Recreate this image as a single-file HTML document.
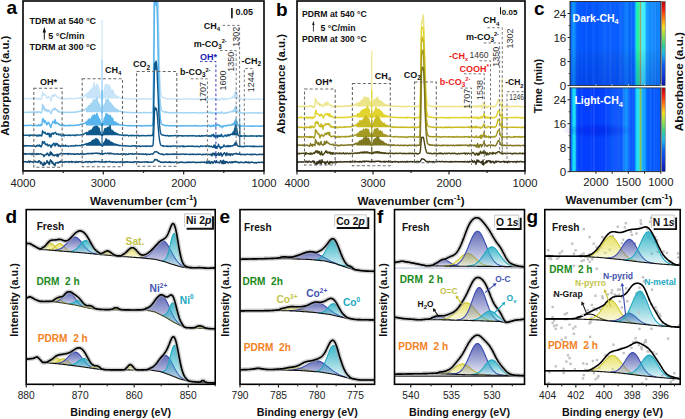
<!DOCTYPE html>
<html><head><meta charset="utf-8"><title>Figure</title>
<style>html,body{margin:0;padding:0;background:#fff;}body{width:685px;height:419px;overflow:hidden;}svg{display:block;}</style>
</head><body>
<svg width="685" height="419" viewBox="0 0 685 419" font-family="'Liberation Sans', sans-serif">
<rect width="685" height="419" fill="#fff"/>
<clipPath id="ca"><rect x="23" y="1" width="241" height="169.9"/></clipPath>
<g clip-path="url(#ca)">
<path d="M86 94.6l.5 0 .5-1.1 .5 .2 .5-1.2 .5 1.6 .5-1.5 .5 .2 .5-3 .5 .1 .5 .8 .5-.4 .5-2 .5 1.1 .5-.3 .5-2.7 .5-4 .5 4.3 .5-.1 .5 1.1 .5 .2 .5-3.4 .5-.4 .5 1.9 .5 0 .5 1.2 .5 1.5 .5 3.8 .5 .6 .5 1 .5 2.7 .5 1.6 .5 .3 .5 0 .5-2.2 .5-2 .5-2.3 .5-3.3 .5-1.4 .5-3 .5 5.8 .5-5.9 .5 2.5 .5-.9 .5-1.1 .5 .2 .5 .5 .5 2.2 .5-1.3 .5 3.6 .5 .2 .5-.3 .5 2 .5-2 .5 2 .5-.4 .5 2.4 .5 .7 .5 .3 .5 .2 .5 .5 .5 .4 .5 .2 .5-.2 .5 .9 .5-.1 .5 .4 L119.0 98.6 L86.0 98.6 Z" fill="#c8e4f8" stroke="none"/>
<path d="M232 97.6l.5-.8 .5-.5 .5-.6 .5-.8 .5-.8 .5-.9 .5-1.6 .5-1.4 .5 1.6 .5 2.6 .5 2.8 .5 .9 .5 .9 .5 0 .5 .1 .5-.1 .5 .4 .5-.2 .5 .4 .5-.5 L242.0 98.6 L232.0 98.6 Z" fill="#c8e4f8" stroke="none"/>
<path d="M23 98.5l.5 .3 .5-.1 .5 .1 .5-.4 .5 .3 .5-.3 .5 .3 .5-.1 .5-.2 .5 .2 .5 .2 .5-.1 .5 0 .5-.2 .5 0 .5-.1 .5 .3 .5 .2 .5-.2 .5-.1 .5-.2 .5 .3 .5-.1 .5-.5 .5 0 .5 .4 .5-.1 .5 .8 .5-.5 .5-.4 .5 .2 .5 .8 .5-1 .5 .7 .5-.2 .5 .5 .5-.6 .5-1.4 .5-5.4 .5 1.5 .5 1.8 .5-1.2 .5 .9 .5 0 .5 .7 .5-.3 .5 2 .5 .9 .5-.3 .5-.5 .5-.9 .5 .3 .5 .9 .5 .7 .5 1.5 .5 1 .5-2.3 .5-3.5 .5 1.6 .5-1.1 .5 .8 .5-2 .5 1.6 .5-1 .5 .2 .5-.2 .5 1.3 .5 .4 .5 .5 .5 .3 .5 .2 .5-.3 .5 .5 .5 .8 .5-.3 .5 .3 .5-.4 .5 .1 .5 .2 .5 .1 .5-.1 .5 .1 .5 .2 .5 .1 .5-.3 .5 .1 .5 .1 .5-.4 .5-.1 .5 .6 .5-.1 .5-.2 .5 0 .5-.2 .5-.1 .5 .3 .5-.4 .5 .4 .5-.2 .5 .1 .5 .2 .5 0 .5-.4 .5 .2 .5-.4 .5 .1 .5 0 .5 .1 .5-.5 .5 .1 .5-.1 .5 .1 .5-.1 .5 .1 .5-.5 .5 .5 .5-.8 .5-.4 .5 .7 .5-.2 .5-.3 .5-.5 .5-.7 .5-.9 .5 .6 .5-.9 .5 0 .5-1.1 .5 .2 .5-1.2 .5 1.6 .5-1.5 .5 .2 .5-3 .5 .1 .5 .8 .5-.4 .5-2 .5 1.1 .5-.3 .5-2.7 .5-4 .5 4.3 .5-.1 .5 1.1 .5 .2 .5-3.4 .5-.4 .5 1.9 .5 0 .5 1.2 .5 1.5 .5 3.8 .5 .6 .5 1 .5 2.7 .5 1.6 .5 .3 .5 0 .5-2.2 .5-2 .5-2.3 .5-3.3 .5-1.4 .5-3 .5 5.8 .5-5.9 .5 2.5 .5-.9 .5-1.1 .5 .2 .5 .5 .5 2.2 .5-1.3 .5 3.6 .5 .2 .5-.3 .5 2 .5-2 .5 2 .5-.4 .5 2.4 .5 .7 .5 .3 .5 .2 .5 .5 .5 .4 .5 .2 .5-.2 .5 .9 .5-.1 .5 .4 .5 .3 .5 0 .5 .4 .5 0 .5 0 .5 .2 .5-.1 .5-.2 .5 .5 .5 .1 .5 .1 .5 .2 .5-.2 .5 .1 .5-.4 .5 .5 .5-.1 .5 0 .5 .2 .5-.3 .5 .1 .5 .4 .5-.2 .5 .1 .5 0 .5 0 .5-.1 .5 .3 .5-.3 .5 .1 .5-.1 .5 0 .5-.3 .5 0 .5 .5 .5 0 .5-.2 .5 0 .5 .1 .5-.2 .5 .4 .5-.4 .5 0 .5-.2 .5 .6 .5-.2 .5 .2 .5-.4 .5 .2 .5 0 .5 0 .5 .2 .5 .1 .5-.1 .5-.3 .5 .2 .5 .1 .5-.2 .5 0 .5 0 .5-.2 .5 .2 .5 .2 .5-.4 .5 .2 .5 .1 .5-.8 .5-4.7 .5-30.5 .5-70.5 .5-70.7 .5-11 .5-4.2 .5 6.5 .5 6.7 .5 4.4 .5 30.8 .5 35 .5 31.5 .5 27 .5 20.2 .5 13.2 .5 8.5 .5 3.3 .5 2.3 .5 .7 .5 .6 .5 .3 .5 .1 .5 .4 .5 .1 .5-.1 .5 .3 .5 .1 .5 0 .5 .1 .5 .4 .5-.3 .5 .1 .5-.1 .5 .3 .5-.2 .5-.1 .5 0 .5 .2 .5 .1 .5-.3 .5 .1 .5 .2 .5 .1 .5-.4 .5 .2 .5 .1 .5-.1 .5 0 .5 0 .5-.1 .5 .2 .5 0 .5-.2 .5 .2 .5 .1 .5-.1 .5 .1 .5-.2 .5 .3 .5-.3 .5 .3 .5-.3 .5 0 .5-.1 .5 .1 .5 0 .5 0 .5 0 .5 .2 .5 0 .5-.2 .5 .3 .5-.4 .5 0 .5 0 .5 .3 .5-.3 .5 0 .5 .4 .5 0 .5 0 .5-.4 .5 .2 .5 .1 .5-.1 .5-.2 .5 .2 .5-.2 .5 0 .5 .5 .5-.2 .5-.3 .5 0 .5 .3 .5-.2 .5 .2 .5-.2 .5 .1 .5 .1 .5-.3 .5-.1 .5 .1 .5 .1 .5 .1 .5 0 .5 0 .5 .2 .5-.4 .5 .6 .5 .2 .5-.5 .5 0 .5 .3 .5-.1 .5-.2 .5-.1 .5-.3 .5-.2 .5 .8 .5 .3 .5-1.1 .5 .5 .5 .2 .5-.4 .5-.2 .5 .2 .5-.9 .5 1.1 .5-.1 .5 1.5 .5-.8 .5-.8 .5 .2 .5 1.1 .5 0 .5-.9 .5-.2 .5-.8 .5 .6 .5 .1 .5-.3 .5 1.4 .5-2 .5 .9 .5 .3 .5 0 .5 .5 .5-1.4 .5 .3 .5 .2 .5 0 .5-.3 .5-.2 .5 .5 .5-.8 .5 0 .5 .3 .5-.2 .5-.6 .5-.8 .5-.5 .5-.6 .5-.8 .5-.8 .5-.9 .5-1.6 .5-1.4 .5 1.6 .5 2.6 .5 2.8 .5 .9 .5 .9 .5 0 .5 .1 .5-.1 .5 .4 .5-.2 .5 .4 .5-.5 .5 0 .5 .2 .5 0 .5-.1 .5-.2 .5 .4 .5-.1 .5 0 .5-.1 .5 .1 .5-.1 .5 .1 .5-.1 .5 .2 .5-.2 .5 0 .5 .2 .5-.1 .5 0 .5-.1 .5 .2 .5-.2 .5 .1 .5 .2 .5-.2 .5-.1 .5-.1 .5 .2 .5-.2 .5-.1 .5 .2 .5-.1 .5 .3 .5-.3 .5 .4 .5-.3 .5 .1 .5 .1 .5-.1 .5 .1 .5-.3 .5-.1 .5 .3 .5-.2" fill="none" stroke="#c8e4f8" stroke-width="1.4" stroke-linejoin="round"/>
<line x1="102.05" y1="98.60" x2="102.05" y2="20.00" stroke="#c8e4f8" stroke-width="1.1"/>
<line x1="239.74" y1="99.60" x2="239.74" y2="95.60" stroke="#c8e4f8" stroke-width="1.1"/>
<path d="M86 108.9l.5 .4 .5-1.7 .5 .2 .5 .3 .5-2.4 .5 2.1 .5-2.1 .5 .4 .5-1.5 .5-1 .5 1 .5-1.4 .5-.6 .5 .7 .5-3.8 .5 .8 .5 .3 .5 .3 .5-.9 .5-.7 .5 .8 .5-2.7 .5 7.1 .5-.1 .5-2.3 .5 3.5 .5-1 .5 2.3 .5 1.3 .5 1.9 .5 2 .5 .7 .5-.5 .5-2 .5-2.5 .5-2.3 .5-.5 .5-1.1 .5-.6 .5-3.5 .5 4.6 .5-4.4 .5 1.5 .5-2.3 .5 1 .5 2.5 .5-.5 .5 3.6 .5-2.9 .5 .6 .5 3.4 .5-2.3 .5 1.8 .5-.1 .5 1.7 .5-.7 .5 .7 .5 .5 .5 1 .5-.5 .5 0 .5 .8 .5-.1 .5 1.1 .5 0 .5 .3 L119.0 112.3 L86.0 112.3 Z" fill="#a2d4f4" stroke="none"/>
<path d="M232 111.7l.5-.3 .5-.5 .5-.6 .5-.2 .5-1 .5-1 .5-1 .5-1.2 .5 1.4 .5 2.1 .5 1.9 .5 1 .5 .4 .5 .3 .5 .1 .5-.3 .5 0 .5 0 .5 .3 .5-.2 L242.0 112.3 L232.0 112.3 Z" fill="#a2d4f4" stroke="none"/>
<path d="M23 112.5l.5-.2 .5 0 .5 .3 .5-.1 .5-.2 .5 0 .5-.2 .5 .2 .5 .3 .5-.5 .5 0 .5 .3 .5-.5 .5 .7 .5-.6 .5 .2 .5 .1 .5 .3 .5-.2 .5-.5 .5 0 .5 .5 .5-.7 .5 .6 .5-.2 .5 .5 .5 .2 .5-1.4 .5 1.1 .5 .1 .5-.6 .5 .1 .5-.3 .5 .4 .5 .3 .5 .5 .5-.2 .5-1.9 .5-6.8 .5 5 .5-3.5 .5 1.5 .5 1.9 .5 1.7 .5-1.8 .5 1.1 .5-.4 .5 2.1 .5-.4 .5-1.3 .5 1.2 .5-.7 .5 .3 .5 1.4 .5 1.1 .5 .3 .5-1.1 .5-2.5 .5 .5 .5-.9 .5-.6 .5-.4 .5 1.2 .5-1.8 .5 1.3 .5 .5 .5-.4 .5 .9 .5-.4 .5 1.4 .5 .8 .5-.9 .5 .7 .5 0 .5 .2 .5 .5 .5-.7 .5-.4 .5 .7 .5-.4 .5 1.1 .5-.7 .5 .1 .5 .2 .5-.1 .5-.1 .5 .1 .5 .2 .5-.3 .5 .4 .5-.3 .5-.5 .5 .6 .5-.5 .5 .4 .5 .3 .5-.2 .5-.4 .5 0 .5 .2 .5 .2 .5-.4 .5 .2 .5-.1 .5-.2 .5-.1 .5 .2 .5-.4 .5-.1 .5 .3 .5-.1 .5-.4 .5-.1 .5-.1 .5 .2 .5-.2 .5 0 .5-.3 .5-.4 .5 0 .5-.3 .5-.4 .5 .4 .5-.5 .5-.5 .5-.3 .5 .4 .5-1.7 .5 .2 .5 .3 .5-2.4 .5 2.1 .5-2.1 .5 .4 .5-1.5 .5-1 .5 1 .5-1.4 .5-.6 .5 .7 .5-3.8 .5 .8 .5 .3 .5 .3 .5-.9 .5-.7 .5 .8 .5-2.7 .5 7.1 .5-.1 .5-2.3 .5 3.5 .5-1 .5 2.3 .5 1.3 .5 1.9 .5 2 .5 .7 .5-.5 .5-2 .5-2.5 .5-2.3 .5-.5 .5-1.1 .5-.6 .5-3.5 .5 4.6 .5-4.4 .5 1.5 .5-2.3 .5 1 .5 2.5 .5-.5 .5 3.6 .5-2.9 .5 .6 .5 3.4 .5-2.3 .5 1.8 .5-.1 .5 1.7 .5-.7 .5 .7 .5 .5 .5 1 .5-.5 .5 0 .5 .8 .5-.1 .5 1.1 .5 0 .5 .3 .5-.1 .5-.2 .5 .4 .5 .3 .5 .3 .5 .6 .5-.6 .5 .1 .5 .4 .5-.2 .5 .3 .5-.2 .5 .1 .5 .1 .5-.1 .5-.1 .5 .4 .5-.2 .5 0 .5 0 .5 .2 .5-.2 .5 .2 .5 .1 .5-.2 .5 .2 .5-.3 .5 .3 .5 0 .5 .2 .5-.3 .5 .1 .5-.1 .5-.1 .5 0 .5 0 .5 .2 .5-.2 .5 .1 .5 .2 .5 0 .5 0 .5 .1 .5-.4 .5 .1 .5 .1 .5 .1 .5-.1 .5-.2 .5 .1 .5-.2 .5 .4 .5-.4 .5 .3 .5 .1 .5 0 .5-.4 .5 .3 .5-.1 .5 0 .5 .3 .5-.2 .5-.2 .5 0 .5 .3 .5-.1 .5-.6 .5-4.7 .5-25.9 .5-71 .5-67.3 .5-5.3 .5 8 .5 .7 .5-4.2 .5 15.1 .5 20.4 .5 31.5 .5 28.6 .5 27.8 .5 17.8 .5 13.8 .5 6.8 .5 4.1 .5 1.5 .5 .8 .5 .2 .5 .8 .5 .2 .5-.1 .5 .5 .5-.5 .5 .5 .5-.2 .5 .8 .5-.8 .5 .3 .5 .1 .5 .3 .5 0 .5 0 .5-.1 .5 .4 .5-.5 .5 .2 .5 .2 .5-.4 .5 .1 .5 .3 .5-.1 .5-.3 .5 .2 .5 .3 .5-.3 .5 .1 .5-.1 .5-.1 .5 .4 .5-.1 .5 0 .5-.2 .5 .1 .5 0 .5 0 .5-.1 .5 0 .5 .2 .5-.3 .5 .1 .5 0 .5 0 .5-.1 .5 0 .5 .3 .5-.2 .5-.1 .5 .4 .5-.4 .5 .3 .5-.1 .5-.2 .5 .1 .5 0 .5 .3 .5-.1 .5-.2 .5-.1 .5-.1 .5 .3 .5-.2 .5 .2 .5 0 .5 0 .5 .1 .5-.1 .5 .1 .5-.1 .5 .2 .5-.1 .5 .2 .5-.1 .5-.3 .5-.2 .5 .4 .5 .1 .5-.3 .5 .4 .5-.3 .5 0 .5 .1 .5-.4 .5-.1 .5 .3 .5-.2 .5 .3 .5 0 .5-.8 .5 .5 .5 .5 .5-1 .5 .7 .5-.4 .5-.3 .5 1.3 .5 0 .5-.7 .5-.1 .5 1 .5-.1 .5-.6 .5 .5 .5-.5 .5-.2 .5 .6 .5-.7 .5 .7 .5-.6 .5-.1 .5-.1 .5 .7 .5 .3 .5-.3 .5-.9 .5 1 .5-1 .5-.2 .5 .6 .5 .7 .5-.1 .5-.1 .5 .4 .5-.3 .5-.7 .5 .6 .5-.5 .5 .2 .5 .1 .5-.3 .5-.6 .5 .4 .5-.1 .5-.1 .5-.2 .5-.4 .5-.3 .5 .4 .5-.3 .5-.5 .5-.6 .5-.2 .5-1 .5-1 .5-1 .5-1.2 .5 1.4 .5 2.1 .5 1.9 .5 1 .5 .4 .5 .3 .5 .1 .5-.3 .5 0 .5 0 .5 .3 .5-.2 .5 .2 .5-.3 .5 .3 .5-.3 .5 .1 .5 .1 .5-.1 .5 0 .5 .2 .5-.2 .5 .2 .5 .2 .5-.4 .5 0 .5-.2 .5 .1 .5 .2 .5 0 .5 0 .5 0 .5-.2 .5-.1 .5 .4 .5-.1 .5 .1 .5-.1 .5 .1 .5-.2 .5 .1 .5-.1 .5 .1 .5 .2 .5-.1 .5-.6 .5 .5 .5 0 .5 .1 .5-.1 .5-.1 .5 0 .5 0 .5 0 .5 .3 .5-.1" fill="none" stroke="#a2d4f4" stroke-width="1.4" stroke-linejoin="round"/>
<line x1="102.05" y1="112.30" x2="102.05" y2="60.00" stroke="#a2d4f4" stroke-width="1.1"/>
<line x1="239.74" y1="113.30" x2="239.74" y2="104.30" stroke="#a2d4f4" stroke-width="1.1"/>
<path d="M86 122.1l.5 .5 .5-1 .5-.1 .5-1.5 .5 .6 .5-1 .5-.9 .5 1.4 .5-.8 .5 .3 .5-.9 .5-2 .5 .3 .5-1.6 .5 .7 .5 0 .5-1.3 .5 .9 .5 .2 .5 .6 .5-2.4 .5-.6 .5 2.9 .5-.3 .5 3.1 .5-.4 .5-.1 .5 2.8 .5 .3 .5 2.2 .5 1.3 .5 .3 .5 0 .5-1.7 .5-2.3 .5-1.2 .5-2.4 .5-.5 .5-1 .5-3 .5 1.4 .5 1.3 .5-2 .5 1 .5 1 .5-1 .5 5 .5-3.6 .5-.9 .5 2.4 .5 2.4 .5-2.5 .5 .2 .5 1.7 .5 1.9 .5 0 .5 .4 .5-.1 .5-.1 .5 .4 .5 1.7 .5-.5 .5 .1 .5-.3 .5 1.1 .5 .2 L119.0 125.4 L86.0 125.4 Z" fill="#58b4ec" stroke="none"/>
<path d="M232 124l.5 .2 .5-.1 .5-.7 .5-.5 .5-.8 .5-1 .5-1 .5-1 .5 1.3 .5 1.9 .5 1.9 .5 .7 .5 1 .5-.1 .5 .1 .5 .3 .5-.2 .5 .1 .5-.2 .5 .2 L242.0 125.4 L232.0 125.4 Z" fill="#58b4ec" stroke="none"/>
<path d="M23 125.5l.5-.1 .5 .1 .5-.1 .5 .1 .5-.2 .5 .2 .5 .1 .5-.2 .5 .1 .5-.2 .5 .3 .5-.2 .5-.1 .5 .1 .5-.1 .5 .1 .5-.1 .5 .6 .5-.2 .5-.1 .5 0 .5-.2 .5 .3 .5-.3 .5 0 .5-.2 .5 .7 .5 0 .5 0 .5 0 .5-1.5 .5 1.1 .5 .4 .5-.2 .5-1.1 .5 1 .5-.1 .5-1.8 .5-4.7 .5 1.5 .5-1.7 .5 3.3 .5 .6 .5-1.9 .5 1 .5 .3 .5 2.6 .5-.5 .5 .2 .5-2.2 .5 .2 .5 .3 .5 1.8 .5 .9 .5 1.7 .5 .3 .5-3.1 .5-.2 .5-1.5 .5-1.4 .5 .8 .5 .7 .5 .5 .5-3.7 .5 2 .5 2.3 .5-1.1 .5-.2 .5 .4 .5 .5 .5 1.1 .5-.7 .5 1.3 .5 0 .5-.1 .5 .4 .5-.2 .5 .7 .5-.4 .5-.6 .5 .3 .5 .8 .5-.7 .5 .3 .5-.3 .5 .5 .5-.1 .5 0 .5-.3 .5 0 .5 .4 .5-.4 .5-.4 .5 .8 .5-.2 .5-.4 .5 .2 .5 .1 .5-.1 .5 .3 .5-.1 .5-.4 .5 0 .5 .2 .5 0 .5-.3 .5 .2 .5-.3 .5 .2 .5-.5 .5 .3 .5 .1 .5-.1 .5-.5 .5-.6 .5 .5 .5-.1 .5 0 .5-.5 .5-.2 .5 .3 .5-.6 .5 .1 .5-.1 .5-.2 .5-1 .5 .5 .5-1 .5-.1 .5-1.5 .5 .6 .5-1 .5-.9 .5 1.4 .5-.8 .5 .3 .5-.9 .5-2 .5 .3 .5-1.6 .5 .7 .5 0 .5-1.3 .5 .9 .5 .2 .5 .6 .5-2.4 .5-.6 .5 2.9 .5-.3 .5 3.1 .5-.4 .5-.1 .5 2.8 .5 .3 .5 2.2 .5 1.3 .5 .3 .5 0 .5-1.7 .5-2.3 .5-1.2 .5-2.4 .5-.5 .5-1 .5-3 .5 1.4 .5 1.3 .5-2 .5 1 .5 1 .5-1 .5 5 .5-3.6 .5-.9 .5 2.4 .5 2.4 .5-2.5 .5 .2 .5 1.7 .5 1.9 .5 0 .5 .4 .5-.1 .5-.1 .5 .4 .5 1.7 .5-.5 .5 .1 .5-.3 .5 1.1 .5 .2 .5 0 .5-.1 .5 .4 .5-.1 .5 0 .5 .3 .5-.1 .5 .4 .5-.4 .5 .1 .5 .2 .5 0 .5 0 .5 .1 .5 .3 .5-.3 .5 .3 .5 0 .5-.1 .5-.1 .5 .3 .5-.7 .5 .4 .5 .1 .5 .1 .5-.1 .5 .2 .5-.1 .5 .1 .5-.3 .5 .2 .5 .2 .5-.4 .5 .2 .5-.3 .5 .3 .5-.2 .5 .3 .5-.3 .5 .2 .5-.2 .5 .2 .5 0 .5 .3 .5-.3 .5 0 .5 .3 .5-.2 .5-.3 .5 .3 .5-.1 .5 .1 .5 0 .5-.4 .5 .2 .5 .4 .5-.2 .5-.3 .5 .1 .5 0 .5-.1 .5-.4 .5 .7 .5-.3 .5 .1 .5-.1 .5-.2 .5-3.4 .5-21 .5-53.3 .5-42.6 .5-7.5 .5 7.7 .5-12 .5 5 .5 8.9 .5 15.4 .5 28.5 .5 18.2 .5 21.5 .5 14.7 .5 8.3 .5 5.7 .5 3.2 .5 .9 .5 .7 .5 .3 .5 .4 .5-.1 .5 .4 .5-.1 .5 .5 .5-.3 .5 .1 .5 .2 .5 0 .5-.3 .5 .3 .5 .1 .5 0 .5-.1 .5 .3 .5 0 .5-.3 .5-.1 .5 .2 .5 .1 .5 .1 .5-.4 .5 .1 .5-.2 .5 .2 .5 .3 .5 .2 .5-.2 .5-.2 .5 0 .5 .4 .5-.1 .5-.2 .5-.1 .5-.1 .5 .2 .5 .3 .5-.4 .5 0 .5 .1 .5-.1 .5 .2 .5-.3 .5 .2 .5-.1 .5 .2 .5-.1 .5-.1 .5 0 .5 .1 .5 .2 .5-.1 .5-.1 .5-.2 .5-.1 .5 0 .5 .2 .5 .2 .5-.1 .5 .2 .5-.4 .5 .2 .5-.1 .5-.1 .5-.2 .5 .3 .5 .3 .5-.5 .5 .4 .5 .1 .5-.2 .5 .1 .5-.1 .5 0 .5 .3 .5-.1 .5 0 .5-.1 .5-.1 .5 .1 .5-.4 .5 .1 .5 .2 .5-.4 .5 .4 .5 0 .5 0 .5 0 .5-.2 .5 .9 .5-1.4 .5 .4 .5-.4 .5 .8 .5 .3 .5 .4 .5-1.2 .5 .7 .5-.8 .5 .5 .5 .4 .5-1.3 .5 .8 .5-.3 .5 .6 .5 .4 .5-1.7 .5 1 .5-.9 .5-.7 .5 .9 .5 .3 .5-.4 .5 0 .5 1.9 .5-.9 .5 .7 .5 .2 .5-.9 .5 1.7 .5-1.5 .5-.2 .5-.6 .5 .3 .5 .4 .5-.2 .5 .1 .5 0 .5-.9 .5 .3 .5 .1 .5-.1 .5-.4 .5 .4 .5-.3 .5 .5 .5-.8 .5 .1 .5-.9 .5 .2 .5-.1 .5-.7 .5-.5 .5-.8 .5-1 .5-1 .5-1 .5 1.3 .5 1.9 .5 1.9 .5 .7 .5 1 .5-.1 .5 .1 .5 .3 .5-.2 .5 .1 .5-.2 .5 .2 .5-.1 .5 .1 .5-.1 .5 .3 .5-.5 .5 .3 .5 0 .5 .1 .5-.1 .5-.1 .5 .1 .5 .2 .5-.1 .5-.2 .5 .1 .5-.1 .5 .3 .5-.3 .5 .3 .5 0 .5-.3 .5 .4 .5-.4 .5 0 .5 .2 .5-.2 .5 .1 .5-.2 .5 .1 .5 .1 .5-.2 .5 .3 .5 0 .5-.1 .5 .1 .5 0 .5-.2 .5 .2 .5-.1 .5-.1 .5 .2 .5-.3 .5-.3 .5 .6" fill="none" stroke="#58b4ec" stroke-width="1.4" stroke-linejoin="round"/>
<line x1="102.05" y1="125.40" x2="102.05" y2="90.00" stroke="#58b4ec" stroke-width="1.1"/>
<line x1="239.74" y1="126.40" x2="239.74" y2="117.40" stroke="#58b4ec" stroke-width="1.1"/>
<path d="M86 133.1l.5-.7 .5 1.1 .5-.8 .5-.4 .5 1.2 .5-2.3 .5-.3 .5-.2 .5 .2 .5-.7 .5 1 .5-1.5 .5-.4 .5-1.4 .5-.1 .5-.9 .5-.1 .5 2.5 .5-1.4 .5-1.9 .5 1.5 .5-.4 .5-.7 .5 2.2 .5-.2 .5-.5 .5 2.6 .5 1.2 .5 1 .5 1.4 .5 1.3 .5 0 .5 .1 .5-1.2 .5-2 .5-.4 .5-1.9 .5-1.4 .5-.2 .5 1 .5 1 .5-2.1 .5-1 .5 1.7 .5-.7 .5-1.3 .5 2.7 .5-4.3 .5 3.6 .5 1.7 .5-.4 .5 .6 .5-.4 .5 1.8 .5-.6 .5 1.1 .5 0 .5-.3 .5 .5 .5 .1 .5 .5 .5 0 .5 .8 .5-.4 .5 .5 .5 .2 L119.0 135.3 L86.0 135.3 Z" fill="#0e5a8c" stroke="none"/>
<path d="M232 133.7l.5-.2 .5-1.3 .5 0 .5-1.2 .5-.7 .5-2.3 .5-2 .5-1 .5 1.6 .5 3.7 .5 2.5 .5 2.3 .5 .6 .5 .3 .5-.1 .5-.2 .5 .5 .5 0 .5 .1 .5-.5 L242.0 135.3 L232.0 135.3 Z" fill="#0e5a8c" stroke="none"/>
<path d="M23 135.1l.5-.3 .5 .6 .5 0 .5 0 .5 0 .5-.2 .5 .2 .5-.3 .5 0 .5 .1 .5 .4 .5-.6 .5 1.1 .5-1 .5-.2 .5 .5 .5-.3 .5 .4 .5 .1 .5-.6 .5 .5 .5-.4 .5 .3 .5-.3 .5 .2 .5 .1 .5 .5 .5-.8 .5 .6 .5 .4 .5-1.2 .5 1 .5-.8 .5 .4 .5 .1 .5-.5 .5 1 .5-.7 .5-4.7 .5 1 .5 .4 .5 1 .5-.3 .5-.7 .5 1.3 .5 .6 .5 .1 .5 .3 .5-1.2 .5 1.3 .5-.9 .5-.4 .5 3.6 .5-2.7 .5 .5 .5 2.2 .5-3.3 .5 .2 .5-.6 .5-.1 .5 1.4 .5-.7 .5-.7 .5-.2 .5-.5 .5 1 .5 1.1 .5-.6 .5 .4 .5 .3 .5-.4 .5 1 .5-.5 .5-.5 .5 .2 .5 1.1 .5 .6 .5-.5 .5 .2 .5-.8 .5-.6 .5 1.7 .5-.3 .5-.8 .5 .5 .5 0 .5-.1 .5-.2 .5 .4 .5 0 .5-.5 .5 .4 .5-.4 .5 .5 .5-.2 .5 .2 .5-.1 .5-.4 .5 0 .5 .3 .5 .1 .5 .1 .5-.5 .5 .2 .5 .5 .5-.5 .5-.3 .5-.2 .5 .4 .5 0 .5-.2 .5 .2 .5 0 .5-.1 .5-.2 .5 0 .5-.2 .5 0 .5-.6 .5 .8 .5-.3 .5-.6 .5-.2 .5-.4 .5-.1 .5-.1 .5-.7 .5 1.1 .5-.8 .5-.4 .5 1.2 .5-2.3 .5-.3 .5-.2 .5 .2 .5-.7 .5 1 .5-1.5 .5-.4 .5-1.4 .5-.1 .5-.9 .5-.1 .5 2.5 .5-1.4 .5-1.9 .5 1.5 .5-.4 .5-.7 .5 2.2 .5-.2 .5-.5 .5 2.6 .5 1.2 .5 1 .5 1.4 .5 1.3 .5 0 .5 .1 .5-1.2 .5-2 .5-.4 .5-1.9 .5-1.4 .5-.2 .5 1 .5 1 .5-2.1 .5-1 .5 1.7 .5-.7 .5-1.3 .5 2.7 .5-4.3 .5 3.6 .5 1.7 .5-.4 .5 .6 .5-.4 .5 1.8 .5-.6 .5 1.1 .5 0 .5-.3 .5 .5 .5 .1 .5 .5 .5 0 .5 .8 .5-.4 .5 .5 .5 .2 .5 .3 .5-.2 .5 .1 .5 .1 .5 .3 .5-.1 .5-.2 .5 .3 .5 0 .5 .4 .5-.5 .5-.2 .5 .7 .5-.5 .5-.1 .5 .2 .5 0 .5 .1 .5 .5 .5-.4 .5 .2 .5-.1 .5-.2 .5-.2 .5 .7 .5-.4 .5-.1 .5 .3 .5-.3 .5 .1 .5 .3 .5-.3 .5 .1 .5-.1 .5 .4 .5-.6 .5-.2 .5 .5 .5-.1 .5 .7 .5-.6 .5 0 .5 .2 .5-.1 .5 0 .5-.3 .5 .2 .5 .3 .5-.5 .5 .2 .5 .1 .5 .1 .5-.2 .5 .2 .5 0 .5-.1 .5-.2 .5 .2 .5-.2 .5 0 .5 .4 .5-.2 .5-.3 .5-.1 .5 .2 .5 .2 .5-.1 .5-2.1 .5-10.7 .5-30.2 .5-28.1 .5-1.9 .5 6.9 .5-8.5 .5 2.1 .5 5.6 .5 12.9 .5 11.6 .5 12.1 .5 10.6 .5 8.1 .5 5.3 .5 3.4 .5 1.2 .5 .7 .5 .1 .5 .3 .5 .3 .5 0 .5-.1 .5 .3 .5 0 .5 .2 .5 0 .5 .1 .5-.4 .5 .1 .5 .3 .5 .4 .5-.4 .5 0 .5-.2 .5 .5 .5-.3 .5-.1 .5 .1 .5-.1 .5 .2 .5-.1 .5-.1 .5-.2 .5 .1 .5 .1 .5-.4 .5 .3 .5 .2 .5 0 .5 .4 .5-.8 .5 .3 .5 0 .5 .1 .5-.1 .5-.1 .5 .2 .5-.1 .5 .5 .5-.5 .5 .2 .5 .1 .5-.1 .5-.2 .5 .1 .5-.1 .5-.1 .5 .2 .5 .3 .5 0 .5-.5 .5 .4 .5-.2 .5 0 .5-.1 .5 .3 .5-.4 .5 0 .5 .4 .5-.5 .5 .2 .5 .2 .5-.1 .5 0 .5 .4 .5-.1 .5-.2 .5 .1 .5-.2 .5 0 .5 .3 .5 0 .5-.5 .5 .6 .5 .1 .5-.2 .5-.5 .5 .4 .5-.3 .5 .5 .5-.3 .5-.1 .5-.2 .5 .2 .5 .1 .5-.5 .5 .3 .5-.2 .5 .8 .5-.4 .5-.2 .5 .7 .5-.5 .5-.1 .5-.1 .5 .9 .5-.6 .5-1.2 .5 .7 .5 .2 .5-1.5 .5 2.4 .5 .3 .5-1.7 .5 1.6 .5-.5 .5-.2 .5-.9 .5 2.3 .5-1.3 .5-.9 .5 1.3 .5-.6 .5-.8 .5 1.3 .5-.3 .5-1.9 .5 1.6 .5 .3 .5 .4 .5 .1 .5-.7 .5 0 .5-1 .5 .7 .5-.4 .5 .9 .5 .1 .5-1 .5-.9 .5 1.2 .5 .2 .5-.8 .5-.6 .5 .6 .5-.8 .5 0 .5-.5 .5-.2 .5-1.3 .5 0 .5-1.2 .5-.7 .5-2.3 .5-2 .5-1 .5 1.6 .5 3.7 .5 2.5 .5 2.3 .5 .6 .5 .3 .5-.1 .5-.2 .5 .5 .5 0 .5 .1 .5-.5 .5 .2 .5 .1 .5-.3 .5 .2 .5 0 .5 .1 .5-.5 .5 .7 .5-.3 .5 0 .5-.1 .5 .3 .5-.1 .5-.1 .5 .2 .5-.3 .5 .2 .5-.3 .5 .1 .5 .4 .5-.4 .5-.1 .5 .2 .5 0 .5 .1 .5-.1 .5 0 .5 0 .5 .5 .5-.8 .5 .4 .5 .1 .5-.4 .5 .3 .5 0 .5-.6 .5 .9 .5-.2 .5-.1 .5-.2 .5 .1 .5-.1 .5 0 .5 .3" fill="none" stroke="#0e5a8c" stroke-width="1.4" stroke-linejoin="round"/>
<line x1="102.05" y1="135.30" x2="102.05" y2="123.00" stroke="#0e5a8c" stroke-width="1.1"/>
<line x1="239.74" y1="136.30" x2="239.74" y2="127.30" stroke="#0e5a8c" stroke-width="1.1"/>
<path d="M86 143.6l.5 .1 .5 .1 .5 0 .5-.3 .5-.5 .5 .8 .5-1.1 .5-.1 .5 .3 .5 0 .5-1.6 .5 1 .5-1.9 .5 .2 .5-.5 .5 .6 .5 0 .5-1.1 .5-.6 .5-.4 .5 3.3 .5-2.7 .5-.1 .5 1.6 .5-.3 .5 1.5 .5 .4 .5 1.2 .5 .5 .5 .3 .5 1.3 .5 .2 .5 .5 .5-1.3 .5-1.4 .5-.9 .5-.3 .5-1.4 .5 .5 .5-2.8 .5 .7 .5 .8 .5 .1 .5 .6 .5-.7 .5 .7 .5 0 .5 1 .5 .7 .5-.5 .5 .3 .5 .3 .5 1.1 .5-.8 .5 .6 .5 .3 .5 .1 .5 .1 .5 .1 .5 .2 .5 0 .5 .7 .5-.1 .5-.2 .5 .5 .5 .2 L119.0 145.8 L86.0 145.8 Z" fill="#0f5588" stroke="none"/>
<path d="M232 145.9l.5-.4 .5 .4 .5-.7 .5-.3 .5-.6 .5-1.1 .5-.7 .5-.1 .5 .8 .5 1.6 .5 .9 .5 .3 .5 .4 .5 .1 .5 .1 .5-.1 .5-.2 .5 .3 .5 0 .5-.2 L242.0 145.8 L232.0 145.8 Z" fill="#0f5588" stroke="none"/>
<path d="M23 146l.5-.3 .5 .3 .5 .1 .5-.6 .5 .5 .5 .1 .5-.6 .5 .4 .5 .1 .5-.3 .5 .2 .5-.3 .5 .3 .5-.3 .5 .5 .5-.2 .5 0 .5 .3 .5-.2 .5-.4 .5 .2 .5-.2 .5 .5 .5 .3 .5 .4 .5-.5 .5-.8 .5 .8 .5-.9 .5-.3 .5 .2 .5 .8 .5-1.2 .5 1.4 .5-.5 .5 1.3 .5-1.3 .5-.7 .5-3.7 .5 .6 .5 1.1 .5-.4 .5-1 .5 2.1 .5 .8 .5-.6 .5 .7 .5 .1 .5-.7 .5 2 .5-.6 .5-.4 .5-.2 .5 .3 .5 1.3 .5 1 .5-1.8 .5-.7 .5 .7 .5-1.5 .5-1 .5 .8 .5-.3 .5 2.3 .5-.4 .5-2.5 .5 .6 .5 1.1 .5-1 .5 .8 .5 1.6 .5-1.1 .5 .2 .5 1 .5 .3 .5-1 .5 .2 .5 .2 .5 .2 .5-1.1 .5 .9 .5-.2 .5 .2 .5 .1 .5-1 .5 1.1 .5-.3 .5-.1 .5 .3 .5 0 .5 .4 .5-.4 .5 0 .5-.1 .5 .1 .5-.4 .5 .4 .5-.2 .5 .1 .5 .1 .5-.6 .5 .4 .5 .1 .5 0 .5-.7 .5 .5 .5-.4 .5 .1 .5 .2 .5 .1 .5-.2 .5-.1 .5 0 .5 .1 .5 .1 .5-.2 .5-.7 .5-.2 .5 .3 .5 .3 .5-.2 .5-.1 .5-.5 .5 0 .5-.1 .5-.7 .5 .1 .5 .1 .5 0 .5-.3 .5-.5 .5 .8 .5-1.1 .5-.1 .5 .3 .5 0 .5-1.6 .5 1 .5-1.9 .5 .2 .5-.5 .5 .6 .5 0 .5-1.1 .5-.6 .5-.4 .5 3.3 .5-2.7 .5-.1 .5 1.6 .5-.3 .5 1.5 .5 .4 .5 1.2 .5 .5 .5 .3 .5 1.3 .5 .2 .5 .5 .5-1.3 .5-1.4 .5-.9 .5-.3 .5-1.4 .5 .5 .5-2.8 .5 .7 .5 .8 .5 .1 .5 .6 .5-.7 .5 .7 .5 0 .5 1 .5 .7 .5-.5 .5 .3 .5 .3 .5 1.1 .5-.8 .5 .6 .5 .3 .5 .1 .5 .1 .5 .1 .5 .2 .5 0 .5 .7 .5-.1 .5-.2 .5 .5 .5 .2 .5 .2 .5-.2 .5 0 .5 0 .5 .2 .5 .3 .5 0 .5-.3 .5 .1 .5 .1 .5-.1 .5-.1 .5 .1 .5 .3 .5 0 .5-.3 .5 .3 .5-.1 .5 .1 .5 .1 .5 0 .5 .1 .5-.1 .5 .1 .5-.2 .5-.4 .5-.1 .5 .5 .5-.1 .5-.2 .5 0 .5-.2 .5 .8 .5-.8 .5 0 .5 .6 .5 .1 .5-.3 .5 .2 .5 0 .5-.2 .5 .7 .5-.4 .5-.1 .5-.1 .5 .1 .5-.3 .5 .2 .5 .1 .5 0 .5-.1 .5 .1 .5-.2 .5 .5 .5-.6 .5 0 .5 .3 .5 .1 .5-.3 .5 .2 .5 0 .5 0 .5 .3 .5-.6 .5 .1 .5 .2 .5-.2 .5-.8 .5-5.8 .5-14.1 .5-15.1 .5-2.9 .5 2.6 .5-1 .5-.4 .5 3.8 .5 4.8 .5 7.7 .5 5.4 .5 6 .5 3.8 .5 2.6 .5 1.9 .5 .8 .5 .2 .5 .1 .5 .3 .5-.3 .5 .9 .5-.6 .5 .2 .5 0 .5 0 .5 .1 .5-.3 .5 .7 .5-.4 .5-.3 .5 .6 .5-.1 .5-.2 .5 .1 .5-.3 .5 .7 .5-.4 .5-.2 .5-.2 .5 .1 .5-.2 .5 .4 .5-.1 .5-.1 .5 .2 .5 .1 .5-.1 .5-.1 .5 .3 .5-.2 .5 .1 .5-.1 .5 0 .5 .5 .5-.6 .5-.2 .5 0 .5 .1 .5 .7 .5 .2 .5-1.1 .5 .7 .5-.2 .5 .4 .5-.3 .5-.2 .5 .3 .5-.2 .5 0 .5-.4 .5 .5 .5-.1 .5 0 .5-.1 .5 .2 .5-.1 .5-.3 .5 .4 .5-.4 .5 .4 .5-.1 .5 .4 .5-.2 .5 .1 .5-.1 .5-.3 .5 .3 .5 0 .5-.4 .5 .1 .5 .5 .5 0 .5 .1 .5-.1 .5-.9 .5 .3 .5-.2 .5 0 .5 .6 .5-.3 .5-.1 .5 0 .5 0 .5-.2 .5 0 .5 .8 .5-.4 .5-.7 .5 .5 .5 .2 .5-.4 .5 .7 .5-.6 .5 .5 .5 .2 .5-.3 .5-.3 .5 .7 .5 .2 .5 .4 .5-.7 .5-1.6 .5 2.5 .5-2.6 .5 .4 .5 3 .5-1.7 .5 1.7 .5-1.9 .5-.2 .5-2.1 .5 2.1 .5 .7 .5-.3 .5 2.1 .5-1.6 .5-.3 .5 .5 .5-.5 .5 .1 .5-1.2 .5-.9 .5 1.3 .5-.1 .5 .5 .5 .3 .5-.6 .5-.8 .5 .9 .5 .4 .5-1.2 .5 1 .5-.8 .5 0 .5 .8 .5-.8 .5 .3 .5-.2 .5-.4 .5 .4 .5-.7 .5-.3 .5-.6 .5-1.1 .5-.7 .5-.1 .5 .8 .5 1.6 .5 .9 .5 .3 .5 .4 .5 .1 .5 .1 .5-.1 .5-.2 .5 .3 .5 0 .5-.2 .5 .4 .5-.1 .5 .1 .5-.4 .5-.4 .5 .6 .5-.4 .5 0 .5 0 .5-.1 .5 .3 .5-.2 .5-.1 .5 0 .5 .2 .5-.2 .5 .1 .5 .4 .5-.3 .5 .1 .5 .1 .5-.6 .5 .8 .5 .1 .5-.8 .5 .4 .5 .1 .5-.1 .5 .2 .5-.2 .5 0 .5 .2 .5-.1 .5 .1 .5-.3 .5 .1 .5 0 .5 .1 .5 .2 .5-.3 .5 0 .5-.1 .5 .4 .5-.3" fill="none" stroke="#0f5588" stroke-width="1.4" stroke-linejoin="round"/>
<line x1="102.05" y1="145.80" x2="102.05" y2="134.00" stroke="#0f5588" stroke-width="1.1"/>
<line x1="239.74" y1="146.80" x2="239.74" y2="124.80" stroke="#0f5588" stroke-width="1.1"/>
<path d="M86 153.8l.5 .1 .5-.2 .5 0 .5-.5 .5 .6 .5-.1 .5-.2 .5 .2 .5-.1 .5-.3 .5 .4 .5-.4 .5 .5 .5-.1 .5-.3 .5-.3 .5 .2 .5 0 .5-.2 .5 .2 .5-.2 .5-.2 .5 .7 .5-.1 .5-.2 .5 0 .5 .5 .5-.4 .5 .7 .5 .1 .5-.7 .5 .4 .5 .6 .5-.6 .5-.3 .5 .2 .5-.3 .5 0 .5-.4 .5 .4 .5 .1 .5-.2 .5-.3 .5 .2 .5-.2 .5 1 .5-.9 .5 .1 .5-.3 .5 .9 .5-.6 .5 .2 .5 .2 .5-.1 .5 .5 .5-.2 .5 .1 .5-.1 .5 .1 .5 .1 .5-.1 .5-.2 .5-.1 .5 .6 .5-.2 .5 0 L119.0 153.8 L86.0 153.8 Z" fill="#154f7c" stroke="none"/>
<path d="M232 153.9l.5 1.3 .5-.9 .5-.1 .5-.6 .5 .3 .5-.2 .5 .3 .5-.8 .5 .8 .5-.4 .5 .3 .5 .5 .5 0 .5-.4 .5 .1 .5 .1 .5 .4 .5 .1 .5-.1 .5-.1 L242.0 153.8 L232.0 153.8 Z" fill="#154f7c" stroke="none"/>
<path d="M23 154.2l.5-.8 .5 .1 .5 .5 .5 .3 .5-.8 .5 .4 .5 .4 .5-.5 .5 .3 .5 0 .5-.2 .5-.4 .5 .5 .5-.1 .5 .3 .5-.8 .5 .7 .5 .7 .5-1 .5-.5 .5 .7 .5-.8 .5 .7 .5 .2 .5 0 .5 .5 .5-1 .5 .5 .5 .2 .5-.6 .5 0 .5 .5 .5-.2 .5-.2 .5-.1 .5 .2 .5 .2 .5 .6 .5-.1 .5-.1 .5 .7 .5 1.5 .5-.8 .5-1 .5-.5 .5 0 .5 .4 .5-1.6 .5 0 .5 .9 .5 1 .5 .7 .5-.4 .5-2.5 .5-1.1 .5 3 .5-2.3 .5 1.9 .5-.4 .5 1.6 .5-.6 .5 .2 .5 .5 .5-1 .5 .4 .5-.1 .5 .9 .5-1.7 .5-.1 .5 2.6 .5-2.2 .5 .4 .5-.7 .5-.2 .5-.1 .5-.7 .5 .1 .5 .2 .5 .3 .5 .2 .5-.5 .5 .3 .5-.2 .5 .5 .5-.5 .5 .3 .5 0 .5-.5 .5 .5 .5-.4 .5 1 .5-.8 .5 .2 .5-.4 .5 .5 .5 .3 .5-.3 .5-.2 .5 .3 .5-.1 .5 .2 .5-.5 .5 .6 .5-.3 .5 .3 .5-.3 .5-.1 .5 .4 .5-.5 .5 .1 .5-.2 .5 .5 .5 0 .5 .1 .5-.7 .5 .4 .5-.3 .5 .4 .5-.4 .5-.2 .5 .9 .5-.3 .5 .2 .5-.1 .5-.2 .5-.2 .5 .1 .5-.2 .5 0 .5-.5 .5 .6 .5-.1 .5-.2 .5 .2 .5-.1 .5-.3 .5 .4 .5-.4 .5 .5 .5-.1 .5-.3 .5-.3 .5 .2 .5 0 .5-.2 .5 .2 .5-.2 .5-.2 .5 .7 .5-.1 .5-.2 .5 0 .5 .5 .5-.4 .5 .7 .5 .1 .5-.7 .5 .4 .5 .6 .5-.6 .5-.3 .5 .2 .5-.3 .5 0 .5-.4 .5 .4 .5 .1 .5-.2 .5-.3 .5 .2 .5-.2 .5 1 .5-.9 .5 .1 .5-.3 .5 .9 .5-.6 .5 .2 .5 .2 .5-.1 .5 .5 .5-.2 .5 .1 .5-.1 .5 .1 .5 .1 .5-.1 .5-.2 .5-.1 .5 .6 .5-.2 .5 0 .5 .1 .5 .2 .5-.3 .5-.3 .5-.1 .5 .4 .5-.4 .5 .6 .5 .1 .5-.8 .5 .4 .5-.2 .5 .9 .5-.8 .5 .5 .5 .2 .5-.5 .5 .1 .5 .2 .5-.9 .5 .5 .5 0 .5-.3 .5 .1 .5 .3 .5 0 .5-.6 .5 .7 .5 .1 .5-.1 .5-.2 .5-.3 .5 .3 .5 0 .5 0 .5-.1 .5 .1 .5-.1 .5-.1 .5 .5 .5-.3 .5-.2 .5 .4 .5-.1 .5-.2 .5 .2 .5 .3 .5-.5 .5 .3 .5 .3 .5-.2 .5 .1 .5-.6 .5 .3 .5 .6 .5-.5 .5 .3 .5-.4 .5 .2 .5 .1 .5 .1 .5-.3 .5 .3 .5-.5 .5-.1 .5 0 .5 .3 .5-.2 .5-.5 .5-.9 .5-.8 .5 .2 .5-.1 .5-.4 .5 .1 .5 .5 .5 .5 .5-.2 .5 .8 .5 .1 .5 .4 .5 .2 .5 .3 .5 0 .5-.2 .5-.1 .5 .1 .5 .8 .5-.5 .5 .4 .5-.1 .5-.2 .5-.1 .5-.4 .5 .4 .5 .4 .5-.8 .5 .2 .5 .4 .5-.3 .5 .3 .5-.3 .5 .1 .5-.1 .5-.1 .5 .1 .5 .2 .5-.2 .5-.5 .5 .6 .5 .3 .5-.4 .5-.3 .5 .3 .5-.3 .5 .6 .5-.2 .5 0 .5-.1 .5 .2 .5-.2 .5 .4 .5-.2 .5-.5 .5 .1 .5 .2 .5 .2 .5-.2 .5-.2 .5 .1 .5 .1 .5 .4 .5-.6 .5 .1 .5 .2 .5 0 .5 .1 .5 0 .5 0 .5 .1 .5-.3 .5 .4 .5-.3 .5-.1 .5 0 .5 .3 .5 .1 .5-.5 .5 .4 .5-.1 .5-.3 .5 .2 .5 .2 .5 .2 .5-.3 .5-.2 .5 0 .5 0 .5 .4 .5-.5 .5 .2 .5-.2 .5 .3 .5 .1 .5 .2 .5 .1 .5-.5 .5-.2 .5 .6 .5-.2 .5-.1 .5-.1 .5 .2 .5-.5 .5 .1 .5 .2 .5 .2 .5 .1 .5-.4 .5 .2 .5 .1 .5 .4 .5-.1 .5-.9 .5 1 .5 1.1 .5-2.8 .5 1.7 .5-.8 .5-1 .5 1.6 .5 .8 .5-2.3 .5 1.3 .5 1.1 .5-1.7 .5 .9 .5-.3 .5-1.7 .5 2.6 .5-1.5 .5 1.5 .5-2.4 .5-.1 .5 .8 .5 2.6 .5-1.5 .5 .1 .5-1 .5-.9 .5-.3 .5 .8 .5 1.1 .5 1.1 .5-2.5 .5-.3 .5 2 .5 .2 .5-.6 .5-.8 .5 1.2 .5-1.1 .5 1.7 .5-1.3 .5-.3 .5 0 .5 1.3 .5-.9 .5-.1 .5-.6 .5 .3 .5-.2 .5 .3 .5-.8 .5 .8 .5-.4 .5 .3 .5 .5 .5 0 .5-.4 .5 .1 .5 .1 .5 .4 .5 .1 .5-.1 .5-.1 .5 .1 .5-.3 .5 .2 .5-.1 .5-.1 .5 .6 .5-.4 .5 .2 .5-.5 .5 .2 .5-.1 .5 .1 .5 0 .5 .1 .5 0 .5-.2 .5 .5 .5-.5 .5 .4 .5-.4 .5-.1 .5 .6 .5-.7 .5 .1 .5 .4 .5-.2 .5-.2 .5 .3 .5 .3 .5-.2 .5-.1 .5 .1 .5-.2 .5 .3 .5-.2 .5-.4 .5 .2 .5 .2 .5 0 .5 0 .5-.3 .5 .4 .5-.3 .5-.2" fill="none" stroke="#154f7c" stroke-width="1.4" stroke-linejoin="round"/>
<line x1="102.05" y1="153.80" x2="102.05" y2="150.00" stroke="#154f7c" stroke-width="1.1"/>
<line x1="239.74" y1="154.80" x2="239.74" y2="151.80" stroke="#154f7c" stroke-width="1.1"/>
<path d="M86 161.4l.5 .2 .5 .1 .5 .1 .5 .7 .5-.6 .5-.4 .5 .4 .5-.4 .5 .5 .5 .6 .5-.4 .5 0 .5-.5 .5-.1 .5 .4 .5-.4 .5-.3 .5 .7 .5-.5 .5-.1 .5 .3 .5 .2 .5-.2 .5-.1 .5-.1 .5 0 .5 .6 .5-.2 .5 .1 .5 0 .5 0 .5-.2 .5 .1 .5 .2 .5-.1 .5-.1 .5 .1 .5 .4 .5-.8 .5 .4 .5-.6 .5 .5 .5-.3 .5 0 .5 .1 .5 0 .5-.4 .5 .5 .5 0 .5 .3 .5-.1 .5 .2 .5-.4 .5 .6 .5-.3 .5-.1 .5 0 .5-.1 .5 .3 .5 .1 .5 .2 .5-.2 .5-.3 .5 .1 .5-.1 .5 0 L119.0 161.8 L86.0 161.8 Z" fill="#124c76" stroke="none"/>
<path d="M232 161.6l.5 1.2 .5-.7 .5-.3 .5 .2 .5-.4 .5 .6 .5-.8 .5 .2 .5 0 .5 .9 .5-.1 .5-.3 .5 .5 .5 .3 .5-.2 .5-.1 .5-.1 .5-.3 .5 .1 .5 .1 L242.0 161.8 L232.0 161.8 Z" fill="#124c76" stroke="none"/>
<path d="M23 162l.5-.4 .5 .1 .5 .1 .5 .1 .5-.5 .5 .3 .5 .3 .5-.2 .5 .5 .5-.3 .5-.9 .5-.1 .5 1.5 .5-.9 .5-.3 .5 .6 .5-.2 .5 .3 .5 .1 .5-.4 .5 1.1 .5-1.1 .5-.1 .5-.5 .5 .9 .5-.2 .5 .2 .5 .2 .5-.2 .5 .6 .5-1.5 .5-.4 .5 .2 .5 .9 .5 2.1 .5-2 .5 1 .5 .2 .5 1.7 .5 .7 .5 0 .5-3 .5 0 .5 2.2 .5-1.5 .5 .1 .5-.8 .5-2 .5 2.4 .5-.9 .5 .1 .5 2.2 .5 .2 .5-3.2 .5-1.5 .5 1.8 .5-.7 .5 2.2 .5-1.2 .5 1.8 .5-.6 .5 1.8 .5 .3 .5 .5 .5-2.8 .5-.2 .5 .2 .5-.2 .5-.4 .5 .8 .5-.3 .5-.8 .5-.3 .5 .7 .5-1.2 .5 .7 .5-.5 .5 .4 .5 .8 .5-.8 .5 .2 .5 .1 .5 .3 .5-.8 .5 .3 .5-.5 .5 .7 .5-.1 .5-.1 .5 0 .5-.4 .5 1 .5-.9 .5 .2 .5 0 .5 .2 .5-.7 .5 1.2 .5-.8 .5 .2 .5 0 .5-.1 .5 .6 .5 .1 .5-.2 .5-1 .5 .7 .5 .2 .5-.5 .5 .6 .5-.2 .5-.5 .5 .2 .5 0 .5-.2 .5 0 .5 .6 .5 .3 .5-.2 .5-.1 .5 .3 .5-.1 .5-.3 .5-.2 .5 .3 .5-.8 .5 .2 .5 .1 .5 .1 .5 .7 .5-.6 .5-.4 .5 .4 .5-.4 .5 .5 .5 .6 .5-.4 .5 0 .5-.5 .5-.1 .5 .4 .5-.4 .5-.3 .5 .7 .5-.5 .5-.1 .5 .3 .5 .2 .5-.2 .5-.1 .5-.1 .5 0 .5 .6 .5-.2 .5 .1 .5 0 .5 0 .5-.2 .5 .1 .5 .2 .5-.1 .5-.1 .5 .1 .5 .4 .5-.8 .5 .4 .5-.6 .5 .5 .5-.3 .5 0 .5 .1 .5 0 .5-.4 .5 .5 .5 0 .5 .3 .5-.1 .5 .2 .5-.4 .5 .6 .5-.3 .5-.1 .5 0 .5-.1 .5 .3 .5 .1 .5 .2 .5-.2 .5-.3 .5 .1 .5-.1 .5 0 .5 .1 .5 .5 .5-.8 .5 .2 .5 0 .5-.3 .5 .8 .5-.6 .5 .5 .5 .2 .5-.6 .5 .2 .5-.5 .5 .4 .5-.3 .5 .4 .5-.5 .5 .3 .5-.1 .5 .2 .5 .2 .5 0 .5-.3 .5 .4 .5-.2 .5 .1 .5 0 .5 .3 .5-.6 .5-.3 .5 .5 .5-.3 .5-.1 .5 0 .5 .6 .5-.1 .5-.6 .5 .1 .5 0 .5 .3 .5 .3 .5-.4 .5 .4 .5-.2 .5 0 .5 .2 .5-.4 .5-.1 .5 0 .5 .3 .5 0 .5-.4 .5 .1 .5-.1 .5 .4 .5 .2 .5-.6 .5 .7 .5-.5 .5 .1 .5 0 .5 .2 .5-.2 .5 0 .5 .2 .5-.1 .5-.1 .5-.2 .5-.3 .5-.6 .5-1.3 .5-.4 .5 .4 .5 .4 .5-.1 .5-.5 .5 1 .5 .6 .5 .2 .5-.3 .5 .6 .5 .1 .5 .6 .5-.2 .5-.1 .5 .5 .5-.3 .5 0 .5 .3 .5 .1 .5-.5 .5-.3 .5 .1 .5 .3 .5 0 .5 0 .5 .3 .5-.3 .5-.3 .5 .6 .5-.7 .5-.1 .5 .8 .5 .1 .5 0 .5-.6 .5 .4 .5-.1 .5 .3 .5-.1 .5-.3 .5-.1 .5-.1 .5 .2 .5-.2 .5 .4 .5 .1 .5 .4 .5-.4 .5-.2 .5 0 .5 .2 .5-.6 .5 .2 .5 .2 .5 0 .5-.3 .5 .7 .5-.3 .5 0 .5 .1 .5-.1 .5 .1 .5 .2 .5-.5 .5 .2 .5-.3 .5 .4 .5 .1 .5-.8 .5 .5 .5 0 .5 .2 .5-.3 .5 .3 .5-.3 .5 0 .5-.3 .5 .4 .5 0 .5-.2 .5 .5 .5 .1 .5-.2 .5-.2 .5 .1 .5 .2 .5-.3 .5 .1 .5-.2 .5 .2 .5 .3 .5-.5 .5 .2 .5-.3 .5-.1 .5 .3 .5-.1 .5 .2 .5 .1 .5-.6 .5 .4 .5 .2 .5-.1 .5 .6 .5-1.7 .5 1.7 .5 0 .5-.5 .5-1.5 .5 2.1 .5-1.1 .5 1.5 .5-.6 .5-1.2 .5-.1 .5 .7 .5 1.2 .5-.8 .5-.8 .5-1.1 .5 .7 .5 1.3 .5-.5 .5-1.7 .5 2 .5 0 .5-.3 .5 .1 .5-.1 .5 .8 .5-.4 .5-2.2 .5 1 .5 0 .5 2.1 .5-2.6 .5 2.6 .5-3.3 .5 3.2 .5-.7 .5-1.5 .5 2 .5-1.7 .5 .5 .5-.6 .5 1.1 .5 .2 .5 .2 .5-.7 .5-.4 .5 .4 .5-.2 .5 .8 .5-.4 .5-.9 .5 1.2 .5-.7 .5-.3 .5 .2 .5-.4 .5 .6 .5-.8 .5 .2 .5 0 .5 .9 .5-.1 .5-.3 .5 .5 .5 .3 .5-.2 .5-.1 .5-.1 .5-.3 .5 .1 .5 .1 .5 .2 .5-.1 .5 .1 .5 .2 .5-.7 .5 .4 .5-.3 .5-.4 .5 .8 .5-.1 .5-.3 .5 .4 .5-.7 .5 1.2 .5-.4 .5-.4 .5 .2 .5-.2 .5-.4 .5 .5 .5 0 .5-.3 .5 .6 .5 .1 .5-.2 .5 .3 .5-.3 .5-.3 .5 .7 .5-.4 .5 0 .5-.3 .5-.2 .5 .4 .5-.1 .5 .2 .5-.3 .5-.2 .5 .1 .5 .2 .5-.2 .5 .5 .5-.2 .5-.3" fill="none" stroke="#124c76" stroke-width="1.4" stroke-linejoin="round"/>
<line x1="102.05" y1="161.80" x2="102.05" y2="159.00" stroke="#124c76" stroke-width="1.1"/>
</g>
<clipPath id="cb"><rect x="297" y="1" width="228" height="169.9"/></clipPath>
<g clip-path="url(#cb)">
<path d="M356.5 104l.5-.4 .5 .5 .5-.8 .5 0 .5-.3 .5 .3 .5-1.2 .5-.6 .5 .6 .5-1.1 .5-.8 .5-.2 .5-.9 .5-.1 .5-.3 .5-2.1 .5 1.1 .5 .2 .5-.5 .5 1.3 .5-.1 .5-1 .5 .7 .5-.2 .5 2.6 .5 2.3 .5-1.2 .5 1.8 .5 2 .5 .8 .5 .1 .5-.6 .5-1.4 .5-1.7 .5-2.7 .5 .8 .5-1.5 .5-.4 .5 .4 .5 0 .5-1.3 .5-1 .5 1.4 .5 1.8 .5 .5 .5-.2 .5 1 .5-.3 .5 1.4 .5-1.6 .5 1 .5 1.1 .5 0 .5 .2 .5 1.2 .5-.6 .5 .3 .5 .3 .5 .5 .5 .1 .5-.1 .5 0 .5 .2 L388.0 106.5 L356.5 106.5 Z" fill="#ece488" stroke="none"/>
<path d="M297 106.4l.5 .2 .5-.4 .5-.1 .5 .3 .5 .2 .5 .2 .5-.3 .5-.1 .5 .3 .5-.2 .5 .4 .5-.4 .5-.5 .5 .3 .5 0 .5-.2 .5 .2 .5 0 .5 .1 .5-.1 .5 .3 .5 .1 .5-.1 .5 0 .5-.8 .5 0 .5 .3 .5 .5 .5-.8 .5 .5 .5 .3 .5 1 .5-.9 .5-.5 .5 .7 .5-1.8 .5-6.7 .5 2.4 .5 1.3 .5-.1 .5 .4 .5 2 .5-1.3 .5 .1 .5 2 .5 .8 .5-1 .5-.8 .5 .9 .5 .3 .5 .2 .5 0 .5 1.4 .5-2.9 .5 .5 .5 0 .5-2.1 .5 2.6 .5 .3 .5-.4 .5-3 .5 1.9 .5-.7 .5 1.3 .5 .4 .5 .5 .5-.2 .5 .2 .5-.3 .5 1.1 .5 .1 .5 .7 .5-.5 .5-.2 .5 .3 .5 .1 .5-.2 .5-.1 .5-.3 .5 .4 .5 .4 .5-.9 .5 .2 .5 .5 .5-.2 .5 .1 .5-.6 .5 .3 .5 .2 .5 0 .5 0 .5-.3 .5 .3 .5-.3 .5 0 .5-.1 .5 .5 .5-.4 .5 .1 .5-.4 .5 .5 .5-.2 .5-.4 .5 0 .5 .4 .5-.4 .5 .6 .5-.8 .5-.3 .5 .7 .5-.5 .5 .1 .5-.3 .5 0 .5 .1 .5-.7 .5-.6 .5 .6 .5-.7 .5-.4 .5 .5 .5-.8 .5 0 .5-.3 .5 .3 .5-1.2 .5-.6 .5 .6 .5-1.1 .5-.8 .5-.2 .5-.9 .5-.1 .5-.3 .5-2.1 .5 1.1 .5 .2 .5-.5 .5 1.3 .5-.1 .5-1 .5 .7 .5-.2 .5 2.6 .5 2.3 .5-1.2 .5 1.8 .5 2 .5 .8 .5 .1 .5-.6 .5-1.4 .5-1.7 .5-2.7 .5 .8 .5-1.5 .5-.4 .5 .4 .5 0 .5-1.3 .5-1 .5 1.4 .5 1.8 .5 .5 .5-.2 .5 1 .5-.3 .5 1.4 .5-1.6 .5 1 .5 1.1 .5 0 .5 .2 .5 1.2 .5-.6 .5 .3 .5 .3 .5 .5 .5 .1 .5-.1 .5 0 .5 .2 .5 .2 .5 0 .5 .1 .5 .6 .5-.1 .5 0 .5-.1 .5 .3 .5-.4 .5 .4 .5-.1 .5 .1 .5-.2 .5 .4 .5-.1 .5-.1 .5 .2 .5-.1 .5 0 .5-.1 .5 .3 .5-.3 .5 .1 .5 0 .5 .1 .5-.1 .5 .5 .5-.7 .5 .4 .5-.1 .5 .2 .5-.5 .5 .5 .5-.5 .5 .4 .5 0 .5-.1 .5-.1 .5-.1 .5 .2 .5-.1 .5-.3 .5 .1 .5 .4 .5 0 .5 0 .5-.1 .5 .1 .5 0 .5-.1 .5-.1 .5 0 .5-.1 .5 .2 .5-.2 .5 .2 .5 .2 .5-.3 .5 .3 .5 .1 .5-.6 .5 0 .5 .2 .5-2.7 .5-15.4 .5-38.9 .5-25.8 .5-3.8 .5 3.1 .5-8.1 .5 2.9 .5 13.9 .5 14.9 .5 17.1 .5 14.5 .5 11.6 .5 7.9 .5 4.4 .5 2.1 .5 1 .5 .4 .5 .4 .5 .2 .5-.1 .5 0 .5 .2 .5-.1 .5 .4 .5-.1 .5 0 .5-.5 .5 .9 .5-.1 .5 0 .5-.2 .5 .1 .5 .4 .5-.7 .5 .3 .5 0 .5-.1 .5 .1 .5-.3 .5 .3 .5-.3 .5 .5 .5-.2 .5-.2 .5-.3 .5 .4 .5 .1 .5-.3 .5 .5 .5-.2 .5-.2 .5-.1 .5 .2 .5 0 .5 .1 .5 .1 .5-.2 .5 .1 .5 .2 .5-.2 .5-.1 .5 .1 .5-.2 .5 .2 .5-.1 .5-.2 .5 .3 .5-.1 .5 .1 .5-.3 .5 .4 .5 0 .5-.2 .5 0 .5 0 .5 0 .5 .2 .5-.3 .5-.1 .5 .2 .5 .4 .5-.5 .5-.1 .5 0 .5 .2 .5 .2 .5-.3 .5 .1 .5 .1 .5 0 .5-.1 .5 .2 .5 0 .5-.3 .5 .7 .5-.9 .5 0 .5 .6 .5-.2 .5-.2 .5 .2 .5 .1 .5-.3 .5-.1 .5-.2 .5 .1 .5 0 .5 .9 .5-.4 .5 .1 .5-.6 .5 .9 .5-1.5 .5 1.2 .5 .2 .5-.9 .5-.3 .5 1.1 .5-.9 .5-.2 .5 .7 .5-.9 .5 .8 .5 1.7 .5-2.1 .5 .2 .5-3.2 .5 .1 .5 .8 .5 1.7 .5 1.3 .5 1.2 .5-1.7 .5 1 .5-.7 .5 .3 .5-.8 .5-.1 .5 .3 .5-.3 .5 .4 .5-.5 .5 .5 .5 .1 .5 .6 .5-.1 .5-.4 .5-.4 .5 .4 .5-.1 .5-.4 .5-.7 .5-1.1 .5-1 .5-1.3 .5-2 .5-.5 .5 .4 .5 1.4 .5 1.8 .5 1 .5 1.4 .5 .6 .5 .2 .5 .3 .5-.3 .5 .3 .5 .1 .5-.3 .5 0 .5 0 .5 .1 .5-.5 .5 .1 .5 .3 .5 .2 .5-.1 .5-.2 .5 .4 .5-.3 .5-.1 .5 .2 .5 .1 .5-.2 .5-.3 .5 .2 .5 .1 .5 .2 .5-.4 .5 .3 .5-.3 .5 .2 .5-.2 .5 .1 .5-.2 .5 .1 .5-.1 .5 0 .5 .5 .5 0 .5-.1 .5-.2 .5 .4 .5-.3 .5 .1 .5 .1 .5-.1 .5 .2 .5-.3 .5 0" fill="none" stroke="#ece488" stroke-width="1.4" stroke-linejoin="round"/>
<line x1="371.78" y1="106.50" x2="371.78" y2="51.00" stroke="#ece488" stroke-width="1.1"/>
<line x1="502.05" y1="107.50" x2="502.05" y2="78.50" stroke="#ece488" stroke-width="1.1"/>
<path d="M356.5 115.5l.5-.7 .5 0 .5-1.2 .5 .8 .5 0 .5-.3 .5-.8 .5-1.2 .5-.2 .5-1.2 .5-.5 .5 0 .5 .7 .5-.7 .5-.8 .5 2 .5-2.6 .5 1.5 .5-1.5 .5 .8 .5-1.3 .5-2.3 .5 5 .5-.8 .5-1.4 .5 4.5 .5 .7 .5 1.6 .5 1.2 .5 .8 .5-.1 .5-.9 .5-2.3 .5-1.1 .5-.9 .5-1.4 .5 1.5 .5-3.6 .5-1.6 .5 1.8 .5 .2 .5 .6 .5-.2 .5 1.9 .5-2.6 .5 2.5 .5 .4 .5-1.2 .5 1.9 .5 .8 .5-1.3 .5 1.5 .5 .6 .5 .3 .5 1.1 .5-.6 .5 0 .5 .8 .5 .1 .5-.1 .5 .7 .5 .4 .5-.8 L388.0 117.6 L356.5 117.6 Z" fill="#e2d42e" stroke="none"/>
<path d="M297 117.7l.5-.1 .5 .1 .5-.3 .5 .4 .5-.3 .5 .3 .5-.2 .5-.6 .5 .6 .5-.2 .5 0 .5 .2 .5 .3 .5-.1 .5 .2 .5-.4 .5-.5 .5 .3 .5-.1 .5 .1 .5 1.1 .5-.6 .5-.7 .5 .8 .5-.5 .5-.5 .5 1.1 .5-.7 .5 .3 .5 1 .5-1.6 .5 1.1 .5-.8 .5-.5 .5 .4 .5-1 .5-4.5 .5-1.7 .5 3 .5 .8 .5-.1 .5 .5 .5 0 .5 .2 .5 1.5 .5 .3 .5-2 .5-.2 .5 1.1 .5-.4 .5 1.3 .5 .9 .5 1.3 .5-2.8 .5 .3 .5-1.3 .5-.1 .5-.6 .5 .7 .5-1 .5 .7 .5 1.3 .5-1.8 .5 2 .5 .6 .5-2.5 .5 2.6 .5 .5 .5-.2 .5-.9 .5 .7 .5 .7 .5 .5 .5-.1 .5 0 .5-.1 .5 .4 .5-.2 .5 .2 .5-.4 .5-.1 .5-.2 .5 .8 .5-.6 .5-.1 .5-.2 .5 .6 .5-.4 .5 .3 .5 0 .5 .2 .5-.5 .5-.2 .5 .6 .5-.2 .5-.1 .5 0 .5 .3 .5-.3 .5-.2 .5 0 .5 .1 .5 0 .5-.2 .5 .2 .5-.5 .5 .3 .5 0 .5-.3 .5 .1 .5-.3 .5 0 .5-.5 .5-.4 .5 .5 .5 .2 .5-.8 .5 0 .5-.1 .5-.7 .5 0 .5-1.2 .5 .8 .5 0 .5-.3 .5-.8 .5-1.2 .5-.2 .5-1.2 .5-.5 .5 0 .5 .7 .5-.7 .5-.8 .5 2 .5-2.6 .5 1.5 .5-1.5 .5 .8 .5-1.3 .5-2.3 .5 5 .5-.8 .5-1.4 .5 4.5 .5 .7 .5 1.6 .5 1.2 .5 .8 .5-.1 .5-.9 .5-2.3 .5-1.1 .5-.9 .5-1.4 .5 1.5 .5-3.6 .5-1.6 .5 1.8 .5 .2 .5 .6 .5-.2 .5 1.9 .5-2.6 .5 2.5 .5 .4 .5-1.2 .5 1.9 .5 .8 .5-1.3 .5 1.5 .5 .6 .5 .3 .5 1.1 .5-.6 .5 0 .5 .8 .5 .1 .5-.1 .5 .7 .5 .4 .5-.8 .5 .5 .5 .1 .5 .2 .5 .4 .5 .1 .5 0 .5 .1 .5-.3 .5 .4 .5-.2 .5-.1 .5 .2 .5-.2 .5 .2 .5-.1 .5 .2 .5 .2 .5-.3 .5 .2 .5 .1 .5-.3 .5 .2 .5-.1 .5 .4 .5-.4 .5 .1 .5-.3 .5 .1 .5 .3 .5-.2 .5 .2 .5-.1 .5 .5 .5-.5 .5 .2 .5-.3 .5 0 .5-.2 .5 .8 .5-.9 .5 .4 .5-.1 .5 .2 .5-.2 .5 .4 .5-.1 .5-.1 .5 0 .5 .1 .5-.1 .5 .2 .5-.1 .5-.2 .5 .1 .5 0 .5 .1 .5-.2 .5 0 .5-.2 .5 .3 .5 0 .5-.2 .5 .2 .5-2.9 .5-16.1 .5-39.8 .5-30.8 .5 0 .5-1.1 .5 1.8 .5 .3 .5 13.6 .5 15.2 .5 15.4 .5 14.6 .5 12.9 .5 7.9 .5 4.3 .5 2.1 .5 1.4 .5 .2 .5 .1 .5 .2 .5 0 .5 .4 .5-.3 .5 .1 .5 0 .5 .1 .5 .1 .5 .4 .5-.2 .5 .1 .5-.2 .5 .2 .5-.3 .5 0 .5 .5 .5-.2 .5-.4 .5 .4 .5-.1 .5 0 .5 .2 .5-.4 .5 .4 .5-.1 .5-.2 .5-.1 .5 .5 .5-.4 .5-.1 .5 .2 .5 .1 .5 0 .5 .2 .5-.2 .5-.1 .5 .4 .5 0 .5-.6 .5 .4 .5-.3 .5 .4 .5-.5 .5 .3 .5 .2 .5-.2 .5 .1 .5-.3 .5-.1 .5 0 .5 .3 .5-.2 .5 .4 .5-.3 .5 .3 .5-.2 .5-.3 .5 .2 .5 .1 .5 0 .5-.1 .5 .2 .5 0 .5 0 .5-.3 .5-.3 .5 .5 .5-.2 .5 0 .5 .1 .5 .1 .5-.4 .5 .3 .5 .3 .5-.6 .5 .3 .5 .4 .5-.2 .5 0 .5-.1 .5-.5 .5 .5 .5-.4 .5 .4 .5-.3 .5-.2 .5 .4 .5 .5 .5-.7 .5 .3 .5 .3 .5-.1 .5-1 .5 .4 .5 .6 .5-.2 .5 1.1 .5-.7 .5-1.1 .5 1.2 .5 .3 .5-.3 .5-.1 .5-1.6 .5 1.1 .5 .5 .5-.9 .5-.8 .5-1 .5-1.7 .5 .9 .5 2.1 .5 .7 .5 .9 .5-.8 .5-.6 .5 1.1 .5-.9 .5 1 .5-.8 .5 .7 .5-.2 .5-.3 .5-.5 .5 .5 .5 .7 .5-.5 .5 .4 .5-.5 .5 0 .5-.3 .5 .3 .5-.5 .5-.5 .5-.4 .5-1.9 .5-1 .5-2 .5-.8 .5 .9 .5 .8 .5 2 .5 1.5 .5 1.2 .5 .7 .5 0 .5-.3 .5 .1 .5 .1 .5 .3 .5-.2 .5 .1 .5-.1 .5 .3 .5-.5 .5 .6 .5-.2 .5-.1 .5-.1 .5 0 .5 0 .5-.1 .5 0 .5 0 .5 .2 .5-.1 .5 .1 .5-.2 .5-.1 .5 0 .5 .3 .5-.3 .5 .3 .5-.3 .5 .1 .5 .2 .5-.3 .5-.2 .5 .6 .5-.2 .5-.1 .5 .4 .5 .1 .5-.4 .5 .1 .5 .4 .5-.6 .5 .3 .5 0 .5-.3 .5-.1 .5 .1" fill="none" stroke="#e2d42e" stroke-width="1.4" stroke-linejoin="round"/>
<line x1="371.78" y1="117.60" x2="371.78" y2="90.00" stroke="#e2d42e" stroke-width="1.1"/>
<line x1="502.05" y1="118.60" x2="502.05" y2="103.60" stroke="#e2d42e" stroke-width="1.1"/>
<path d="M356.5 125.3l.5-.9 .5-1 .5-.3 .5 2.3 .5-2.4 .5-.8 .5-1.5 .5 1.9 .5-.3 .5-1.5 .5 1.4 .5-.5 .5-2.3 .5 1.6 .5-.8 .5-3.2 .5 .6 .5 1.7 .5-3.4 .5 1.5 .5 .9 .5-.4 .5 1 .5-.5 .5 1.7 .5 2.5 .5 1.1 .5 .9 .5 1.7 .5 1.1 .5-.5 .5-.5 .5-1.8 .5-1.7 .5-.7 .5-1.4 .5-1.7 .5 1 .5-1.7 .5-2.4 .5 3.2 .5-.9 .5-1.4 .5 2.5 .5-1.3 .5 1.1 .5 .9 .5 1.6 .5 .5 .5-.7 .5 1.2 .5 .5 .5 1.6 .5-.7 .5-1.1 .5 1.4 .5 .1 .5 .7 .5 .6 .5-.3 .5-.3 .5 .6 .5 .2 L388.0 127.3 L356.5 127.3 Z" fill="#c8ba22" stroke="none"/>
<path d="M297 127.2l.5-.2 .5 .3 .5 0 .5-.3 .5 .6 .5 0 .5-.4 .5 0 .5 .2 .5-.1 .5 .1 .5 .2 .5 .1 .5-.1 .5-.3 .5-.1 .5-.4 .5 .5 .5 .6 .5-.4 .5-.4 .5 .3 .5-.3 .5 .2 .5-.3 .5 1.1 .5-1.9 .5 .6 .5 .8 .5-1.5 .5 .9 .5-.5 .5 1 .5-.2 .5-.3 .5-1.2 .5-3.6 .5 .7 .5-.7 .5-.8 .5 2.1 .5-1 .5 1.7 .5 .9 .5 1.5 .5 0 .5 .2 .5-2.8 .5 0 .5 2.9 .5-1.2 .5 3.5 .5-3.6 .5 .2 .5-.6 .5-.8 .5 .4 .5-1.2 .5 1 .5-.2 .5 0 .5-.8 .5 1.2 .5-.8 .5-.1 .5 1.3 .5 1.3 .5 .7 .5-1.1 .5 .9 .5-.1 .5 .1 .5 .6 .5-.9 .5 .8 .5-.1 .5-.6 .5 0 .5 .5 .5 .6 .5-.5 .5 .1 .5-.1 .5-.5 .5 .2 .5-.3 .5 .7 .5-.4 .5 .4 .5-.3 .5-.3 .5 .2 .5 .3 .5-.3 .5 .1 .5-.5 .5 .3 .5 .2 .5-.2 .5 .1 .5-.1 .5-.2 .5 0 .5 0 .5-.2 .5 .5 .5-.1 .5-.1 .5-.4 .5-.6 .5 .4 .5-.4 .5 .3 .5-.5 .5-.3 .5-.4 .5 .5 .5-.2 .5 0 .5-.9 .5-1 .5-.3 .5 2.3 .5-2.4 .5-.8 .5-1.5 .5 1.9 .5-.3 .5-1.5 .5 1.4 .5-.5 .5-2.3 .5 1.6 .5-.8 .5-3.2 .5 .6 .5 1.7 .5-3.4 .5 1.5 .5 .9 .5-.4 .5 1 .5-.5 .5 1.7 .5 2.5 .5 1.1 .5 .9 .5 1.7 .5 1.1 .5-.5 .5-.5 .5-1.8 .5-1.7 .5-.7 .5-1.4 .5-1.7 .5 1 .5-1.7 .5-2.4 .5 3.2 .5-.9 .5-1.4 .5 2.5 .5-1.3 .5 1.1 .5 .9 .5 1.6 .5 .5 .5-.7 .5 1.2 .5 .5 .5 1.6 .5-.7 .5-1.1 .5 1.4 .5 .1 .5 .7 .5 .6 .5-.3 .5-.3 .5 .6 .5 .2 .5 .1 .5 .6 .5-.2 .5-.1 .5 .4 .5 .1 .5-.3 .5 .6 .5-.5 .5 .9 .5-.5 .5-.4 .5 .6 .5-.3 .5 .2 .5 .3 .5-.1 .5-.5 .5 .3 .5-.1 .5 .2 .5-.1 .5 0 .5 .4 .5-.5 .5 .4 .5-.4 .5 .1 .5-.2 .5 .5 .5-.2 .5-.3 .5 .3 .5-.1 .5 0 .5 0 .5 .2 .5-.2 .5 .3 .5-.1 .5 .1 .5 0 .5-.1 .5-.2 .5 .3 .5-.5 .5 .2 .5 .3 .5-.6 .5 .2 .5-.1 .5 .4 .5-.3 .5 .2 .5 0 .5 .4 .5 0 .5-.6 .5 .1 .5 .1 .5-.1 .5 0 .5-.1 .5-2.3 .5-15.1 .5-40.2 .5-31.1 .5 2.8 .5-3.9 .5 2 .5 1.9 .5 9.8 .5 15.9 .5 16.8 .5 14.3 .5 13.1 .5 7.8 .5 3.1 .5 3.1 .5 .8 .5 .5 .5 .1 .5 0 .5 .5 .5-.1 .5 0 .5 .2 .5-.1 .5 .2 .5 .1 .5-.1 .5-.1 .5 .2 .5 .2 .5-.2 .5 0 .5 0 .5-.2 .5 .3 .5-.2 .5 0 .5 .2 .5 .2 .5-.1 .5-.4 .5 .5 .5-.1 .5-.2 .5 .2 .5-.1 .5 .3 .5-.5 .5 .4 .5-.4 .5 0 .5 .3 .5-.6 .5 .6 .5 .1 .5-.6 .5 .2 .5 .3 .5-.4 .5-.1 .5 .7 .5-.5 .5 .4 .5-.1 .5-.1 .5-.3 .5 .4 .5-.1 .5-.2 .5 0 .5 0 .5-.1 .5 .1 .5 .2 .5-.3 .5 .1 .5 0 .5 .1 .5-.1 .5 .2 .5 .1 .5-.5 .5 .2 .5 .1 .5 .2 .5-.2 .5-.1 .5 .3 .5-.2 .5-.2 .5 .3 .5-.1 .5-.2 .5-.2 .5 .3 .5 .2 .5 0 .5-.6 .5 .1 .5 .7 .5-.9 .5 .9 .5 0 .5 .5 .5-1.5 .5 1.1 .5-.7 .5 .3 .5-.6 .5 1.1 .5-.2 .5-1.1 .5-.2 .5 1.2 .5-.6 .5 .6 .5-.1 .5 .2 .5-.2 .5-.5 .5 1.3 .5-.2 .5-.7 .5 .3 .5-.5 .5-.9 .5-2 .5 .8 .5-.5 .5 3.1 .5 .1 .5 .1 .5 .1 .5-.3 .5-1.2 .5-.1 .5 .5 .5 .1 .5 .4 .5-.1 .5 .3 .5-1.1 .5 .9 .5-.4 .5 .1 .5 0 .5 .3 .5-.4 .5 .6 .5-.1 .5-.7 .5-.5 .5-.9 .5-1.2 .5-2.2 .5-2 .5-.6 .5 .2 .5 1.8 .5 1.8 .5 2.1 .5 1 .5 .6 .5 0 .5 .3 .5 .1 .5 .3 .5-.6 .5 .2 .5 0 .5 .3 .5-.2 .5 .3 .5 .1 .5-.7 .5 .6 .5-.1 .5 0 .5 0 .5-.2 .5 0 .5 0 .5-.1 .5 .2 .5 0 .5 0 .5 0 .5-.3 .5 .3 .5-.2 .5 0 .5 .2 .5 .2 .5-.3 .5 .1 .5 .3 .5-.2 .5 0 .5-.2 .5 .3 .5-.3 .5 .4 .5 .1 .5-.5 .5 .2 .5-.1 .5 .3 .5-.5 .5 .4 .5 0" fill="none" stroke="#c8ba22" stroke-width="1.4" stroke-linejoin="round"/>
<line x1="371.78" y1="127.30" x2="371.78" y2="110.00" stroke="#c8ba22" stroke-width="1.1"/>
<line x1="502.05" y1="128.30" x2="502.05" y2="114.30" stroke="#c8ba22" stroke-width="1.1"/>
<path d="M356.5 135.2l.5-1.2 .5 1 .5-1.6 .5-.4 .5 0 .5-.7 .5-.8 .5 1.6 .5-2.2 .5 2.6 .5-1.9 .5-.5 .5-.2 .5-1.8 .5 1 .5 .3 .5-.4 .5-.6 .5-.7 .5 1.5 .5-.9 .5 .4 .5-.3 .5 .6 .5 2.3 .5 .8 .5 .7 .5 1.3 .5 .8 .5 1.5 .5-.4 .5-.9 .5-1.6 .5-.2 .5-2.9 .5-1.3 .5-1.1 .5 1.5 .5 .6 .5-1.8 .5-.6 .5-.2 .5 1.1 .5 1.5 .5-.1 .5 .3 .5 .6 .5-1.2 .5 1.8 .5 .4 .5-1.1 .5 1.9 .5 .7 .5-.1 .5 .4 .5-.3 .5 .9 .5 .1 .5-.5 .5 .6 .5 .3 .5 .4 .5-.3 L388.0 136.9 L356.5 136.9 Z" fill="#a49a22" stroke="none"/>
<path d="M297 137l.5 .3 .5-.5 .5-.2 .5 .6 .5-.6 .5 .4 .5 .1 .5-.2 .5-.4 .5 .6 .5 0 .5-.2 .5 .3 .5-.4 .5-.4 .5-.2 .5 .8 .5-.3 .5 .5 .5-.2 .5 0 .5-.4 .5 .3 .5 .4 .5-.9 .5 1.2 .5-.8 .5 .5 .5-.8 .5 .9 .5-.6 .5 .1 .5 .2 .5 1 .5-1 .5-1.5 .5-5.9 .5 2 .5-1 .5 1.5 .5 .9 .5 1 .5-.6 .5 .5 .5 2.1 .5 1.9 .5-2.6 .5 .4 .5-1.4 .5 1.4 .5-.6 .5 .6 .5 .4 .5-.6 .5-1 .5-1.2 .5 .8 .5-.9 .5 1.6 .5-2 .5 .5 .5-1.1 .5 1.5 .5 1.2 .5-2.8 .5 3.2 .5 .7 .5 .7 .5-.3 .5 .1 .5-.3 .5 .1 .5-.2 .5 .3 .5-.5 .5 0 .5 1.3 .5-.3 .5 .3 .5-.5 .5-.4 .5 .6 .5 .2 .5-.9 .5 .5 .5 .1 .5 .5 .5-.5 .5-.4 .5 0 .5 0 .5 .1 .5 .3 .5-.2 .5 .1 .5-.4 .5 .8 .5-.7 .5-.2 .5 .2 .5 .2 .5-.1 .5-.1 .5 .4 .5-.6 .5 .3 .5-.8 .5 .4 .5-.1 .5-.1 .5 0 .5 0 .5 0 .5-.4 .5-.5 .5-.1 .5 .1 .5-.1 .5 .2 .5-1.2 .5 1 .5-1.6 .5-.4 .5 0 .5-.7 .5-.8 .5 1.6 .5-2.2 .5 2.6 .5-1.9 .5-.5 .5-.2 .5-1.8 .5 1 .5 .3 .5-.4 .5-.6 .5-.7 .5 1.5 .5-.9 .5 .4 .5-.3 .5 .6 .5 2.3 .5 .8 .5 .7 .5 1.3 .5 .8 .5 1.5 .5-.4 .5-.9 .5-1.6 .5-.2 .5-2.9 .5-1.3 .5-1.1 .5 1.5 .5 .6 .5-1.8 .5-.6 .5-.2 .5 1.1 .5 1.5 .5-.1 .5 .3 .5 .6 .5-1.2 .5 1.8 .5 .4 .5-1.1 .5 1.9 .5 .7 .5-.1 .5 .4 .5-.3 .5 .9 .5 .1 .5-.5 .5 .6 .5 .3 .5 .4 .5-.3 .5 .3 .5 .1 .5 .2 .5-.4 .5 .5 .5-.3 .5 .1 .5 .2 .5 0 .5 .1 .5 .2 .5 .3 .5-.5 .5 .2 .5-.3 .5-.1 .5 0 .5 0 .5 .3 .5 0 .5 .3 .5-.2 .5 .1 .5-.2 .5-.1 .5 .4 .5-.2 .5 .1 .5 0 .5-.3 .5 .1 .5 .4 .5-.2 .5 .3 .5-.4 .5 .1 .5 .2 .5 .4 .5-.6 .5-.2 .5 .1 .5-.2 .5 .1 .5 .1 .5-.1 .5 .2 .5-.5 .5 .4 .5-.2 .5 .1 .5 .4 .5-.4 .5 .1 .5 .1 .5 .1 .5 0 .5-.3 .5 0 .5 .3 .5 .1 .5-.5 .5 .4 .5-.4 .5-2.3 .5-15.6 .5-34 .5-28.7 .5-4.6 .5 1.5 .5-3.1 .5 5.3 .5 12.3 .5 11.8 .5 16.7 .5 15.4 .5 9 .5 7.6 .5 4.1 .5 2.2 .5 1.6 .5-.2 .5 .8 .5 0 .5-.2 .5 .3 .5 0 .5 .1 .5 .1 .5 0 .5-.2 .5 .2 .5 0 .5 0 .5-.1 .5 .1 .5 0 .5 .1 .5-.3 .5-.2 .5 .6 .5-.1 .5-.2 .5 .4 .5-.3 .5-.1 .5 .5 .5-.1 .5-.3 .5 .3 .5-.1 .5-.4 .5-.1 .5 .4 .5-.1 .5-.1 .5 .1 .5 .2 .5 .1 .5-.2 .5-.2 .5 .4 .5-.5 .5 0 .5 .2 .5 0 .5 .2 .5-.2 .5 .3 .5-.4 .5 .1 .5 .5 .5-.5 .5 0 .5 .2 .5 .2 .5 0 .5-.5 .5-.2 .5 .1 .5 .2 .5 .3 .5 .1 .5-.5 .5 0 .5 .4 .5-.2 .5 0 .5 .3 .5-.1 .5-.5 .5 .4 .5-.1 .5 .2 .5-.6 .5 .3 .5-.1 .5 .2 .5-.3 .5 .5 .5-.5 .5 .6 .5 .1 .5-.5 .5 .6 .5 0 .5-.6 .5-.3 .5 .1 .5 0 .5 .8 .5-.1 .5-.2 .5 .2 .5 .2 .5-1.1 .5 .2 .5-.7 .5 1.6 .5-.2 .5 .3 .5-.5 .5 .1 .5-.9 .5-.1 .5 2.1 .5-3.4 .5 3.2 .5-2.4 .5 .4 .5 .9 .5-3.1 .5-1.8 .5 3.4 .5 1.5 .5 .2 .5-1.6 .5 1.5 .5-.3 .5-.2 .5 .5 .5-1 .5 1.7 .5-1.3 .5 .5 .5 .1 .5-.2 .5 .4 .5-.4 .5 .3 .5-.8 .5 .7 .5-.2 .5-.5 .5 .4 .5-.4 .5-.5 .5-1.2 .5-1.2 .5-1.7 .5-1.3 .5-.6 .5 .4 .5 1.2 .5 2 .5 1.7 .5 .9 .5 .5 .5 .3 .5-.1 .5 .1 .5 .1 .5 0 .5 .1 .5 0 .5 .1 .5-.2 .5-.2 .5-.1 .5-.2 .5 .6 .5-.1 .5-.1 .5-.2 .5 .3 .5 .2 .5 0 .5 .2 .5-.3 .5 0 .5 .1 .5-.6 .5 .5 .5-.4 .5 .3 .5-.4 .5 .1 .5 0 .5 .1 .5 .3 .5-.4 .5 .4 .5 0 .5-.5 .5 .5 .5 .2 .5-.5 .5 .2 .5 .2 .5-.4 .5 0 .5 .1 .5 0 .5-.2 .5 .1" fill="none" stroke="#a49a22" stroke-width="1.4" stroke-linejoin="round"/>
<line x1="371.78" y1="136.90" x2="371.78" y2="120.00" stroke="#a49a22" stroke-width="1.1"/>
<line x1="502.05" y1="137.90" x2="502.05" y2="120.90" stroke="#a49a22" stroke-width="1.1"/>
<path d="M356.5 143.1l.5 .6 .5-.4 .5 .2 .5-1.1 .5-.2 .5-1.1 .5 .5 .5-.4 .5-.6 .5-.2 .5-.1 .5-.3 .5-.2 .5-.2 .5-2 .5 1.5 .5 1.7 .5-3.2 .5-.9 .5 2.1 .5-.4 .5 .4 .5-.7 .5 0 .5 1.8 .5 .9 .5 1 .5 1.8 .5 1 .5 1.1 .5-.7 .5-.1 .5-2 .5-.6 .5-2.7 .5 .4 .5-.5 .5-1.1 .5 1.1 .5 .3 .5-2.6 .5 1.2 .5-.6 .5-1 .5 3.4 .5-.1 .5-.1 .5 1.6 .5 0 .5-.8 .5 1 .5 .3 .5-.6 .5 1.5 .5-.1 .5 0 .5 .6 .5 .4 .5-.2 .5 .6 .5 0 .5 .3 .5 .7 L388.0 145.4 L356.5 145.4 Z" fill="#7e7620" stroke="none"/>
<path d="M297 145.3l.5 .3 .5-.5 .5-.1 .5 .2 .5-.2 .5 .3 .5 0 .5 0 .5 0 .5-.3 .5 .3 .5-.5 .5 .4 .5 .7 .5-.4 .5-.5 .5 .5 .5-.1 .5-.2 .5-.3 .5 .6 .5 0 .5 .2 .5-.1 .5 .8 .5-1 .5-1.9 .5 1.2 .5 .9 .5-.9 .5 1.5 .5-2 .5 .7 .5 0 .5-.2 .5 1.1 .5-6.3 .5 1.8 .5 .2 .5 1.8 .5-.2 .5 1.4 .5-2.1 .5 1.1 .5 1.6 .5-.4 .5-1.5 .5-1.7 .5 2.5 .5 .5 .5 0 .5 .8 .5-.5 .5-.6 .5-2.8 .5 2.9 .5-1.8 .5 .8 .5-2.3 .5 1.3 .5 0 .5 .7 .5-.1 .5 .7 .5 .1 .5 .6 .5 .3 .5 0 .5-.2 .5 .2 .5-.3 .5-.2 .5 .8 .5 .8 .5-.6 .5 .1 .5 .2 .5-.2 .5-.3 .5 .1 .5 .9 .5-.6 .5 .4 .5-.1 .5-.4 .5 .6 .5-.3 .5-.7 .5 .4 .5 .2 .5-.5 .5 .5 .5 .1 .5-.3 .5 .1 .5-.1 .5 .1 .5 0 .5-.2 .5-.4 .5 .2 .5 .1 .5 .3 .5-.3 .5-.4 .5 .4 .5-.2 .5-.1 .5 .2 .5 .1 .5 .1 .5-.6 .5 0 .5 .2 .5-.2 .5-.7 .5-.4 .5 .8 .5-1.1 .5 .6 .5-.4 .5 .2 .5-1.1 .5-.2 .5-1.1 .5 .5 .5-.4 .5-.6 .5-.2 .5-.1 .5-.3 .5-.2 .5-.2 .5-2 .5 1.5 .5 1.7 .5-3.2 .5-.9 .5 2.1 .5-.4 .5 .4 .5-.7 .5 0 .5 1.8 .5 .9 .5 1 .5 1.8 .5 1 .5 1.1 .5-.7 .5-.1 .5-2 .5-.6 .5-2.7 .5 .4 .5-.5 .5-1.1 .5 1.1 .5 .3 .5-2.6 .5 1.2 .5-.6 .5-1 .5 3.4 .5-.1 .5-.1 .5 1.6 .5 0 .5-.8 .5 1 .5 .3 .5-.6 .5 1.5 .5-.1 .5 0 .5 .6 .5 .4 .5-.2 .5 .6 .5 0 .5 .3 .5 .7 .5-.9 .5 .4 .5 .2 .5 .1 .5 0 .5-.2 .5 .4 .5-.4 .5 .6 .5-.4 .5-.5 .5 0 .5 .8 .5 .3 .5-.3 .5 0 .5 0 .5-.1 .5 0 .5-.3 .5 .3 .5 .2 .5-.2 .5 .2 .5 .1 .5-.6 .5 .4 .5-.1 .5 .3 .5-.1 .5 0 .5-.5 .5 .6 .5-.4 .5 0 .5 .1 .5 .2 .5-.2 .5 .6 .5-.1 .5-.5 .5 .1 .5-.2 .5-.1 .5 .1 .5 .4 .5-.2 .5-.2 .5 .1 .5-.2 .5 .3 .5 .1 .5 .3 .5-.3 .5-.2 .5-.1 .5 .8 .5-.7 .5 .1 .5-.4 .5 .3 .5 0 .5 0 .5-2 .5-13.9 .5-36.6 .5-21.2 .5-1.8 .5-2.7 .5 .4 .5 1.5 .5 10.6 .5 10.6 .5 18.2 .5 12.7 .5 9.9 .5 6.3 .5 4 .5 1.9 .5 .8 .5 .6 .5-.1 .5 .6 .5-.2 .5-.2 .5 .5 .5 0 .5-.3 .5 .4 .5-.1 .5 .1 .5-.3 .5 .6 .5-.4 .5 .2 .5 .3 .5-.4 .5 .2 .5 .2 .5-.5 .5 0 .5 .2 .5 .2 .5-.3 .5 .4 .5-.1 .5-.2 .5-.1 .5 .5 .5-.5 .5 .3 .5-.7 .5 .5 .5 0 .5 0 .5 .2 .5-.1 .5-.4 .5 .6 .5-.3 .5 .3 .5-.4 .5 .1 .5 .1 .5-.3 .5 .3 .5-.1 .5-.2 .5 .4 .5-.1 .5-.4 .5 .5 .5 .1 .5-.1 .5-.4 .5 .1 .5 0 .5 .3 .5-.5 .5 .4 .5 0 .5-.5 .5 .7 .5-.2 .5-.5 .5 .3 .5 .3 .5-.4 .5-.2 .5 .2 .5 .1 .5 .2 .5 0 .5-.3 .5-.3 .5 .3 .5 0 .5 .2 .5 .4 .5-.8 .5 .9 .5-.4 .5 .3 .5-1.3 .5 .8 .5 .4 .5-.5 .5 .1 .5-.1 .5 0 .5-.1 .5 .8 .5-.9 .5 .1 .5 1.2 .5-.9 .5-.3 .5 2.3 .5-3.9 .5 2.4 .5-.4 .5 2.1 .5-1.8 .5-1.2 .5 .6 .5-.7 .5 2.6 .5-1.6 .5 0 .5-1.2 .5-.5 .5-2.3 .5 2 .5 .8 .5 1.3 .5-.3 .5 .4 .5 .8 .5-1 .5 .4 .5-.8 .5-.2 .5 .4 .5-.1 .5 .3 .5-.3 .5 0 .5-.3 .5 .8 .5-.6 .5 .1 .5 .6 .5 .3 .5-.2 .5-.4 .5-.1 .5-1.4 .5-.4 .5-1.4 .5-1.3 .5-.4 .5 .4 .5 .5 .5 1.8 .5 .9 .5 .7 .5 0 .5 .7 .5-.3 .5 .5 .5-.4 .5 .1 .5-.5 .5 .7 .5-.2 .5 .2 .5 .1 .5-.5 .5-.1 .5 .2 .5 .3 .5-.2 .5 .1 .5-.2 .5 0 .5-.1 .5 .5 .5-.1 .5-.1 .5 .4 .5-.1 .5-.5 .5 .4 .5-.1 .5 0 .5-.4 .5 .4 .5-.2 .5 .3 .5-.2 .5 0 .5 .2 .5-.4 .5 .4 .5 .1 .5-.3 .5-.1 .5 0 .5 0 .5 .1 .5-.2 .5 .5 .5-.3 .5 .1" fill="none" stroke="#7e7620" stroke-width="1.4" stroke-linejoin="round"/>
<line x1="371.78" y1="145.40" x2="371.78" y2="132.00" stroke="#7e7620" stroke-width="1.1"/>
<line x1="502.05" y1="146.40" x2="502.05" y2="136.40" stroke="#7e7620" stroke-width="1.1"/>
<path d="M356.5 153.5l.5-.5 .5-.1 .5-.1 .5 .1 .5 .2 .5-.1 .5-.6 .5 0 .5-.1 .5 .1 .5-.3 .5 .6 .5-.6 .5 .4 .5 .1 .5-.9 .5 .5 .5 .1 .5-.1 .5-.2 .5 .2 .5-.2 .5 .5 .5-.2 .5 .3 .5 .3 .5-.2 .5 .4 .5 .1 .5 .5 .5-.1 .5-.7 .5 .5 .5-.9 .5-.4 .5 .3 .5-.2 .5-.2 .5 0 .5 .1 .5-.4 .5 .4 .5-.3 .5 .7 .5-.7 .5 .2 .5 .8 .5 .2 .5-.4 .5-.1 .5 .6 .5-.3 .5 0 .5 .6 .5-.4 .5 .5 .5-.8 .5 .4 .5 .5 .5-.2 .5-.2 .5 0 .5 .4 L388.0 153.5 L356.5 153.5 Z" fill="#4a4415" stroke="none"/>
<path d="M297 153.6l.5 .1 .5 0 .5 .1 .5-.7 .5 .6 .5 0 .5-.2 .5 .1 .5-.3 .5 .1 .5 0 .5-.2 .5 .1 .5 .3 .5-.1 .5-.5 .5 1.4 .5-2 .5 1.3 .5-.5 .5 .4 .5 .2 .5-.1 .5-.1 .5-.2 .5 .9 .5-1.4 .5 1.4 .5-1.1 .5 .5 .5 .3 .5-.5 .5-.7 .5 .5 .5 .2 .5-1.5 .5 .3 .5-1.7 .5 1 .5 .9 .5-1.5 .5 2.2 .5-.8 .5-1 .5 .9 .5 1.9 .5 .6 .5-.9 .5-2.5 .5 2.5 .5 1.2 .5-.1 .5-1.1 .5 0 .5-.6 .5-1.1 .5-.5 .5-1 .5 1.8 .5-1.1 .5 1.6 .5 0 .5-.5 .5-.5 .5 .4 .5 1.3 .5-1.6 .5 2 .5-1.3 .5 .2 .5 1.3 .5-1.8 .5 .6 .5 .7 .5 0 .5-.1 .5-.2 .5-.3 .5 .3 .5-.5 .5 .5 .5-.2 .5 .2 .5 .2 .5-.8 .5 .7 .5-.1 .5-.3 .5 .6 .5-.5 .5 .2 .5-.2 .5-.6 .5 .9 .5-.2 .5 .6 .5-.6 .5-.3 .5 .7 .5-.5 .5 0 .5 0 .5 .6 .5 0 .5-.6 .5 .1 .5 .3 .5-.4 .5 .1 .5 0 .5 .4 .5-.1 .5-.4 .5-.2 .5 .2 .5-.1 .5-.3 .5 .2 .5 .4 .5-.5 .5-.1 .5-.1 .5 .1 .5 .2 .5-.1 .5-.6 .5 0 .5-.1 .5 .1 .5-.3 .5 .6 .5-.6 .5 .4 .5 .1 .5-.9 .5 .5 .5 .1 .5-.1 .5-.2 .5 .2 .5-.2 .5 .5 .5-.2 .5 .3 .5 .3 .5-.2 .5 .4 .5 .1 .5 .5 .5-.1 .5-.7 .5 .5 .5-.9 .5-.4 .5 .3 .5-.2 .5-.2 .5 0 .5 .1 .5-.4 .5 .4 .5-.3 .5 .7 .5-.7 .5 .2 .5 .8 .5 .2 .5-.4 .5-.1 .5 .6 .5-.3 .5 0 .5 .6 .5-.4 .5 .5 .5-.8 .5 .4 .5 .5 .5-.2 .5-.2 .5 0 .5 .4 .5 .1 .5-.5 .5-.2 .5 .4 .5 .1 .5-.1 .5-.3 .5 .2 .5 .3 .5-.4 .5 .5 .5-.3 .5 .2 .5-.1 .5 0 .5-.5 .5 .3 .5 .1 .5 .1 .5 0 .5 .2 .5-.4 .5-.2 .5-.1 .5 .3 .5 .1 .5 .1 .5 0 .5-.2 .5 .4 .5-.3 .5 .1 .5-.2 .5 .4 .5-.3 .5 .4 .5-.2 .5-.1 .5-.1 .5 .1 .5-.2 .5 .5 .5-.4 .5-.2 .5 .1 .5 .4 .5-.2 .5 0 .5-.3 .5 .5 .5-.2 .5-.1 .5 .2 .5-.2 .5-.1 .5-.3 .5 .8 .5-.1 .5 .3 .5 .1 .5-.5 .5-.2 .5 0 .5-.7 .5-2.7 .5-7 .5-5.5 .5 .4 .5-.7 .5-.1 .5 .6 .5 2.8 .5 2.7 .5 2.6 .5 2.9 .5 1.5 .5 2 .5 .5 .5 .4 .5 0 .5 .2 .5-.1 .5 .3 .5-.2 .5 0 .5 0 .5 .5 .5 .1 .5-.2 .5-.1 .5-.3 .5 .3 .5 0 .5-.5 .5 .4 .5-.1 .5-.1 .5 .2 .5 .4 .5-.1 .5-.5 .5 0 .5 .3 .5-.6 .5 .7 .5-.7 .5 .5 .5 .2 .5-.3 .5 .7 .5-.5 .5-.2 .5-.1 .5 0 .5 .2 .5 .4 .5-.6 .5 0 .5 .4 .5-.3 .5-.1 .5-.1 .5 .1 .5 .1 .5 .3 .5 .1 .5-.4 .5-.3 .5 .4 .5 .2 .5-.3 .5-.1 .5-.2 .5 .6 .5-.2 .5 .2 .5 0 .5 .2 .5 .1 .5-.5 .5-.2 .5 .4 .5-.1 .5 .1 .5-.4 .5 .2 .5 0 .5 0 .5 .1 .5-.2 .5-.2 .5-.1 .5 .5 .5-.7 .5 1.5 .5-.7 .5-.4 .5 0 .5 .6 .5-.7 .5 .1 .5-.2 .5 .7 .5 .1 .5-.2 .5-.3 .5-.1 .5-.4 .5 .2 .5-.8 .5 .6 .5 .4 .5 1 .5 .4 .5 .4 .5-1.7 .5-.3 .5 0 .5 1.8 .5 .4 .5-2 .5 .1 .5 1.1 .5-2 .5-1.3 .5 1 .5 1.3 .5-.9 .5-.3 .5 .9 .5-2.2 .5 2.5 .5-2 .5 1.4 .5-.8 .5 2.4 .5 .6 .5-2.2 .5 .3 .5 1.3 .5 .1 .5-.4 .5-1.4 .5 .2 .5-.1 .5 .9 .5-.3 .5-.6 .5 1.2 .5-1.8 .5 1.4 .5-.7 .5 .3 .5-.1 .5 .8 .5-1.3 .5 0 .5 .3 .5-1 .5-.1 .5-.1 .5-.3 .5 .6 .5 .7 .5 .1 .5 .4 .5-.1 .5 .4 .5 .2 .5-.3 .5 .2 .5-.5 .5 .1 .5-.1 .5 .5 .5 .1 .5-.2 .5-.1 .5 0 .5 0 .5-.2 .5 .1 .5 0 .5 0 .5-.2 .5 .4 .5 .1 .5-.2 .5 .6 .5-.3 .5-.5 .5-.1 .5 .3 .5 .1 .5 0 .5-.6 .5 .7 .5-.1 .5 0 .5 .2 .5-.2 .5-.4 .5 .3 .5-.4 .5 .5 .5-.1 .5 .1 .5 .1 .5-.6 .5 .6 .5-.3 .5 .4 .5-.6 .5 .6" fill="none" stroke="#4a4415" stroke-width="1.4" stroke-linejoin="round"/>
<line x1="371.78" y1="153.50" x2="371.78" y2="147.00" stroke="#4a4415" stroke-width="1.1"/>
<line x1="502.05" y1="154.50" x2="502.05" y2="150.50" stroke="#4a4415" stroke-width="1.1"/>
<path d="M356.5 161.6l.5 .1 .5 0 .5-.1 .5 .3 .5 .2 .5-.7 .5 .5 .5-.5 .5 .1 .5 .7 .5-.3 .5 0 .5-.9 .5 .3 .5 .5 .5-.7 .5 .8 .5-.6 .5 .1 .5-.1 .5 .1 .5-.1 .5 .4 .5-.3 .5-.2 .5 .7 .5-.2 .5-.3 .5 .5 .5 0 .5-.4 .5 .2 .5 .1 .5 .1 .5-.6 .5 .5 .5-.3 .5 .2 .5-.4 .5 .1 .5 .1 .5-.4 .5 .2 .5-.1 .5 .1 .5 .4 .5-.4 .5 0 .5 .7 .5-.2 .5 .1 .5-.3 .5-.1 .5 0 .5 .7 .5-.9 .5 .6 .5 .1 .5-.5 .5-.1 .5 .2 .5 0 .5 .4 L388.0 161.8 L356.5 161.8 Z" fill="#36321a" stroke="none"/>
<path d="M297 162l.5 0 .5-.1 .5 .3 .5-.2 .5 .1 .5-.4 .5 .2 .5 0 .5 .3 .5-.3 .5 .2 .5-.3 .5 .2 .5 0 .5-.3 .5-.4 .5 .8 .5-.7 .5 .3 .5-.5 .5 1.3 .5-.4 .5-.1 .5-.9 .5 .3 .5 .5 .5 .1 .5 .4 .5-.4 .5-.2 .5-.8 .5 .6 .5-.5 .5 1.6 .5-1.3 .5 1.9 .5 1 .5-.9 .5 1.3 .5-3.1 .5 2.3 .5-1.2 .5-1.5 .5 2 .5-1.2 .5-1.8 .5 2.5 .5 1.4 .5-.9 .5-3.5 .5 1.8 .5 .7 .5-.1 .5-.1 .5 .9 .5-1.1 .5 2.5 .5-1.4 .5-.6 .5-.1 .5-1 .5 1.5 .5 .3 .5 1.3 .5-2.2 .5-.6 .5 1.4 .5-.1 .5-1.2 .5 .2 .5 1.2 .5-.7 .5 .3 .5-.6 .5 .3 .5-.4 .5-.6 .5 1.1 .5 .2 .5-.9 .5 .5 .5-.2 .5-.1 .5-.2 .5 .4 .5-.2 .5-.5 .5 .6 .5-.1 .5 .2 .5-.1 .5-.2 .5-.1 .5 .3 .5-.3 .5 .3 .5-.3 .5 0 .5 .3 .5 0 .5-.4 .5 .3 .5 0 .5-.4 .5 .3 .5 .4 .5-.9 .5 .4 .5 .2 .5 .3 .5-.6 .5 .2 .5-.3 .5 .1 .5 .5 .5-1 .5 .5 .5 .3 .5-.3 .5 .1 .5 0 .5-.1 .5 .3 .5 .2 .5-.7 .5 .5 .5-.5 .5 .1 .5 .7 .5-.3 .5 0 .5-.9 .5 .3 .5 .5 .5-.7 .5 .8 .5-.6 .5 .1 .5-.1 .5 .1 .5-.1 .5 .4 .5-.3 .5-.2 .5 .7 .5-.2 .5-.3 .5 .5 .5 0 .5-.4 .5 .2 .5 .1 .5 .1 .5-.6 .5 .5 .5-.3 .5 .2 .5-.4 .5 .1 .5 .1 .5-.4 .5 .2 .5-.1 .5 .1 .5 .4 .5-.4 .5 0 .5 .7 .5-.2 .5 .1 .5-.3 .5-.1 .5 0 .5 .7 .5-.9 .5 .6 .5 .1 .5-.5 .5-.1 .5 .2 .5 0 .5 .4 .5-1.1 .5 1 .5-.3 .5 .3 .5-.3 .5 .6 .5-.2 .5-.4 .5 .6 .5-.5 .5 .2 .5-.2 .5-.2 .5 .4 .5-.5 .5 .2 .5 .2 .5-.3 .5 .3 .5 0 .5 .6 .5-.4 .5-.1 .5-.1 .5-.1 .5 .4 .5-.6 .5 .4 .5-.4 .5 .4 .5 .1 .5 .1 .5-.6 .5 .4 .5-.1 .5 .4 .5-.3 .5-.7 .5 .9 .5-.1 .5-.1 .5-.1 .5 0 .5-.1 .5-.2 .5 .4 .5-.2 .5-.1 .5 .4 .5-.4 .5 .1 .5 0 .5 .4 .5-.2 .5-.1 .5 .2 .5-.3 .5-.4 .5 .4 .5 .1 .5-.4 .5 .5 .5 .1 .5-.4 .5-.6 .5-.9 .5-1 .5-.5 .5 .3 .5 .2 .5 .1 .5 .2 .5 .3 .5 .6 .5 .6 .5 .4 .5 .3 .5-.2 .5 .7 .5-.5 .5 .4 .5-.2 .5-.4 .5 .2 .5 .3 .5 0 .5-.1 .5-.2 .5 .7 .5-.8 .5 0 .5 .4 .5 .2 .5-.1 .5-.4 .5 .1 .5 .2 .5-.3 .5 .1 .5-.3 .5 .2 .5 0 .5-.1 .5 .2 .5-.1 .5 .1 .5-.3 .5 .2 .5-.2 .5 .4 .5-.1 .5 .2 .5-.4 .5 .3 .5 0 .5-.4 .5 .5 .5 0 .5-.2 .5 0 .5 .2 .5 0 .5 .1 .5-.5 .5 .6 .5-.1 .5-.6 .5 .3 .5 .3 .5-.2 .5 .1 .5-.4 .5 .3 .5 .1 .5-.4 .5 .1 .5 .3 .5-.3 .5-.1 .5 .4 .5-.2 .5 .3 .5-.3 .5 .2 .5-.5 .5 .5 .5-.2 .5 .1 .5-.3 .5 .6 .5-.4 .5-.1 .5 .5 .5-.7 .5 .1 .5 .3 .5 .2 .5 0 .5-.6 .5 .4 .5 .4 .5 0 .5-.9 .5 .4 .5 0 .5-.2 .5 .1 .5 0 .5-.9 .5 1.7 .5-.2 .5-.8 .5-.4 .5 1.6 .5-.5 .5 2.2 .5-2 .5-2.4 .5 1.9 .5-1.3 .5-.2 .5 1.7 .5-.5 .5 .5 .5 .3 .5 .5 .5-1.3 .5 .1 .5 2.7 .5-4.1 .5 4.8 .5-1.1 .5-.9 .5 .2 .5-.2 .5-1.5 .5-.7 .5 1.7 .5-1.1 .5-.6 .5 .2 .5-.5 .5 .3 .5 1.4 .5-1.2 .5 1.9 .5-1.1 .5-.3 .5 .3 .5-.6 .5 1.5 .5-.7 .5 1.1 .5-1 .5-.3 .5-.9 .5 1.3 .5-.4 .5-.4 .5 .1 .5-.2 .5 .5 .5 0 .5-.2 .5 .7 .5-.7 .5 .2 .5-.2 .5 0 .5 .2 .5-.5 .5 0 .5 1.1 .5-.9 .5 .6 .5-.7 .5 .7 .5 .1 .5 .5 .5-1.5 .5 .2 .5 .7 .5-.1 .5-.6 .5 .5 .5-.3 .5 0 .5 0 .5 0 .5 .6 .5-.4 .5-.3 .5 .2 .5-.1 .5 .3 .5 .6 .5-.7 .5-.5 .5 .5 .5 0 .5 .1 .5-.5 .5 .2 .5 .2 .5-.4 .5 .1 .5-.1 .5 .6 .5 0 .5 0 .5-.4 .5 0 .5 .5 .5-.4" fill="none" stroke="#36321a" stroke-width="1.4" stroke-linejoin="round"/>
<line x1="371.78" y1="161.80" x2="371.78" y2="159.00" stroke="#36321a" stroke-width="1.1"/>
</g>
<rect x="23" y="1" width="241" height="169.9" fill="none" stroke="#000" stroke-width="1.6"/>
<rect x="297" y="1" width="228" height="169.9" fill="none" stroke="#000" stroke-width="1.6"/>
<line x1="23.00" y1="170.90" x2="23.00" y2="174.40" stroke="#222" stroke-width="1.2"/>
<line x1="103.33" y1="170.90" x2="103.33" y2="174.40" stroke="#222" stroke-width="1.2"/>
<line x1="183.67" y1="170.90" x2="183.67" y2="174.40" stroke="#222" stroke-width="1.2"/>
<line x1="264.00" y1="170.90" x2="264.00" y2="174.40" stroke="#222" stroke-width="1.2"/>
<line x1="63.17" y1="170.90" x2="63.17" y2="172.90" stroke="#222" stroke-width="1.2"/>
<line x1="143.50" y1="170.90" x2="143.50" y2="172.90" stroke="#222" stroke-width="1.2"/>
<line x1="223.83" y1="170.90" x2="223.83" y2="172.90" stroke="#222" stroke-width="1.2"/>
<text x="23.0" y="186.6" font-size="11.3" fill="#222" text-anchor="middle">4000</text>
<text x="103.3" y="186.6" font-size="11.3" fill="#222" text-anchor="middle">3000</text>
<text x="183.7" y="186.6" font-size="11.3" fill="#222" text-anchor="middle">2000</text>
<text x="264.0" y="186.6" font-size="11.3" fill="#222" text-anchor="middle">1000</text>
<line x1="297.00" y1="170.90" x2="297.00" y2="174.40" stroke="#222" stroke-width="1.2"/>
<line x1="373.00" y1="170.90" x2="373.00" y2="174.40" stroke="#222" stroke-width="1.2"/>
<line x1="449.00" y1="170.90" x2="449.00" y2="174.40" stroke="#222" stroke-width="1.2"/>
<line x1="525.00" y1="170.90" x2="525.00" y2="174.40" stroke="#222" stroke-width="1.2"/>
<line x1="335.00" y1="170.90" x2="335.00" y2="172.90" stroke="#222" stroke-width="1.2"/>
<line x1="411.00" y1="170.90" x2="411.00" y2="172.90" stroke="#222" stroke-width="1.2"/>
<line x1="487.00" y1="170.90" x2="487.00" y2="172.90" stroke="#222" stroke-width="1.2"/>
<text x="297.0" y="186.6" font-size="11.3" fill="#222" text-anchor="middle">4000</text>
<text x="373.0" y="186.6" font-size="11.3" fill="#222" text-anchor="middle">3000</text>
<text x="449.0" y="186.6" font-size="11.3" fill="#222" text-anchor="middle">2000</text>
<text x="525.0" y="186.6" font-size="11.3" fill="#222" text-anchor="middle">1000</text>
<text x="143.6" y="204.5" font-size="11.6" font-weight="bold" fill="#111" text-anchor="middle">Wavenumber (cm<tspan font-size="7.8" dy="-4.20">-1</tspan><tspan dy="4.20">)</tspan></text>
<text x="411" y="204.5" font-size="11.6" font-weight="bold" fill="#111" text-anchor="middle">Wavenumber (cm<tspan font-size="7.8" dy="-4.20">-1</tspan><tspan dy="4.20">)</tspan></text>
<text x="619" y="203.5" font-size="11.6" font-weight="bold" fill="#111" text-anchor="middle">Wavenumber (cm<tspan font-size="7.8" dy="-4.20">-1</tspan><tspan dy="4.20">)</tspan></text>
<text x="9.3" y="85.7" font-size="11.4" font-weight="bold" fill="#111" text-anchor="middle" transform="rotate(-90 9.3 85.7)">Absorptance (a.u.)</text>
<text x="284.8" y="84" font-size="11.4" font-weight="bold" fill="#111" text-anchor="middle" transform="rotate(-90 284.8 84)">Absorptance (a.u.)</text>
<text x="6.5" y="13.8" font-size="19" font-weight="bold" fill="#000" text-anchor="start">a</text>
<text x="276" y="16" font-size="19" font-weight="bold" fill="#000" text-anchor="start">b</text>
<text x="534" y="15" font-size="19" font-weight="bold" fill="#000" text-anchor="start">c</text>
<text x="5.5" y="222.9" font-size="19" font-weight="bold" fill="#000" text-anchor="start">d</text>
<text x="219.5" y="222.9" font-size="19" font-weight="bold" fill="#000" text-anchor="start">e</text>
<text x="377" y="222.9" font-size="19" font-weight="bold" fill="#000" text-anchor="start">f</text>
<text x="526.5" y="222.9" font-size="19" font-weight="bold" fill="#000" text-anchor="start">g</text>
<text x="29.5" y="23.9" font-size="9" font-weight="bold" fill="#111" text-anchor="start">TDRM at 540 °C</text>
<text x="48.3" y="38.7" font-size="9" font-weight="bold" fill="#111" text-anchor="start">5 °C/min</text>
<text x="29.5" y="50.1" font-size="9" font-weight="bold" fill="#111" text-anchor="start">TDRM at 300 °C</text>
<line x1="44.30" y1="39.60" x2="44.30" y2="31.00" stroke="#111" stroke-width="1"/>
<path d="M42.6 32.5 L44.3 27 L46 32.5 Z" fill="#111"/>
<text x="302" y="17.2" font-size="8.7" font-weight="bold" fill="#111" text-anchor="start">PDRM at 540 °C</text>
<text x="320.6" y="30.6" font-size="8.7" font-weight="bold" fill="#111" text-anchor="start">5 °C/min</text>
<text x="302" y="41.8" font-size="8.7" font-weight="bold" fill="#111" text-anchor="start">PDRM at 300 °C</text>
<line x1="313.40" y1="31.50" x2="313.40" y2="24.00" stroke="#111" stroke-width="0.8"/>
<path d="M312.2 25 L313.4 20.8 L314.6 25 Z" fill="#111"/>
<rect x="33.8" y="88.3" width="28.300000000000004" height="79.00000000000001" fill="none" stroke="#6a6a6a" stroke-width="1.1" stroke-dasharray="3 2.2"/>
<rect x="82.2" y="78.8" width="40.3" height="87.89999999999999" fill="none" stroke="#6a6a6a" stroke-width="1.1" stroke-dasharray="3 2.2"/>
<rect x="136.6" y="71.5" width="40.20000000000002" height="94.80000000000001" fill="none" stroke="#6a6a6a" stroke-width="1.1" stroke-dasharray="3 2.2"/>
<text x="40" y="84.7" font-size="9" font-weight="bold" fill="#111" text-anchor="start">OH*</text>
<text x="105" y="72.7" font-size="9" font-weight="bold" fill="#111" text-anchor="start">CH<tspan font-size="6" dy="2.20">4</tspan></text>
<text x="133.1" y="67.3" font-size="9" font-weight="bold" fill="#111" text-anchor="start">CO<tspan font-size="6.5" dy="2.20">2</tspan></text>
<rect x="304.5" y="89" width="30.69999999999999" height="76" fill="none" stroke="#6a6a6a" stroke-width="1.1" stroke-dasharray="3 2.2"/>
<rect x="352.4" y="83.5" width="37.900000000000034" height="82.30000000000001" fill="none" stroke="#6a6a6a" stroke-width="1.1" stroke-dasharray="3 2.2"/>
<rect x="414.5" y="82" width="21.80000000000001" height="80.69999999999999" fill="none" stroke="#6a6a6a" stroke-width="1.1" stroke-dasharray="3 2.2"/>
<text x="315.3" y="84.7" font-size="9" font-weight="bold" fill="#111" text-anchor="start">OH*</text>
<text x="374.8" y="78.8" font-size="9" font-weight="bold" fill="#111" text-anchor="start">CH<tspan font-size="6" dy="2.20">4</tspan></text>
<text x="403.7" y="77.9" font-size="9" font-weight="bold" fill="#111" text-anchor="start">CO<tspan font-size="6.5" dy="2.20">2</tspan></text>
<line x1="231.90" y1="8.00" x2="231.90" y2="18.30" stroke="#111" stroke-width="1.6"/>
<text x="235.5" y="15.1" font-size="9" font-weight="bold" fill="#111" text-anchor="start">0.05</text>
<text x="203.7" y="28.7" font-size="9" font-weight="bold" fill="#111" text-anchor="start">CH<tspan font-size="6" dy="2.20">4</tspan></text>
<path d="M222.6 25.4 L239.6 25.4 L239.6 146.0" fill="none" stroke="#777" stroke-width="1" stroke-dasharray="2.6 2.2"/>
<text x="238.9" y="46.7" font-size="9" fill="#333" text-anchor="start" transform="rotate(-90 238.9 46.7)">1302</text>
<text x="193.7" y="46.6" font-size="9" font-weight="bold" fill="#111" text-anchor="start">m-CO<tspan font-size="6.3" dy="2.25">3</tspan><tspan font-size="5.58" dy="-5.58">2-</tspan></text>
<path d="M220.0 50.6 L236.2 50.6 L236.2 146.0" fill="none" stroke="#777" stroke-width="1" stroke-dasharray="2.6 2.2"/>
<text x="234.5" y="71.8" font-size="9" fill="#333" text-anchor="start" transform="rotate(-90 234.5 71.8)">1350</text>
<text x="200" y="60" font-size="9" font-weight="bold" fill="#1a1ab4" text-anchor="start">OH*</text>
<path d="M200.0 61.4 L215.9 61.4 L215.9 163.0" fill="none" stroke="#3a3ab8" stroke-width="1" stroke-dasharray="2.6 2.2"/>
<text x="225.6" y="90.4" font-size="9" fill="#333" text-anchor="start" transform="rotate(-90 225.6 90.4)">1600</text>
<text x="241.6" y="64.2" font-size="9" font-weight="bold" fill="#111" text-anchor="start">-CH<tspan font-size="6.5" dy="2.20">2</tspan></text>
<path d="M253.0 73.0 L253.0 68.6 L244.3 68.6 L244.3 146.0" fill="none" stroke="#777" stroke-width="1" stroke-dasharray="2.6 2.2"/>
<text x="254" y="92.2" font-size="9" fill="#333" text-anchor="start" transform="rotate(-90 254 92.2)">1244</text>
<text x="180" y="75" font-size="9" font-weight="bold" fill="#111" text-anchor="start">b-CO<tspan font-size="6.3" dy="2.25">3</tspan><tspan font-size="5.58" dy="-5.58">2-</tspan></text>
<path d="M190.9 78.8 L207.4 78.8 L207.4 161.0" fill="none" stroke="#777" stroke-width="1" stroke-dasharray="2.6 2.2"/>
<text x="206" y="102" font-size="9" fill="#333" text-anchor="start" transform="rotate(-90 206 102)">1707</text>
<line x1="500.50" y1="7.20" x2="500.50" y2="14.30" stroke="#111" stroke-width="1"/>
<text x="501.8" y="14.9" font-size="8" font-weight="bold" fill="#111" text-anchor="start">0.05</text>
<text x="482.9" y="23.3" font-size="9" font-weight="bold" fill="#111" text-anchor="start">CH<tspan font-size="6" dy="2.20">4</tspan></text>
<path d="M487.4 27.7 L502.3 27.7 L502.3 150.0" fill="none" stroke="#777" stroke-width="1" stroke-dasharray="2.6 2.2"/>
<text x="513.2" y="48.4" font-size="9" fill="#333" text-anchor="start" transform="rotate(-90 513.2 48.4)">1302</text>
<text x="466" y="39.7" font-size="9" font-weight="bold" fill="#111" text-anchor="start">m-CO<tspan font-size="6.3" dy="2.25">3</tspan><tspan font-size="5.58" dy="-5.58">2-</tspan></text>
<path d="M483.8 42.9 L499.6 42.9 L499.6 150.0" fill="none" stroke="#777" stroke-width="1" stroke-dasharray="2.6 2.2"/>
<text x="498.6" y="66.8" font-size="9" fill="#333" text-anchor="start" transform="rotate(-90 498.6 66.8)">1350</text>
<text x="449" y="59" font-size="9" font-weight="bold" fill="#ee1c1c" text-anchor="start">-CH<tspan font-size="5.5" dy="2.20">x</tspan></text>
<text x="469.5" y="58.2" font-size="8.6" fill="#333" text-anchor="start">1460</text>
<path d="M479.4 60.8 L490.5 60.8 L490.5 150.0" fill="none" stroke="#777" stroke-width="1" stroke-dasharray="2.6 2.2"/>
<text x="459.6" y="72" font-size="9" font-weight="bold" fill="#ee1c1c" text-anchor="start">COOH<tspan font-size="6.5" dy="-3.00">*</tspan></text>
<path d="M464.0 73.8 L484.3 73.8 L484.3 160.0" fill="none" stroke="#777" stroke-width="1" stroke-dasharray="2.6 2.2"/>
<text x="483.3" y="100" font-size="9" fill="#333" text-anchor="start" transform="rotate(-90 483.3 100)">1538</text>
<text x="439.8" y="84.5" font-size="9" font-weight="bold" fill="#ee1c1c" text-anchor="start">b-CO<tspan font-size="6.3" dy="2.25">3</tspan><tspan font-size="5.58" dy="-5.58">2-</tspan></text>
<path d="M460.4 88.1 L471.5 88.1 L471.5 165.0" fill="none" stroke="#777" stroke-width="1" stroke-dasharray="2.6 2.2"/>
<text x="469.6" y="108.7" font-size="9" fill="#333" text-anchor="start" transform="rotate(-90 469.6 108.7)">1707</text>
<text x="505.2" y="85.4" font-size="8.5" font-weight="bold" fill="#111" text-anchor="start">-CH<tspan font-size="5.8" dy="2.20">2</tspan></text>
<path d="M524.0 91.7 L507.0 91.7 L507.0 160.0" fill="none" stroke="#777" stroke-width="1" stroke-dasharray="2.6 2.2"/>
<text x="509.2" y="100.4" font-size="9" fill="#333" text-anchor="start" textLength="14.8" lengthAdjust="spacingAndGlyphs">1246</text>
<defs>
<linearGradient id="hu" x1="0" x2="1" y1="0" y2="0"><stop offset="0.0000" stop-color="#0450ff"/><stop offset="0.0143" stop-color="#0a70ff"/><stop offset="0.0363" stop-color="#1298ff"/><stop offset="0.0584" stop-color="#0c82ff"/><stop offset="0.0749" stop-color="#0458ff"/><stop offset="0.2203" stop-color="#0456ff"/><stop offset="0.3084" stop-color="#065aff"/><stop offset="0.3965" stop-color="#0c62ff"/><stop offset="0.4405" stop-color="#065aff"/><stop offset="0.5286" stop-color="#085eff"/><stop offset="0.5727" stop-color="#0c66ff"/><stop offset="0.6057" stop-color="#107aff"/><stop offset="0.6333" stop-color="#1282ff"/><stop offset="0.6608" stop-color="#0a68ff"/><stop offset="0.7048" stop-color="#0868ff"/><stop offset="0.7192" stop-color="#12a8ff"/><stop offset="0.7302" stop-color="#20e8d0"/><stop offset="0.7434" stop-color="#20f0a8"/><stop offset="0.7577" stop-color="#30f098"/><stop offset="0.7665" stop-color="#58e0a0"/><stop offset="0.7764" stop-color="#98a868"/><stop offset="0.7852" stop-color="#60e8d8"/><stop offset="0.7941" stop-color="#48f0f8"/><stop offset="0.8216" stop-color="#44ecf8"/><stop offset="0.8436" stop-color="#18a0ff"/><stop offset="0.8811" stop-color="#1490ff"/><stop offset="0.9361" stop-color="#1288ff"/><stop offset="1.0000" stop-color="#1284ff"/></linearGradient>
<linearGradient id="hl" x1="0" x2="1" y1="0" y2="0"><stop offset="0.0000" stop-color="#0238ff"/><stop offset="0.0143" stop-color="#0a70ff"/><stop offset="0.0308" stop-color="#10c8f8"/><stop offset="0.0441" stop-color="#20ecf4"/><stop offset="0.0595" stop-color="#18c4f8"/><stop offset="0.0727" stop-color="#0660ff"/><stop offset="0.0837" stop-color="#0442ff"/><stop offset="0.2203" stop-color="#043eff"/><stop offset="0.3304" stop-color="#0440ff"/><stop offset="0.4185" stop-color="#0648ff"/><stop offset="0.4515" stop-color="#0c58ff"/><stop offset="0.4736" stop-color="#0e60ff"/><stop offset="0.4956" stop-color="#0a50ff"/><stop offset="0.5286" stop-color="#0c58ff"/><stop offset="0.5617" stop-color="#0a58ff"/><stop offset="0.5870" stop-color="#1070ff"/><stop offset="0.6123" stop-color="#1698ff"/><stop offset="0.6300" stop-color="#1490ff"/><stop offset="0.6520" stop-color="#0c60ff"/><stop offset="0.7048" stop-color="#0652ff"/><stop offset="0.7225" stop-color="#12acff"/><stop offset="0.7379" stop-color="#20e0f6"/><stop offset="0.7555" stop-color="#28e4f4"/><stop offset="0.7676" stop-color="#60d0a0"/><stop offset="0.7764" stop-color="#90c048"/><stop offset="0.7852" stop-color="#58c8b8"/><stop offset="0.7963" stop-color="#1ab0ff"/><stop offset="0.8260" stop-color="#16a0ff"/><stop offset="0.8458" stop-color="#0866ff"/><stop offset="0.9031" stop-color="#065aff"/><stop offset="1.0000" stop-color="#0658ff"/></linearGradient>
<linearGradient id="vu" x1="0" x2="0" y1="0" y2="1"><stop offset="0" stop-color="#000" stop-opacity="0"/><stop offset="0.55" stop-color="#000" stop-opacity="0.0"/><stop offset="0.8" stop-color="#0010a0" stop-opacity="0.15"/><stop offset="1" stop-color="#0010a0" stop-opacity="0.22"/></linearGradient>
<radialGradient id="vl" cx="0.5" cy="0.5" r="0.5"><stop offset="0" stop-color="#0008d0" stop-opacity="0.45"/><stop offset="0.55" stop-color="#0008d0" stop-opacity="0.3"/><stop offset="1" stop-color="#0008d0" stop-opacity="0"/></radialGradient>
<linearGradient id="cbar" x1="0" x2="0" y1="0" y2="1"><stop offset="0" stop-color="#b00808" stop-opacity="1"/><stop offset="0.08" stop-color="#f01810" stop-opacity="1"/><stop offset="0.2" stop-color="#ff7a10" stop-opacity="1"/><stop offset="0.3" stop-color="#f8e020" stop-opacity="1"/><stop offset="0.42" stop-color="#88e050" stop-opacity="1"/><stop offset="0.52" stop-color="#30d090" stop-opacity="1"/><stop offset="0.62" stop-color="#20b8e8" stop-opacity="1"/><stop offset="0.75" stop-color="#1060f0" stop-opacity="1"/><stop offset="0.9" stop-color="#1030d8" stop-opacity="1"/><stop offset="1" stop-color="#0818a0" stop-opacity="1"/></linearGradient>
</defs>
<rect x="570" y="1.5" width="90.79999999999995" height="84.1" fill="url(#hu)"/>
<rect x="570" y="1.5" width="90.79999999999995" height="84.1" fill="url(#vu)"/>
<rect x="570" y="87.8" width="90.79999999999995" height="83.8" fill="url(#hl)"/>
<ellipse cx="598" cy="130.5" rx="36" ry="7.5" fill="url(#vl)" fill-opacity="0.75"/>
<rect x="619.8" y="1.5" width="0.7" height="84.1" fill="#ffffff" fill-opacity="0.07"/><rect x="610.9" y="1.5" width="0.5" height="84.1" fill="#ffffff" fill-opacity="0.11"/><rect x="631.1" y="1.5" width="0.7" height="84.1" fill="#ffffff" fill-opacity="0.11"/><rect x="651.5" y="1.5" width="1.2" height="84.1" fill="#ffffff" fill-opacity="0.07"/><rect x="633.2" y="1.5" width="0.5" height="84.1" fill="#0020b0" fill-opacity="0.06"/><rect x="650.0" y="1.5" width="0.6" height="84.1" fill="#0020b0" fill-opacity="0.10"/><rect x="595.9" y="1.5" width="1.2" height="84.1" fill="#0020b0" fill-opacity="0.04"/><rect x="577.1" y="1.5" width="0.9" height="84.1" fill="#ffffff" fill-opacity="0.05"/><rect x="604.0" y="1.5" width="1.1" height="84.1" fill="#ffffff" fill-opacity="0.05"/><rect x="614.2" y="1.5" width="1.1" height="84.1" fill="#ffffff" fill-opacity="0.06"/><rect x="619.1" y="1.5" width="0.9" height="84.1" fill="#ffffff" fill-opacity="0.04"/><rect x="654.5" y="1.5" width="0.6" height="84.1" fill="#0020b0" fill-opacity="0.07"/><rect x="655.9" y="1.5" width="0.8" height="84.1" fill="#0020b0" fill-opacity="0.08"/><rect x="596.9" y="1.5" width="1.1" height="84.1" fill="#0020b0" fill-opacity="0.09"/><rect x="615.5" y="1.5" width="0.7" height="84.1" fill="#0020b0" fill-opacity="0.05"/><rect x="629.7" y="1.5" width="0.8" height="84.1" fill="#0020b0" fill-opacity="0.05"/><rect x="609.4" y="1.5" width="1.1" height="84.1" fill="#ffffff" fill-opacity="0.09"/><rect x="627.8" y="1.5" width="1.3" height="84.1" fill="#0020b0" fill-opacity="0.09"/><rect x="589.7" y="1.5" width="1.1" height="84.1" fill="#0020b0" fill-opacity="0.07"/><rect x="622.9" y="1.5" width="0.9" height="84.1" fill="#0020b0" fill-opacity="0.06"/><rect x="610.4" y="1.5" width="0.5" height="84.1" fill="#ffffff" fill-opacity="0.08"/><rect x="654.6" y="1.5" width="1.2" height="84.1" fill="#ffffff" fill-opacity="0.11"/><rect x="592.6" y="1.5" width="1.2" height="84.1" fill="#ffffff" fill-opacity="0.07"/><rect x="583.1" y="1.5" width="1.2" height="84.1" fill="#0020b0" fill-opacity="0.05"/><rect x="620.7" y="1.5" width="0.7" height="84.1" fill="#ffffff" fill-opacity="0.08"/><rect x="585.8" y="1.5" width="1.2" height="84.1" fill="#ffffff" fill-opacity="0.07"/><rect x="581.8" y="1.5" width="0.5" height="84.1" fill="#ffffff" fill-opacity="0.06"/><rect x="654.0" y="87.8" width="1.2" height="83.8" fill="#ffffff" fill-opacity="0.07"/><rect x="632.4" y="87.8" width="1.2" height="83.8" fill="#ffffff" fill-opacity="0.10"/><rect x="610.1" y="87.8" width="1.0" height="83.8" fill="#0020b0" fill-opacity="0.08"/><rect x="577.5" y="87.8" width="0.5" height="83.8" fill="#ffffff" fill-opacity="0.05"/><rect x="593.9" y="87.8" width="0.5" height="83.8" fill="#ffffff" fill-opacity="0.08"/><rect x="650.5" y="87.8" width="0.8" height="83.8" fill="#ffffff" fill-opacity="0.07"/><rect x="633.5" y="87.8" width="1.1" height="83.8" fill="#0020b0" fill-opacity="0.07"/><rect x="605.4" y="87.8" width="1.2" height="83.8" fill="#ffffff" fill-opacity="0.10"/><rect x="618.9" y="87.8" width="1.1" height="83.8" fill="#ffffff" fill-opacity="0.06"/><rect x="618.0" y="87.8" width="0.5" height="83.8" fill="#ffffff" fill-opacity="0.08"/><rect x="616.6" y="87.8" width="1.2" height="83.8" fill="#ffffff" fill-opacity="0.08"/><rect x="617.7" y="87.8" width="1.0" height="83.8" fill="#0020b0" fill-opacity="0.08"/><rect x="623.7" y="87.8" width="0.9" height="83.8" fill="#0020b0" fill-opacity="0.06"/><rect x="622.9" y="87.8" width="1.0" height="83.8" fill="#ffffff" fill-opacity="0.11"/><rect x="656.3" y="87.8" width="0.7" height="83.8" fill="#ffffff" fill-opacity="0.06"/><rect x="580.9" y="87.8" width="0.5" height="83.8" fill="#ffffff" fill-opacity="0.10"/><rect x="590.6" y="87.8" width="1.1" height="83.8" fill="#ffffff" fill-opacity="0.04"/><rect x="593.0" y="87.8" width="1.0" height="83.8" fill="#ffffff" fill-opacity="0.08"/><rect x="614.6" y="87.8" width="0.7" height="83.8" fill="#ffffff" fill-opacity="0.10"/><rect x="593.7" y="87.8" width="1.1" height="83.8" fill="#ffffff" fill-opacity="0.05"/><rect x="603.9" y="87.8" width="0.6" height="83.8" fill="#0020b0" fill-opacity="0.07"/><rect x="591.6" y="87.8" width="0.5" height="83.8" fill="#ffffff" fill-opacity="0.06"/><rect x="611.7" y="87.8" width="1.0" height="83.8" fill="#0020b0" fill-opacity="0.10"/><rect x="597.1" y="87.8" width="1.0" height="83.8" fill="#0020b0" fill-opacity="0.05"/><rect x="647.9" y="87.8" width="0.8" height="83.8" fill="#0020b0" fill-opacity="0.06"/><rect x="628.9" y="87.8" width="0.9" height="83.8" fill="#ffffff" fill-opacity="0.09"/><rect x="617.1" y="87.8" width="0.8" height="83.8" fill="#0020b0" fill-opacity="0.07"/><rect x="650.0" y="87.8" width="0.8" height="83.8" fill="#ffffff" fill-opacity="0.07"/><rect x="582.0" y="87.8" width="0.7" height="83.8" fill="#ffffff" fill-opacity="0.04"/>
<rect x="570" y="1.5" width="90.79999999999995" height="84.1" fill="none" stroke="#333" stroke-width="1"/>
<rect x="570" y="87.8" width="90.79999999999995" height="83.8" fill="none" stroke="#333" stroke-width="1"/>
<line x1="571.00" y1="86.70" x2="660.30" y2="86.70" stroke="#fff" stroke-width="1.3"/>
<rect x="661.8" y="1.5" width="3.4" height="84.1" fill="url(#cbar)" stroke="#555" stroke-width="0.5"/>
<rect x="661.8" y="87.8" width="3.4" height="83.8" fill="url(#cbar)" stroke="#555" stroke-width="0.5"/>
<line x1="567.50" y1="85.60" x2="570.00" y2="85.60" stroke="#222" stroke-width="1"/>
<text x="566.3" y="89.6" font-size="11.6" fill="#222" text-anchor="end">0</text>
<line x1="567.50" y1="61.57" x2="570.00" y2="61.57" stroke="#222" stroke-width="1"/>
<text x="566.3" y="65.6" font-size="11.6" fill="#222" text-anchor="end">8</text>
<line x1="567.50" y1="37.54" x2="570.00" y2="37.54" stroke="#222" stroke-width="1"/>
<text x="566.3" y="41.5" font-size="11.6" fill="#222" text-anchor="end">16</text>
<line x1="567.50" y1="13.51" x2="570.00" y2="13.51" stroke="#222" stroke-width="1"/>
<text x="566.3" y="17.5" font-size="11.6" fill="#222" text-anchor="end">24</text>
<line x1="568.60" y1="73.59" x2="570.00" y2="73.59" stroke="#222" stroke-width="0.8"/>
<line x1="568.60" y1="49.56" x2="570.00" y2="49.56" stroke="#222" stroke-width="0.8"/>
<line x1="568.60" y1="25.53" x2="570.00" y2="25.53" stroke="#222" stroke-width="0.8"/>
<line x1="567.50" y1="171.60" x2="570.00" y2="171.60" stroke="#222" stroke-width="1"/>
<text x="566.3" y="175.6" font-size="11.6" fill="#222" text-anchor="end">0</text>
<line x1="567.50" y1="147.66" x2="570.00" y2="147.66" stroke="#222" stroke-width="1"/>
<text x="566.3" y="151.7" font-size="11.6" fill="#222" text-anchor="end">8</text>
<line x1="567.50" y1="123.71" x2="570.00" y2="123.71" stroke="#222" stroke-width="1"/>
<text x="566.3" y="127.7" font-size="11.6" fill="#222" text-anchor="end">16</text>
<line x1="567.50" y1="99.77" x2="570.00" y2="99.77" stroke="#222" stroke-width="1"/>
<text x="566.3" y="103.8" font-size="11.6" fill="#222" text-anchor="end">24</text>
<line x1="568.60" y1="159.63" x2="570.00" y2="159.63" stroke="#222" stroke-width="0.8"/>
<line x1="568.60" y1="135.69" x2="570.00" y2="135.69" stroke="#222" stroke-width="0.8"/>
<line x1="568.60" y1="111.74" x2="570.00" y2="111.74" stroke="#222" stroke-width="0.8"/>
<line x1="595.94" y1="171.60" x2="595.94" y2="173.80" stroke="#222" stroke-width="1"/>
<line x1="595.94" y1="84.10" x2="595.94" y2="85.60" stroke="#ddd" stroke-width="0.8"/>
<line x1="612.16" y1="171.60" x2="612.16" y2="173.80" stroke="#222" stroke-width="1"/>
<line x1="612.16" y1="84.10" x2="612.16" y2="85.60" stroke="#ddd" stroke-width="0.8"/>
<line x1="628.37" y1="171.60" x2="628.37" y2="173.80" stroke="#222" stroke-width="1"/>
<line x1="628.37" y1="84.10" x2="628.37" y2="85.60" stroke="#ddd" stroke-width="0.8"/>
<line x1="644.59" y1="171.60" x2="644.59" y2="173.80" stroke="#222" stroke-width="1"/>
<line x1="644.59" y1="84.10" x2="644.59" y2="85.60" stroke="#ddd" stroke-width="0.8"/>
<line x1="660.80" y1="171.60" x2="660.80" y2="173.80" stroke="#222" stroke-width="1"/>
<line x1="660.80" y1="84.10" x2="660.80" y2="85.60" stroke="#ddd" stroke-width="0.8"/>
<text x="595.9" y="185.7" font-size="11.4" fill="#222" text-anchor="middle">2000</text>
<text x="628.4" y="185.7" font-size="11.4" fill="#222" text-anchor="middle">1500</text>
<text x="660.8" y="185.7" font-size="11.4" fill="#222" text-anchor="middle">1000</text>
<text x="572.6" y="21.8" font-size="10.5" font-weight="bold" fill="#fff" text-anchor="start">Dark-CH<tspan font-size="7.3" dy="2.50">4</tspan></text>
<text x="574.4" y="104.3" font-size="10.5" font-weight="bold" fill="#fff" text-anchor="start">Light-CH<tspan font-size="7.3" dy="2.50">4</tspan></text>
<text x="542.1" y="86" font-size="10.8" font-weight="bold" fill="#111" text-anchor="middle" transform="rotate(-90 542.1 86)">Time (min)</text>
<text x="683.2" y="81.6" font-size="11.75" font-weight="bold" fill="#111" text-anchor="middle" transform="rotate(-90 683.2 81.6)">Absorbance (a.u.)</text>
<defs>
<linearGradient id="gy" x1="0" x2="0" y1="0" y2="1"><stop offset="0" stop-color="#e6e060" stop-opacity="0.95"/><stop offset="0.5" stop-color="#e6e060" stop-opacity="0.55"/><stop offset="1" stop-color="#e6e060" stop-opacity="0.1"/></linearGradient>
<linearGradient id="gb" x1="0" x2="0" y1="0" y2="1"><stop offset="0" stop-color="#5a64b4" stop-opacity="0.95"/><stop offset="0.5" stop-color="#5a64b4" stop-opacity="0.55"/><stop offset="1" stop-color="#5a64b4" stop-opacity="0.1"/></linearGradient>
<linearGradient id="gc" x1="0" x2="0" y1="0" y2="1"><stop offset="0" stop-color="#34b4c8" stop-opacity="0.95"/><stop offset="0.5" stop-color="#34b4c8" stop-opacity="0.55"/><stop offset="1" stop-color="#34b4c8" stop-opacity="0.1"/></linearGradient>
</defs>
<clipPath id="cd"><rect x="26.2" y="209.6" width="189.0" height="174.70000000000002"/></clipPath><g clip-path="url(#cd)">
<path d="M38.7 248.4l.5 .2 .5 .2 .5 .1 .5-.1 .5-.1 .5-.1 .5-.2 .5-.2 .5-.3 .5-.3 .5-.3 .5-.4 .5-.4 .5-.4 .5-.5 .5-.4 .5-.4 .5-.4 .5-.4 .5-.3 .5-.2 .5-.1 .5-.1 .5 0 .5 .2 .5 .2 .5 .3 .5 .3 .5 .5 .5 .4 .5 .5 .5 .6 .5 .5 .5 .5 .5 .5 .5 .5 .5 .4 .5 .4 .5 .4 .5 .3 .5 .2 .5 .3 .5 .2 .5 .1 .5 .2 .5 .1 .5 .1 L62.2 251.2 L61.7 251.1 L61.2 251.1 L60.7 251.1 L60.2 251.0 L59.7 251.0 L59.2 250.9 L58.7 250.9 L58.2 250.8 L57.7 250.8 L57.2 250.8 L56.7 250.7 L56.2 250.7 L55.7 250.6 L55.2 250.6 L54.7 250.5 L54.2 250.5 L53.7 250.5 L53.2 250.4 L52.7 250.4 L52.2 250.3 L51.7 250.3 L51.2 250.3 L50.7 250.2 L50.2 250.2 L49.7 250.1 L49.2 250.1 L48.7 250.0 L48.2 250.0 L47.7 250.0 L47.2 249.9 L46.7 249.9 L46.2 249.8 L45.7 249.8 L45.2 249.7 L44.7 249.7 L44.2 249.7 L43.7 249.6 L43.2 249.6 L42.7 249.5 L42.2 249.5 L41.7 249.4 L41.2 249.4 L40.7 249.4 L40.2 249.3 L39.7 249.1 L39.2 248.9 L38.7 248.6 Z" fill="url(#gy)" stroke="none"/>
<path d="M38.7 248.4l.5 .2 .5 .2 .5 .1 .5-.1 .5-.1 .5-.1 .5-.2 .5-.2 .5-.3 .5-.3 .5-.3 .5-.4 .5-.4 .5-.4 .5-.5 .5-.4 .5-.4 .5-.4 .5-.4 .5-.3 .5-.2 .5-.1 .5-.1 .5 0 .5 .2 .5 .2 .5 .3 .5 .3 .5 .5 .5 .4 .5 .5 .5 .6 .5 .5 .5 .5 .5 .5 .5 .5 .5 .4 .5 .4 .5 .4 .5 .3 .5 .2 .5 .3 .5 .2 .5 .1 .5 .2 .5 .1 .5 .1" fill="none" stroke="#cfc832" stroke-width="1.1"/>
<path d="M48.2 249.8l.5 0 .5 0 .5-.1 .5-.1 .5-.1 .5-.2 .5-.2 .5-.2 .5-.3 .5-.3 .5-.4 .5-.4 .5-.5 .5-.4 .5-.5 .5-.5 .5-.5 .5-.4 .5-.4 .5-.3 .5-.3 .5-.1 .5-.1 .5 0 .5 .2 .5 .2 .5 .3 .5 .4 .5 .5 .5 .5 .5 .5 .5 .6 .5 .5 .5 .6 .5 .5 .5 .5 .5 .5 .5 .4 .5 .4 .5 .3 .5 .3 .5 .3 .5 .2 .5 .2 .5 .1 .5 .1 .5 .2 L71.7 251.9 L71.2 251.9 L70.7 251.9 L70.2 251.8 L69.7 251.8 L69.2 251.7 L68.7 251.7 L68.2 251.7 L67.7 251.6 L67.2 251.6 L66.7 251.5 L66.2 251.5 L65.7 251.5 L65.2 251.4 L64.7 251.4 L64.2 251.3 L63.7 251.3 L63.2 251.3 L62.7 251.2 L62.2 251.2 L61.7 251.1 L61.2 251.1 L60.7 251.1 L60.2 251.0 L59.7 251.0 L59.2 250.9 L58.7 250.9 L58.2 250.8 L57.7 250.8 L57.2 250.8 L56.7 250.7 L56.2 250.7 L55.7 250.6 L55.2 250.6 L54.7 250.5 L54.2 250.5 L53.7 250.5 L53.2 250.4 L52.7 250.4 L52.2 250.3 L51.7 250.3 L51.2 250.3 L50.7 250.2 L50.2 250.2 L49.7 250.1 L49.2 250.1 L48.7 250.0 L48.2 250.0 Z" fill="url(#gy)" stroke="none"/>
<path d="M48.2 249.8l.5 0 .5 0 .5-.1 .5-.1 .5-.1 .5-.2 .5-.2 .5-.2 .5-.3 .5-.3 .5-.4 .5-.4 .5-.5 .5-.4 .5-.5 .5-.5 .5-.5 .5-.4 .5-.4 .5-.3 .5-.3 .5-.1 .5-.1 .5 0 .5 .2 .5 .2 .5 .3 .5 .4 .5 .5 .5 .5 .5 .5 .5 .6 .5 .5 .5 .6 .5 .5 .5 .5 .5 .5 .5 .4 .5 .4 .5 .3 .5 .3 .5 .3 .5 .2 .5 .2 .5 .1 .5 .1 .5 .2" fill="none" stroke="#cfc832" stroke-width="1.1"/>
<path d="M52.7 250.2l.5 0 .5 0 .5 0 .5 0 .5-.1 .5 0 .5-.1 .5-.1 .5 0 .5-.2 .5-.1 .5-.1 .5-.2 .5-.2 .5-.3 .5-.2 .5-.3 .5-.3 .5-.4 .5-.3 .5-.5 .5-.4 .5-.5 .5-.4 .5-.6 .5-.5 .5-.5 .5-.6 .5-.6 .5-.5 .5-.6 .5-.6 .5-.5 .5-.6 .5-.5 .5-.4 .5-.5 .5-.4 .5-.3 .5-.3 .5-.2 .5-.2 .5-.1 .5 0 .5 0 .5 .1 .5 .2 .5 .2 .5 .3 .5 .4 .5 .4 .5 .4 .5 .5 .5 .6 .5 .6 .5 .6 .5 .6 .5 .7 .5 .6 .5 .7 .5 .6 .5 .7 .5 .6 .5 .7 .5 .6 .5 .5 .5 .6 .5 .5 .5 .5 .5 .5 .5 .4 .5 .5 .5 .3 .5 .4 .5 .3 .5 .3 .5 .3 .5 .2 .5 .3 .5 .2 .5 .2 .5 .1 .5 .2 .5 .1 .5 .1 .5 .2 .5 .1 .5 .1 .5 0 .5 .1 L97.7 254.3 L97.2 254.2 L96.7 254.2 L96.2 254.1 L95.7 254.1 L95.2 254.0 L94.7 254.0 L94.2 253.9 L93.7 253.9 L93.2 253.9 L92.7 253.8 L92.2 253.8 L91.7 253.7 L91.2 253.7 L90.7 253.6 L90.2 253.6 L89.7 253.5 L89.2 253.5 L88.7 253.4 L88.2 253.4 L87.7 253.3 L87.2 253.3 L86.7 253.2 L86.2 253.2 L85.7 253.1 L85.2 253.1 L84.7 253.0 L84.2 253.0 L83.7 253.0 L83.2 252.9 L82.7 252.9 L82.2 252.8 L81.7 252.8 L81.2 252.7 L80.7 252.7 L80.2 252.6 L79.7 252.6 L79.2 252.5 L78.7 252.5 L78.2 252.5 L77.7 252.4 L77.2 252.4 L76.7 252.3 L76.2 252.3 L75.7 252.3 L75.2 252.2 L74.7 252.2 L74.2 252.1 L73.7 252.1 L73.2 252.1 L72.7 252.0 L72.2 252.0 L71.7 251.9 L71.2 251.9 L70.7 251.9 L70.2 251.8 L69.7 251.8 L69.2 251.7 L68.7 251.7 L68.2 251.7 L67.7 251.6 L67.2 251.6 L66.7 251.5 L66.2 251.5 L65.7 251.5 L65.2 251.4 L64.7 251.4 L64.2 251.3 L63.7 251.3 L63.2 251.3 L62.7 251.2 L62.2 251.2 L61.7 251.1 L61.2 251.1 L60.7 251.1 L60.2 251.0 L59.7 251.0 L59.2 250.9 L58.7 250.9 L58.2 250.8 L57.7 250.8 L57.2 250.8 L56.7 250.7 L56.2 250.7 L55.7 250.6 L55.2 250.6 L54.7 250.5 L54.2 250.5 L53.7 250.5 L53.2 250.4 L52.7 250.4 Z" fill="url(#gb)" stroke="none"/>
<path d="M52.7 250.2l.5 0 .5 0 .5 0 .5 0 .5-.1 .5 0 .5-.1 .5-.1 .5 0 .5-.2 .5-.1 .5-.1 .5-.2 .5-.2 .5-.3 .5-.2 .5-.3 .5-.3 .5-.4 .5-.3 .5-.5 .5-.4 .5-.5 .5-.4 .5-.6 .5-.5 .5-.5 .5-.6 .5-.6 .5-.5 .5-.6 .5-.6 .5-.5 .5-.6 .5-.5 .5-.4 .5-.5 .5-.4 .5-.3 .5-.3 .5-.2 .5-.2 .5-.1 .5 0 .5 0 .5 .1 .5 .2 .5 .2 .5 .3 .5 .4 .5 .4 .5 .4 .5 .5 .5 .6 .5 .6 .5 .6 .5 .6 .5 .7 .5 .6 .5 .7 .5 .6 .5 .7 .5 .6 .5 .7 .5 .6 .5 .5 .5 .6 .5 .5 .5 .5 .5 .5 .5 .4 .5 .5 .5 .3 .5 .4 .5 .3 .5 .3 .5 .3 .5 .2 .5 .3 .5 .2 .5 .2 .5 .1 .5 .2 .5 .1 .5 .1 .5 .2 .5 .1 .5 .1 .5 0 .5 .1" fill="none" stroke="#3a4ab0" stroke-width="1.1"/>
<path d="M68.2 251.5l.5 0 .5 0 .5 0 .5-.1 .5 0 .5-.1 .5-.1 .5-.1 .5-.2 .5-.1 .5-.3 .5-.2 .5-.3 .5-.3 .5-.3 .5-.4 .5-.5 .5-.4 .5-.6 .5-.5 .5-.5 .5-.6 .5-.6 .5-.6 .5-.6 .5-.6 .5-.5 .5-.6 .5-.4 .5-.5 .5-.3 .5-.3 .5-.2 .5-.2 .5 0 .5 0 .5 .2 .5 .2 .5 .3 .5 .3 .5 .5 .5 .5 .5 .5 .5 .7 .5 .6 .5 .7 .5 .6 .5 .7 .5 .7 .5 .7 .5 .6 .5 .7 .5 .6 .5 .5 .5 .6 .5 .5 .5 .4 .5 .4 .5 .4 .5 .3 .5 .3 .5 .3 .5 .2 .5 .2 .5 .2 .5 .2 .5 .1 .5 .2 .5 .1 .5 .1 .5 .1 L103.7 254.8 L103.2 254.8 L102.7 254.7 L102.2 254.7 L101.7 254.7 L101.2 254.6 L100.7 254.6 L100.2 254.5 L99.7 254.5 L99.2 254.4 L98.7 254.4 L98.2 254.3 L97.7 254.3 L97.2 254.2 L96.7 254.2 L96.2 254.1 L95.7 254.1 L95.2 254.0 L94.7 254.0 L94.2 253.9 L93.7 253.9 L93.2 253.9 L92.7 253.8 L92.2 253.8 L91.7 253.7 L91.2 253.7 L90.7 253.6 L90.2 253.6 L89.7 253.5 L89.2 253.5 L88.7 253.4 L88.2 253.4 L87.7 253.3 L87.2 253.3 L86.7 253.2 L86.2 253.2 L85.7 253.1 L85.2 253.1 L84.7 253.0 L84.2 253.0 L83.7 253.0 L83.2 252.9 L82.7 252.9 L82.2 252.8 L81.7 252.8 L81.2 252.7 L80.7 252.7 L80.2 252.6 L79.7 252.6 L79.2 252.5 L78.7 252.5 L78.2 252.5 L77.7 252.4 L77.2 252.4 L76.7 252.3 L76.2 252.3 L75.7 252.3 L75.2 252.2 L74.7 252.2 L74.2 252.1 L73.7 252.1 L73.2 252.1 L72.7 252.0 L72.2 252.0 L71.7 251.9 L71.2 251.9 L70.7 251.9 L70.2 251.8 L69.7 251.8 L69.2 251.7 L68.7 251.7 L68.2 251.7 Z" fill="url(#gc)" stroke="none"/>
<path d="M68.2 251.5l.5 0 .5 0 .5 0 .5-.1 .5 0 .5-.1 .5-.1 .5-.1 .5-.2 .5-.1 .5-.3 .5-.2 .5-.3 .5-.3 .5-.3 .5-.4 .5-.5 .5-.4 .5-.6 .5-.5 .5-.5 .5-.6 .5-.6 .5-.6 .5-.6 .5-.6 .5-.5 .5-.6 .5-.4 .5-.5 .5-.3 .5-.3 .5-.2 .5-.2 .5 0 .5 0 .5 .2 .5 .2 .5 .3 .5 .3 .5 .5 .5 .5 .5 .5 .5 .7 .5 .6 .5 .7 .5 .6 .5 .7 .5 .7 .5 .7 .5 .6 .5 .7 .5 .6 .5 .5 .5 .6 .5 .5 .5 .4 .5 .4 .5 .4 .5 .3 .5 .3 .5 .3 .5 .2 .5 .2 .5 .2 .5 .2 .5 .1 .5 .2 .5 .1 .5 .1 .5 .1" fill="none" stroke="#1ea8c0" stroke-width="1.1"/>
<path d="M99.2 254.2l.5 0 .5 0 .5-.1 .5-.1 .5-.2 .5-.1 .5-.2 .5-.2 .5-.3 .5-.2 .5-.3 .5-.2 .5-.2 .5-.2 .5-.1 .5 0 .5 0 .5 .1 .5 .2 .5 .2 .5 .2 .5 .3 .5 .4 .5 .3 .5 .3 .5 .4 .5 .3 .5 .2 .5 .3 .5 .2 .5 .2 .5 .1 .5 .2 .5 .1 L116.2 256.0 L115.7 255.9 L115.2 255.9 L114.7 255.8 L114.2 255.8 L113.7 255.7 L113.2 255.7 L112.7 255.6 L112.2 255.6 L111.7 255.6 L111.2 255.5 L110.7 255.5 L110.2 255.4 L109.7 255.4 L109.2 255.3 L108.7 255.3 L108.2 255.2 L107.7 255.2 L107.2 255.1 L106.7 255.1 L106.2 255.1 L105.7 255.0 L105.2 255.0 L104.7 254.9 L104.2 254.9 L103.7 254.8 L103.2 254.8 L102.7 254.7 L102.2 254.7 L101.7 254.7 L101.2 254.6 L100.7 254.6 L100.2 254.5 L99.7 254.5 L99.2 254.4 Z" fill="url(#gy)" stroke="none"/>
<path d="M99.2 254.2l.5 0 .5 0 .5-.1 .5-.1 .5-.2 .5-.1 .5-.2 .5-.2 .5-.3 .5-.2 .5-.3 .5-.2 .5-.2 .5-.2 .5-.1 .5 0 .5 0 .5 .1 .5 .2 .5 .2 .5 .2 .5 .3 .5 .4 .5 .3 .5 .3 .5 .4 .5 .3 .5 .2 .5 .3 .5 .2 .5 .2 .5 .1 .5 .2 .5 .1" fill="none" stroke="#cfc832" stroke-width="1.1"/>
<path d="M118.7 256l.5 0 .5-.1 .5 0 .5-.1 .5-.1 .5-.1 .5-.2 .5-.2 .5-.2 .5-.3 .5-.3 .5-.4 .5-.4 .5-.4 .5-.5 .5-.5 .5-.5 .5-.5 .5-.5 .5-.4 .5-.5 .5-.4 .5-.4 .5-.3 .5-.2 .5-.1 .5-.1 .5 0 .5 .1 .5 .2 .5 .3 .5 .4 .5 .4 .5 .5 .5 .5 .5 .6 .5 .5 .5 .6 .5 .6 .5 .6 .5 .5 .5 .5 .5 .5 .5 .4 .5 .5 .5 .3 .5 .4 .5 .3 .5 .2 .5 .2 .5 .2 .5 .2 .5 .2 .5 .1 .5 .1 .5 .1 L146.7 258.5 L146.2 258.4 L145.7 258.4 L145.2 258.3 L144.7 258.3 L144.2 258.2 L143.7 258.2 L143.2 258.1 L142.7 258.1 L142.2 258.0 L141.7 258.0 L141.2 257.9 L140.7 257.9 L140.2 257.8 L139.7 257.8 L139.2 257.7 L138.7 257.7 L138.2 257.7 L137.7 257.6 L137.2 257.6 L136.7 257.6 L136.2 257.5 L135.7 257.5 L135.2 257.4 L134.7 257.4 L134.2 257.4 L133.7 257.3 L133.2 257.3 L132.7 257.3 L132.2 257.2 L131.7 257.2 L131.2 257.1 L130.7 257.1 L130.2 257.1 L129.7 257.0 L129.2 257.0 L128.7 257.0 L128.2 256.9 L127.7 256.9 L127.2 256.8 L126.7 256.8 L126.2 256.8 L125.7 256.7 L125.2 256.7 L124.7 256.7 L124.2 256.6 L123.7 256.6 L123.2 256.5 L122.7 256.5 L122.2 256.5 L121.7 256.4 L121.2 256.4 L120.7 256.4 L120.2 256.3 L119.7 256.3 L119.2 256.2 L118.7 256.2 Z" fill="url(#gy)" stroke="none"/>
<path d="M118.7 256l.5 0 .5-.1 .5 0 .5-.1 .5-.1 .5-.1 .5-.2 .5-.2 .5-.2 .5-.3 .5-.3 .5-.4 .5-.4 .5-.4 .5-.5 .5-.5 .5-.5 .5-.5 .5-.5 .5-.4 .5-.5 .5-.4 .5-.4 .5-.3 .5-.2 .5-.1 .5-.1 .5 0 .5 .1 .5 .2 .5 .3 .5 .4 .5 .4 .5 .5 .5 .5 .5 .6 .5 .5 .5 .6 .5 .6 .5 .6 .5 .5 .5 .5 .5 .5 .5 .4 .5 .5 .5 .3 .5 .4 .5 .3 .5 .2 .5 .2 .5 .2 .5 .2 .5 .2 .5 .1 .5 .1 .5 .1" fill="none" stroke="#cfc832" stroke-width="1.1"/>
<path d="M138.7 257.5l.5 0 .5 0 .5 0 .5 0 .5 0 .5 0 .5-.1 .5-.1 .5 0 .5-.1 .5-.1 .5-.2 .5-.1 .5-.2 .5-.2 .5-.3 .5-.2 .5-.3 .5-.4 .5-.3 .5-.4 .5-.5 .5-.4 .5-.5 .5-.6 .5-.6 .5-.6 .5-.6 .5-.7 .5-.7 .5-.7 .5-.7 .5-.7 .5-.6 .5-.7 .5-.6 .5-.6 .5-.6 .5-.6 .5-.5 .5-.5 .5-.4 .5-.4 .5-.3 .5-.3 .5-.2 .5-.1 .5 0 .5 .1 .5 .1 .5 .2 .5 .3 .5 .4 .5 .5 .5 .5 .5 .6 .5 .7 .5 .8 .5 .8 .5 .8 .5 .9 .5 .9 .5 .9 .5 .9 .5 1 .5 .9 .5 1 .5 .9 .5 .9 .5 .9 .5 .9 .5 .8 .5 .8 .5 .8 .5 .7 .5 .7 .5 .6 .5 .7 .5 .5 .5 .6 .5 .5 .5 .5 .5 .4 .5 .4 .5 .4 .5 .4 .5 .3 .5 .3 .5 .3 .5 .1 .5 .2 .5 .2 .5 .1 .5 .1 .5 .1 .5 .1 .5 .1 .5 .1 .5 .1 L188.2 267.7 L187.7 267.7 L187.2 267.7 L186.7 267.6 L186.2 267.6 L185.7 267.5 L185.2 267.5 L184.7 267.4 L184.2 267.4 L183.7 267.4 L183.2 267.3 L182.7 267.2 L182.2 267.1 L181.7 267.0 L181.2 266.8 L180.7 266.7 L180.2 266.6 L179.7 266.4 L179.2 266.3 L178.7 266.2 L178.2 266.0 L177.7 265.9 L177.2 265.8 L176.7 265.6 L176.2 265.5 L175.7 265.4 L175.2 265.3 L174.7 265.1 L174.2 264.9 L173.7 264.8 L173.2 264.6 L172.7 264.4 L172.2 264.2 L171.7 264.1 L171.2 263.9 L170.7 263.7 L170.2 263.6 L169.7 263.4 L169.2 263.2 L168.7 263.1 L168.2 262.9 L167.7 262.7 L167.2 262.5 L166.7 262.4 L166.2 262.2 L165.7 262.0 L165.2 261.9 L164.7 261.7 L164.2 261.6 L163.7 261.5 L163.2 261.4 L162.7 261.2 L162.2 261.1 L161.7 261.0 L161.2 260.9 L160.7 260.7 L160.2 260.6 L159.7 260.5 L159.2 260.4 L158.7 260.2 L158.2 260.1 L157.7 260.0 L157.2 259.9 L156.7 259.7 L156.2 259.6 L155.7 259.5 L155.2 259.4 L154.7 259.3 L154.2 259.2 L153.7 259.2 L153.2 259.1 L152.7 259.1 L152.2 259.0 L151.7 259.0 L151.2 258.9 L150.7 258.9 L150.2 258.8 L149.7 258.8 L149.2 258.7 L148.7 258.7 L148.2 258.6 L147.7 258.6 L147.2 258.5 L146.7 258.5 L146.2 258.4 L145.7 258.4 L145.2 258.3 L144.7 258.3 L144.2 258.2 L143.7 258.2 L143.2 258.1 L142.7 258.1 L142.2 258.0 L141.7 258.0 L141.2 257.9 L140.7 257.9 L140.2 257.8 L139.7 257.8 L139.2 257.7 L138.7 257.7 Z" fill="url(#gb)" stroke="none"/>
<path d="M138.7 257.5l.5 0 .5 0 .5 0 .5 0 .5 0 .5 0 .5-.1 .5-.1 .5 0 .5-.1 .5-.1 .5-.2 .5-.1 .5-.2 .5-.2 .5-.3 .5-.2 .5-.3 .5-.4 .5-.3 .5-.4 .5-.5 .5-.4 .5-.5 .5-.6 .5-.6 .5-.6 .5-.6 .5-.7 .5-.7 .5-.7 .5-.7 .5-.7 .5-.6 .5-.7 .5-.6 .5-.6 .5-.6 .5-.6 .5-.5 .5-.5 .5-.4 .5-.4 .5-.3 .5-.3 .5-.2 .5-.1 .5 0 .5 .1 .5 .1 .5 .2 .5 .3 .5 .4 .5 .5 .5 .5 .5 .6 .5 .7 .5 .8 .5 .8 .5 .8 .5 .9 .5 .9 .5 .9 .5 .9 .5 1 .5 .9 .5 1 .5 .9 .5 .9 .5 .9 .5 .9 .5 .8 .5 .8 .5 .8 .5 .7 .5 .7 .5 .6 .5 .7 .5 .5 .5 .6 .5 .5 .5 .5 .5 .4 .5 .4 .5 .4 .5 .4 .5 .3 .5 .3 .5 .3 .5 .1 .5 .2 .5 .2 .5 .1 .5 .1 .5 .1 .5 .1 .5 .1 .5 .1 .5 .1" fill="none" stroke="#3a4ab0" stroke-width="1.1"/>
<path d="M161.7 260.8l.5 0 .5 0 .5-.1 .5-.2 .5-.2 .5-.3 .5-.5 .5-.6 .5-.7 .5-1 .5-1.2 .5-1.3 .5-1.6 .5-1.9 .5-1.9 .5-2.1 .5-2.2 .5-2.2 .5-2.2 .5-2 .5-1.8 .5-1.4 .5-1.1 .5-.7 .5-.1 .5 .3 .5 .8 .5 1.2 .5 1.6 .5 2 .5 2.2 .5 2.4 .5 2.5 .5 2.5 .5 2.4 .5 2.4 .5 2.2 .5 1.9 .5 1.8 .5 1.6 .5 1.3 .5 1.2 .5 .9 .5 .7 .5 .5 .5 .5 .5 .3 .5 .3 .5 .2 .5 .2 .5 .1 L187.2 267.7 L186.7 267.6 L186.2 267.6 L185.7 267.5 L185.2 267.5 L184.7 267.4 L184.2 267.4 L183.7 267.4 L183.2 267.3 L182.7 267.2 L182.2 267.1 L181.7 267.0 L181.2 266.8 L180.7 266.7 L180.2 266.6 L179.7 266.4 L179.2 266.3 L178.7 266.2 L178.2 266.0 L177.7 265.9 L177.2 265.8 L176.7 265.6 L176.2 265.5 L175.7 265.4 L175.2 265.3 L174.7 265.1 L174.2 264.9 L173.7 264.8 L173.2 264.6 L172.7 264.4 L172.2 264.2 L171.7 264.1 L171.2 263.9 L170.7 263.7 L170.2 263.6 L169.7 263.4 L169.2 263.2 L168.7 263.1 L168.2 262.9 L167.7 262.7 L167.2 262.5 L166.7 262.4 L166.2 262.2 L165.7 262.0 L165.2 261.9 L164.7 261.7 L164.2 261.6 L163.7 261.5 L163.2 261.4 L162.7 261.2 L162.2 261.1 L161.7 261.0 Z" fill="url(#gc)" stroke="none"/>
<path d="M161.7 260.8l.5 0 .5 0 .5-.1 .5-.2 .5-.2 .5-.3 .5-.5 .5-.6 .5-.7 .5-1 .5-1.2 .5-1.3 .5-1.6 .5-1.9 .5-1.9 .5-2.1 .5-2.2 .5-2.2 .5-2.2 .5-2 .5-1.8 .5-1.4 .5-1.1 .5-.7 .5-.1 .5 .3 .5 .8 .5 1.2 .5 1.6 .5 2 .5 2.2 .5 2.4 .5 2.5 .5 2.5 .5 2.4 .5 2.4 .5 2.2 .5 1.9 .5 1.8 .5 1.6 .5 1.3 .5 1.2 .5 .9 .5 .7 .5 .5 .5 .5 .5 .3 .5 .3 .5 .2 .5 .2 .5 .1" fill="none" stroke="#1ea8c0" stroke-width="1.1"/>
<path d="M26.2 243.5l.5 0 .5 0 .5 0 .5 .1 .5 0 .5 0 .5 0 .5 .1 .5 .3 .5 .3 .5 .3 .5 .3 .5 .3 .5 .3 .5 .2 .5 .3 .5 .3 .5 .3 .5 .3 .5 .3 .5 .3 .5 .2 .5 .3 .5 .3 .5 .3 .5 .3 .5 .2 .5 .2 .5 .1 .5 0 .5 0 .5 .1 .5 0 .5 .1 .5 0 .5 .1 .5 0 .5 0 .5 .1 .5 0 .5 .1 .5 0 .5 .1 .5 0 .5 0 .5 .1 .5 0 .5 .1 .5 0 .5 .1 .5 0 .5 0 .5 .1 .5 0 .5 .1 .5 0 .5 0 .5 .1 .5 0 .5 .1 .5 0 .5 .1 .5 0 .5 0 .5 .1 .5 0 .5 .1 .5 0 .5 .1 .5 0 .5 0 .5 .1 .5 0 .5 .1 .5 0 .5 0 .5 .1 .5 0 .5 .1 .5 0 .5 0 .5 .1 .5 0 .5 .1 .5 0 .5 0 .5 .1 .5 0 .5 .1 .5 0 .5 0 .5 .1 .5 0 .5 .1 .5 0 .5 0 .5 .1 .5 0 .5 .1 .5 0 .5 0 .5 .1 .5 0 .5 .1 .5 0 .5 0 .5 .1 .5 0 .5 .1 .5 0 .5 .1 .5 0 .5 .1 .5 0 .5 .1 .5 0 .5 0 .5 .1 .5 0 .5 .1 .5 0 .5 .1 .5 0 .5 .1 .5 0 .5 .1 .5 0 .5 .1 .5 0 .5 .1 .5 0 .5 .1 .5 0 .5 .1 .5 0 .5 0 .5 .1 .5 0 .5 .1 .5 0 .5 .1 .5 0 .5 .1 .5 0 .5 .1 .5 0 .5 .1 .5 0 .5 .1 .5 0 .5 .1 .5 0 .5 0 .5 .1 .5 0 .5 .1 .5 0 .5 .1 .5 0 .5 .1 .5 0 .5 0 .5 .1 .5 0 .5 .1 .5 0 .5 .1 .5 0 .5 .1 .5 0 .5 .1 .5 0 .5 0 .5 .1 .5 0 .5 .1 .5 0 .5 .1 .5 0 .5 .1 .5 0 .5 0 .5 .1 .5 0 .5 .1 .5 0 .5 .1 .5 0 .5 .1 .5 0 .5 0 .5 .1 .5 0 .5 0 .5 .1 .5 0 .5 .1 .5 0 .5 0 .5 .1 .5 0 .5 0 .5 .1 .5 0 .5 .1 .5 0 .5 0 .5 .1 .5 0 .5 0 .5 .1 .5 0 .5 .1 .5 0 .5 0 .5 .1 .5 0 .5 0 .5 .1 .5 0 .5 .1 .5 0 .5 0 .5 .1 .5 0 .5 0 .5 .1 .5 0 .5 .1 .5 0 .5 .1 .5 0 .5 .1 .5 0 .5 .1 .5 0 .5 .1 .5 0 .5 .1 .5 0 .5 .1 .5 0 .5 .1 .5 0 .5 .1 .5 0 .5 .1 .5 0 .5 .1 .5 0 .5 .1 .5 0 .5 .1 .5 0 .5 .1 .5 0 .5 .1 .5 .1 .5 .1 .5 .1 .5 .1 .5 .1 .5 .2 .5 .1 .5 .1 .5 .2 .5 .1 .5 .1 .5 .1 .5 .1 .5 .2 .5 .1 .5 .1 .5 .2 .5 .1 .5 .1 .5 .1 .5 .2 .5 .1 .5 .2 .5 .2 .5 .1 .5 .2 .5 .2 .5 .2 .5 .1 .5 .2 .5 .2 .5 .1 .5 .2 .5 .2 .5 .1 .5 .2 .5 .2 .5 .2 .5 .1 .5 .2 .5 .2 .5 .1 .5 .1 .5 .1 .5 .2 .5 .1 .5 .1 .5 .2 .5 .1 .5 .1 .5 .2 .5 .1 .5 .1 .5 .2 .5 .1 .5 .1 .5 .1 .5 .1 .5 0 .5 0 .5 .1 .5 0 .5 .1 .5 0 .5 .1 .5 0 .5 0 .5 .1 .5 0 .5 .1 .5 0 .5 0 .5 0 .5-.1 .5 0 .5 0 .5 0 .5 0 .5 0 .5 0 .5-.1 .5 0 .5 0 .5 0 .5 0 .5 0 .5 0 .5-.1 .5 0 .5 0 .5 0 .5 .1 .5 0 .5 0 .5 .1 .5 0 .5 .1 .5 0 .5 .1 .5 0 .5 .1 .5 0 .5 0 .5 .1 .5 0 .5 .1 .5 0 .5-.1 .5 0 .5 0 .5-.1 .5 0 .5 0 .5-.1 .5 0 .5 0 .5-.1 .5 0 .5 0 .5-.1 .5 0" fill="none" stroke="#111" stroke-width="1.1"/>
<path d="M26.2 243.4l.5 0 .5 0 .5 .1 .5 0 .5 0 .5 0 .5 0 .5 .2 .5 .3 .5 .3 .5 .3 .5 .3 .5 .3 .5 .3 .5 .2 .5 .3 .5 .3 .5 .3 .5 .3 .5 .2 .5 .3 .5 .3 .5 .2 .5 .3 .5 .2 .5 .2 .5 .2 .5 .1 .5-.1 .5-.1 .5-.1 .5-.8 .5-.2 .5-.3 .5-.3 .5-.3 .5-.4 .5-.4 .5-.6 .5-.6 .5-.6 .5-.6 .5-.6 .5-.5 .5-.5 .5-.5 .5-.4 .5-.3 .5-.2 .5-.2 .5-.1 .5-.1 .5-.1 .5 0 .5 0 .5 0 .5 0 .5 0 .5-.1 .5 0 .5-.1 .5-.1 .5-.1 .5-.1 .5-.1 .5 0 .5 0 .5 .1 .5 0 .5 .2 .5 .1 .5 .2 .5 .2 .5 .2 .5 .2 .5 .1 .5 .2 .5 0 .5 0 .5 0 .5-.1 .5-.2 .5-.2 .5-.3 .5-.4 .5-.4 .5-.5 .5-.4 .5-.5 .5-.6 .5-.5 .5-.5 .5-.6 .5-.5 .5-.5 .5-.5 .5-.5 .5-.5 .5-.4 .5-.4 .5-.3 .5-.4 .5-.2 .5-.3 .5-.2 .5-.1 .5 0 .5-.1 .5 .1 .5 .1 .5 .2 .5 .2 .5 .3 .5 .3 .5 .4 .5 .4 .5 .5 .5 .6 .5 .6 .5 .6 .5 .7 .5 .7 .5 .8 .5 .8 .5 .9 .5 .9 .5 .9 .5 .9 .5 .9 .5 .9 .5 .9 .5 .9 .5 .8 .5 .8 .5 .8 .5 .7 .5 .6 .5 .5 .5 .6 .5 .5 .5 .4 .5 .4 .5 .4 .5 .3 .5 .3 .5 .3 .5 .7 .5 .1 .5 0 .5 0 .5-.1 .5-.3 .5-.2 .5-.2 .5-.3 .5-.2 .5-.3 .5-.3 .5-.2 .5-.2 .5-.2 .5-.1 .5 0 .5 .1 .5 .2 .5 .2 .5 .3 .5 .3 .5 .4 .5 .4 .5 .4 .5 .4 .5 .3 .5 .4 .5 .3 .5 .3 .5 .2 .5 .2 .5 .2 .5 .1 .5 .1 .5 .1 .5 .1 .5 0 .5 0 .5 0 .5 0 .5 0 .5-.1 .5-.1 .5-.1 .5-.8 .5-.2 .5-.2 .5-.3 .5-.3 .5-.4 .5-.4 .5-.4 .5-.5 .5-.5 .5-.5 .5-.5 .5-.5 .5-.4 .5-.5 .5-.4 .5-.4 .5-.3 .5-.2 .5-.1 .5-.1 .5 0 .5 .1 .5 .2 .5 .3 .5 .4 .5 .4 .5 .5 .5 .5 .5 .6 .5 .5 .5 .6 .5 .6 .5 .6 .5 .4 .5 .4 .5 .4 .5 .3 .5 .2 .5 .2 .5 .1 .5 .1 .5 0 .5-.1 .5 0 .5-.2 .5-.2 .5-.2 .5-.2 .5-.3 .5-.3 .5-.3 .5-.4 .5-.4 .5-.4 .5-.4 .5-.4 .5-.5 .5-.4 .5-.5 .5-.5 .5-.5 .5-.5 .5-.6 .5-.5 .5-.6 .5-.6 .5-.5 .5-.5 .5-.5 .5-.5 .5-.6 .5-.6 .5-.5 .5-.5 .5-.4 .5-.4 .5-.3 .5-.3 .5-.2 .5-.2 .5-.3 .5-.3 .5-.4 .5-.3 .5-.4 .5-.4 .5-.5 .5-.6 .5-.7 .5-.8 .5-.9 .5-1 .5-1.2 .5-1.3 .5-1.3 .5-1.3 .5-1.3 .5-1.2 .5-1 .5-.8 .5-.4 .5-.1 .5 .3 .5 .7 .5 1.2 .5 1.6 .5 1.9 .5 2.4 .5 2.5 .5 2.8 .5 2.9 .5 3 .5 2.9 .5 2.8 .5 2.7 .5 2.5 .5 2.2 .5 2 .5 1.7 .5 1.5 .5 1.3 .5 1 .5 .9 .5 .6 .5 .5 .5 .5 .5 .3 .5 .3 .5 .2 .5 .1 .5 .2 .5 .1 .5 .1 .5 .1 .5 .1 .5 .1 .5 0 .5 0 .5 0 .5 .1 .5 0 .5 0 .5 0 .5 0 .5 0 .5 0 .5 0 .5 0 .5 0 .5 0 .5 0 .5-.1 .5 0 .5 0 .5 0 .5 0 .5 .1 .5 0 .5 0 .5 .1 .5 0 .5 .1 .5 0 .5 .1 .5 0 .5 .1 .5 0 .5 0 .5 .1 .5 0 .5 .1 .5 0 .5-.1 .5 0 .5 0 .5-.1 .5 0 .5 0 .5-.1 .5 0 .5 0 .5-.1 .5 0 .5 0 .5-.1 .5 0" fill="none" stroke="#a8a8a8" stroke-opacity="0.55" stroke-width="4.5" stroke-linejoin="round"/>
<path d="M26.2 243.4l.5 0 .5 0 .5 .1 .5 0 .5 0 .5 0 .5 0 .5 .2 .5 .3 .5 .3 .5 .3 .5 .3 .5 .3 .5 .3 .5 .2 .5 .3 .5 .3 .5 .3 .5 .3 .5 .2 .5 .3 .5 .3 .5 .2 .5 .3 .5 .2 .5 .2 .5 .2 .5 .1 .5-.1 .5-.1 .5-.1 .5-.8 .5-.2 .5-.3 .5-.3 .5-.3 .5-.4 .5-.4 .5-.6 .5-.6 .5-.6 .5-.6 .5-.6 .5-.5 .5-.5 .5-.5 .5-.4 .5-.3 .5-.2 .5-.2 .5-.1 .5-.1 .5-.1 .5 0 .5 0 .5 0 .5 0 .5 0 .5-.1 .5 0 .5-.1 .5-.1 .5-.1 .5-.1 .5-.1 .5 0 .5 0 .5 .1 .5 0 .5 .2 .5 .1 .5 .2 .5 .2 .5 .2 .5 .2 .5 .1 .5 .2 .5 0 .5 0 .5 0 .5-.1 .5-.2 .5-.2 .5-.3 .5-.4 .5-.4 .5-.5 .5-.4 .5-.5 .5-.6 .5-.5 .5-.5 .5-.6 .5-.5 .5-.5 .5-.5 .5-.5 .5-.5 .5-.4 .5-.4 .5-.3 .5-.4 .5-.2 .5-.3 .5-.2 .5-.1 .5 0 .5-.1 .5 .1 .5 .1 .5 .2 .5 .2 .5 .3 .5 .3 .5 .4 .5 .4 .5 .5 .5 .6 .5 .6 .5 .6 .5 .7 .5 .7 .5 .8 .5 .8 .5 .9 .5 .9 .5 .9 .5 .9 .5 .9 .5 .9 .5 .9 .5 .9 .5 .8 .5 .8 .5 .8 .5 .7 .5 .6 .5 .5 .5 .6 .5 .5 .5 .4 .5 .4 .5 .4 .5 .3 .5 .3 .5 .3 .5 .7 .5 .1 .5 0 .5 0 .5-.1 .5-.3 .5-.2 .5-.2 .5-.3 .5-.2 .5-.3 .5-.3 .5-.2 .5-.2 .5-.2 .5-.1 .5 0 .5 .1 .5 .2 .5 .2 .5 .3 .5 .3 .5 .4 .5 .4 .5 .4 .5 .4 .5 .3 .5 .4 .5 .3 .5 .3 .5 .2 .5 .2 .5 .2 .5 .1 .5 .1 .5 .1 .5 .1 .5 0 .5 0 .5 0 .5 0 .5 0 .5-.1 .5-.1 .5-.1 .5-.8 .5-.2 .5-.2 .5-.3 .5-.3 .5-.4 .5-.4 .5-.4 .5-.5 .5-.5 .5-.5 .5-.5 .5-.5 .5-.4 .5-.5 .5-.4 .5-.4 .5-.3 .5-.2 .5-.1 .5-.1 .5 0 .5 .1 .5 .2 .5 .3 .5 .4 .5 .4 .5 .5 .5 .5 .5 .6 .5 .5 .5 .6 .5 .6 .5 .6 .5 .4 .5 .4 .5 .4 .5 .3 .5 .2 .5 .2 .5 .1 .5 .1 .5 0 .5-.1 .5 0 .5-.2 .5-.2 .5-.2 .5-.2 .5-.3 .5-.3 .5-.3 .5-.4 .5-.4 .5-.4 .5-.4 .5-.4 .5-.5 .5-.4 .5-.5 .5-.5 .5-.5 .5-.5 .5-.6 .5-.5 .5-.6 .5-.6 .5-.5 .5-.5 .5-.5 .5-.5 .5-.6 .5-.6 .5-.5 .5-.5 .5-.4 .5-.4 .5-.3 .5-.3 .5-.2 .5-.2 .5-.3 .5-.3 .5-.4 .5-.3 .5-.4 .5-.4 .5-.5 .5-.6 .5-.7 .5-.8 .5-.9 .5-1 .5-1.2 .5-1.3 .5-1.3 .5-1.3 .5-1.3 .5-1.2 .5-1 .5-.8 .5-.4 .5-.1 .5 .3 .5 .7 .5 1.2 .5 1.6 .5 1.9 .5 2.4 .5 2.5 .5 2.8 .5 2.9 .5 3 .5 2.9 .5 2.8 .5 2.7 .5 2.5 .5 2.2 .5 2 .5 1.7 .5 1.5 .5 1.3 .5 1 .5 .9 .5 .6 .5 .5 .5 .5 .5 .3 .5 .3 .5 .2 .5 .1 .5 .2 .5 .1 .5 .1 .5 .1 .5 .1 .5 .1 .5 0 .5 0 .5 0 .5 .1 .5 0 .5 0 .5 0 .5 0 .5 0 .5 0 .5 0 .5 0 .5 0 .5 0 .5 0 .5-.1 .5 0 .5 0 .5 0 .5 0 .5 .1 .5 0 .5 0 .5 .1 .5 0 .5 .1 .5 0 .5 .1 .5 0 .5 .1 .5 0 .5 0 .5 .1 .5 0 .5 .1 .5 0 .5-.1 .5 0 .5 0 .5-.1 .5 0 .5 0 .5-.1 .5 0 .5 0 .5-.1 .5 0 .5 0 .5-.1 .5 0" fill="none" stroke="#000" stroke-width="1.6" stroke-linejoin="round"/>
<path d="M50.7 301.4l.5 0 .5-.1 .5-.2 .5-.1 .5-.2 .5-.2 .5-.3 .5-.3 .5-.3 .5-.4 .5-.3 .5-.3 .5-.2 .5-.2 .5 0 .5 .1 .5 .1 .5 .3 .5 .4 .5 .5 .5 .4 .5 .5 .5 .5 .5 .5 .5 .4 .5 .3 .5 .3 .5 .3 .5 .2 .5 .2 L65.7 303.5 L65.2 303.4 L64.7 303.4 L64.2 303.3 L63.7 303.2 L63.2 303.1 L62.7 303.0 L62.2 303.0 L61.7 302.9 L61.2 302.8 L60.7 302.7 L60.2 302.6 L59.7 302.6 L59.2 302.5 L58.7 302.4 L58.2 302.4 L57.7 302.3 L57.2 302.2 L56.7 302.2 L56.2 302.1 L55.7 302.1 L55.2 302.0 L54.7 301.9 L54.2 301.9 L53.7 301.8 L53.2 301.8 L52.7 301.7 L52.2 301.6 L51.7 301.6 L51.2 301.6 L50.7 301.6 Z" fill="url(#gy)" stroke="none"/>
<path d="M50.7 301.4l.5 0 .5-.1 .5-.2 .5-.1 .5-.2 .5-.2 .5-.3 .5-.3 .5-.3 .5-.4 .5-.3 .5-.3 .5-.2 .5-.2 .5 0 .5 .1 .5 .1 .5 .3 .5 .4 .5 .5 .5 .4 .5 .5 .5 .5 .5 .5 .5 .4 .5 .3 .5 .3 .5 .3 .5 .2 .5 .2" fill="none" stroke="#cfc832" stroke-width="1.1"/>
<path d="M53.2 301.6l.5 0 .5 0 .5 0 .5-.1 .5 0 .5-.1 .5-.1 .5-.1 .5-.2 .5-.2 .5-.3 .5-.3 .5-.3 .5-.4 .5-.4 .5-.4 .5-.5 .5-.5 .5-.5 .5-.6 .5-.5 .5-.6 .5-.6 .5-.5 .5-.5 .5-.5 .5-.3 .5-.4 .5-.2 .5-.2 .5 0 .5 0 .5 .1 .5 .3 .5 .3 .5 .4 .5 .5 .5 .5 .5 .6 .5 .7 .5 .7 .5 .7 .5 .7 .5 .8 .5 .7 .5 .7 .5 .7 .5 .7 .5 .6 .5 .6 .5 .6 .5 .5 .5 .5 .5 .4 .5 .4 .5 .3 .5 .3 .5 .3 .5 .3 .5 .2 .5 .2 .5 .2 .5 .2 .5 .1 L85.2 307.3 L84.7 307.2 L84.2 307.1 L83.7 307.0 L83.2 306.9 L82.7 306.7 L82.2 306.6 L81.7 306.5 L81.2 306.4 L80.7 306.3 L80.2 306.2 L79.7 306.1 L79.2 306.0 L78.7 305.8 L78.2 305.7 L77.7 305.6 L77.2 305.5 L76.7 305.4 L76.2 305.3 L75.7 305.2 L75.2 305.0 L74.7 305.0 L74.2 304.9 L73.7 304.8 L73.2 304.7 L72.7 304.6 L72.2 304.6 L71.7 304.5 L71.2 304.4 L70.7 304.3 L70.2 304.2 L69.7 304.2 L69.2 304.1 L68.7 304.0 L68.2 303.9 L67.7 303.8 L67.2 303.8 L66.7 303.7 L66.2 303.6 L65.7 303.5 L65.2 303.4 L64.7 303.4 L64.2 303.3 L63.7 303.2 L63.2 303.1 L62.7 303.0 L62.2 303.0 L61.7 302.9 L61.2 302.8 L60.7 302.7 L60.2 302.6 L59.7 302.6 L59.2 302.5 L58.7 302.4 L58.2 302.4 L57.7 302.3 L57.2 302.2 L56.7 302.2 L56.2 302.1 L55.7 302.1 L55.2 302.0 L54.7 301.9 L54.2 301.9 L53.7 301.8 L53.2 301.8 Z" fill="url(#gb)" stroke="none"/>
<path d="M53.2 301.6l.5 0 .5 0 .5 0 .5-.1 .5 0 .5-.1 .5-.1 .5-.1 .5-.2 .5-.2 .5-.3 .5-.3 .5-.3 .5-.4 .5-.4 .5-.4 .5-.5 .5-.5 .5-.5 .5-.6 .5-.5 .5-.6 .5-.6 .5-.5 .5-.5 .5-.5 .5-.3 .5-.4 .5-.2 .5-.2 .5 0 .5 0 .5 .1 .5 .3 .5 .3 .5 .4 .5 .5 .5 .5 .5 .6 .5 .7 .5 .7 .5 .7 .5 .7 .5 .8 .5 .7 .5 .7 .5 .7 .5 .7 .5 .6 .5 .6 .5 .6 .5 .5 .5 .5 .5 .4 .5 .4 .5 .3 .5 .3 .5 .3 .5 .3 .5 .2 .5 .2 .5 .2 .5 .2 .5 .1" fill="none" stroke="#3a4ab0" stroke-width="1.1"/>
<path d="M68.7 303.8l.5 0 .5 0 .5 0 .5-.1 .5-.1 .5-.2 .5-.1 .5-.2 .5-.3 .5-.3 .5-.3 .5-.3 .5-.3 .5-.3 .5-.3 .5-.2 .5-.2 .5-.1 .5-.1 .5 0 .5 .2 .5 .1 .5 .3 .5 .4 .5 .4 .5 .4 .5 .5 .5 .5 .5 .5 .5 .6 .5 .5 .5 .4 .5 .5 .5 .4 .5 .4 .5 .3 .5 .3 .5 .3 .5 .2 .5 .2 .5 .2 .5 .2 L89.7 308.3 L89.2 308.2 L88.7 308.1 L88.2 308.0 L87.7 307.9 L87.2 307.8 L86.7 307.7 L86.2 307.5 L85.7 307.4 L85.2 307.3 L84.7 307.2 L84.2 307.1 L83.7 307.0 L83.2 306.9 L82.7 306.7 L82.2 306.6 L81.7 306.5 L81.2 306.4 L80.7 306.3 L80.2 306.2 L79.7 306.1 L79.2 306.0 L78.7 305.8 L78.2 305.7 L77.7 305.6 L77.2 305.5 L76.7 305.4 L76.2 305.3 L75.7 305.2 L75.2 305.0 L74.7 305.0 L74.2 304.9 L73.7 304.8 L73.2 304.7 L72.7 304.6 L72.2 304.6 L71.7 304.5 L71.2 304.4 L70.7 304.3 L70.2 304.2 L69.7 304.2 L69.2 304.1 L68.7 304.0 Z" fill="url(#gc)" stroke="none"/>
<path d="M68.7 303.8l.5 0 .5 0 .5 0 .5-.1 .5-.1 .5-.2 .5-.1 .5-.2 .5-.3 .5-.3 .5-.3 .5-.3 .5-.3 .5-.3 .5-.3 .5-.2 .5-.2 .5-.1 .5-.1 .5 0 .5 .2 .5 .1 .5 .3 .5 .4 .5 .4 .5 .4 .5 .5 .5 .5 .5 .5 .5 .6 .5 .5 .5 .4 .5 .5 .5 .4 .5 .4 .5 .3 .5 .3 .5 .3 .5 .2 .5 .2 .5 .2 .5 .2" fill="none" stroke="#1ea8c0" stroke-width="1.1"/>
<path d="M83.2 306.7l.5 0 .5 .1 .5 0 .5-.1 .5 0 .5-.1 .5-.1 .5-.1 .5-.1 .5-.1 .5 0 .5 0 .5 0 .5 .1 .5 .1 .5 .2 .5 .2 .5 .2 .5 .3 .5 .2 .5 .3 .5 .2 .5 .3 .5 .2 .5 .1 .5 .2 .5 .1 L96.7 309.1 L96.2 309.0 L95.7 309.0 L95.2 308.9 L94.7 308.9 L94.2 308.8 L93.7 308.8 L93.2 308.7 L92.7 308.7 L92.2 308.6 L91.7 308.6 L91.2 308.5 L90.7 308.5 L90.2 308.4 L89.7 308.3 L89.2 308.2 L88.7 308.1 L88.2 308.0 L87.7 307.9 L87.2 307.8 L86.7 307.7 L86.2 307.5 L85.7 307.4 L85.2 307.3 L84.7 307.2 L84.2 307.1 L83.7 307.0 L83.2 306.9 Z" fill="url(#gy)" stroke="none"/>
<path d="M83.2 306.7l.5 0 .5 .1 .5 0 .5-.1 .5 0 .5-.1 .5-.1 .5-.1 .5-.1 .5-.1 .5 0 .5 0 .5 0 .5 .1 .5 .1 .5 .2 .5 .2 .5 .2 .5 .3 .5 .2 .5 .3 .5 .2 .5 .3 .5 .2 .5 .1 .5 .2 .5 .1" fill="none" stroke="#cfc832" stroke-width="1.1"/>
<path d="M110.7 309.6l.5-.1 .5-.1 .5-.1 .5-.1 .5-.2 .5-.2 .5-.2 .5-.1 .5-.1 .5-.1 .5 0 .5 .1 .5 .1 .5 .1 .5 .2 .5 .2 .5 .2 .5 .2 .5 .1 .5 .1 .5 .1 L121.2 309.9 L120.7 309.9 L120.2 309.9 L119.7 309.9 L119.2 309.9 L118.7 309.9 L118.2 309.9 L117.7 309.9 L117.2 309.9 L116.7 309.9 L116.2 309.9 L115.7 309.9 L115.2 309.9 L114.7 309.9 L114.2 309.9 L113.7 309.9 L113.2 309.8 L112.7 309.8 L112.2 309.8 L111.7 309.8 L111.2 309.8 L110.7 309.8 Z" fill="url(#gy)" stroke="none"/>
<path d="M110.7 309.6l.5-.1 .5-.1 .5-.1 .5-.1 .5-.2 .5-.2 .5-.2 .5-.1 .5-.1 .5-.1 .5 0 .5 .1 .5 .1 .5 .1 .5 .2 .5 .2 .5 .2 .5 .2 .5 .1 .5 .1 .5 .1" fill="none" stroke="#cfc832" stroke-width="1.1"/>
<path d="M140.7 309.8l.5 0 .5-.1 .5 0 .5-.1 .5-.1 .5 0 .5-.2 .5-.1 .5-.1 .5-.1 .5-.1 .5-.1 .5-.2 .5-.2 .5-.2 .5-.3 .5-.3 .5-.4 .5-.4 .5-.5 .5-.5 .5-.5 .5-.6 .5-.6 .5-.7 .5-.7 .5-.7 .5-.8 .5-.7 .5-.6 .5-.6 .5-.6 .5-.6 .5-.5 .5-.5 .5-.5 .5-.4 .5-.3 .5-.2 .5-.2 .5 0 .5 0 .5 .2 .5 .2 .5 .3 .5 .5 .5 .5 .5 .7 .5 .7 .5 .8 .5 1 .5 1 .5 1 .5 1.1 .5 1.1 .5 1.1 .5 1.2 .5 1.2 .5 1.1 .5 1.2 .5 1.1 .5 1.1 .5 1.1 .5 1 .5 1 .5 1 .5 .9 .5 .9 .5 .7 .5 .8 .5 .6 .5 .6 .5 .6 .5 .6 .5 .5 .5 .4 .5 .5 .5 .4 .5 .4 .5 .3 .5 .4 .5 .3 .5 .3 .5 .3 .5 .3 .5 .3 .5 .3 L184.2 327.2 L183.7 327.0 L183.2 326.8 L182.7 326.5 L182.2 326.3 L181.7 326.1 L181.2 325.9 L180.7 325.6 L180.2 325.4 L179.7 325.2 L179.2 324.9 L178.7 324.7 L178.2 324.5 L177.7 324.2 L177.2 324.0 L176.7 323.8 L176.2 323.6 L175.7 323.3 L175.2 323.1 L174.7 322.8 L174.2 322.5 L173.7 322.2 L173.2 321.9 L172.7 321.6 L172.2 321.3 L171.7 321.0 L171.2 320.7 L170.7 320.4 L170.2 320.1 L169.7 319.8 L169.2 319.5 L168.7 319.2 L168.2 318.9 L167.7 318.6 L167.2 318.3 L166.7 318.0 L166.2 317.7 L165.7 317.4 L165.2 317.1 L164.7 316.9 L164.2 316.6 L163.7 316.4 L163.2 316.1 L162.7 315.9 L162.2 315.6 L161.7 315.4 L161.2 315.1 L160.7 314.9 L160.2 314.6 L159.7 314.4 L159.2 314.1 L158.7 313.9 L158.2 313.6 L157.7 313.4 L157.2 313.1 L156.7 312.9 L156.2 312.6 L155.7 312.4 L155.2 312.1 L154.7 311.9 L154.2 311.8 L153.7 311.7 L153.2 311.6 L152.7 311.5 L152.2 311.4 L151.7 311.3 L151.2 311.2 L150.7 311.1 L150.2 311.0 L149.7 310.9 L149.2 310.8 L148.7 310.7 L148.2 310.6 L147.7 310.5 L147.2 310.4 L146.7 310.3 L146.2 310.2 L145.7 310.1 L145.2 310.0 L144.7 310.0 L144.2 310.0 L143.7 310.0 L143.2 310.0 L142.7 310.0 L142.2 310.0 L141.7 310.0 L141.2 310.0 L140.7 310.0 Z" fill="url(#gb)" stroke="none"/>
<path d="M140.7 309.8l.5 0 .5-.1 .5 0 .5-.1 .5-.1 .5 0 .5-.2 .5-.1 .5-.1 .5-.1 .5-.1 .5-.1 .5-.2 .5-.2 .5-.2 .5-.3 .5-.3 .5-.4 .5-.4 .5-.5 .5-.5 .5-.5 .5-.6 .5-.6 .5-.7 .5-.7 .5-.7 .5-.8 .5-.7 .5-.6 .5-.6 .5-.6 .5-.6 .5-.5 .5-.5 .5-.5 .5-.4 .5-.3 .5-.2 .5-.2 .5 0 .5 0 .5 .2 .5 .2 .5 .3 .5 .5 .5 .5 .5 .7 .5 .7 .5 .8 .5 1 .5 1 .5 1 .5 1.1 .5 1.1 .5 1.1 .5 1.2 .5 1.2 .5 1.1 .5 1.2 .5 1.1 .5 1.1 .5 1.1 .5 1 .5 1 .5 1 .5 .9 .5 .9 .5 .7 .5 .8 .5 .6 .5 .6 .5 .6 .5 .6 .5 .5 .5 .4 .5 .5 .5 .4 .5 .4 .5 .3 .5 .4 .5 .3 .5 .3 .5 .3 .5 .3 .5 .3 .5 .3" fill="none" stroke="#3a4ab0" stroke-width="1.1"/>
<path d="M161.2 314.9l.5 .2 .5 .1 .5 .1 .5 .1 .5-.1 .5-.1 .5-.1 .5-.3 .5-.4 .5-.4 .5-.7 .5-.7 .5-.9 .5-1 .5-1 .5-1.2 .5-1.1 .5-1.1 .5-1 .5-.9 .5-.8 .5-.5 .5-.2 .5 0 .5 .3 .5 .7 .5 .9 .5 1.1 .5 1.3 .5 1.4 .5 1.6 .5 1.7 .5 1.7 .5 1.6 .5 1.6 .5 1.5 .5 1.4 .5 1.2 .5 1.1 .5 1 .5 .9 .5 .7 .5 .7 .5 .5 .5 .5 .5 .4 .5 .4 .5 .3 .5 .1 L185.7 327.6 L185.2 327.6 L184.7 327.5 L184.2 327.2 L183.7 327.0 L183.2 326.8 L182.7 326.5 L182.2 326.3 L181.7 326.1 L181.2 325.9 L180.7 325.6 L180.2 325.4 L179.7 325.2 L179.2 324.9 L178.7 324.7 L178.2 324.5 L177.7 324.2 L177.2 324.0 L176.7 323.8 L176.2 323.6 L175.7 323.3 L175.2 323.1 L174.7 322.8 L174.2 322.5 L173.7 322.2 L173.2 321.9 L172.7 321.6 L172.2 321.3 L171.7 321.0 L171.2 320.7 L170.7 320.4 L170.2 320.1 L169.7 319.8 L169.2 319.5 L168.7 319.2 L168.2 318.9 L167.7 318.6 L167.2 318.3 L166.7 318.0 L166.2 317.7 L165.7 317.4 L165.2 317.1 L164.7 316.9 L164.2 316.6 L163.7 316.4 L163.2 316.1 L162.7 315.9 L162.2 315.6 L161.7 315.4 L161.2 315.1 Z" fill="url(#gc)" stroke="none"/>
<path d="M161.2 314.9l.5 .2 .5 .1 .5 .1 .5 .1 .5-.1 .5-.1 .5-.1 .5-.3 .5-.4 .5-.4 .5-.7 .5-.7 .5-.9 .5-1 .5-1 .5-1.2 .5-1.1 .5-1.1 .5-1 .5-.9 .5-.8 .5-.5 .5-.2 .5 0 .5 .3 .5 .7 .5 .9 .5 1.1 .5 1.3 .5 1.4 .5 1.6 .5 1.7 .5 1.7 .5 1.6 .5 1.6 .5 1.5 .5 1.4 .5 1.2 .5 1.1 .5 1 .5 .9 .5 .7 .5 .7 .5 .5 .5 .5 .5 .4 .5 .4 .5 .3 .5 .1" fill="none" stroke="#1ea8c0" stroke-width="1.1"/>
<path d="M193.7 327.9l.5-.1 .5-.1 .5-.1 .5-.1 .5-.2 .5-.1 .5-.2 .5-.1 .5-.2 .5-.1 .5-.1 .5 0 .5 0 .5 .1 .5 .1 .5 .1 .5 .2 .5 .2 .5 .2 .5 .2 .5 .2 .5 .2 .5 .1 .5 .1 .5 .1 .5 .1 L206.7 328.6 L206.2 328.6 L205.7 328.6 L205.2 328.5 L204.7 328.5 L204.2 328.5 L203.7 328.5 L203.2 328.5 L202.7 328.5 L202.2 328.5 L201.7 328.4 L201.2 328.4 L200.7 328.4 L200.2 328.4 L199.7 328.4 L199.2 328.4 L198.7 328.3 L198.2 328.3 L197.7 328.3 L197.2 328.3 L196.7 328.2 L196.2 328.2 L195.7 328.2 L195.2 328.1 L194.7 328.1 L194.2 328.1 L193.7 328.1 Z" fill="url(#gy)" stroke="none"/>
<path d="M193.7 327.9l.5-.1 .5-.1 .5-.1 .5-.1 .5-.2 .5-.1 .5-.2 .5-.1 .5-.2 .5-.1 .5-.1 .5 0 .5 0 .5 .1 .5 .1 .5 .1 .5 .2 .5 .2 .5 .2 .5 .2 .5 .2 .5 .2 .5 .1 .5 .1 .5 .1 .5 .1" fill="none" stroke="#cfc832" stroke-width="1.1"/>
<path d="M26.2 298.3l.5-.1 .5-.2 .5-.2 .5-.2 .5-.1 .5-.2 .5-.2 .5 0 .5 .3 .5 .2 .5 .2 .5 .3 .5 .3 .5 .2 .5 .2 .5 .3 .5 .3 .5 .2 .5 .2 .5 .2 .5 .1 .5 .2 .5 .2 .5 .2 .5 .2 .5 .2 .5 .2 .5 .1 .5 0 .5 0 .5 0 .5 0 .5 0 .5 .1 .5 0 .5 0 .5 0 .5 0 .5 0 .5 0 .5 0 .5 0 .5 0 .5 0 .5 0 .5 .1 .5 0 .5 0 .5 0 .5 0 .5 0 .5 0 .5 .1 .5 .1 .5 0 .5 .1 .5 0 .5 .1 .5 .1 .5 0 .5 .1 .5 0 .5 .1 .5 .1 .5 0 .5 .1 .5 .1 .5 0 .5 .1 .5 .1 .5 .1 .5 .1 .5 0 .5 .1 .5 .1 .5 .1 .5 .1 .5 0 .5 .1 .5 .1 .5 .1 .5 .1 .5 0 .5 .1 .5 .1 .5 .1 .5 .1 .5 0 .5 .1 .5 .1 .5 .1 .5 .1 .5 0 .5 .1 .5 .1 .5 .1 .5 .1 .5 0 .5 .2 .5 .1 .5 .1 .5 .1 .5 .1 .5 .1 .5 .1 .5 .2 .5 .1 .5 .1 .5 .1 .5 .1 .5 .1 .5 .1 .5 .1 .5 .2 .5 .1 .5 .1 .5 .1 .5 .1 .5 .1 .5 .1 .5 .2 .5 .1 .5 .1 .5 .1 .5 .1 .5 .1 .5 .1 .5 .1 .5 .1 .5 0 .5 .1 .5 0 .5 .1 .5 0 .5 .1 .5 0 .5 .1 .5 0 .5 .1 .5 0 .5 .1 .5 0 .5 .1 .5 0 .5 .1 .5 0 .5 .1 .5 0 .5 0 .5 0 .5 .1 .5 0 .5 0 .5 0 .5 0 .5 0 .5 .1 .5 0 .5 0 .5 0 .5 0 .5 0 .5 .1 .5 0 .5 0 .5 0 .5 0 .5 0 .5 .1 .5 0 .5 0 .5 0 .5 0 .5 0 .5 .1 .5 0 .5 0 .5 0 .5 0 .5 0 .5 0 .5 0 .5 0 .5 0 .5 0 .5 0 .5 0 .5 0 .5 0 .5 0 .5 0 .5 0 .5 0 .5 0 .5 0 .5 0 .5 0 .5 0 .5 0 .5 0 .5 0 .5 0 .5 0 .5 0 .5 0 .5 0 .5 0 .5 .1 .5 0 .5 0 .5 0 .5 0 .5 0 .5 0 .5 0 .5 0 .5 0 .5 0 .5 0 .5 0 .5 0 .5 0 .5 0 .5 0 .5 0 .5 0 .5 0 .5 0 .5 0 .5 0 .5 0 .5 0 .5 0 .5 0 .5 0 .5 0 .5 0 .5 0 .5 .1 .5 .1 .5 .1 .5 .1 .5 .1 .5 .1 .5 .1 .5 .1 .5 .1 .5 .1 .5 .1 .5 .1 .5 .1 .5 .1 .5 .1 .5 .1 .5 .1 .5 .1 .5 .1 .5 .2 .5 .3 .5 .2 .5 .2 .5 .3 .5 .3 .5 .2 .5 .2 .5 .3 .5 .3 .5 .2 .5 .2 .5 .3 .5 .3 .5 .2 .5 .2 .5 .3 .5 .3 .5 .2 .5 .2 .5 .3 .5 .3 .5 .3 .5 .3 .5 .3 .5 .3 .5 .3 .5 .3 .5 .3 .5 .3 .5 .3 .5 .3 .5 .3 .5 .3 .5 .3 .5 .3 .5 .3 .5 .3 .5 .3 .5 .3 .5 .3 .5 .2 .5 .3 .5 .2 .5 .2 .5 .2 .5 .3 .5 .2 .5 .2 .5 .3 .5 .2 .5 .2 .5 .3 .5 .2 .5 .2 .5 .2 .5 .3 .5 .2 .5 .2 .5 .3 .5 .1 .5 0 .5 .1 .5 0 .5 0 .5 0 .5 .1 .5 0 .5 0 .5 .1 .5 0 .5 0 .5 0 .5 .1 .5 0 .5 0 .5 0 .5 .1 .5 0 .5 0 .5 0 .5 .1 .5 0 .5 0 .5 .1 .5 0 .5 0 .5 0 .5 .1 .5 0 .5 0 .5 0 .5 0 .5 0 .5 .1 .5 0 .5 0 .5 0 .5 0 .5 0 .5 0 .5 .1 .5 0 .5 0 .5 0 .5 0 .5 0 .5 0 .5 0 .5 .1 .5 0 .5 0 .5 0 .5 0 .5 0 .5 0 .5 .1 .5 0 .5 0 .5 0 .5 0" fill="none" stroke="#4a4a22" stroke-width="1.1"/>
<path d="M26.2 298.1l.5-.3 .5-.1 .5-.2 .5-.2 .5-.2 .5-.2 .5-.2 .5 0 .5 .3 .5 .2 .5 .3 .5 .3 .5 .2 .5 .3 .5 .3 .5 .3 .5 .3 .5 .2 .5 .2 .5 .3 .5 .2 .5 .2 .5 .2 .5 .2 .5 .2 .5 .2 .5 .2 .5 .1 .5 0 .5 0 .5 0 .5 0 .5 0 .5 .1 .5 0 .5 0 .5 0 .5-.1 .5 0 .5 0 .5 0 .5 0 .5 0 .5 0 .5 0 .5 0 .5-.1 .5 0 .5 0 .5-.1 .5 0 .5-.1 .5-.1 .5-.2 .5-.8 .5-.3 .5-.3 .5-.3 .5-.4 .5-.3 .5-.3 .5-.2 .5-.2 .5-.1 .5-.3 .5-.1 .5-.2 .5 0 .5-.1 .5-.1 .5-.1 .5-.2 .5-.3 .5-.3 .5-.4 .5-.6 .5-.6 .5-.5 .5-.5 .5-.5 .5-.3 .5-.4 .5-.2 .5-.2 .5 0 .5 0 .5 0 .5 .1 .5 .2 .5 .2 .5 .3 .5 .3 .5 .4 .5 .3 .5 .4 .5 .4 .5 .3 .5 .4 .5 .3 .5 .4 .5 .4 .5 .3 .5 .4 .5 .5 .5 .4 .5 .5 .5 .6 .5 .5 .5 .6 .5 .7 .5 .6 .5 .6 .5 .6 .5 .6 .5 .6 .5 .4 .5 .5 .5 .3 .5 .3 .5 .2 .5 .2 .5 .2 .5 0 .5-.1 .5 0 .5 0 .5 0 .5 .1 .5 .1 .5 .2 .5 .2 .5 .2 .5 .3 .5 .2 .5 .9 .5 .2 .5 .3 .5 .2 .5 .1 .5 .2 .5 .1 .5 .1 .5 .1 .5 .1 .5 0 .5 .1 .5 .1 .5 0 .5 0 .5 0 .5 .1 .5 0 .5 0 .5 0 .5 0 .5 0 .5 .1 .5 0 .5 0 .5 0 .5 0 .5 0 .5 0 .5 0 .5 0 .5 0 .5-.1 .5 0 .5-.1 .5-.1 .5-.1 .5-.1 .5-.2 .5-.2 .5-.5 .5-.2 .5-.1 .5-.1 .5-.1 .5 0 .5 .1 .5 .1 .5 .1 .5 .2 .5 .6 .5 .2 .5 .2 .5 .1 .5 .2 .5 .1 .5 .1 .5 0 .5 .1 .5 0 .5 0 .5 .1 .5 0 .5 0 .5 0 .5 0 .5 0 .5 0 .5 0 .5 0 .5 0 .5 0 .5 0 .5 .1 .5 0 .5 0 .5 0 .5 0 .5 0 .5 0 .5 0 .5 0 .5 0 .5 0 .5 0 .5 0 .5-.1 .5 0 .5 0 .5 0 .5 0 .5 0 .5 0 .5 0 .5-.1 .5 0 .5-.1 .5 0 .5-.1 .5-.1 .5 0 .5-.2 .5-.1 .5-.1 .5-.7 .5-.1 .5-.1 .5-.2 .5-.2 .5-.2 .5-.3 .5-.3 .5-.4 .5-.4 .5-.5 .5-.5 .5-.5 .5-.6 .5-.6 .5-.7 .5-.7 .5-.7 .5-.8 .5-.7 .5-.6 .5-.6 .5-.6 .5-.6 .5-.5 .5-.5 .5-.5 .5-.4 .5-.3 .5-.3 .5-.1 .5-.1 .5 0 .5 .1 .5 .2 .5 .2 .5 .3 .5 .3 .5 .3 .5 .3 .5 .2 .5 .2 .5 .1 .5 0 .5-.2 .5-.2 .5-.3 .5-.4 .5-.4 .5-.3 .5-.2 .5-.1 .5 .2 .5 .3 .5 .6 .5 .9 .5 1.1 .5 1.4 .5 1.6 .5 1.7 .5 1.9 .5 1.9 .5 2 .5 2 .5 1.9 .5 1.9 .5 1.8 .5 1.6 .5 1.4 .5 1.2 .5 1.1 .5 1 .5 .9 .5 .7 .5 .7 .5 1.1 .5 .5 .5 .4 .5 .4 .5 .3 .5 .1 .5 .1 .5 0 .5 .1 .5 0 .5 0 .5 .1 .5 0 .5 0 .5 .1 .5 0 .5 0 .5 0 .5 0 .5 0 .5-.1 .5-.1 .5-.1 .5-.1 .5-.1 .5-.2 .5-.2 .5-.4 .5-.2 .5-.1 .5-.2 .5-.1 .5-.1 .5 0 .5 0 .5 .1 .5 .1 .5 .1 .5 .2 .5 .2 .5 .2 .5 .5 .5 .2 .5 .2 .5 .2 .5 .1 .5 .1 .5 .2 .5 0 .5 .1 .5 .1 .5 0 .5 .1 .5 0 .5 0 .5 .1 .5 0 .5 0 .5 0 .5 0 .5 0 .5 .1 .5 0 .5 0 .5 0" fill="none" stroke="#a8a8a8" stroke-opacity="0.55" stroke-width="4.5" stroke-linejoin="round"/>
<path d="M26.2 298.1l.5-.3 .5-.1 .5-.2 .5-.2 .5-.2 .5-.2 .5-.2 .5 0 .5 .3 .5 .2 .5 .3 .5 .3 .5 .2 .5 .3 .5 .3 .5 .3 .5 .3 .5 .2 .5 .2 .5 .3 .5 .2 .5 .2 .5 .2 .5 .2 .5 .2 .5 .2 .5 .2 .5 .1 .5 0 .5 0 .5 0 .5 0 .5 0 .5 .1 .5 0 .5 0 .5 0 .5-.1 .5 0 .5 0 .5 0 .5 0 .5 0 .5 0 .5 0 .5 0 .5-.1 .5 0 .5 0 .5-.1 .5 0 .5-.1 .5-.1 .5-.2 .5-.8 .5-.3 .5-.3 .5-.3 .5-.4 .5-.3 .5-.3 .5-.2 .5-.2 .5-.1 .5-.3 .5-.1 .5-.2 .5 0 .5-.1 .5-.1 .5-.1 .5-.2 .5-.3 .5-.3 .5-.4 .5-.6 .5-.6 .5-.5 .5-.5 .5-.5 .5-.3 .5-.4 .5-.2 .5-.2 .5 0 .5 0 .5 0 .5 .1 .5 .2 .5 .2 .5 .3 .5 .3 .5 .4 .5 .3 .5 .4 .5 .4 .5 .3 .5 .4 .5 .3 .5 .4 .5 .4 .5 .3 .5 .4 .5 .5 .5 .4 .5 .5 .5 .6 .5 .5 .5 .6 .5 .7 .5 .6 .5 .6 .5 .6 .5 .6 .5 .6 .5 .4 .5 .5 .5 .3 .5 .3 .5 .2 .5 .2 .5 .2 .5 0 .5-.1 .5 0 .5 0 .5 0 .5 .1 .5 .1 .5 .2 .5 .2 .5 .2 .5 .3 .5 .2 .5 .9 .5 .2 .5 .3 .5 .2 .5 .1 .5 .2 .5 .1 .5 .1 .5 .1 .5 .1 .5 0 .5 .1 .5 .1 .5 0 .5 0 .5 0 .5 .1 .5 0 .5 0 .5 0 .5 0 .5 0 .5 .1 .5 0 .5 0 .5 0 .5 0 .5 0 .5 0 .5 0 .5 0 .5 0 .5-.1 .5 0 .5-.1 .5-.1 .5-.1 .5-.1 .5-.2 .5-.2 .5-.5 .5-.2 .5-.1 .5-.1 .5-.1 .5 0 .5 .1 .5 .1 .5 .1 .5 .2 .5 .6 .5 .2 .5 .2 .5 .1 .5 .2 .5 .1 .5 .1 .5 0 .5 .1 .5 0 .5 0 .5 .1 .5 0 .5 0 .5 0 .5 0 .5 0 .5 0 .5 0 .5 0 .5 0 .5 0 .5 0 .5 .1 .5 0 .5 0 .5 0 .5 0 .5 0 .5 0 .5 0 .5 0 .5 0 .5 0 .5 0 .5 0 .5-.1 .5 0 .5 0 .5 0 .5 0 .5 0 .5 0 .5 0 .5-.1 .5 0 .5-.1 .5 0 .5-.1 .5-.1 .5 0 .5-.2 .5-.1 .5-.1 .5-.7 .5-.1 .5-.1 .5-.2 .5-.2 .5-.2 .5-.3 .5-.3 .5-.4 .5-.4 .5-.5 .5-.5 .5-.5 .5-.6 .5-.6 .5-.7 .5-.7 .5-.7 .5-.8 .5-.7 .5-.6 .5-.6 .5-.6 .5-.6 .5-.5 .5-.5 .5-.5 .5-.4 .5-.3 .5-.3 .5-.1 .5-.1 .5 0 .5 .1 .5 .2 .5 .2 .5 .3 .5 .3 .5 .3 .5 .3 .5 .2 .5 .2 .5 .1 .5 0 .5-.2 .5-.2 .5-.3 .5-.4 .5-.4 .5-.3 .5-.2 .5-.1 .5 .2 .5 .3 .5 .6 .5 .9 .5 1.1 .5 1.4 .5 1.6 .5 1.7 .5 1.9 .5 1.9 .5 2 .5 2 .5 1.9 .5 1.9 .5 1.8 .5 1.6 .5 1.4 .5 1.2 .5 1.1 .5 1 .5 .9 .5 .7 .5 .7 .5 1.1 .5 .5 .5 .4 .5 .4 .5 .3 .5 .1 .5 .1 .5 0 .5 .1 .5 0 .5 0 .5 .1 .5 0 .5 0 .5 .1 .5 0 .5 0 .5 0 .5 0 .5 0 .5-.1 .5-.1 .5-.1 .5-.1 .5-.1 .5-.2 .5-.2 .5-.4 .5-.2 .5-.1 .5-.2 .5-.1 .5-.1 .5 0 .5 0 .5 .1 .5 .1 .5 .1 .5 .2 .5 .2 .5 .2 .5 .5 .5 .2 .5 .2 .5 .2 .5 .1 .5 .1 .5 .2 .5 0 .5 .1 .5 .1 .5 0 .5 .1 .5 0 .5 0 .5 .1 .5 0 .5 0 .5 0 .5 0 .5 0 .5 .1 .5 0 .5 0 .5 0" fill="none" stroke="#000" stroke-width="1.6" stroke-linejoin="round"/>
<path d="M44.7 362.4l.5 0 .5 0 .5-.1 .5-.1 .5-.1 .5-.1 .5-.2 .5-.1 .5-.3 .5-.2 .5-.3 .5-.3 .5-.3 .5-.3 .5-.4 .5-.3 .5-.3 .5-.3 .5-.3 .5-.2 .5-.1 .5-.1 .5 0 .5 0 .5 .2 .5 .2 .5 .2 .5 .3 .5 .4 .5 .3 .5 .5 .5 .4 .5 .4 .5 .5 .5 .4 .5 .4 .5 .4 .5 .3 .5 .4 .5 .3 .5 .2 .5 .2 .5 .2 .5 .2 .5 .2 .5 .1 .5 .1 L68.2 365.0 L67.7 365.0 L67.2 364.9 L66.7 364.8 L66.2 364.8 L65.7 364.7 L65.2 364.6 L64.7 364.6 L64.2 364.5 L63.7 364.5 L63.2 364.4 L62.7 364.3 L62.2 364.3 L61.7 364.2 L61.2 364.1 L60.7 364.1 L60.2 364.0 L59.7 364.0 L59.2 363.9 L58.7 363.9 L58.2 363.8 L57.7 363.8 L57.2 363.7 L56.7 363.7 L56.2 363.7 L55.7 363.6 L55.2 363.6 L54.7 363.5 L54.2 363.5 L53.7 363.4 L53.2 363.4 L52.7 363.3 L52.2 363.3 L51.7 363.2 L51.2 363.2 L50.7 363.1 L50.2 363.1 L49.7 363.1 L49.2 363.0 L48.7 363.0 L48.2 362.9 L47.7 362.9 L47.2 362.8 L46.7 362.8 L46.2 362.7 L45.7 362.7 L45.2 362.6 L44.7 362.6 Z" fill="url(#gy)" stroke="none"/>
<path d="M44.7 362.4l.5 0 .5 0 .5-.1 .5-.1 .5-.1 .5-.1 .5-.2 .5-.1 .5-.3 .5-.2 .5-.3 .5-.3 .5-.3 .5-.3 .5-.4 .5-.3 .5-.3 .5-.3 .5-.3 .5-.2 .5-.1 .5-.1 .5 0 .5 0 .5 .2 .5 .2 .5 .2 .5 .3 .5 .4 .5 .3 .5 .5 .5 .4 .5 .4 .5 .5 .5 .4 .5 .4 .5 .4 .5 .3 .5 .4 .5 .3 .5 .2 .5 .2 .5 .2 .5 .2 .5 .2 .5 .1 .5 .1" fill="none" stroke="#cfc832" stroke-width="1.1"/>
<path d="M51.7 363.1l.5 0 .5-.1 .5 0 .5-.1 .5 0 .5-.2 .5-.1 .5-.2 .5-.2 .5-.2 .5-.3 .5-.2 .5-.3 .5-.4 .5-.3 .5-.3 .5-.4 .5-.2 .5-.3 .5-.2 .5-.2 .5-.1 .5 0 .5 0 .5 .1 .5 .2 .5 .2 .5 .3 .5 .3 .5 .4 .5 .4 .5 .4 .5 .5 .5 .4 .5 .5 .5 .4 .5 .4 .5 .3 .5 .4 .5 .3 .5 .3 .5 .2 .5 .2 .5 .2 .5 .2 .5 .2 .5 .1 .5 .1 L75.7 366.0 L75.2 365.9 L74.7 365.8 L74.2 365.8 L73.7 365.7 L73.2 365.6 L72.7 365.6 L72.2 365.5 L71.7 365.5 L71.2 365.4 L70.7 365.3 L70.2 365.3 L69.7 365.2 L69.2 365.1 L68.7 365.1 L68.2 365.0 L67.7 365.0 L67.2 364.9 L66.7 364.8 L66.2 364.8 L65.7 364.7 L65.2 364.6 L64.7 364.6 L64.2 364.5 L63.7 364.5 L63.2 364.4 L62.7 364.3 L62.2 364.3 L61.7 364.2 L61.2 364.1 L60.7 364.1 L60.2 364.0 L59.7 364.0 L59.2 363.9 L58.7 363.9 L58.2 363.8 L57.7 363.8 L57.2 363.7 L56.7 363.7 L56.2 363.7 L55.7 363.6 L55.2 363.6 L54.7 363.5 L54.2 363.5 L53.7 363.4 L53.2 363.4 L52.7 363.3 L52.2 363.3 L51.7 363.2 Z" fill="url(#gy)" stroke="none"/>
<path d="M51.7 363.1l.5 0 .5-.1 .5 0 .5-.1 .5 0 .5-.2 .5-.1 .5-.2 .5-.2 .5-.2 .5-.3 .5-.2 .5-.3 .5-.4 .5-.3 .5-.3 .5-.4 .5-.2 .5-.3 .5-.2 .5-.2 .5-.1 .5 0 .5 0 .5 .1 .5 .2 .5 .2 .5 .3 .5 .3 .5 .4 .5 .4 .5 .4 .5 .5 .5 .4 .5 .5 .5 .4 .5 .4 .5 .3 .5 .4 .5 .3 .5 .3 .5 .2 .5 .2 .5 .2 .5 .2 .5 .2 .5 .1 .5 .1" fill="none" stroke="#cfc832" stroke-width="1.1"/>
<path d="M54.7 363.3l.5 0 .5 0 .5 0 .5 0 .5 0 .5-.1 .5 0 .5-.1 .5-.1 .5-.2 .5-.1 .5-.1 .5-.2 .5-.2 .5-.3 .5-.2 .5-.3 .5-.4 .5-.3 .5-.4 .5-.5 .5-.4 .5-.5 .5-.5 .5-.5 .5-.5 .5-.6 .5-.5 .5-.6 .5-.5 .5-.5 .5-.5 .5-.4 .5-.4 .5-.4 .5-.3 .5-.3 .5-.2 .5-.1 .5-.1 .5 0 .5 .1 .5 .1 .5 .2 .5 .3 .5 .3 .5 .4 .5 .5 .5 .5 .5 .5 .5 .6 .5 .6 .5 .7 .5 .7 .5 .6 .5 .7 .5 .7 .5 .6 .5 .7 .5 .6 .5 .6 .5 .6 .5 .6 .5 .5 .5 .5 .5 .4 .5 .5 .5 .4 .5 .3 .5 .4 .5 .3 .5 .3 .5 .2 .5 .3 .5 .2 .5 .2 .5 .2 .5 .1 .5 .2 .5 .1 .5 .1 .5 .2 .5 .1 L96.2 368.8 L95.7 368.8 L95.2 368.7 L94.7 368.6 L94.2 368.6 L93.7 368.5 L93.2 368.4 L92.7 368.3 L92.2 368.3 L91.7 368.2 L91.2 368.1 L90.7 368.1 L90.2 368.0 L89.7 367.9 L89.2 367.8 L88.7 367.8 L88.2 367.7 L87.7 367.6 L87.2 367.5 L86.7 367.5 L86.2 367.4 L85.7 367.3 L85.2 367.3 L84.7 367.2 L84.2 367.1 L83.7 367.0 L83.2 367.0 L82.7 366.9 L82.2 366.8 L81.7 366.7 L81.2 366.7 L80.7 366.6 L80.2 366.5 L79.7 366.5 L79.2 366.4 L78.7 366.3 L78.2 366.3 L77.7 366.2 L77.2 366.1 L76.7 366.1 L76.2 366.0 L75.7 366.0 L75.2 365.9 L74.7 365.8 L74.2 365.8 L73.7 365.7 L73.2 365.6 L72.7 365.6 L72.2 365.5 L71.7 365.5 L71.2 365.4 L70.7 365.3 L70.2 365.3 L69.7 365.2 L69.2 365.1 L68.7 365.1 L68.2 365.0 L67.7 365.0 L67.2 364.9 L66.7 364.8 L66.2 364.8 L65.7 364.7 L65.2 364.6 L64.7 364.6 L64.2 364.5 L63.7 364.5 L63.2 364.4 L62.7 364.3 L62.2 364.3 L61.7 364.2 L61.2 364.1 L60.7 364.1 L60.2 364.0 L59.7 364.0 L59.2 363.9 L58.7 363.9 L58.2 363.8 L57.7 363.8 L57.2 363.7 L56.7 363.7 L56.2 363.7 L55.7 363.6 L55.2 363.6 L54.7 363.5 Z" fill="url(#gb)" stroke="none"/>
<path d="M54.7 363.3l.5 0 .5 0 .5 0 .5 0 .5 0 .5-.1 .5 0 .5-.1 .5-.1 .5-.2 .5-.1 .5-.1 .5-.2 .5-.2 .5-.3 .5-.2 .5-.3 .5-.4 .5-.3 .5-.4 .5-.5 .5-.4 .5-.5 .5-.5 .5-.5 .5-.5 .5-.6 .5-.5 .5-.6 .5-.5 .5-.5 .5-.5 .5-.4 .5-.4 .5-.4 .5-.3 .5-.3 .5-.2 .5-.1 .5-.1 .5 0 .5 .1 .5 .1 .5 .2 .5 .3 .5 .3 .5 .4 .5 .5 .5 .5 .5 .5 .5 .6 .5 .6 .5 .7 .5 .7 .5 .6 .5 .7 .5 .7 .5 .6 .5 .7 .5 .6 .5 .6 .5 .6 .5 .6 .5 .5 .5 .5 .5 .4 .5 .5 .5 .4 .5 .3 .5 .4 .5 .3 .5 .3 .5 .2 .5 .3 .5 .2 .5 .2 .5 .2 .5 .1 .5 .2 .5 .1 .5 .1 .5 .2 .5 .1" fill="none" stroke="#3a4ab0" stroke-width="1.1"/>
<path d="M68.7 364.9l.5 0 .5 0 .5 0 .5 0 .5 0 .5-.1 .5-.1 .5-.1 .5-.2 .5-.1 .5-.2 .5-.3 .5-.2 .5-.3 .5-.3 .5-.4 .5-.4 .5-.4 .5-.4 .5-.4 .5-.4 .5-.4 .5-.4 .5-.3 .5-.3 .5-.3 .5-.2 .5-.1 .5-.1 .5 0 .5 0 .5 .1 .5 .2 .5 .3 .5 .3 .5 .4 .5 .4 .5 .5 .5 .5 .5 .5 .5 .5 .5 .6 .5 .5 .5 .6 .5 .5 .5 .5 .5 .5 .5 .4 .5 .4 .5 .4 .5 .4 .5 .3 .5 .3 .5 .2 .5 .3 .5 .2 .5 .2 .5 .2 .5 .1 .5 .2 .5 .1 .5 .1 L99.7 369.4 L99.2 369.3 L98.7 369.2 L98.2 369.1 L97.7 369.1 L97.2 369.0 L96.7 368.9 L96.2 368.8 L95.7 368.8 L95.2 368.7 L94.7 368.6 L94.2 368.6 L93.7 368.5 L93.2 368.4 L92.7 368.3 L92.2 368.3 L91.7 368.2 L91.2 368.1 L90.7 368.1 L90.2 368.0 L89.7 367.9 L89.2 367.8 L88.7 367.8 L88.2 367.7 L87.7 367.6 L87.2 367.5 L86.7 367.5 L86.2 367.4 L85.7 367.3 L85.2 367.3 L84.7 367.2 L84.2 367.1 L83.7 367.0 L83.2 367.0 L82.7 366.9 L82.2 366.8 L81.7 366.7 L81.2 366.7 L80.7 366.6 L80.2 366.5 L79.7 366.5 L79.2 366.4 L78.7 366.3 L78.2 366.3 L77.7 366.2 L77.2 366.1 L76.7 366.1 L76.2 366.0 L75.7 366.0 L75.2 365.9 L74.7 365.8 L74.2 365.8 L73.7 365.7 L73.2 365.6 L72.7 365.6 L72.2 365.5 L71.7 365.5 L71.2 365.4 L70.7 365.3 L70.2 365.3 L69.7 365.2 L69.2 365.1 L68.7 365.1 Z" fill="url(#gc)" stroke="none"/>
<path d="M68.7 364.9l.5 0 .5 0 .5 0 .5 0 .5 0 .5-.1 .5-.1 .5-.1 .5-.2 .5-.1 .5-.2 .5-.3 .5-.2 .5-.3 .5-.3 .5-.4 .5-.4 .5-.4 .5-.4 .5-.4 .5-.4 .5-.4 .5-.4 .5-.3 .5-.3 .5-.3 .5-.2 .5-.1 .5-.1 .5 0 .5 0 .5 .1 .5 .2 .5 .3 .5 .3 .5 .4 .5 .4 .5 .5 .5 .5 .5 .5 .5 .5 .5 .6 .5 .5 .5 .6 .5 .5 .5 .5 .5 .5 .5 .4 .5 .4 .5 .4 .5 .4 .5 .3 .5 .3 .5 .2 .5 .3 .5 .2 .5 .2 .5 .2 .5 .1 .5 .2 .5 .1 .5 .1" fill="none" stroke="#1ea8c0" stroke-width="1.1"/>
<path d="M89.7 367.7l.5 0 .5 0 .5-.1 .5-.1 .5-.2 .5-.1 .5-.2 .5-.2 .5-.2 .5-.1 .5-.2 .5 0 .5 0 .5 0 .5 .2 .5 .2 .5 .2 .5 .3 .5 .4 .5 .3 .5 .3 .5 .3 .5 .2 .5 .2 .5 .2 .5 .1 .5 .1 L103.2 369.6 L102.7 369.5 L102.2 369.5 L101.7 369.5 L101.2 369.5 L100.7 369.4 L100.2 369.4 L99.7 369.4 L99.2 369.3 L98.7 369.2 L98.2 369.1 L97.7 369.1 L97.2 369.0 L96.7 368.9 L96.2 368.8 L95.7 368.8 L95.2 368.7 L94.7 368.6 L94.2 368.6 L93.7 368.5 L93.2 368.4 L92.7 368.3 L92.2 368.3 L91.7 368.2 L91.2 368.1 L90.7 368.1 L90.2 368.0 L89.7 367.9 Z" fill="url(#gy)" stroke="none"/>
<path d="M89.7 367.7l.5 0 .5 0 .5-.1 .5-.1 .5-.2 .5-.1 .5-.2 .5-.2 .5-.2 .5-.1 .5-.2 .5 0 .5 0 .5 0 .5 .2 .5 .2 .5 .2 .5 .3 .5 .4 .5 .3 .5 .3 .5 .3 .5 .2 .5 .2 .5 .2 .5 .1 .5 .1" fill="none" stroke="#cfc832" stroke-width="1.1"/>
<path d="M124.2 369.7l.5-.1 .5-.3 .5-.2 .5-.4 .5-.4 .5-.6 .5-.5 .5-.6 .5-.5 .5-.5 .5-.3 .5-.1 .5 .1 .5 .2 .5 .4 .5 .5 .5 .6 .5 .5 .5 .6 .5 .5 .5 .4 .5 .3 .5 .2 .5 .2 .5 .1 L136.7 370.0 L136.2 370.0 L135.7 370.0 L135.2 370.0 L134.7 370.0 L134.2 370.0 L133.7 370.0 L133.2 370.0 L132.7 370.0 L132.2 370.0 L131.7 370.0 L131.2 370.0 L130.7 370.0 L130.2 370.0 L129.7 369.9 L129.2 369.9 L128.7 369.9 L128.2 369.9 L127.7 369.9 L127.2 369.9 L126.7 369.9 L126.2 369.9 L125.7 369.9 L125.2 369.9 L124.7 369.9 L124.2 369.9 Z" fill="url(#gy)" stroke="none"/>
<path d="M124.2 369.7l.5-.1 .5-.3 .5-.2 .5-.4 .5-.4 .5-.6 .5-.5 .5-.6 .5-.5 .5-.5 .5-.3 .5-.1 .5 .1 .5 .2 .5 .4 .5 .5 .5 .6 .5 .5 .5 .6 .5 .5 .5 .4 .5 .3 .5 .2 .5 .2 .5 .1" fill="none" stroke="#cfc832" stroke-width="1.1"/>
<path d="M144.7 369.8l.5 0 .5-.1 .5 0 .5-.1 .5-.1 .5-.1 .5-.1 .5-.1 .5-.2 .5-.2 .5-.1 .5-.2 .5-.2 .5-.2 .5-.3 .5-.3 .5-.3 .5-.4 .5-.4 .5-.5 .5-.5 .5-.6 .5-.5 .5-.7 .5-.6 .5-.7 .5-.7 .5-.7 .5-.7 .5-.7 .5-.6 .5-.6 .5-.6 .5-.5 .5-.5 .5-.4 .5-.3 .5-.3 .5-.2 .5-.1 .5-.1 .5 .1 .5 .1 .5 .3 .5 .3 .5 .4 .5 .5 .5 .6 .5 .7 .5 .7 .5 .8 .5 .9 .5 .9 .5 .9 .5 1 .5 1 .5 .9 .5 1 .5 1 .5 1 .5 .9 .5 .9 .5 .9 .5 .8 .5 .8 .5 .8 .5 .7 .5 .7 .5 .6 .5 .6 .5 .6 .5 .4 .5 .4 .5 .4 .5 .4 .5 .3 .5 .3 .5 .3 .5 .2 .5 .2 .5 .3 .5 .2 .5 .2 .5 .1 .5 .2 .5 .2 L187.7 380.9 L187.2 380.8 L186.7 380.7 L186.2 380.6 L185.7 380.4 L185.2 380.3 L184.7 380.2 L184.2 380.1 L183.7 379.9 L183.2 379.8 L182.7 379.7 L182.2 379.6 L181.7 379.4 L181.2 379.3 L180.7 379.2 L180.2 379.1 L179.7 378.9 L179.2 378.7 L178.7 378.5 L178.2 378.3 L177.7 378.1 L177.2 377.9 L176.7 377.7 L176.2 377.5 L175.7 377.3 L175.2 377.1 L174.7 376.9 L174.2 376.7 L173.7 376.5 L173.2 376.3 L172.7 376.1 L172.2 375.9 L171.7 375.7 L171.2 375.5 L170.7 375.3 L170.2 375.1 L169.7 374.9 L169.2 374.7 L168.7 374.5 L168.2 374.4 L167.7 374.2 L167.2 374.0 L166.7 373.8 L166.2 373.7 L165.7 373.5 L165.2 373.3 L164.7 373.1 L164.2 373.0 L163.7 372.8 L163.2 372.6 L162.7 372.4 L162.2 372.3 L161.7 372.1 L161.2 371.9 L160.7 371.7 L160.2 371.6 L159.7 371.5 L159.2 371.4 L158.7 371.3 L158.2 371.2 L157.7 371.2 L157.2 371.1 L156.7 371.0 L156.2 370.9 L155.7 370.9 L155.2 370.8 L154.7 370.7 L154.2 370.6 L153.7 370.6 L153.2 370.5 L152.7 370.4 L152.2 370.3 L151.7 370.3 L151.2 370.2 L150.7 370.1 L150.2 370.0 L149.7 370.0 L149.2 370.0 L148.7 370.0 L148.2 370.0 L147.7 370.0 L147.2 370.0 L146.7 370.0 L146.2 370.0 L145.7 370.0 L145.2 370.0 L144.7 370.0 Z" fill="url(#gb)" stroke="none"/>
<path d="M144.7 369.8l.5 0 .5-.1 .5 0 .5-.1 .5-.1 .5-.1 .5-.1 .5-.1 .5-.2 .5-.2 .5-.1 .5-.2 .5-.2 .5-.2 .5-.3 .5-.3 .5-.3 .5-.4 .5-.4 .5-.5 .5-.5 .5-.6 .5-.5 .5-.7 .5-.6 .5-.7 .5-.7 .5-.7 .5-.7 .5-.7 .5-.6 .5-.6 .5-.6 .5-.5 .5-.5 .5-.4 .5-.3 .5-.3 .5-.2 .5-.1 .5-.1 .5 .1 .5 .1 .5 .3 .5 .3 .5 .4 .5 .5 .5 .6 .5 .7 .5 .7 .5 .8 .5 .9 .5 .9 .5 .9 .5 1 .5 1 .5 .9 .5 1 .5 1 .5 1 .5 .9 .5 .9 .5 .9 .5 .8 .5 .8 .5 .8 .5 .7 .5 .7 .5 .6 .5 .6 .5 .6 .5 .4 .5 .4 .5 .4 .5 .4 .5 .3 .5 .3 .5 .3 .5 .2 .5 .2 .5 .3 .5 .2 .5 .2 .5 .1 .5 .2 .5 .2" fill="none" stroke="#3a4ab0" stroke-width="1.1"/>
<path d="M160.2 371.4l.5 .1 .5 .1 .5 .1 .5 0 .5-.1 .5-.1 .5-.1 .5-.3 .5-.4 .5-.5 .5-.6 .5-.8 .5-1 .5-1.1 .5-1.3 .5-1.5 .5-1.6 .5-1.8 .5-1.8 .5-2 .5-1.9 .5-1.9 .5-1.8 .5-1.7 .5-1.4 .5-1.2 .5-.9 .5-.5 .5-.1 .5 .2 .5 .6 .5 1 .5 1.4 .5 1.6 .5 1.9 .5 2.1 .5 2.2 .5 2.3 .5 2.4 .5 2.2 .5 2.2 .5 2 .5 1.9 .5 1.8 .5 1.5 .5 1.4 .5 1.2 .5 1.1 .5 .9 .5 .8 .5 .6 .5 .6 .5 .5 .5 .3 .5 .4 .5 .2 .5 .3 .5 .2 L189.2 381.3 L188.7 381.2 L188.2 381.1 L187.7 380.9 L187.2 380.8 L186.7 380.7 L186.2 380.6 L185.7 380.4 L185.2 380.3 L184.7 380.2 L184.2 380.1 L183.7 379.9 L183.2 379.8 L182.7 379.7 L182.2 379.6 L181.7 379.4 L181.2 379.3 L180.7 379.2 L180.2 379.1 L179.7 378.9 L179.2 378.7 L178.7 378.5 L178.2 378.3 L177.7 378.1 L177.2 377.9 L176.7 377.7 L176.2 377.5 L175.7 377.3 L175.2 377.1 L174.7 376.9 L174.2 376.7 L173.7 376.5 L173.2 376.3 L172.7 376.1 L172.2 375.9 L171.7 375.7 L171.2 375.5 L170.7 375.3 L170.2 375.1 L169.7 374.9 L169.2 374.7 L168.7 374.5 L168.2 374.4 L167.7 374.2 L167.2 374.0 L166.7 373.8 L166.2 373.7 L165.7 373.5 L165.2 373.3 L164.7 373.1 L164.2 373.0 L163.7 372.8 L163.2 372.6 L162.7 372.4 L162.2 372.3 L161.7 372.1 L161.2 371.9 L160.7 371.7 L160.2 371.6 Z" fill="url(#gc)" stroke="none"/>
<path d="M160.2 371.4l.5 .1 .5 .1 .5 .1 .5 0 .5-.1 .5-.1 .5-.1 .5-.3 .5-.4 .5-.5 .5-.6 .5-.8 .5-1 .5-1.1 .5-1.3 .5-1.5 .5-1.6 .5-1.8 .5-1.8 .5-2 .5-1.9 .5-1.9 .5-1.8 .5-1.7 .5-1.4 .5-1.2 .5-.9 .5-.5 .5-.1 .5 .2 .5 .6 .5 1 .5 1.4 .5 1.6 .5 1.9 .5 2.1 .5 2.2 .5 2.3 .5 2.4 .5 2.2 .5 2.2 .5 2 .5 1.9 .5 1.8 .5 1.5 .5 1.4 .5 1.2 .5 1.1 .5 .9 .5 .8 .5 .6 .5 .6 .5 .5 .5 .3 .5 .4 .5 .2 .5 .3 .5 .2" fill="none" stroke="#1ea8c0" stroke-width="1.1"/>
<path d="M199.2 382.2l.5-.1 .5-.1 .5-.2 .5-.2 .5-.2 .5-.1 .5-.1 .5 0 .5 .1 .5 .2 .5 .2 .5 .2 .5 .2 .5 .2 .5 .2 .5 .1 L207.2 382.7 L206.7 382.7 L206.2 382.7 L205.7 382.7 L205.2 382.7 L204.7 382.7 L204.2 382.6 L203.7 382.6 L203.2 382.6 L202.7 382.6 L202.2 382.6 L201.7 382.6 L201.2 382.5 L200.7 382.5 L200.2 382.5 L199.7 382.5 L199.2 382.4 Z" fill="url(#gy)" stroke="none"/>
<path d="M199.2 382.2l.5-.1 .5-.1 .5-.2 .5-.2 .5-.2 .5-.1 .5-.1 .5 0 .5 .1 .5 .2 .5 .2 .5 .2 .5 .2 .5 .2 .5 .2 .5 .1" fill="none" stroke="#cfc832" stroke-width="1.1"/>
<path d="M26.2 359.2l.5-.1 .5 0 .5 0 .5-.1 .5 0 .5-.1 .5 0 .5-.1 .5 0 .5 0 .5-.1 .5 0 .5-.1 .5-.1 .5-.2 .5-.1 .5-.2 .5-.2 .5-.2 .5-.2 .5-.1 .5-.2 .5 .2 .5 .5 .5 .4 .5 .5 .5 .5 .5 .5 .5 .6 .5 .6 .5 .6 .5 .6 .5 .3 .5 .1 .5 0 .5 .1 .5 0 .5 0 .5 .1 .5 0 .5 .1 .5 0 .5 .1 .5 0 .5 .1 .5 0 .5 .1 .5 0 .5 0 .5 .1 .5 0 .5 .1 .5 0 .5 .1 .5 0 .5 .1 .5 0 .5 .1 .5 0 .5 .1 .5 0 .5 0 .5 .1 .5 0 .5 .1 .5 0 .5 .1 .5 0 .5 .1 .5 .1 .5 0 .5 .1 .5 0 .5 .1 .5 .1 .5 0 .5 .1 .5 0 .5 .1 .5 .1 .5 0 .5 .1 .5 .1 .5 0 .5 .1 .5 .1 .5 0 .5 .1 .5 0 .5 .1 .5 .1 .5 0 .5 .1 .5 0 .5 .1 .5 .1 .5 0 .5 .1 .5 .1 .5 0 .5 .1 .5 .1 .5 0 .5 .1 .5 0 .5 .1 .5 .1 .5 0 .5 .1 .5 .1 .5 0 .5 .1 .5 .1 .5 .1 .5 0 .5 .1 .5 .1 .5 .1 .5 0 .5 .1 .5 .1 .5 0 .5 .1 .5 .1 .5 .1 .5 0 .5 .1 .5 .1 .5 .1 .5 0 .5 .1 .5 .1 .5 0 .5 .1 .5 .1 .5 .1 .5 0 .5 .1 .5 .1 .5 0 .5 .1 .5 .1 .5 .1 .5 0 .5 .1 .5 .1 .5 .1 .5 0 .5 0 .5 .1 .5 0 .5 0 .5 0 .5 .1 .5 0 .5 0 .5 0 .5 .1 .5 0 .5 0 .5 0 .5 .1 .5 0 .5 0 .5 0 .5 .1 .5 0 .5 0 .5 0 .5 0 .5 0 .5 0 .5 0 .5 0 .5 0 .5 0 .5 0 .5 0 .5 0 .5 0 .5 0 .5 0 .5 0 .5 0 .5 0 .5 0 .5 0 .5 0 .5 0 .5 0 .5 0 .5 0 .5 0 .5 0 .5 0 .5 0 .5 0 .5 0 .5 0 .5 0 .5 0 .5 0 .5 0 .5 0 .5 0 .5 0 .5 0 .5 .1 .5 0 .5 0 .5 0 .5 0 .5 0 .5 0 .5 0 .5 0 .5 0 .5 0 .5 0 .5 0 .5 0 .5 0 .5 0 .5 0 .5 0 .5 0 .5 0 .5 0 .5 0 .5 0 .5 0 .5 0 .5 0 .5 0 .5 0 .5 0 .5 0 .5 0 .5 0 .5 0 .5 0 .5 0 .5 0 .5 0 .5 0 .5 0 .5 0 .5 0 .5 .1 .5 .1 .5 .1 .5 0 .5 .1 .5 .1 .5 .1 .5 0 .5 .1 .5 .1 .5 .1 .5 0 .5 .1 .5 .1 .5 .1 .5 0 .5 .1 .5 .1 .5 .1 .5 .1 .5 .1 .5 .2 .5 .2 .5 .2 .5 .1 .5 .2 .5 .2 .5 .2 .5 .1 .5 .2 .5 .2 .5 .2 .5 .1 .5 .2 .5 .2 .5 .2 .5 .1 .5 .2 .5 .2 .5 .2 .5 .2 .5 .2 .5 .2 .5 .2 .5 .2 .5 .2 .5 .2 .5 .2 .5 .2 .5 .2 .5 .2 .5 .2 .5 .2 .5 .2 .5 .2 .5 .2 .5 .2 .5 .2 .5 .2 .5 .1 .5 .2 .5 .1 .5 .1 .5 .2 .5 .1 .5 .1 .5 .1 .5 .1 .5 .2 .5 .1 .5 .1 .5 .2 .5 .1 .5 .1 .5 .1 .5 .1 .5 .2 .5 .1 .5 .1 .5 .1 .5 .1 .5 0 .5 .1 .5 0 .5 .1 .5 0 .5 .1 .5 0 .5 .1 .5 0 .5 .1 .5 0 .5 .1 .5 0 .5 .1 .5 0 .5 .1 .5 0 .5 .1 .5 0 .5 0 .5 0 .5 .1 .5 0 .5 0 .5 0 .5 0 .5 0 .5 .1 .5 0 .5 0 .5 0 .5 0 .5 0 .5 .1 .5 0 .5 0 .5 0 .5 0 .5 0 .5 .1 .5 0 .5 0 .5 0 .5 0 .5 0 .5 .1 .5 0 .5 0 .5 0" fill="none" stroke="#111" stroke-width="1.1"/>
<path d="M26.2 359.2l.5-.1 .5 0 .5-.1 .5 0 .5-.1 .5 0 .5-.1 .5 0 .5-.1 .5-.1 .5 0 .5-.1 .5 0 .5-.1 .5-.2 .5-.2 .5-.2 .5-.2 .5-.2 .5-.1 .5-.2 .5-.2 .5 .3 .5 .5 .5 .5 .5 .5 .5 .5 .5 .5 .5 .6 .5 .6 .5 .5 .5 .6 .5 .4 .5 0 .5 0 .5 0 .5 0 .5 0 .5 0 .5-.1 .5-.1 .5-.1 .5-.1 .5-.8 .5-.1 .5-.3 .5-.2 .5-.3 .5-.3 .5-.3 .5-.3 .5-.4 .5-.3 .5-.4 .5-.5 .5-.4 .5-.4 .5-.4 .5-.3 .5-.3 .5-.3 .5-.2 .5-.2 .5-.2 .5-.1 .5-.1 .5-.2 .5-.1 .5 0 .5-.1 .5-.1 .5 0 .5-.1 .5-.1 .5-.1 .5-.1 .5 0 .5-.1 .5-.1 .5-.2 .5-.1 .5-.1 .5-.2 .5-.1 .5-.2 .5-.2 .5-.2 .5-.3 .5-.3 .5-.2 .5-.3 .5-.4 .5-.3 .5-.3 .5-.3 .5-.4 .5-.3 .5-.3 .5-.3 .5-.2 .5-.3 .5-.1 .5-.2 .5-.1 .5 0 .5 0 .5 .1 .5 .1 .5 .2 .5 .3 .5 .3 .5 .4 .5 .5 .5 .6 .5 .6 .5 .7 .5 .7 .5 .8 .5 .9 .5 .9 .5 .9 .5 .9 .5 .9 .5 .9 .5 .9 .5 .9 .5 .8 .5 .8 .5 .7 .5 .6 .5 .6 .5 .5 .5 .3 .5 .4 .5 .2 .5 .2 .5 .2 .5 0 .5 0 .5 0 .5 0 .5 .2 .5 .2 .5 .2 .5 .3 .5 .4 .5 .3 .5 .3 .5 .9 .5 .2 .5 .2 .5 .2 .5 .1 .5 .1 .5 .1 .5 .1 .5 .1 .5 0 .5 .1 .5 0 .5 0 .5 0 .5 0 .5 .1 .5 0 .5 0 .5 0 .5 .1 .5 0 .5 0 .5 0 .5 0 .5 0 .5 0 .5 0 .5 0 .5 0 .5 0 .5 0 .5 0 .5 0 .5 0 .5 0 .5 0 .5 0 .5 0 .5 0 .5 0 .5 0 .5 0 .5 0 .5 0 .5-.1 .5 0 .5-.1 .5-.1 .5-.1 .5-.3 .5-.3 .5-.8 .5-.4 .5-.6 .5-.5 .5-.6 .5-.5 .5-.5 .5-.3 .5-.1 .5 .1 .5 .2 .5 .4 .5 .5 .5 .6 .5 .5 .5 .6 .5 .5 .5 .4 .5 .8 .5 .2 .5 .2 .5 .1 .5 .1 .5 .1 .5 0 .5 .1 .5 0 .5 0 .5 0 .5 0 .5-.1 .5 0 .5 0 .5 0 .5 0 .5 0 .5-.1 .5 0 .5 0 .5-.1 .5 0 .5-.1 .5-.1 .5-.1 .5-.1 .5-.1 .5-.2 .5-.8 .5-.1 .5-.2 .5-.2 .5-.2 .5-.3 .5-.3 .5-.3 .5-.4 .5-.4 .5-.5 .5-.5 .5-.6 .5-.5 .5-.7 .5-.6 .5-.7 .5-.7 .5-.7 .5-.7 .5-.7 .5-.6 .5-.6 .5-.6 .5-.5 .5-.5 .5-.5 .5-.6 .5-.6 .5-.7 .5-.7 .5-.7 .5-.7 .5-.9 .5-.9 .5-.9 .5-1.1 .5-1.1 .5-1.3 .5-1.2 .5-1.3 .5-1.3 .5-1.2 .5-1.1 .5-1 .5-.8 .5-.5 .5-.2 .5 0 .5 .5 .5 .7 .5 1.2 .5 1.4 .5 1.8 .5 2 .5 2.3 .5 2.5 .5 2.6 .5 2.6 .5 2.7 .5 2.6 .5 2.5 .5 2.3 .5 2.2 .5 2 .5 1.8 .5 1.5 .5 1.4 .5 1.2 .5 1.1 .5 .9 .5 .8 .5 .6 .5 .6 .5 .5 .5 .8 .5 .3 .5 .3 .5 .3 .5 .2 .5 .2 .5 .1 .5 .1 .5 .1 .5 0 .5 .1 .5 0 .5 .1 .5 0 .5 .1 .5 0 .5 .1 .5 0 .5 .1 .5 0 .5 0 .5 .1 .5 0 .5 0 .5-.1 .5 0 .5-.1 .5-.2 .5-.2 .5-.7 .5-.1 .5-.1 .5 0 .5 .1 .5 .2 .5 .7 .5 .3 .5 .2 .5 .2 .5 .2 .5 .1 .5 .1 .5 0 .5 .1 .5 0 .5 0 .5 0 .5 .1 .5 0 .5 0 .5 0 .5 0 .5 0 .5 .1 .5 0 .5 0 .5 0" fill="none" stroke="#a8a8a8" stroke-opacity="0.55" stroke-width="4.5" stroke-linejoin="round"/>
<path d="M26.2 359.2l.5-.1 .5 0 .5-.1 .5 0 .5-.1 .5 0 .5-.1 .5 0 .5-.1 .5-.1 .5 0 .5-.1 .5 0 .5-.1 .5-.2 .5-.2 .5-.2 .5-.2 .5-.2 .5-.1 .5-.2 .5-.2 .5 .3 .5 .5 .5 .5 .5 .5 .5 .5 .5 .5 .5 .6 .5 .6 .5 .5 .5 .6 .5 .4 .5 0 .5 0 .5 0 .5 0 .5 0 .5 0 .5-.1 .5-.1 .5-.1 .5-.1 .5-.8 .5-.1 .5-.3 .5-.2 .5-.3 .5-.3 .5-.3 .5-.3 .5-.4 .5-.3 .5-.4 .5-.5 .5-.4 .5-.4 .5-.4 .5-.3 .5-.3 .5-.3 .5-.2 .5-.2 .5-.2 .5-.1 .5-.1 .5-.2 .5-.1 .5 0 .5-.1 .5-.1 .5 0 .5-.1 .5-.1 .5-.1 .5-.1 .5 0 .5-.1 .5-.1 .5-.2 .5-.1 .5-.1 .5-.2 .5-.1 .5-.2 .5-.2 .5-.2 .5-.3 .5-.3 .5-.2 .5-.3 .5-.4 .5-.3 .5-.3 .5-.3 .5-.4 .5-.3 .5-.3 .5-.3 .5-.2 .5-.3 .5-.1 .5-.2 .5-.1 .5 0 .5 0 .5 .1 .5 .1 .5 .2 .5 .3 .5 .3 .5 .4 .5 .5 .5 .6 .5 .6 .5 .7 .5 .7 .5 .8 .5 .9 .5 .9 .5 .9 .5 .9 .5 .9 .5 .9 .5 .9 .5 .9 .5 .8 .5 .8 .5 .7 .5 .6 .5 .6 .5 .5 .5 .3 .5 .4 .5 .2 .5 .2 .5 .2 .5 0 .5 0 .5 0 .5 0 .5 .2 .5 .2 .5 .2 .5 .3 .5 .4 .5 .3 .5 .3 .5 .9 .5 .2 .5 .2 .5 .2 .5 .1 .5 .1 .5 .1 .5 .1 .5 .1 .5 0 .5 .1 .5 0 .5 0 .5 0 .5 0 .5 .1 .5 0 .5 0 .5 0 .5 .1 .5 0 .5 0 .5 0 .5 0 .5 0 .5 0 .5 0 .5 0 .5 0 .5 0 .5 0 .5 0 .5 0 .5 0 .5 0 .5 0 .5 0 .5 0 .5 0 .5 0 .5 0 .5 0 .5 0 .5 0 .5-.1 .5 0 .5-.1 .5-.1 .5-.1 .5-.3 .5-.3 .5-.8 .5-.4 .5-.6 .5-.5 .5-.6 .5-.5 .5-.5 .5-.3 .5-.1 .5 .1 .5 .2 .5 .4 .5 .5 .5 .6 .5 .5 .5 .6 .5 .5 .5 .4 .5 .8 .5 .2 .5 .2 .5 .1 .5 .1 .5 .1 .5 0 .5 .1 .5 0 .5 0 .5 0 .5 0 .5-.1 .5 0 .5 0 .5 0 .5 0 .5 0 .5-.1 .5 0 .5 0 .5-.1 .5 0 .5-.1 .5-.1 .5-.1 .5-.1 .5-.1 .5-.2 .5-.8 .5-.1 .5-.2 .5-.2 .5-.2 .5-.3 .5-.3 .5-.3 .5-.4 .5-.4 .5-.5 .5-.5 .5-.6 .5-.5 .5-.7 .5-.6 .5-.7 .5-.7 .5-.7 .5-.7 .5-.7 .5-.6 .5-.6 .5-.6 .5-.5 .5-.5 .5-.5 .5-.6 .5-.6 .5-.7 .5-.7 .5-.7 .5-.7 .5-.9 .5-.9 .5-.9 .5-1.1 .5-1.1 .5-1.3 .5-1.2 .5-1.3 .5-1.3 .5-1.2 .5-1.1 .5-1 .5-.8 .5-.5 .5-.2 .5 0 .5 .5 .5 .7 .5 1.2 .5 1.4 .5 1.8 .5 2 .5 2.3 .5 2.5 .5 2.6 .5 2.6 .5 2.7 .5 2.6 .5 2.5 .5 2.3 .5 2.2 .5 2 .5 1.8 .5 1.5 .5 1.4 .5 1.2 .5 1.1 .5 .9 .5 .8 .5 .6 .5 .6 .5 .5 .5 .8 .5 .3 .5 .3 .5 .3 .5 .2 .5 .2 .5 .1 .5 .1 .5 .1 .5 0 .5 .1 .5 0 .5 .1 .5 0 .5 .1 .5 0 .5 .1 .5 0 .5 .1 .5 0 .5 0 .5 .1 .5 0 .5 0 .5-.1 .5 0 .5-.1 .5-.2 .5-.2 .5-.7 .5-.1 .5-.1 .5 0 .5 .1 .5 .2 .5 .7 .5 .3 .5 .2 .5 .2 .5 .2 .5 .1 .5 .1 .5 0 .5 .1 .5 0 .5 0 .5 0 .5 .1 .5 0 .5 0 .5 0 .5 0 .5 0 .5 .1 .5 0 .5 0 .5 0" fill="none" stroke="#000" stroke-width="1.6" stroke-linejoin="round"/>
</g>
<rect x="26.2" y="209.6" width="189.0" height="174.70000000000002" fill="none" stroke="#000" stroke-width="1.6"/>
<clipPath id="ce"><rect x="240" y="209.6" width="134.60000000000002" height="174.70000000000002"/></clipPath><g clip-path="url(#ce)">
<path d="M273 258.5l.5-.1 .5 0 .5 0 .5-.1 .5 0 .5 0 .5-.1 .5 0 .5-.1 .5-.1 .5 0 .5-.1 .5 0 .5-.1 .5 0 .5-.1 .5 0 .5-.1 .5 0 .5-.1 .5 0 .5 0 .5 0 .5 0 .5 0 .5 0 .5 .1 .5 0 .5 0 .5 .1 .5 0 .5 .1 .5 .1 .5 0 .5 .1 .5 .1 .5 .1 .5 0 .5 .1 .5 .1 .5 .1 .5 0 .5 .1 .5 .1 .5 0 .5 .1 .5 0 .5 .1 L297.0 259.0 L296.5 259.0 L296.0 259.0 L295.5 259.0 L295.0 259.0 L294.5 259.0 L294.0 258.9 L293.5 258.9 L293.0 258.9 L292.5 258.9 L292.0 258.9 L291.5 258.9 L291.0 258.8 L290.5 258.8 L290.0 258.8 L289.5 258.8 L289.0 258.8 L288.5 258.8 L288.0 258.8 L287.5 258.8 L287.0 258.8 L286.5 258.8 L286.0 258.8 L285.5 258.8 L285.0 258.8 L284.5 258.7 L284.0 258.7 L283.5 258.7 L283.0 258.7 L282.5 258.7 L282.0 258.7 L281.5 258.7 L281.0 258.7 L280.5 258.7 L280.0 258.7 L279.5 258.7 L279.0 258.7 L278.5 258.7 L278.0 258.7 L277.5 258.7 L277.0 258.7 L276.5 258.7 L276.0 258.7 L275.5 258.7 L275.0 258.7 L274.5 258.6 L274.0 258.6 L273.5 258.6 L273.0 258.6 Z" fill="url(#gy)" stroke="none"/>
<path d="M273 258.5l.5-.1 .5 0 .5 0 .5-.1 .5 0 .5 0 .5-.1 .5 0 .5-.1 .5-.1 .5 0 .5-.1 .5 0 .5-.1 .5 0 .5-.1 .5 0 .5-.1 .5 0 .5-.1 .5 0 .5 0 .5 0 .5 0 .5 0 .5 0 .5 .1 .5 0 .5 0 .5 .1 .5 0 .5 .1 .5 .1 .5 0 .5 .1 .5 .1 .5 .1 .5 0 .5 .1 .5 .1 .5 .1 .5 0 .5 .1 .5 .1 .5 0 .5 .1 .5 0 .5 .1" fill="none" stroke="#cfc832" stroke-width="1.1"/>
<path d="M282.5 258.6l.5-.1 .5 0 .5 0 .5 0 .5 0 .5-.1 .5 0 .5-.1 .5 0 .5-.1 .5 0 .5-.1 .5 0 .5-.1 .5-.1 .5-.1 .5 0 .5-.1 .5-.1 .5-.1 .5-.1 .5-.1 .5-.2 .5-.1 .5-.1 .5-.2 .5-.1 .5-.2 .5-.2 .5-.1 .5-.2 .5-.2 .5-.2 .5-.2 .5-.1 .5-.2 .5-.2 .5-.2 .5-.2 .5-.2 .5-.2 .5-.2 .5-.2 .5-.1 .5-.2 .5-.2 .5-.1 .5-.2 .5-.1 .5-.1 .5-.1 .5-.1 .5-.1 .5 0 .5-.1 .5 0 .5 .1 .5 0 .5 0 .5 .1 .5 .1 .5 .1 .5 .1 .5 .2 .5 .1 .5 .2 .5 .2 .5 .1 .5 .3 .5 .2 .5 .2 .5 .2 .5 .3 .5 .2 .5 .3 .5 .2 .5 .3 .5 .2 .5 .3 .5 .3 .5 .2 .5 .3 .5 .2 .5 .3 .5 .2 .5 .4 .5 .3 .5 .3 .5 .3 .5 .3 .5 .3 .5 .3 .5 .2 .5 .3 .5 .3 .5 .2 .5 .3 .5 .2 .5 .2 .5 .3 .5 .2 .5 .2 .5 .2 .5 .2 .5 .2 .5 .2 .5 .3 .5 .2 .5 .2 .5 .2 .5 .2 .5 .2 .5 .3 .5 .2 .5 .2 .5 .2 L340.5 265.4 L340.0 265.2 L339.5 265.1 L339.0 264.9 L338.5 264.7 L338.0 264.6 L337.5 264.4 L337.0 264.2 L336.5 264.0 L336.0 263.9 L335.5 263.7 L335.0 263.5 L334.5 263.4 L334.0 263.2 L333.5 263.1 L333.0 263.0 L332.5 262.9 L332.0 262.8 L331.5 262.6 L331.0 262.5 L330.5 262.4 L330.0 262.2 L329.5 262.1 L329.0 262.0 L328.5 261.9 L328.0 261.8 L327.5 261.6 L327.0 261.5 L326.5 261.4 L326.0 261.2 L325.5 261.1 L325.0 261.0 L324.5 260.9 L324.0 260.9 L323.5 260.9 L323.0 260.8 L322.5 260.8 L322.0 260.7 L321.5 260.6 L321.0 260.6 L320.5 260.6 L320.0 260.5 L319.5 260.4 L319.0 260.4 L318.5 260.4 L318.0 260.3 L317.5 260.2 L317.0 260.2 L316.5 260.1 L316.0 260.1 L315.5 260.1 L315.0 260.0 L314.5 259.9 L314.0 259.9 L313.5 259.9 L313.0 259.8 L312.5 259.8 L312.0 259.7 L311.5 259.6 L311.0 259.6 L310.5 259.6 L310.0 259.5 L309.5 259.5 L309.0 259.5 L308.5 259.4 L308.0 259.4 L307.5 259.4 L307.0 259.4 L306.5 259.4 L306.0 259.4 L305.5 259.3 L305.0 259.3 L304.5 259.3 L304.0 259.3 L303.5 259.3 L303.0 259.3 L302.5 259.2 L302.0 259.2 L301.5 259.2 L301.0 259.2 L300.5 259.2 L300.0 259.1 L299.5 259.1 L299.0 259.1 L298.5 259.1 L298.0 259.1 L297.5 259.1 L297.0 259.0 L296.5 259.0 L296.0 259.0 L295.5 259.0 L295.0 259.0 L294.5 259.0 L294.0 258.9 L293.5 258.9 L293.0 258.9 L292.5 258.9 L292.0 258.9 L291.5 258.9 L291.0 258.8 L290.5 258.8 L290.0 258.8 L289.5 258.8 L289.0 258.8 L288.5 258.8 L288.0 258.8 L287.5 258.8 L287.0 258.8 L286.5 258.8 L286.0 258.8 L285.5 258.8 L285.0 258.8 L284.5 258.7 L284.0 258.7 L283.5 258.7 L283.0 258.7 L282.5 258.7 Z" fill="url(#gb)" stroke="none"/>
<path d="M282.5 258.6l.5-.1 .5 0 .5 0 .5 0 .5 0 .5-.1 .5 0 .5-.1 .5 0 .5-.1 .5 0 .5-.1 .5 0 .5-.1 .5-.1 .5-.1 .5 0 .5-.1 .5-.1 .5-.1 .5-.1 .5-.1 .5-.2 .5-.1 .5-.1 .5-.2 .5-.1 .5-.2 .5-.2 .5-.1 .5-.2 .5-.2 .5-.2 .5-.2 .5-.1 .5-.2 .5-.2 .5-.2 .5-.2 .5-.2 .5-.2 .5-.2 .5-.2 .5-.1 .5-.2 .5-.2 .5-.1 .5-.2 .5-.1 .5-.1 .5-.1 .5-.1 .5-.1 .5 0 .5-.1 .5 0 .5 .1 .5 0 .5 0 .5 .1 .5 .1 .5 .1 .5 .1 .5 .2 .5 .1 .5 .2 .5 .2 .5 .1 .5 .3 .5 .2 .5 .2 .5 .2 .5 .3 .5 .2 .5 .3 .5 .2 .5 .3 .5 .2 .5 .3 .5 .3 .5 .2 .5 .3 .5 .2 .5 .3 .5 .2 .5 .4 .5 .3 .5 .3 .5 .3 .5 .3 .5 .3 .5 .3 .5 .2 .5 .3 .5 .3 .5 .2 .5 .3 .5 .2 .5 .2 .5 .3 .5 .2 .5 .2 .5 .2 .5 .2 .5 .2 .5 .2 .5 .3 .5 .2 .5 .2 .5 .2 .5 .2 .5 .2 .5 .3 .5 .2 .5 .2 .5 .2" fill="none" stroke="#3a4ab0" stroke-width="1.1"/>
<path d="M314 259.7l.5 0 .5 0 .5 0 .5-.1 .5-.1 .5 0 .5-.2 .5-.1 .5-.2 .5-.2 .5-.3 .5-.3 .5-.4 .5-.4 .5-.5 .5-.5 .5-.6 .5-.7 .5-.8 .5-.8 .5-.8 .5-.9 .5-.9 .5-.9 .5-1 .5-1 .5-.9 .5-1 .5-1 .5-.9 .5-.8 .5-.8 .5-.7 .5-.6 .5-.5 .5-.3 .5-.3 .5-.1 .5 .1 .5 .2 .5 .3 .5 .5 .5 .7 .5 .8 .5 .9 .5 1 .5 1 .5 1.2 .5 1.2 .5 1.2 .5 1.3 .5 1.3 .5 1.3 .5 1.2 .5 1.2 .5 1.2 .5 1.2 .5 1 .5 1.1 .5 .9 .5 .9 .5 .9 .5 .7 .5 .7 .5 .6 .5 .6 .5 .5 .5 .5 .5 .4 .5 .4 .5 .3 .5 .4 .5 .2 .5 .3 .5 .3 .5 .2 .5 .2 .5 .2 L353.0 269.4 L352.5 269.2 L352.0 269.1 L351.5 268.9 L351.0 268.8 L350.5 268.6 L350.0 268.5 L349.5 268.4 L349.0 268.2 L348.5 268.1 L348.0 267.9 L347.5 267.8 L347.0 267.6 L346.5 267.4 L346.0 267.3 L345.5 267.1 L345.0 267.0 L344.5 266.8 L344.0 266.6 L343.5 266.5 L343.0 266.3 L342.5 266.1 L342.0 265.9 L341.5 265.8 L341.0 265.6 L340.5 265.4 L340.0 265.2 L339.5 265.1 L339.0 264.9 L338.5 264.7 L338.0 264.6 L337.5 264.4 L337.0 264.2 L336.5 264.0 L336.0 263.9 L335.5 263.7 L335.0 263.5 L334.5 263.4 L334.0 263.2 L333.5 263.1 L333.0 263.0 L332.5 262.9 L332.0 262.8 L331.5 262.6 L331.0 262.5 L330.5 262.4 L330.0 262.2 L329.5 262.1 L329.0 262.0 L328.5 261.9 L328.0 261.8 L327.5 261.6 L327.0 261.5 L326.5 261.4 L326.0 261.2 L325.5 261.1 L325.0 261.0 L324.5 260.9 L324.0 260.9 L323.5 260.9 L323.0 260.8 L322.5 260.8 L322.0 260.7 L321.5 260.6 L321.0 260.6 L320.5 260.6 L320.0 260.5 L319.5 260.4 L319.0 260.4 L318.5 260.4 L318.0 260.3 L317.5 260.2 L317.0 260.2 L316.5 260.1 L316.0 260.1 L315.5 260.1 L315.0 260.0 L314.5 259.9 L314.0 259.9 Z" fill="url(#gc)" stroke="none"/>
<path d="M314 259.7l.5 0 .5 0 .5 0 .5-.1 .5-.1 .5 0 .5-.2 .5-.1 .5-.2 .5-.2 .5-.3 .5-.3 .5-.4 .5-.4 .5-.5 .5-.5 .5-.6 .5-.7 .5-.8 .5-.8 .5-.8 .5-.9 .5-.9 .5-.9 .5-1 .5-1 .5-.9 .5-1 .5-1 .5-.9 .5-.8 .5-.8 .5-.7 .5-.6 .5-.5 .5-.3 .5-.3 .5-.1 .5 .1 .5 .2 .5 .3 .5 .5 .5 .7 .5 .8 .5 .9 .5 1 .5 1 .5 1.2 .5 1.2 .5 1.2 .5 1.3 .5 1.3 .5 1.3 .5 1.2 .5 1.2 .5 1.2 .5 1.2 .5 1 .5 1.1 .5 .9 .5 .9 .5 .9 .5 .7 .5 .7 .5 .6 .5 .6 .5 .5 .5 .5 .5 .4 .5 .4 .5 .3 .5 .4 .5 .2 .5 .3 .5 .3 .5 .2 .5 .2 .5 .2" fill="none" stroke="#1ea8c0" stroke-width="1.1"/>
<path d="M339 264.7l.5 .2 .5 .1 .5 .1 .5 .1 .5 .1 .5 0 .5 .1 .5 0 .5 .1 .5 0 .5 0 .5 .1 .5 0 .5 0 .5 .1 .5 .1 .5 .1 .5 .1 .5 .2 .5 .2 .5 .2 .5 .2 .5 .3 .5 .3 .5 .3 .5 .2 .5 .3 .5 .3 .5 .3 .5 .3 .5 .2 .5 .3 .5 .1 .5 .1 .5 .2 .5 0 L357.0 270.2 L356.5 270.1 L356.0 270.1 L355.5 270.1 L355.0 270.0 L354.5 269.9 L354.0 269.7 L353.5 269.6 L353.0 269.4 L352.5 269.2 L352.0 269.1 L351.5 268.9 L351.0 268.8 L350.5 268.6 L350.0 268.5 L349.5 268.4 L349.0 268.2 L348.5 268.1 L348.0 267.9 L347.5 267.8 L347.0 267.6 L346.5 267.4 L346.0 267.3 L345.5 267.1 L345.0 267.0 L344.5 266.8 L344.0 266.6 L343.5 266.5 L343.0 266.3 L342.5 266.1 L342.0 265.9 L341.5 265.8 L341.0 265.6 L340.5 265.4 L340.0 265.2 L339.5 265.1 L339.0 264.9 Z" fill="url(#gc)" stroke="none"/>
<path d="M339 264.7l.5 .2 .5 .1 .5 .1 .5 .1 .5 .1 .5 0 .5 .1 .5 0 .5 .1 .5 0 .5 0 .5 .1 .5 0 .5 0 .5 .1 .5 .1 .5 .1 .5 .1 .5 .2 .5 .2 .5 .2 .5 .2 .5 .3 .5 .3 .5 .3 .5 .2 .5 .3 .5 .3 .5 .3 .5 .3 .5 .2 .5 .3 .5 .1 .5 .1 .5 .2 .5 0" fill="none" stroke="#1ea8c0" stroke-width="1.1"/>
<path d="M240 259.2l.5 0 .5 0 .5 0 .5 0 .5 0 .5-.1 .5 0 .5 0 .5 0 .5 0 .5 0 .5 0 .5 0 .5 0 .5-.1 .5 0 .5 0 .5 0 .5 0 .5 0 .5 0 .5 0 .5 0 .5 0 .5 0 .5-.1 .5 0 .5 0 .5 0 .5 0 .5 0 .5 0 .5 0 .5 0 .5-.1 .5 0 .5 0 .5 0 .5 0 .5 0 .5 0 .5 0 .5 0 .5 0 .5 0 .5-.1 .5 0 .5 0 .5 0 .5 0 .5 0 .5 0 .5 0 .5 0 .5 0 .5-.1 .5 0 .5 0 .5 0 .5 0 .5 0 .5 0 .5 0 .5 0 .5 0 .5 0 .5 0 .5 0 .5 0 .5 .1 .5 0 .5 0 .5 0 .5 0 .5 0 .5 0 .5 0 .5 0 .5 0 .5 0 .5 0 .5 0 .5 0 .5 0 .5 0 .5 0 .5 0 .5 0 .5 0 .5 .1 .5 0 .5 0 .5 0 .5 0 .5 0 .5 0 .5 0 .5 0 .5 0 .5 0 .5 0 .5 0 .5 .1 .5 0 .5 0 .5 0 .5 0 .5 0 .5 .1 .5 0 .5 0 .5 0 .5 0 .5 0 .5 .1 .5 0 .5 0 .5 0 .5 0 .5 .1 .5 0 .5 0 .5 0 .5 0 .5 0 .5 .1 .5 0 .5 0 .5 0 .5 0 .5 0 .5 .1 .5 0 .5 0 .5 0 .5 0 .5 0 .5 .1 .5 0 .5 0 .5 .1 .5 0 .5 0 .5 .1 .5 .1 .5 0 .5 0 .5 .1 .5 .1 .5 0 .5 0 .5 .1 .5 .1 .5 0 .5 0 .5 .1 .5 .1 .5 0 .5 0 .5 .1 .5 .1 .5 0 .5 0 .5 .1 .5 .1 .5 0 .5 0 .5 .1 .5 .1 .5 0 .5 .1 .5 .1 .5 .2 .5 .1 .5 .1 .5 .2 .5 .1 .5 .1 .5 .1 .5 .1 .5 .2 .5 .1 .5 .1 .5 .2 .5 .1 .5 .1 .5 .1 .5 .1 .5 .2 .5 .1 .5 .2 .5 .1 .5 .2 .5 .2 .5 .2 .5 .2 .5 .1 .5 .2 .5 .2 .5 .1 .5 .2 .5 .2 .5 .2 .5 .2 .5 .1 .5 .2 .5 .2 .5 .1 .5 .2 .5 .2 .5 .2 .5 .1 .5 .1 .5 .2 .5 .2 .5 .1 .5 .1 .5 .2 .5 .2 .5 .1 .5 .1 .5 .2 .5 .2 .5 .1 .5 .1 .5 .2 .5 .2 .5 .1 .5 .1 .5 .2 .5 0 .5 .1 .5 .1 .5 0 .5 0 .5 .1 .5 .1 .5 0 .5 0 .5 .1 .5 .1 .5 0 .5 0 .5 .1 .5 .1 .5 0 .5 0 .5 .1 .5 .1 .5 0 .5 0 .5 0 .5 .1 .5 0 .5 0 .5 0 .5 0 .5 .1 .5 0 .5 0 .5 0 .5 0 .5 .1 .5 0 .5 0 .5 0 .5 .1 .5 0 .5 0" fill="none" stroke="#111" stroke-width="1.1"/>
<path d="M240 259.2l.5 0 .5 0 .5 0 .5 0 .5-.1 .5 0 .5 0 .5 0 .5 0 .5 0 .5 0 .5 0 .5 0 .5 0 .5-.1 .5 0 .5 0 .5 0 .5 0 .5 0 .5 0 .5 0 .5 0 .5 0 .5-.1 .5 0 .5 0 .5 0 .5 0 .5 0 .5 0 .5 0 .5 0 .5 0 .5-.1 .5 0 .5 0 .5 0 .5 0 .5 0 .5 0 .5 0 .5-.1 .5 0 .5 0 .5 0 .5 0 .5 0 .5-.1 .5 0 .5 0 .5 0 .5 0 .5 0 .5-.1 .5 0 .5 0 .5 0 .5 0 .5 0 .5 0 .5-.1 .5 0 .5 0 .5 0 .5 0 .5 0 .5-.1 .5 0 .5 0 .5-.1 .5 0 .5 0 .5-.1 .5 0 .5-.1 .5-.1 .5 0 .5-.1 .5-.1 .5 0 .5-.6 .5 0 .5-.1 .5 0 .5-.1 .5 0 .5 0 .5 0 .5 0 .5 0 .5 0 .5 .1 .5 0 .5 0 .5 .1 .5 0 .5 .1 .5-.1 .5 0 .5 0 .5 0 .5 0 .5-.1 .5-.1 .5-.1 .5-.1 .5-.2 .5-.1 .5-.1 .5-.2 .5-.1 .5-.2 .5-.2 .5-.1 .5-.2 .5-.2 .5-.2 .5-.2 .5-.1 .5-.2 .5-.2 .5-.2 .5-.2 .5-.2 .5-.2 .5-.2 .5-.2 .5-.1 .5-.2 .5-.2 .5-.1 .5-.2 .5-.1 .5-.1 .5-.1 .5-.1 .5-.1 .5 0 .5-.1 .5 0 .5 .1 .5 0 .5 0 .5 .1 .5 .1 .5 .1 .5 .1 .5 .2 .5 .1 .5 .2 .5-.1 .5-.1 .5-.2 .5-.2 .5-.2 .5-.2 .5-.2 .5-.3 .5-.3 .5-.2 .5-.3 .5-.4 .5-.3 .5-.4 .5-.4 .5-.5 .5-.5 .5-.5 .5-.6 .5-.5 .5-.6 .5-.6 .5-.7 .5-.6 .5-.7 .5-.7 .5-.7 .5-.6 .5-.6 .5-.5 .5-.5 .5-.3 .5-.3 .5-.1 .5 0 .5 .2 .5 .2 .5 .4 .5 .6 .5 .7 .5 .8 .5 1 .5 1 .5 1.2 .5 1.1 .5 1.3 .5 1.3 .5 1.3 .5 1.3 .5 1.3 .5 1.3 .5 1.2 .5 1.2 .5 1.2 .5 1 .5 1.1 .5 .9 .5 .9 .5 .9 .5 .7 .5 .7 .5 .6 .5 .6 .5 .5 .5 .2 .5 .2 .5 .2 .5 .2 .5 .2 .5 .3 .5 .3 .5 .3 .5 .2 .5 .3 .5 .9 .5 .3 .5 .3 .5 .2 .5 .3 .5 .1 .5 .1 .5 .2 .5 0 .5 .1 .5 .1 .5 .1 .5 .1 .5 0 .5 .1 .5 0 .5 .1 .5 0 .5 .1 .5 0 .5 .1 .5 0 .5 .1 .5 0 .5 .1 .5 0 .5 0 .5 .1 .5 0 .5 0 .5 0 .5 0 .5 .1 .5 0 .5 0 .5 0 .5 0 .5 .1 .5 0 .5 0 .5 0 .5 .1 .5 0 .5 0" fill="none" stroke="#a8a8a8" stroke-opacity="0.55" stroke-width="4.5" stroke-linejoin="round"/>
<path d="M240 259.2l.5 0 .5 0 .5 0 .5 0 .5-.1 .5 0 .5 0 .5 0 .5 0 .5 0 .5 0 .5 0 .5 0 .5 0 .5-.1 .5 0 .5 0 .5 0 .5 0 .5 0 .5 0 .5 0 .5 0 .5 0 .5-.1 .5 0 .5 0 .5 0 .5 0 .5 0 .5 0 .5 0 .5 0 .5 0 .5-.1 .5 0 .5 0 .5 0 .5 0 .5 0 .5 0 .5 0 .5-.1 .5 0 .5 0 .5 0 .5 0 .5 0 .5-.1 .5 0 .5 0 .5 0 .5 0 .5 0 .5-.1 .5 0 .5 0 .5 0 .5 0 .5 0 .5 0 .5-.1 .5 0 .5 0 .5 0 .5 0 .5 0 .5-.1 .5 0 .5 0 .5-.1 .5 0 .5 0 .5-.1 .5 0 .5-.1 .5-.1 .5 0 .5-.1 .5-.1 .5 0 .5-.6 .5 0 .5-.1 .5 0 .5-.1 .5 0 .5 0 .5 0 .5 0 .5 0 .5 0 .5 .1 .5 0 .5 0 .5 .1 .5 0 .5 .1 .5-.1 .5 0 .5 0 .5 0 .5 0 .5-.1 .5-.1 .5-.1 .5-.1 .5-.2 .5-.1 .5-.1 .5-.2 .5-.1 .5-.2 .5-.2 .5-.1 .5-.2 .5-.2 .5-.2 .5-.2 .5-.1 .5-.2 .5-.2 .5-.2 .5-.2 .5-.2 .5-.2 .5-.2 .5-.2 .5-.1 .5-.2 .5-.2 .5-.1 .5-.2 .5-.1 .5-.1 .5-.1 .5-.1 .5-.1 .5 0 .5-.1 .5 0 .5 .1 .5 0 .5 0 .5 .1 .5 .1 .5 .1 .5 .1 .5 .2 .5 .1 .5 .2 .5-.1 .5-.1 .5-.2 .5-.2 .5-.2 .5-.2 .5-.2 .5-.3 .5-.3 .5-.2 .5-.3 .5-.4 .5-.3 .5-.4 .5-.4 .5-.5 .5-.5 .5-.5 .5-.6 .5-.5 .5-.6 .5-.6 .5-.7 .5-.6 .5-.7 .5-.7 .5-.7 .5-.6 .5-.6 .5-.5 .5-.5 .5-.3 .5-.3 .5-.1 .5 0 .5 .2 .5 .2 .5 .4 .5 .6 .5 .7 .5 .8 .5 1 .5 1 .5 1.2 .5 1.1 .5 1.3 .5 1.3 .5 1.3 .5 1.3 .5 1.3 .5 1.3 .5 1.2 .5 1.2 .5 1.2 .5 1 .5 1.1 .5 .9 .5 .9 .5 .9 .5 .7 .5 .7 .5 .6 .5 .6 .5 .5 .5 .2 .5 .2 .5 .2 .5 .2 .5 .2 .5 .3 .5 .3 .5 .3 .5 .2 .5 .3 .5 .9 .5 .3 .5 .3 .5 .2 .5 .3 .5 .1 .5 .1 .5 .2 .5 0 .5 .1 .5 .1 .5 .1 .5 .1 .5 0 .5 .1 .5 0 .5 .1 .5 0 .5 .1 .5 0 .5 .1 .5 0 .5 .1 .5 0 .5 .1 .5 0 .5 0 .5 .1 .5 0 .5 0 .5 0 .5 0 .5 .1 .5 0 .5 0 .5 0 .5 0 .5 .1 .5 0 .5 0 .5 0 .5 .1 .5 0 .5 0" fill="none" stroke="#000" stroke-width="1.6" stroke-linejoin="round"/>
<path d="M273 310.4l.5 0 .5-.1 .5 0 .5 0 .5-.1 .5-.1 .5 0 .5-.1 .5 0 .5-.1 .5-.1 .5-.1 .5-.1 .5-.1 .5-.1 .5-.1 .5-.1 .5-.1 .5-.1 .5-.1 .5-.1 .5-.1 .5-.2 .5-.1 .5-.1 .5-.1 .5-.2 .5-.1 .5-.1 .5-.1 .5-.1 .5-.1 .5-.1 .5 0 .5-.1 .5-.1 .5 0 .5 0 .5 0 .5 0 .5 0 .5 .1 .5 0 .5 .1 .5 .1 .5 .1 .5 .1 .5 .2 .5 .1 .5 .2 .5 .1 .5 .2 .5 .2 .5 .1 .5 .2 .5 .2 .5 .2 .5 .1 .5 .2 .5 .2 .5 .2 .5 .1 .5 .2 .5 .1 .5 .2 .5 .1 .5 .2 .5 .1 .5 .1 .5 .1 .5 .1 .5 .1 .5 .1 .5 .1 .5 .1 .5 .1 .5 .1 .5 .1 .5 0 .5 .1 L313.0 312.4 L312.5 312.3 L312.0 312.3 L311.5 312.2 L311.0 312.2 L310.5 312.2 L310.0 312.1 L309.5 312.1 L309.0 312.1 L308.5 312.0 L308.0 312.0 L307.5 311.9 L307.0 311.9 L306.5 311.9 L306.0 311.8 L305.5 311.8 L305.0 311.8 L304.5 311.7 L304.0 311.7 L303.5 311.6 L303.0 311.6 L302.5 311.6 L302.0 311.5 L301.5 311.5 L301.0 311.4 L300.5 311.4 L300.0 311.4 L299.5 311.3 L299.0 311.3 L298.5 311.3 L298.0 311.2 L297.5 311.2 L297.0 311.1 L296.5 311.1 L296.0 311.1 L295.5 311.0 L295.0 311.0 L294.5 311.0 L294.0 311.0 L293.5 310.9 L293.0 310.9 L292.5 310.9 L292.0 310.9 L291.5 310.9 L291.0 310.9 L290.5 310.9 L290.0 310.8 L289.5 310.8 L289.0 310.8 L288.5 310.8 L288.0 310.8 L287.5 310.8 L287.0 310.7 L286.5 310.7 L286.0 310.7 L285.5 310.7 L285.0 310.7 L284.5 310.6 L284.0 310.6 L283.5 310.6 L283.0 310.6 L282.5 310.6 L282.0 310.6 L281.5 310.6 L281.0 310.5 L280.5 310.5 L280.0 310.5 L279.5 310.5 L279.0 310.5 L278.5 310.5 L278.0 310.5 L277.5 310.5 L277.0 310.5 L276.5 310.5 L276.0 310.5 L275.5 310.5 L275.0 310.6 L274.5 310.6 L274.0 310.6 L273.5 310.6 L273.0 310.6 Z" fill="url(#gy)" stroke="none"/>
<path d="M273 310.4l.5 0 .5-.1 .5 0 .5 0 .5-.1 .5-.1 .5 0 .5-.1 .5 0 .5-.1 .5-.1 .5-.1 .5-.1 .5-.1 .5-.1 .5-.1 .5-.1 .5-.1 .5-.1 .5-.1 .5-.1 .5-.1 .5-.2 .5-.1 .5-.1 .5-.1 .5-.2 .5-.1 .5-.1 .5-.1 .5-.1 .5-.1 .5-.1 .5 0 .5-.1 .5-.1 .5 0 .5 0 .5 0 .5 0 .5 0 .5 .1 .5 0 .5 .1 .5 .1 .5 .1 .5 .1 .5 .2 .5 .1 .5 .2 .5 .1 .5 .2 .5 .2 .5 .1 .5 .2 .5 .2 .5 .2 .5 .1 .5 .2 .5 .2 .5 .2 .5 .1 .5 .2 .5 .1 .5 .2 .5 .1 .5 .2 .5 .1 .5 .1 .5 .1 .5 .1 .5 .1 .5 .1 .5 .1 .5 .1 .5 .1 .5 .1 .5 .1 .5 0 .5 .1" fill="none" stroke="#cfc832" stroke-width="1.1"/>
<path d="M289 310.6l.5 0 .5 0 .5 0 .5 0 .5 0 .5-.1 .5 0 .5 0 .5-.1 .5 0 .5-.1 .5-.1 .5 0 .5-.1 .5-.1 .5 0 .5-.1 .5-.1 .5-.1 .5-.2 .5-.1 .5-.1 .5-.2 .5-.2 .5-.1 .5-.2 .5-.2 .5-.2 .5-.3 .5-.2 .5-.2 .5-.3 .5-.2 .5-.3 .5-.3 .5-.2 .5-.3 .5-.3 .5-.2 .5-.3 .5-.3 .5-.2 .5-.3 .5-.2 .5-.2 .5-.3 .5-.2 .5-.1 .5-.2 .5-.2 .5-.1 .5-.1 .5-.1 .5 0 .5 0 .5 0 .5 .1 .5 0 .5 .1 .5 .2 .5 .1 .5 .2 .5 .2 .5 .2 .5 .2 .5 .3 .5 .2 .5 .3 .5 .3 .5 .4 .5 .3 .5 .3 .5 .4 .5 .4 .5 .3 .5 .4 .5 .4 .5 .4 .5 .3 .5 .4 .5 .4 .5 .3 .5 .4 .5 .4 .5 .4 .5 .4 .5 .4 .5 .3 .5 .4 .5 .3 .5 .4 .5 .3 .5 .3 .5 .3 .5 .3 .5 .3 .5 .2 .5 .3 .5 .2 .5 .2 .5 .3 .5 .2 .5 .2 .5 .2 .5 .2 .5 .2 .5 .1 .5 .2 .5 .2 .5 .1 .5 .2 .5 .2 .5 .1 .5 .1 .5 .1 L346.5 318.2 L346.0 318.1 L345.5 318.1 L345.0 318.0 L344.5 317.9 L344.0 317.8 L343.5 317.6 L343.0 317.5 L342.5 317.4 L342.0 317.3 L341.5 317.2 L341.0 317.1 L340.5 316.9 L340.0 316.8 L339.5 316.7 L339.0 316.6 L338.5 316.5 L338.0 316.4 L337.5 316.2 L337.0 316.1 L336.5 316.0 L336.0 315.9 L335.5 315.8 L335.0 315.7 L334.5 315.6 L334.0 315.4 L333.5 315.3 L333.0 315.2 L332.5 315.1 L332.0 315.0 L331.5 314.9 L331.0 314.7 L330.5 314.6 L330.0 314.5 L329.5 314.4 L329.0 314.4 L328.5 314.3 L328.0 314.2 L327.5 314.2 L327.0 314.1 L326.5 314.0 L326.0 314.0 L325.5 313.9 L325.0 313.8 L324.5 313.8 L324.0 313.7 L323.5 313.6 L323.0 313.6 L322.5 313.5 L322.0 313.4 L321.5 313.4 L321.0 313.3 L320.5 313.2 L320.0 313.2 L319.5 313.1 L319.0 313.0 L318.5 313.0 L318.0 312.9 L317.5 312.8 L317.0 312.8 L316.5 312.7 L316.0 312.6 L315.5 312.6 L315.0 312.5 L314.5 312.5 L314.0 312.4 L313.5 312.4 L313.0 312.4 L312.5 312.3 L312.0 312.3 L311.5 312.2 L311.0 312.2 L310.5 312.2 L310.0 312.1 L309.5 312.1 L309.0 312.1 L308.5 312.0 L308.0 312.0 L307.5 311.9 L307.0 311.9 L306.5 311.9 L306.0 311.8 L305.5 311.8 L305.0 311.8 L304.5 311.7 L304.0 311.7 L303.5 311.6 L303.0 311.6 L302.5 311.6 L302.0 311.5 L301.5 311.5 L301.0 311.4 L300.5 311.4 L300.0 311.4 L299.5 311.3 L299.0 311.3 L298.5 311.3 L298.0 311.2 L297.5 311.2 L297.0 311.1 L296.5 311.1 L296.0 311.1 L295.5 311.0 L295.0 311.0 L294.5 311.0 L294.0 311.0 L293.5 310.9 L293.0 310.9 L292.5 310.9 L292.0 310.9 L291.5 310.9 L291.0 310.9 L290.5 310.9 L290.0 310.8 L289.5 310.8 L289.0 310.8 Z" fill="url(#gb)" stroke="none"/>
<path d="M289 310.6l.5 0 .5 0 .5 0 .5 0 .5 0 .5-.1 .5 0 .5 0 .5-.1 .5 0 .5-.1 .5-.1 .5 0 .5-.1 .5-.1 .5 0 .5-.1 .5-.1 .5-.1 .5-.2 .5-.1 .5-.1 .5-.2 .5-.2 .5-.1 .5-.2 .5-.2 .5-.2 .5-.3 .5-.2 .5-.2 .5-.3 .5-.2 .5-.3 .5-.3 .5-.2 .5-.3 .5-.3 .5-.2 .5-.3 .5-.3 .5-.2 .5-.3 .5-.2 .5-.2 .5-.3 .5-.2 .5-.1 .5-.2 .5-.2 .5-.1 .5-.1 .5-.1 .5 0 .5 0 .5 0 .5 .1 .5 0 .5 .1 .5 .2 .5 .1 .5 .2 .5 .2 .5 .2 .5 .2 .5 .3 .5 .2 .5 .3 .5 .3 .5 .4 .5 .3 .5 .3 .5 .4 .5 .4 .5 .3 .5 .4 .5 .4 .5 .4 .5 .3 .5 .4 .5 .4 .5 .3 .5 .4 .5 .4 .5 .4 .5 .4 .5 .4 .5 .3 .5 .4 .5 .3 .5 .4 .5 .3 .5 .3 .5 .3 .5 .3 .5 .3 .5 .2 .5 .3 .5 .2 .5 .2 .5 .3 .5 .2 .5 .2 .5 .2 .5 .2 .5 .2 .5 .1 .5 .2 .5 .2 .5 .1 .5 .2 .5 .2 .5 .1 .5 .1 .5 .1" fill="none" stroke="#3a4ab0" stroke-width="1.1"/>
<path d="M318 312.7l.5 0 .5 0 .5 0 .5 0 .5 0 .5-.1 .5-.1 .5-.2 .5-.1 .5-.2 .5-.3 .5-.2 .5-.4 .5-.3 .5-.5 .5-.4 .5-.5 .5-.5 .5-.6 .5-.5 .5-.6 .5-.6 .5-.6 .5-.5 .5-.5 .5-.4 .5-.3 .5-.3 .5-.2 .5-.1 .5-.1 .5 .1 .5 .2 .5 .2 .5 .4 .5 .4 .5 .5 .5 .6 .5 .7 .5 .7 .5 .7 .5 .7 .5 .8 .5 .8 .5 .7 .5 .7 .5 .8 .5 .6 .5 .7 .5 .6 .5 .5 .5 .5 .5 .5 .5 .4 .5 .4 .5 .3 .5 .2 .5 .3 .5 .2 .5 .2 .5 .2 .5 .1 .5 .2 .5 .1 L350.0 318.8 L349.5 318.7 L349.0 318.6 L348.5 318.5 L348.0 318.4 L347.5 318.4 L347.0 318.3 L346.5 318.2 L346.0 318.1 L345.5 318.1 L345.0 318.0 L344.5 317.9 L344.0 317.8 L343.5 317.6 L343.0 317.5 L342.5 317.4 L342.0 317.3 L341.5 317.2 L341.0 317.1 L340.5 316.9 L340.0 316.8 L339.5 316.7 L339.0 316.6 L338.5 316.5 L338.0 316.4 L337.5 316.2 L337.0 316.1 L336.5 316.0 L336.0 315.9 L335.5 315.8 L335.0 315.7 L334.5 315.6 L334.0 315.4 L333.5 315.3 L333.0 315.2 L332.5 315.1 L332.0 315.0 L331.5 314.9 L331.0 314.7 L330.5 314.6 L330.0 314.5 L329.5 314.4 L329.0 314.4 L328.5 314.3 L328.0 314.2 L327.5 314.2 L327.0 314.1 L326.5 314.0 L326.0 314.0 L325.5 313.9 L325.0 313.8 L324.5 313.8 L324.0 313.7 L323.5 313.6 L323.0 313.6 L322.5 313.5 L322.0 313.4 L321.5 313.4 L321.0 313.3 L320.5 313.2 L320.0 313.2 L319.5 313.1 L319.0 313.0 L318.5 313.0 L318.0 312.9 Z" fill="url(#gc)" stroke="none"/>
<path d="M318 312.7l.5 0 .5 0 .5 0 .5 0 .5 0 .5-.1 .5-.1 .5-.2 .5-.1 .5-.2 .5-.3 .5-.2 .5-.4 .5-.3 .5-.5 .5-.4 .5-.5 .5-.5 .5-.6 .5-.5 .5-.6 .5-.6 .5-.6 .5-.5 .5-.5 .5-.4 .5-.3 .5-.3 .5-.2 .5-.1 .5-.1 .5 .1 .5 .2 .5 .2 .5 .4 .5 .4 .5 .5 .5 .6 .5 .7 .5 .7 .5 .7 .5 .7 .5 .8 .5 .8 .5 .7 .5 .7 .5 .8 .5 .6 .5 .7 .5 .6 .5 .5 .5 .5 .5 .5 .5 .4 .5 .4 .5 .3 .5 .2 .5 .3 .5 .2 .5 .2 .5 .2 .5 .1 .5 .2 .5 .1" fill="none" stroke="#1ea8c0" stroke-width="1.1"/>
<path d="M240 310.9l.5 0 .5 0 .5 0 .5 0 .5 0 .5 0 .5 0 .5 0 .5 0 .5-.1 .5 0 .5 0 .5 0 .5 0 .5 0 .5 0 .5 0 .5 0 .5 0 .5 0 .5 0 .5 0 .5 0 .5 0 .5 0 .5 0 .5 0 .5 0 .5 0 .5 0 .5-.1 .5 0 .5 0 .5 0 .5 0 .5 0 .5 0 .5 0 .5 0 .5 0 .5 0 .5 0 .5 0 .5 0 .5 0 .5 0 .5 0 .5 0 .5 0 .5-.1 .5 0 .5 0 .5 0 .5 0 .5 0 .5 0 .5 0 .5 0 .5 0 .5 0 .5 0 .5 0 .5 0 .5 0 .5 0 .5 0 .5 0 .5 0 .5 0 .5 0 .5-.1 .5 0 .5 0 .5 0 .5 0 .5 0 .5 0 .5 0 .5 0 .5 0 .5 0 .5 0 .5 .1 .5 0 .5 0 .5 0 .5 0 .5 0 .5 0 .5 .1 .5 0 .5 0 .5 0 .5 0 .5 .1 .5 0 .5 0 .5 0 .5 0 .5 0 .5 0 .5 .1 .5 0 .5 0 .5 0 .5 0 .5 .1 .5 0 .5 0 .5 0 .5 0 .5 .1 .5 0 .5 .1 .5 0 .5 0 .5 .1 .5 0 .5 0 .5 .1 .5 0 .5 0 .5 .1 .5 0 .5 .1 .5 0 .5 0 .5 .1 .5 0 .5 .1 .5 0 .5 0 .5 .1 .5 0 .5 0 .5 .1 .5 0 .5 0 .5 .1 .5 0 .5 .1 .5 0 .5 0 .5 .1 .5 0 .5 .1 .5 0 .5 0 .5 .1 .5 0 .5 .1 .5 0 .5 .1 .5 .1 .5 0 .5 .1 .5 .1 .5 0 .5 .1 .5 .1 .5 0 .5 .1 .5 .1 .5 0 .5 .1 .5 .1 .5 0 .5 .1 .5 .1 .5 0 .5 .1 .5 .1 .5 0 .5 .1 .5 .1 .5 0 .5 .1 .5 .1 .5 0 .5 .1 .5 .1 .5 .1 .5 .1 .5 .2 .5 .1 .5 .1 .5 .1 .5 .1 .5 .2 .5 .1 .5 .1 .5 .1 .5 .1 .5 .1 .5 .1 .5 .2 .5 .1 .5 .1 .5 .1 .5 .1 .5 .2 .5 .1 .5 .1 .5 .1 .5 .1 .5 .1 .5 .1 .5 .2 .5 .1 .5 .1 .5 .1 .5 .1 .5 0 .5 .1 .5 .1 .5 0 .5 .1 .5 .1 .5 .1 .5 .1 .5 0 .5 .1 .5 .1 .5 0 .5 .1 .5 .1 .5 .1 .5 .1 .5 0 .5 .1 .5 0 .5 0 .5 0 .5 .1 .5 0 .5 0 .5 0 .5 0 .5 0 .5 0 .5 0 .5 .1 .5 0 .5 0 .5 0 .5 0 .5 0 .5 0 .5 0 .5 .1 .5 0 .5 0 .5 0 .5 0 .5 0 .5 0 .5 0 .5 .1 .5 0 .5 0 .5 0 .5 0 .5 0 .5 0 .5 0 .5 .1 .5 0 .5 0 .5 0" fill="none" stroke="#111" stroke-width="1.1"/>
<path d="M240 310.9l.5 0 .5 0 .5 0 .5 0 .5 0 .5 0 .5 0 .5 0 .5 0 .5-.1 .5 0 .5 0 .5 0 .5 0 .5 0 .5 0 .5 0 .5 0 .5 0 .5 0 .5 0 .5 0 .5 0 .5 0 .5 0 .5 0 .5 0 .5 0 .5 0 .5-.1 .5 0 .5 0 .5 0 .5 0 .5 0 .5 0 .5 0 .5 0 .5 0 .5 0 .5 0 .5 0 .5 0 .5 0 .5 0 .5 0 .5 0 .5 0 .5-.1 .5 0 .5 0 .5 0 .5 0 .5 0 .5 0 .5 0 .5 0 .5 0 .5 0 .5-.1 .5 0 .5 0 .5 0 .5 0 .5-.1 .5 0 .5 0 .5-.1 .5 0 .5 0 .5-.1 .5-.1 .5 0 .5-.1 .5 0 .5-.1 .5-.1 .5-.1 .5-.1 .5-.1 .5-.7 .5-.1 .5-.1 .5-.1 .5-.1 .5-.1 .5-.1 .5-.1 .5-.2 .5-.1 .5-.1 .5-.1 .5-.2 .5-.1 .5-.1 .5-.1 .5-.1 .5-.1 .5-.1 .5 0 .5-.1 .5-.1 .5 0 .5 0 .5 0 .5 0 .5 0 .5 .1 .5 0 .5 .1 .5 0 .5 0 .5 0 .5 0 .5 0 .5 0 .5 0 .5 0 .5-.1 .5 0 .5 0 .5 0 .5-.1 .5 0 .5-.1 .5 0 .5-.1 .5-.1 .5-.2 .5-.1 .5-.1 .5-.2 .5-.1 .5-.2 .5-.2 .5-.2 .5-.2 .5-.3 .5-.3 .5-.2 .5-.3 .5-.2 .5-.2 .5-.3 .5-.2 .5-.1 .5-.2 .5-.2 .5-.1 .5-.1 .5-.1 .5 0 .5 0 .5 0 .5 .1 .5 0 .5 .1 .5 .2 .5-.1 .5 0 .5-.1 .5 0 .5-.1 .5-.1 .5-.1 .5-.2 .5-.1 .5-.2 .5-.2 .5-.3 .5-.2 .5-.3 .5-.2 .5-.3 .5-.3 .5-.3 .5-.2 .5-.2 .5-.2 .5-.2 .5-.1 .5 0 .5 .1 .5 .1 .5 .2 .5 .3 .5 .3 .5 .5 .5 .5 .5 .6 .5 .6 .5 .8 .5 .8 .5 .8 .5 .9 .5 .9 .5 .9 .5 .9 .5 .9 .5 .9 .5 .8 .5 .9 .5 .8 .5 .7 .5 .7 .5 .6 .5 .5 .5 .5 .5 .5 .5 .4 .5 .4 .5 .3 .5 .6 .5 .3 .5 .2 .5 .2 .5 .2 .5 .2 .5 .1 .5 .2 .5 .1 .5 .1 .5 .1 .5 .1 .5 .1 .5 .1 .5 .1 .5 .1 .5 .1 .5 .1 .5 0 .5 0 .5 0 .5 0 .5 .1 .5 0 .5 0 .5 0 .5 0 .5 0 .5 0 .5 .1 .5 0 .5 0 .5 0 .5 0 .5 0 .5 0 .5 0 .5 .1 .5 0 .5 0 .5 0 .5 0 .5 0 .5 0 .5 0 .5 .1 .5 0 .5 0 .5 0 .5 0 .5 0 .5 0 .5 0 .5 .1 .5 0 .5 0 .5 0" fill="none" stroke="#a8a8a8" stroke-opacity="0.55" stroke-width="4.5" stroke-linejoin="round"/>
<path d="M240 310.9l.5 0 .5 0 .5 0 .5 0 .5 0 .5 0 .5 0 .5 0 .5 0 .5-.1 .5 0 .5 0 .5 0 .5 0 .5 0 .5 0 .5 0 .5 0 .5 0 .5 0 .5 0 .5 0 .5 0 .5 0 .5 0 .5 0 .5 0 .5 0 .5 0 .5-.1 .5 0 .5 0 .5 0 .5 0 .5 0 .5 0 .5 0 .5 0 .5 0 .5 0 .5 0 .5 0 .5 0 .5 0 .5 0 .5 0 .5 0 .5 0 .5-.1 .5 0 .5 0 .5 0 .5 0 .5 0 .5 0 .5 0 .5 0 .5 0 .5 0 .5-.1 .5 0 .5 0 .5 0 .5 0 .5-.1 .5 0 .5 0 .5-.1 .5 0 .5 0 .5-.1 .5-.1 .5 0 .5-.1 .5 0 .5-.1 .5-.1 .5-.1 .5-.1 .5-.1 .5-.7 .5-.1 .5-.1 .5-.1 .5-.1 .5-.1 .5-.1 .5-.1 .5-.2 .5-.1 .5-.1 .5-.1 .5-.2 .5-.1 .5-.1 .5-.1 .5-.1 .5-.1 .5-.1 .5 0 .5-.1 .5-.1 .5 0 .5 0 .5 0 .5 0 .5 0 .5 .1 .5 0 .5 .1 .5 0 .5 0 .5 0 .5 0 .5 0 .5 0 .5 0 .5 0 .5-.1 .5 0 .5 0 .5 0 .5-.1 .5 0 .5-.1 .5 0 .5-.1 .5-.1 .5-.2 .5-.1 .5-.1 .5-.2 .5-.1 .5-.2 .5-.2 .5-.2 .5-.2 .5-.3 .5-.3 .5-.2 .5-.3 .5-.2 .5-.2 .5-.3 .5-.2 .5-.1 .5-.2 .5-.2 .5-.1 .5-.1 .5-.1 .5 0 .5 0 .5 0 .5 .1 .5 0 .5 .1 .5 .2 .5-.1 .5 0 .5-.1 .5 0 .5-.1 .5-.1 .5-.1 .5-.2 .5-.1 .5-.2 .5-.2 .5-.3 .5-.2 .5-.3 .5-.2 .5-.3 .5-.3 .5-.3 .5-.2 .5-.2 .5-.2 .5-.2 .5-.1 .5 0 .5 .1 .5 .1 .5 .2 .5 .3 .5 .3 .5 .5 .5 .5 .5 .6 .5 .6 .5 .8 .5 .8 .5 .8 .5 .9 .5 .9 .5 .9 .5 .9 .5 .9 .5 .9 .5 .8 .5 .9 .5 .8 .5 .7 .5 .7 .5 .6 .5 .5 .5 .5 .5 .5 .5 .4 .5 .4 .5 .3 .5 .6 .5 .3 .5 .2 .5 .2 .5 .2 .5 .2 .5 .1 .5 .2 .5 .1 .5 .1 .5 .1 .5 .1 .5 .1 .5 .1 .5 .1 .5 .1 .5 .1 .5 .1 .5 0 .5 0 .5 0 .5 0 .5 .1 .5 0 .5 0 .5 0 .5 0 .5 0 .5 0 .5 .1 .5 0 .5 0 .5 0 .5 0 .5 0 .5 0 .5 0 .5 .1 .5 0 .5 0 .5 0 .5 0 .5 0 .5 0 .5 0 .5 .1 .5 0 .5 0 .5 0 .5 0 .5 0 .5 0 .5 0 .5 .1 .5 0 .5 0 .5 0" fill="none" stroke="#000" stroke-width="1.6" stroke-linejoin="round"/>
<path d="M276 369.7l.5 0 .5 0 .5 0 .5-.1 .5 0 .5 0 .5 0 .5-.1 .5 0 .5-.1 .5 0 .5-.1 .5-.1 .5 0 .5-.1 .5-.1 .5-.1 .5 0 .5-.1 .5-.1 .5-.1 .5-.1 .5-.1 .5-.1 .5-.1 .5-.1 .5-.1 .5 0 .5-.1 .5-.1 .5 0 .5-.1 .5 0 .5-.1 .5 0 .5 0 .5 0 .5 0 .5 0 .5 0 .5 .1 .5 0 .5 .1 .5 .1 .5 0 .5 .1 .5 .1 .5 .1 .5 .1 .5 .2 .5 .1 .5 .2 .5 .1 .5 .1 .5 .2 .5 .1 .5 .2 .5 .1 .5 .1 .5 .2 .5 .1 .5 .1 .5 .1 .5 .2 .5 .1 .5 .1 .5 .1 .5 .1 .5 .1 .5 0 .5 .1 .5 .1 .5 .1 .5 .1 .5 0 .5 .1 L314.0 371.6 L313.5 371.5 L313.0 371.5 L312.5 371.4 L312.0 371.4 L311.5 371.4 L311.0 371.3 L310.5 371.3 L310.0 371.2 L309.5 371.2 L309.0 371.2 L308.5 371.1 L308.0 371.1 L307.5 371.1 L307.0 371.0 L306.5 371.0 L306.0 370.9 L305.5 370.9 L305.0 370.9 L304.5 370.8 L304.0 370.8 L303.5 370.8 L303.0 370.7 L302.5 370.7 L302.0 370.6 L301.5 370.6 L301.0 370.6 L300.5 370.5 L300.0 370.5 L299.5 370.5 L299.0 370.5 L298.5 370.5 L298.0 370.4 L297.5 370.4 L297.0 370.4 L296.5 370.4 L296.0 370.4 L295.5 370.4 L295.0 370.4 L294.5 370.4 L294.0 370.4 L293.5 370.3 L293.0 370.3 L292.5 370.3 L292.0 370.3 L291.5 370.3 L291.0 370.3 L290.5 370.3 L290.0 370.2 L289.5 370.2 L289.0 370.2 L288.5 370.2 L288.0 370.2 L287.5 370.2 L287.0 370.2 L286.5 370.2 L286.0 370.1 L285.5 370.1 L285.0 370.1 L284.5 370.1 L284.0 370.1 L283.5 370.1 L283.0 370.1 L282.5 370.1 L282.0 370.1 L281.5 370.0 L281.0 370.0 L280.5 370.0 L280.0 370.0 L279.5 370.0 L279.0 370.0 L278.5 369.9 L278.0 369.9 L277.5 369.9 L277.0 369.9 L276.5 369.9 L276.0 369.9 Z" fill="url(#gy)" stroke="none"/>
<path d="M276 369.7l.5 0 .5 0 .5 0 .5-.1 .5 0 .5 0 .5 0 .5-.1 .5 0 .5-.1 .5 0 .5-.1 .5-.1 .5 0 .5-.1 .5-.1 .5-.1 .5 0 .5-.1 .5-.1 .5-.1 .5-.1 .5-.1 .5-.1 .5-.1 .5-.1 .5-.1 .5 0 .5-.1 .5-.1 .5 0 .5-.1 .5 0 .5-.1 .5 0 .5 0 .5 0 .5 0 .5 0 .5 0 .5 .1 .5 0 .5 .1 .5 .1 .5 0 .5 .1 .5 .1 .5 .1 .5 .1 .5 .2 .5 .1 .5 .2 .5 .1 .5 .1 .5 .2 .5 .1 .5 .2 .5 .1 .5 .1 .5 .2 .5 .1 .5 .1 .5 .1 .5 .2 .5 .1 .5 .1 .5 .1 .5 .1 .5 .1 .5 0 .5 .1 .5 .1 .5 .1 .5 .1 .5 0 .5 .1" fill="none" stroke="#cfc832" stroke-width="1.1"/>
<path d="M288.5 370.1l.5-.1 .5 0 .5 0 .5 0 .5 0 .5-.1 .5 0 .5 0 .5-.1 .5 0 .5-.1 .5-.1 .5-.1 .5 0 .5-.1 .5-.1 .5-.2 .5-.1 .5-.1 .5-.2 .5-.1 .5-.2 .5-.2 .5-.2 .5-.1 .5-.2 .5-.2 .5-.3 .5-.2 .5-.2 .5-.3 .5-.2 .5-.3 .5-.3 .5-.3 .5-.2 .5-.3 .5-.3 .5-.3 .5-.3 .5-.3 .5-.3 .5-.3 .5-.2 .5-.3 .5-.3 .5-.2 .5-.2 .5-.2 .5-.2 .5-.2 .5-.1 .5-.1 .5-.1 .5-.1 .5 0 .5 0 .5 0 .5 0 .5 .1 .5 .1 .5 .1 .5 .2 .5 .2 .5 .2 .5 .3 .5 .3 .5 .3 .5 .3 .5 .3 .5 .4 .5 .4 .5 .4 .5 .4 .5 .4 .5 .4 .5 .4 .5 .4 .5 .4 .5 .4 .5 .4 .5 .4 .5 .4 .5 .4 .5 .4 .5 .4 .5 .4 .5 .3 .5 .4 .5 .3 .5 .3 .5 .4 .5 .3 .5 .3 .5 .3 .5 .3 .5 .3 .5 .3 .5 .3 .5 .3 .5 .2 .5 .3 .5 .2 .5 .3 .5 .2 .5 .2 .5 .2 .5 .2 .5 .2 .5 .2 .5 .2 .5 .1 .5 .2 .5 .2 .5 .1 .5 .2 L346.5 377.6 L346.0 377.4 L345.5 377.3 L345.0 377.2 L344.5 377.0 L344.0 376.9 L343.5 376.8 L343.0 376.6 L342.5 376.5 L342.0 376.4 L341.5 376.2 L341.0 376.1 L340.5 376.0 L340.0 375.8 L339.5 375.7 L339.0 375.6 L338.5 375.4 L338.0 375.3 L337.5 375.2 L337.0 375.0 L336.5 374.9 L336.0 374.8 L335.5 374.6 L335.0 374.5 L334.5 374.4 L334.0 374.3 L333.5 374.2 L333.0 374.2 L332.5 374.1 L332.0 374.0 L331.5 373.9 L331.0 373.8 L330.5 373.8 L330.0 373.7 L329.5 373.6 L329.0 373.5 L328.5 373.4 L328.0 373.3 L327.5 373.2 L327.0 373.2 L326.5 373.1 L326.0 373.0 L325.5 372.9 L325.0 372.8 L324.5 372.8 L324.0 372.7 L323.5 372.6 L323.0 372.5 L322.5 372.4 L322.0 372.3 L321.5 372.2 L321.0 372.2 L320.5 372.1 L320.0 372.0 L319.5 372.0 L319.0 371.9 L318.5 371.9 L318.0 371.9 L317.5 371.8 L317.0 371.8 L316.5 371.7 L316.0 371.7 L315.5 371.7 L315.0 371.6 L314.5 371.6 L314.0 371.6 L313.5 371.5 L313.0 371.5 L312.5 371.4 L312.0 371.4 L311.5 371.4 L311.0 371.3 L310.5 371.3 L310.0 371.2 L309.5 371.2 L309.0 371.2 L308.5 371.1 L308.0 371.1 L307.5 371.1 L307.0 371.0 L306.5 371.0 L306.0 370.9 L305.5 370.9 L305.0 370.9 L304.5 370.8 L304.0 370.8 L303.5 370.8 L303.0 370.7 L302.5 370.7 L302.0 370.6 L301.5 370.6 L301.0 370.6 L300.5 370.5 L300.0 370.5 L299.5 370.5 L299.0 370.5 L298.5 370.5 L298.0 370.4 L297.5 370.4 L297.0 370.4 L296.5 370.4 L296.0 370.4 L295.5 370.4 L295.0 370.4 L294.5 370.4 L294.0 370.4 L293.5 370.3 L293.0 370.3 L292.5 370.3 L292.0 370.3 L291.5 370.3 L291.0 370.3 L290.5 370.3 L290.0 370.2 L289.5 370.2 L289.0 370.2 L288.5 370.2 Z" fill="url(#gb)" stroke="none"/>
<path d="M288.5 370.1l.5-.1 .5 0 .5 0 .5 0 .5 0 .5-.1 .5 0 .5 0 .5-.1 .5 0 .5-.1 .5-.1 .5-.1 .5 0 .5-.1 .5-.1 .5-.2 .5-.1 .5-.1 .5-.2 .5-.1 .5-.2 .5-.2 .5-.2 .5-.1 .5-.2 .5-.2 .5-.3 .5-.2 .5-.2 .5-.3 .5-.2 .5-.3 .5-.3 .5-.3 .5-.2 .5-.3 .5-.3 .5-.3 .5-.3 .5-.3 .5-.3 .5-.3 .5-.2 .5-.3 .5-.3 .5-.2 .5-.2 .5-.2 .5-.2 .5-.2 .5-.1 .5-.1 .5-.1 .5-.1 .5 0 .5 0 .5 0 .5 0 .5 .1 .5 .1 .5 .1 .5 .2 .5 .2 .5 .2 .5 .3 .5 .3 .5 .3 .5 .3 .5 .3 .5 .4 .5 .4 .5 .4 .5 .4 .5 .4 .5 .4 .5 .4 .5 .4 .5 .4 .5 .4 .5 .4 .5 .4 .5 .4 .5 .4 .5 .4 .5 .4 .5 .4 .5 .3 .5 .4 .5 .3 .5 .3 .5 .4 .5 .3 .5 .3 .5 .3 .5 .3 .5 .3 .5 .3 .5 .3 .5 .3 .5 .2 .5 .3 .5 .2 .5 .3 .5 .2 .5 .2 .5 .2 .5 .2 .5 .2 .5 .2 .5 .2 .5 .1 .5 .2 .5 .2 .5 .1 .5 .2" fill="none" stroke="#3a4ab0" stroke-width="1.1"/>
<path d="M314 371.4l.5 0 .5-.1 .5 0 .5-.1 .5 0 .5-.2 .5-.1 .5-.2 .5-.2 .5-.2 .5-.4 .5-.3 .5-.4 .5-.5 .5-.5 .5-.6 .5-.7 .5-.7 .5-.9 .5-.9 .5-1 .5-1.1 .5-1.1 .5-1.3 .5-1.2 .5-1.3 .5-1.3 .5-1.4 .5-1.3 .5-1.2 .5-1.3 .5-1.1 .5-1 .5-1 .5-.8 .5-.6 .5-.5 .5-.3 .5-.1 .5 0 .5 .3 .5 .4 .5 .7 .5 .8 .5 1 .5 1.1 .5 1.3 .5 1.3 .5 1.4 .5 1.5 .5 1.5 .5 1.6 .5 1.5 .5 1.5 .5 1.5 .5 1.5 .5 1.3 .5 1.4 .5 1.2 .5 1.2 .5 1 .5 1 .5 .9 .5 .9 .5 .7 .5 .7 .5 .6 .5 .6 .5 .5 .5 .4 .5 .4 .5 .4 .5 .2 .5 .2 .5 .2 .5 .2 .5 .2 .5 .1 .5 .1 L353.5 379.0 L353.0 378.9 L352.5 378.9 L352.0 378.8 L351.5 378.7 L351.0 378.6 L350.5 378.6 L350.0 378.5 L349.5 378.4 L349.0 378.2 L348.5 378.1 L348.0 378.0 L347.5 377.8 L347.0 377.7 L346.5 377.6 L346.0 377.4 L345.5 377.3 L345.0 377.2 L344.5 377.0 L344.0 376.9 L343.5 376.8 L343.0 376.6 L342.5 376.5 L342.0 376.4 L341.5 376.2 L341.0 376.1 L340.5 376.0 L340.0 375.8 L339.5 375.7 L339.0 375.6 L338.5 375.4 L338.0 375.3 L337.5 375.2 L337.0 375.0 L336.5 374.9 L336.0 374.8 L335.5 374.6 L335.0 374.5 L334.5 374.4 L334.0 374.3 L333.5 374.2 L333.0 374.2 L332.5 374.1 L332.0 374.0 L331.5 373.9 L331.0 373.8 L330.5 373.8 L330.0 373.7 L329.5 373.6 L329.0 373.5 L328.5 373.4 L328.0 373.3 L327.5 373.2 L327.0 373.2 L326.5 373.1 L326.0 373.0 L325.5 372.9 L325.0 372.8 L324.5 372.8 L324.0 372.7 L323.5 372.6 L323.0 372.5 L322.5 372.4 L322.0 372.3 L321.5 372.2 L321.0 372.2 L320.5 372.1 L320.0 372.0 L319.5 372.0 L319.0 371.9 L318.5 371.9 L318.0 371.9 L317.5 371.8 L317.0 371.8 L316.5 371.7 L316.0 371.7 L315.5 371.7 L315.0 371.6 L314.5 371.6 L314.0 371.6 Z" fill="url(#gc)" stroke="none"/>
<path d="M314 371.4l.5 0 .5-.1 .5 0 .5-.1 .5 0 .5-.2 .5-.1 .5-.2 .5-.2 .5-.2 .5-.4 .5-.3 .5-.4 .5-.5 .5-.5 .5-.6 .5-.7 .5-.7 .5-.9 .5-.9 .5-1 .5-1.1 .5-1.1 .5-1.3 .5-1.2 .5-1.3 .5-1.3 .5-1.4 .5-1.3 .5-1.2 .5-1.3 .5-1.1 .5-1 .5-1 .5-.8 .5-.6 .5-.5 .5-.3 .5-.1 .5 0 .5 .3 .5 .4 .5 .7 .5 .8 .5 1 .5 1.1 .5 1.3 .5 1.3 .5 1.4 .5 1.5 .5 1.5 .5 1.6 .5 1.5 .5 1.5 .5 1.5 .5 1.5 .5 1.3 .5 1.4 .5 1.2 .5 1.2 .5 1 .5 1 .5 .9 .5 .9 .5 .7 .5 .7 .5 .6 .5 .6 .5 .5 .5 .4 .5 .4 .5 .4 .5 .2 .5 .2 .5 .2 .5 .2 .5 .2 .5 .1 .5 .1" fill="none" stroke="#1ea8c0" stroke-width="1.1"/>
<path d="M240 369.7l.5 0 .5 0 .5 0 .5 0 .5-.1 .5 0 .5 0 .5 0 .5 0 .5 0 .5 0 .5 0 .5 0 .5 0 .5 0 .5-.1 .5 0 .5 0 .5 0 .5 0 .5 0 .5-.1 .5 0 .5-.1 .5 0 .5-.1 .5 0 .5 0 .5-.1 .5 0 .5-.1 .5 0 .5 0 .5-.1 .5 0 .5-.1 .5 0 .5 .1 .5 0 .5 .1 .5 0 .5 .1 .5 0 .5 .1 .5 0 .5 .1 .5 0 .5 .1 .5 0 .5 .1 .5 0 .5 0 .5 .1 .5 0 .5 0 .5 0 .5 0 .5 0 .5 0 .5 .1 .5 0 .5 0 .5 0 .5 0 .5 .1 .5 0 .5 0 .5 0 .5 0 .5 0 .5 0 .5 .1 .5 0 .5 0 .5 0 .5 0 .5 .1 .5 0 .5 0 .5 0 .5 0 .5 0 .5 0 .5 0 .5 .1 .5 0 .5 0 .5 0 .5 0 .5 0 .5 0 .5 .1 .5 0 .5 0 .5 0 .5 0 .5 0 .5 0 .5 0 .5 0 .5 .1 .5 0 .5 0 .5 0 .5 0 .5 0 .5 0 .5 .1 .5 0 .5 0 .5 0 .5 0 .5 0 .5 0 .5 0 .5 0 .5 .1 .5 0 .5 0 .5 0 .5 0 .5 .1 .5 0 .5 0 .5 .1 .5 0 .5 .1 .5 0 .5 0 .5 .1 .5 0 .5 .1 .5 0 .5 0 .5 .1 .5 0 .5 0 .5 .1 .5 0 .5 0 .5 .1 .5 0 .5 .1 .5 0 .5 0 .5 .1 .5 0 .5 .1 .5 0 .5 0 .5 .1 .5 0 .5 0 .5 .1 .5 0 .5 0 .5 .1 .5 0 .5 .1 .5 0 .5 .1 .5 .1 .5 0 .5 .1 .5 .1 .5 .1 .5 .1 .5 .1 .5 .1 .5 0 .5 .1 .5 .1 .5 .1 .5 .1 .5 0 .5 .1 .5 .1 .5 .1 .5 .1 .5 .1 .5 .1 .5 0 .5 .1 .5 .1 .5 .1 .5 .1 .5 0 .5 .1 .5 .1 .5 .1 .5 .1 .5 .2 .5 .1 .5 .1 .5 .2 .5 .1 .5 .1 .5 .2 .5 .1 .5 .1 .5 .2 .5 .1 .5 .1 .5 .2 .5 .1 .5 .1 .5 .2 .5 .1 .5 .1 .5 .2 .5 .1 .5 .1 .5 .2 .5 .1 .5 .1 .5 .2 .5 .1 .5 .1 .5 .2 .5 .1 .5 .1 .5 0 .5 .1 .5 .1 .5 .1 .5 .1 .5 0 .5 .1 .5 .1 .5 0 .5 .1 .5 .1 .5 .1 .5 .1 .5 0 .5 .1 .5 .1 .5 0 .5 .1 .5 .1 .5 0 .5 0 .5 0 .5 0 .5 0 .5 0 .5 0 .5 0 .5 0 .5 0 .5 0 .5 0 .5 0 .5 0 .5 0 .5 0 .5 0 .5 0 .5 0 .5 0 .5 0 .5 0 .5 0 .5 0 .5 0 .5 0 .5 0 .5 0 .5 0" fill="none" stroke="#111" stroke-width="1.1"/>
<path d="M240 369.7l.5 0 .5 0 .5 0 .5 0 .5-.1 .5 0 .5 0 .5 0 .5 0 .5 0 .5 0 .5 0 .5 0 .5-.1 .5 0 .5 0 .5 0 .5 0 .5-.1 .5 0 .5-.1 .5 0 .5-.1 .5-.1 .5-.1 .5 0 .5-.1 .5-.1 .5-.1 .5-.1 .5 0 .5-.1 .5-.1 .5-.1 .5 0 .5-.1 .5 0 .5 .1 .5 0 .5 .1 .5 .1 .5 .1 .5 .1 .5 0 .5 .1 .5 .1 .5 .1 .5 .1 .5 .1 .5 .1 .5 0 .5 .1 .5 0 .5 0 .5 .1 .5 0 .5 0 .5 0 .5 0 .5 0 .5 0 .5 0 .5 0 .5 0 .5 0 .5 0 .5-.1 .5 0 .5 0 .5-.1 .5 0 .5-.1 .5 0 .5-.1 .5 0 .5 0 .5-.1 .5 0 .5 0 .5 0 .5-.1 .5 0 .5 0 .5-.1 .5 0 .5 0 .5-.1 .5-.3 .5-.1 .5 0 .5-.1 .5-.1 .5-.1 .5-.1 .5-.1 .5-.1 .5-.1 .5-.1 .5-.1 .5 0 .5-.1 .5-.1 .5 0 .5-.1 .5 0 .5-.1 .5-.1 .5-.1 .5-.1 .5-.1 .5-.1 .5-.2 .5-.1 .5-.2 .5-.2 .5-.2 .5-.2 .5-.2 .5-.3 .5-.2 .5-.3 .5-.3 .5-.2 .5-.3 .5-.3 .5-.2 .5-.3 .5-.3 .5-.2 .5-.2 .5-.2 .5-.2 .5-.1 .5-.1 .5-.1 .5-.1 .5-.1 .5-.1 .5-.1 .5 0 .5-.1 .5-.1 .5-.1 .5-.1 .5-.1 .5-.1 .5-.2 .5-.1 .5-.2 .5-.1 .5-.2 .5-.2 .5-.2 .5-.1 .5-.2 .5-.2 .5-.3 .5-.2 .5-.3 .5-.2 .5-.3 .5-.3 .5-.4 .5-.4 .5-.5 .5-.6 .5-.6 .5-.7 .5-.7 .5-.9 .5-.9 .5-.9 .5-1 .5-1.1 .5-1 .5-1.1 .5-1 .5-1 .5-.9 .5-.9 .5-.7 .5-.6 .5-.5 .5-.3 .5-.1 .5 .1 .5 .2 .5 .4 .5 .6 .5 .8 .5 1.1 .5 1.2 .5 1.3 .5 1.5 .5 1.6 .5 1.7 .5 1.8 .5 1.8 .5 1.8 .5 1.6 .5 1.5 .5 1.5 .5 1.5 .5 1.5 .5 1.3 .5 1.4 .5 1.2 .5 1.2 .5 1 .5 1 .5 .9 .5 .9 .5 .7 .5 .7 .5 .6 .5 .6 .5 .5 .5 .4 .5 .4 .5 1 .5 .2 .5 .2 .5 .2 .5 .2 .5 .2 .5 .1 .5 .1 .5 .2 .5 .1 .5 .1 .5 .1 .5 .1 .5 0 .5 .1 .5 .1 .5 .1 .5 .1 .5 0 .5 .1 .5 .1 .5 0 .5 0 .5 0 .5 0 .5 0 .5 0 .5 0 .5 0 .5 0 .5 0 .5 0 .5 0 .5 0 .5 0 .5 0 .5 0 .5 0 .5 0 .5 0 .5 0 .5 0 .5 0 .5 0 .5 0 .5 0 .5 0 .5 0 .5 0 .5 0" fill="none" stroke="#a8a8a8" stroke-opacity="0.55" stroke-width="4.5" stroke-linejoin="round"/>
<path d="M240 369.7l.5 0 .5 0 .5 0 .5 0 .5-.1 .5 0 .5 0 .5 0 .5 0 .5 0 .5 0 .5 0 .5 0 .5-.1 .5 0 .5 0 .5 0 .5 0 .5-.1 .5 0 .5-.1 .5 0 .5-.1 .5-.1 .5-.1 .5 0 .5-.1 .5-.1 .5-.1 .5-.1 .5 0 .5-.1 .5-.1 .5-.1 .5 0 .5-.1 .5 0 .5 .1 .5 0 .5 .1 .5 .1 .5 .1 .5 .1 .5 0 .5 .1 .5 .1 .5 .1 .5 .1 .5 .1 .5 .1 .5 0 .5 .1 .5 0 .5 0 .5 .1 .5 0 .5 0 .5 0 .5 0 .5 0 .5 0 .5 0 .5 0 .5 0 .5 0 .5 0 .5-.1 .5 0 .5 0 .5-.1 .5 0 .5-.1 .5 0 .5-.1 .5 0 .5 0 .5-.1 .5 0 .5 0 .5 0 .5-.1 .5 0 .5 0 .5-.1 .5 0 .5 0 .5-.1 .5-.3 .5-.1 .5 0 .5-.1 .5-.1 .5-.1 .5-.1 .5-.1 .5-.1 .5-.1 .5-.1 .5-.1 .5 0 .5-.1 .5-.1 .5 0 .5-.1 .5 0 .5-.1 .5-.1 .5-.1 .5-.1 .5-.1 .5-.1 .5-.2 .5-.1 .5-.2 .5-.2 .5-.2 .5-.2 .5-.2 .5-.3 .5-.2 .5-.3 .5-.3 .5-.2 .5-.3 .5-.3 .5-.2 .5-.3 .5-.3 .5-.2 .5-.2 .5-.2 .5-.2 .5-.1 .5-.1 .5-.1 .5-.1 .5-.1 .5-.1 .5-.1 .5 0 .5-.1 .5-.1 .5-.1 .5-.1 .5-.1 .5-.1 .5-.2 .5-.1 .5-.2 .5-.1 .5-.2 .5-.2 .5-.2 .5-.1 .5-.2 .5-.2 .5-.3 .5-.2 .5-.3 .5-.2 .5-.3 .5-.3 .5-.4 .5-.4 .5-.5 .5-.6 .5-.6 .5-.7 .5-.7 .5-.9 .5-.9 .5-.9 .5-1 .5-1.1 .5-1 .5-1.1 .5-1 .5-1 .5-.9 .5-.9 .5-.7 .5-.6 .5-.5 .5-.3 .5-.1 .5 .1 .5 .2 .5 .4 .5 .6 .5 .8 .5 1.1 .5 1.2 .5 1.3 .5 1.5 .5 1.6 .5 1.7 .5 1.8 .5 1.8 .5 1.8 .5 1.6 .5 1.5 .5 1.5 .5 1.5 .5 1.5 .5 1.3 .5 1.4 .5 1.2 .5 1.2 .5 1 .5 1 .5 .9 .5 .9 .5 .7 .5 .7 .5 .6 .5 .6 .5 .5 .5 .4 .5 .4 .5 1 .5 .2 .5 .2 .5 .2 .5 .2 .5 .2 .5 .1 .5 .1 .5 .2 .5 .1 .5 .1 .5 .1 .5 .1 .5 0 .5 .1 .5 .1 .5 .1 .5 .1 .5 0 .5 .1 .5 .1 .5 0 .5 0 .5 0 .5 0 .5 0 .5 0 .5 0 .5 0 .5 0 .5 0 .5 0 .5 0 .5 0 .5 0 .5 0 .5 0 .5 0 .5 0 .5 0 .5 0 .5 0 .5 0 .5 0 .5 0 .5 0 .5 0 .5 0 .5 0 .5 0" fill="none" stroke="#000" stroke-width="1.6" stroke-linejoin="round"/>
</g>
<rect x="240" y="209.6" width="134.60000000000002" height="174.70000000000002" fill="none" stroke="#000" stroke-width="1.6"/>
<clipPath id="cf"><rect x="394.5" y="209.6" width="130.0" height="174.70000000000002"/></clipPath><g clip-path="url(#cf)">
<line x1="394.50" y1="268.20" x2="524.50" y2="268.20" stroke="#c4cce4" stroke-width="1.2"/>
<path d="M429.5 265.6l.5 0 .5-.1 .5 0 .5-.1 .5-.1 .5-.1 .5-.1 .5-.2 .5-.1 .5-.2 .5-.2 .5-.3 .5-.2 .5-.3 .5-.3 .5-.3 .5-.3 .5-.4 .5-.3 .5-.3 .5-.4 .5-.3 .5-.3 .5-.2 .5-.2 .5-.2 .5-.2 .5-.1 .5 0 .5 0 .5 .1 .5 .1 .5 .1 .5 .2 .5 .3 .5 .3 .5 .3 .5 .3 .5 .3 .5 .4 .5 .3 .5 .4 .5 .3 .5 .3 .5 .3 .5 .3 .5 .3 .5 .2 .5 .3 .5 .2 .5 .1 .5 .2 .5 .1 .5 .2 .5 .1 .5 0 .5 .1 .5 .1 .5 0 L459.0 266.2 L458.5 266.2 L458.0 266.2 L457.5 266.2 L457.0 266.2 L456.5 266.2 L456.0 266.2 L455.5 266.2 L455.0 266.1 L454.5 266.1 L454.0 266.1 L453.5 266.1 L453.0 266.1 L452.5 266.1 L452.0 266.1 L451.5 266.1 L451.0 266.1 L450.5 266.1 L450.0 266.1 L449.5 266.1 L449.0 266.1 L448.5 266.1 L448.0 266.1 L447.5 266.1 L447.0 266.1 L446.5 266.1 L446.0 266.1 L445.5 266.1 L445.0 266.1 L444.5 266.0 L444.0 266.0 L443.5 266.0 L443.0 266.0 L442.5 266.0 L442.0 266.0 L441.5 266.0 L441.0 266.0 L440.5 266.0 L440.0 266.0 L439.5 266.0 L439.0 266.0 L438.5 266.0 L438.0 266.0 L437.5 265.9 L437.0 265.9 L436.5 265.9 L436.0 265.9 L435.5 265.9 L435.0 265.9 L434.5 265.9 L434.0 265.9 L433.5 265.9 L433.0 265.9 L432.5 265.8 L432.0 265.8 L431.5 265.8 L431.0 265.8 L430.5 265.8 L430.0 265.8 L429.5 265.8 Z" fill="url(#gb)" stroke="none"/>
<path d="M429.5 265.6l.5 0 .5-.1 .5 0 .5-.1 .5-.1 .5-.1 .5-.1 .5-.2 .5-.1 .5-.2 .5-.2 .5-.3 .5-.2 .5-.3 .5-.3 .5-.3 .5-.3 .5-.4 .5-.3 .5-.3 .5-.4 .5-.3 .5-.3 .5-.2 .5-.2 .5-.2 .5-.2 .5-.1 .5 0 .5 0 .5 .1 .5 .1 .5 .1 .5 .2 .5 .3 .5 .3 .5 .3 .5 .3 .5 .3 .5 .4 .5 .3 .5 .4 .5 .3 .5 .3 .5 .3 .5 .3 .5 .3 .5 .2 .5 .3 .5 .2 .5 .1 .5 .2 .5 .1 .5 .2 .5 .1 .5 0 .5 .1 .5 .1 .5 0" fill="none" stroke="#3a4ab0" stroke-width="1.1"/>
<path d="M444 265.9l.5 0 .5-.1 .5 0 .5-.1 .5 0 .5-.1 .5-.1 .5 0 .5-.1 .5-.1 .5-.2 .5-.1 .5-.2 .5-.1 .5-.2 .5-.3 .5-.2 .5-.3 .5-.2 .5-.3 .5-.4 .5-.3 .5-.4 .5-.4 .5-.4 .5-.4 .5-.4 .5-.5 .5-.5 .5-.4 .5-.5 .5-.5 .5-.5 .5-.5 .5-.4 .5-.5 .5-.4 .5-.4 .5-.4 .5-.3 .5-.3 .5-.3 .5-.2 .5-.2 .5-.2 .5-.1 .5 0 .5 0 .5 .1 .5 .1 .5 .1 .5 .2 .5 .3 .5 .3 .5 .3 .5 .4 .5 .4 .5 .4 .5 .4 .5 .5 .5 .5 .5 .4 .5 .5 .5 .5 .5 .5 .5 .5 .5 .5 .5 .4 .5 .5 .5 .4 .5 .4 .5 .4 .5 .4 .5 .3 .5 .4 .5 .3 .5 .3 .5 .2 .5 .3 .5 .2 .5 .2 .5 .2 .5 .1 .5 .2 .5 .1 .5 .1 .5 .1 .5 .1 .5 .1 .5 .1 .5 0 .5 .1 .5 0 .5 .1 .5 0 L491.5 266.4 L491.0 266.4 L490.5 266.4 L490.0 266.4 L489.5 266.4 L489.0 266.4 L488.5 266.4 L488.0 266.4 L487.5 266.4 L487.0 266.4 L486.5 266.4 L486.0 266.4 L485.5 266.4 L485.0 266.4 L484.5 266.4 L484.0 266.4 L483.5 266.4 L483.0 266.4 L482.5 266.4 L482.0 266.4 L481.5 266.4 L481.0 266.4 L480.5 266.4 L480.0 266.4 L479.5 266.4 L479.0 266.4 L478.5 266.4 L478.0 266.4 L477.5 266.4 L477.0 266.3 L476.5 266.3 L476.0 266.3 L475.5 266.3 L475.0 266.3 L474.5 266.3 L474.0 266.3 L473.5 266.3 L473.0 266.3 L472.5 266.3 L472.0 266.3 L471.5 266.3 L471.0 266.3 L470.5 266.3 L470.0 266.3 L469.5 266.3 L469.0 266.3 L468.5 266.3 L468.0 266.3 L467.5 266.3 L467.0 266.3 L466.5 266.3 L466.0 266.3 L465.5 266.3 L465.0 266.2 L464.5 266.2 L464.0 266.2 L463.5 266.2 L463.0 266.2 L462.5 266.2 L462.0 266.2 L461.5 266.2 L461.0 266.2 L460.5 266.2 L460.0 266.2 L459.5 266.2 L459.0 266.2 L458.5 266.2 L458.0 266.2 L457.5 266.2 L457.0 266.2 L456.5 266.2 L456.0 266.2 L455.5 266.2 L455.0 266.1 L454.5 266.1 L454.0 266.1 L453.5 266.1 L453.0 266.1 L452.5 266.1 L452.0 266.1 L451.5 266.1 L451.0 266.1 L450.5 266.1 L450.0 266.1 L449.5 266.1 L449.0 266.1 L448.5 266.1 L448.0 266.1 L447.5 266.1 L447.0 266.1 L446.5 266.1 L446.0 266.1 L445.5 266.1 L445.0 266.1 L444.5 266.0 L444.0 266.0 Z" fill="url(#gy)" stroke="none"/>
<path d="M444 265.9l.5 0 .5-.1 .5 0 .5-.1 .5 0 .5-.1 .5-.1 .5 0 .5-.1 .5-.1 .5-.2 .5-.1 .5-.2 .5-.1 .5-.2 .5-.3 .5-.2 .5-.3 .5-.2 .5-.3 .5-.4 .5-.3 .5-.4 .5-.4 .5-.4 .5-.4 .5-.4 .5-.5 .5-.5 .5-.4 .5-.5 .5-.5 .5-.5 .5-.5 .5-.4 .5-.5 .5-.4 .5-.4 .5-.4 .5-.3 .5-.3 .5-.3 .5-.2 .5-.2 .5-.2 .5-.1 .5 0 .5 0 .5 .1 .5 .1 .5 .1 .5 .2 .5 .3 .5 .3 .5 .3 .5 .4 .5 .4 .5 .4 .5 .4 .5 .5 .5 .5 .5 .4 .5 .5 .5 .5 .5 .5 .5 .5 .5 .5 .5 .4 .5 .5 .5 .4 .5 .4 .5 .4 .5 .4 .5 .3 .5 .4 .5 .3 .5 .3 .5 .2 .5 .3 .5 .2 .5 .2 .5 .2 .5 .1 .5 .2 .5 .1 .5 .1 .5 .1 .5 .1 .5 .1 .5 .1 .5 0 .5 .1 .5 0 .5 .1 .5 0" fill="none" stroke="#cfc832" stroke-width="1.1"/>
<path d="M449.5 265.9l.5 0 .5 0 .5-.1 .5 0 .5-.1 .5 0 .5-.1 .5-.1 .5-.1 .5-.2 .5-.1 .5-.2 .5-.2 .5-.2 .5-.2 .5-.3 .5-.3 .5-.4 .5-.4 .5-.4 .5-.5 .5-.6 .5-.5 .5-.7 .5-.6 .5-.8 .5-.8 .5-.8 .5-.9 .5-1 .5-1 .5-1 .5-1.1 .5-1.1 .5-1.2 .5-1.2 .5-1.2 .5-1.3 .5-1.2 .5-1.3 .5-1.2 .5-1.2 .5-1.2 .5-1.2 .5-1.1 .5-1 .5-1 .5-.9 .5-.9 .5-.7 .5-.6 .5-.6 .5-.4 .5-.3 .5-.1 .5-.1 .5 .1 .5 .1 .5 .4 .5 .4 .5 .5 .5 .6 .5 .8 .5 .8 .5 .9 .5 1 .5 1.1 .5 1.1 .5 1.2 .5 1.2 .5 1.2 .5 1.2 .5 1.3 .5 1.2 .5 1.3 .5 1.2 .5 1.2 .5 1.2 .5 1.2 .5 1.1 .5 1 .5 1 .5 1 .5 .9 .5 .8 .5 .8 .5 .8 .5 .7 .5 .6 .5 .6 .5 .5 .5 .5 .5 .5 .5 .4 .5 .4 .5 .3 .5 .3 .5 .2 .5 .3 .5 .2 .5 .1 .5 .2 .5 .1 .5 .2 .5 .1 .5 .1 .5 0 .5 .1 .5 .1 .5 0 .5 .1 .5 0 L505.5 266.6 L505.0 266.6 L504.5 266.6 L504.0 266.5 L503.5 266.5 L503.0 266.5 L502.5 266.5 L502.0 266.5 L501.5 266.5 L501.0 266.5 L500.5 266.5 L500.0 266.5 L499.5 266.5 L499.0 266.5 L498.5 266.5 L498.0 266.5 L497.5 266.5 L497.0 266.5 L496.5 266.5 L496.0 266.5 L495.5 266.5 L495.0 266.5 L494.5 266.5 L494.0 266.5 L493.5 266.5 L493.0 266.5 L492.5 266.4 L492.0 266.4 L491.5 266.4 L491.0 266.4 L490.5 266.4 L490.0 266.4 L489.5 266.4 L489.0 266.4 L488.5 266.4 L488.0 266.4 L487.5 266.4 L487.0 266.4 L486.5 266.4 L486.0 266.4 L485.5 266.4 L485.0 266.4 L484.5 266.4 L484.0 266.4 L483.5 266.4 L483.0 266.4 L482.5 266.4 L482.0 266.4 L481.5 266.4 L481.0 266.4 L480.5 266.4 L480.0 266.4 L479.5 266.4 L479.0 266.4 L478.5 266.4 L478.0 266.4 L477.5 266.4 L477.0 266.3 L476.5 266.3 L476.0 266.3 L475.5 266.3 L475.0 266.3 L474.5 266.3 L474.0 266.3 L473.5 266.3 L473.0 266.3 L472.5 266.3 L472.0 266.3 L471.5 266.3 L471.0 266.3 L470.5 266.3 L470.0 266.3 L469.5 266.3 L469.0 266.3 L468.5 266.3 L468.0 266.3 L467.5 266.3 L467.0 266.3 L466.5 266.3 L466.0 266.3 L465.5 266.3 L465.0 266.2 L464.5 266.2 L464.0 266.2 L463.5 266.2 L463.0 266.2 L462.5 266.2 L462.0 266.2 L461.5 266.2 L461.0 266.2 L460.5 266.2 L460.0 266.2 L459.5 266.2 L459.0 266.2 L458.5 266.2 L458.0 266.2 L457.5 266.2 L457.0 266.2 L456.5 266.2 L456.0 266.2 L455.5 266.2 L455.0 266.1 L454.5 266.1 L454.0 266.1 L453.5 266.1 L453.0 266.1 L452.5 266.1 L452.0 266.1 L451.5 266.1 L451.0 266.1 L450.5 266.1 L450.0 266.1 L449.5 266.1 Z" fill="url(#gb)" stroke="none"/>
<path d="M449.5 265.9l.5 0 .5 0 .5-.1 .5 0 .5-.1 .5 0 .5-.1 .5-.1 .5-.1 .5-.2 .5-.1 .5-.2 .5-.2 .5-.2 .5-.2 .5-.3 .5-.3 .5-.4 .5-.4 .5-.4 .5-.5 .5-.6 .5-.5 .5-.7 .5-.6 .5-.8 .5-.8 .5-.8 .5-.9 .5-1 .5-1 .5-1 .5-1.1 .5-1.1 .5-1.2 .5-1.2 .5-1.2 .5-1.3 .5-1.2 .5-1.3 .5-1.2 .5-1.2 .5-1.2 .5-1.2 .5-1.1 .5-1 .5-1 .5-.9 .5-.9 .5-.7 .5-.6 .5-.6 .5-.4 .5-.3 .5-.1 .5-.1 .5 .1 .5 .1 .5 .4 .5 .4 .5 .5 .5 .6 .5 .8 .5 .8 .5 .9 .5 1 .5 1.1 .5 1.1 .5 1.2 .5 1.2 .5 1.2 .5 1.2 .5 1.3 .5 1.2 .5 1.3 .5 1.2 .5 1.2 .5 1.2 .5 1.2 .5 1.1 .5 1 .5 1 .5 1 .5 .9 .5 .8 .5 .8 .5 .8 .5 .7 .5 .6 .5 .6 .5 .5 .5 .5 .5 .5 .5 .4 .5 .4 .5 .3 .5 .3 .5 .2 .5 .3 .5 .2 .5 .1 .5 .2 .5 .1 .5 .2 .5 .1 .5 .1 .5 0 .5 .1 .5 .1 .5 0 .5 .1 .5 0" fill="none" stroke="#3a4ab0" stroke-width="1.1"/>
<path d="M467 266.1l.5 0 .5-.1 .5 0 .5 0 .5-.1 .5-.1 .5-.1 .5-.1 .5-.1 .5-.1 .5-.1 .5-.2 .5-.2 .5-.2 .5-.3 .5-.2 .5-.3 .5-.3 .5-.4 .5-.4 .5-.4 .5-.5 .5-.5 .5-.5 .5-.5 .5-.6 .5-.6 .5-.7 .5-.7 .5-.6 .5-.8 .5-.7 .5-.7 .5-.8 .5-.7 .5-.7 .5-.7 .5-.7 .5-.7 .5-.6 .5-.6 .5-.5 .5-.5 .5-.5 .5-.3 .5-.3 .5-.3 .5-.1 .5-.1 .5 0 .5 .1 .5 .1 .5 .2 .5 .3 .5 .4 .5 .4 .5 .5 .5 .5 .5 .6 .5 .7 .5 .6 .5 .7 .5 .7 .5 .8 .5 .7 .5 .7 .5 .8 .5 .7 .5 .7 .5 .8 .5 .6 .5 .7 .5 .6 .5 .6 .5 .6 .5 .6 .5 .5 .5 .4 .5 .5 .5 .4 .5 .3 .5 .4 .5 .3 .5 .3 .5 .2 .5 .3 .5 .2 .5 .1 .5 .2 .5 .1 .5 .2 .5 .1 .5 .1 .5 .1 .5 0 .5 .1 .5 0 .5 .1 .5 0 L516.5 266.7 L516.0 266.7 L515.5 266.7 L515.0 266.7 L514.5 266.7 L514.0 266.7 L513.5 266.7 L513.0 266.7 L512.5 266.7 L512.0 266.6 L511.5 266.6 L511.0 266.6 L510.5 266.6 L510.0 266.6 L509.5 266.6 L509.0 266.6 L508.5 266.6 L508.0 266.6 L507.5 266.6 L507.0 266.6 L506.5 266.6 L506.0 266.6 L505.5 266.6 L505.0 266.6 L504.5 266.6 L504.0 266.5 L503.5 266.5 L503.0 266.5 L502.5 266.5 L502.0 266.5 L501.5 266.5 L501.0 266.5 L500.5 266.5 L500.0 266.5 L499.5 266.5 L499.0 266.5 L498.5 266.5 L498.0 266.5 L497.5 266.5 L497.0 266.5 L496.5 266.5 L496.0 266.5 L495.5 266.5 L495.0 266.5 L494.5 266.5 L494.0 266.5 L493.5 266.5 L493.0 266.5 L492.5 266.4 L492.0 266.4 L491.5 266.4 L491.0 266.4 L490.5 266.4 L490.0 266.4 L489.5 266.4 L489.0 266.4 L488.5 266.4 L488.0 266.4 L487.5 266.4 L487.0 266.4 L486.5 266.4 L486.0 266.4 L485.5 266.4 L485.0 266.4 L484.5 266.4 L484.0 266.4 L483.5 266.4 L483.0 266.4 L482.5 266.4 L482.0 266.4 L481.5 266.4 L481.0 266.4 L480.5 266.4 L480.0 266.4 L479.5 266.4 L479.0 266.4 L478.5 266.4 L478.0 266.4 L477.5 266.4 L477.0 266.3 L476.5 266.3 L476.0 266.3 L475.5 266.3 L475.0 266.3 L474.5 266.3 L474.0 266.3 L473.5 266.3 L473.0 266.3 L472.5 266.3 L472.0 266.3 L471.5 266.3 L471.0 266.3 L470.5 266.3 L470.0 266.3 L469.5 266.3 L469.0 266.3 L468.5 266.3 L468.0 266.3 L467.5 266.3 L467.0 266.3 Z" fill="url(#gc)" stroke="none"/>
<path d="M467 266.1l.5 0 .5-.1 .5 0 .5 0 .5-.1 .5-.1 .5-.1 .5-.1 .5-.1 .5-.1 .5-.1 .5-.2 .5-.2 .5-.2 .5-.3 .5-.2 .5-.3 .5-.3 .5-.4 .5-.4 .5-.4 .5-.5 .5-.5 .5-.5 .5-.5 .5-.6 .5-.6 .5-.7 .5-.7 .5-.6 .5-.8 .5-.7 .5-.7 .5-.8 .5-.7 .5-.7 .5-.7 .5-.7 .5-.7 .5-.6 .5-.6 .5-.5 .5-.5 .5-.5 .5-.3 .5-.3 .5-.3 .5-.1 .5-.1 .5 0 .5 .1 .5 .1 .5 .2 .5 .3 .5 .4 .5 .4 .5 .5 .5 .5 .5 .6 .5 .7 .5 .6 .5 .7 .5 .7 .5 .8 .5 .7 .5 .7 .5 .8 .5 .7 .5 .7 .5 .8 .5 .6 .5 .7 .5 .6 .5 .6 .5 .6 .5 .6 .5 .5 .5 .4 .5 .5 .5 .4 .5 .3 .5 .4 .5 .3 .5 .3 .5 .2 .5 .3 .5 .2 .5 .1 .5 .2 .5 .1 .5 .2 .5 .1 .5 .1 .5 .1 .5 0 .5 .1 .5 0 .5 .1 .5 0" fill="none" stroke="#1ea8c0" stroke-width="1.1"/>
<path d="M394.5 262.6l.5-.1 .5-.1 .5-.1 .5-.1 .5-.1 .5-.1 .5-.1 .5 0 .5-.1 .5-.1 .5-.1 .5-.1 .5-.1 .5-.1 .5-.1 .5 .1 .5 .1 .5 0 .5 .1 .5 .1 .5 .1 .5 .1 .5 0 .5 .1 .5 .1 .5 .1 .5 .1 .5 .1 .5 0 .5 .1 .5 .1 .5 .1 .5 .1 .5 .1 .5 .1 .5 .1 .5 .1 .5 .1 .5 .1 .5 .1 .5 .1 .5 .1 .5 .1 .5 .1 .5 .1 .5 .1 .5 .1 .5 .1 .5 .1 .5 .1 .5 .1 .5 .1 .5 .1 .5 .1 .5 .1 .5 .1 .5 .1 .5 .1 .5 .1 .5 .1 .5 .1 .5 .1 .5 .1 .5 0 .5 0 .5 0 .5 0 .5 .1 .5 0 .5 0 .5 0 .5 0 .5 0 .5 0 .5 0 .5 0 .5 .1 .5 0 .5 0 .5 0 .5 0 .5 0 .5 0 .5 0 .5 0 .5 0 .5 .1 .5 0 .5 0 .5 0 .5 0 .5 0 .5 0 .5 0 .5 0 .5 0 .5 0 .5 0 .5 0 .5 0 .5 0 .5 .1 .5 0 .5 0 .5 0 .5 0 .5 0 .5 0 .5 0 .5 0 .5 0 .5 0 .5 0 .5 0 .5 0 .5 0 .5 0 .5 0 .5 0 .5 0 .5 .1 .5 0 .5 0 .5 0 .5 0 .5 0 .5 0 .5 0 .5 0 .5 0 .5 0 .5 0 .5 0 .5 0 .5 0 .5 0 .5 0 .5 0 .5 0 .5 0 .5 0 .5 .1 .5 0 .5 0 .5 0 .5 0 .5 0 .5 0 .5 0 .5 0 .5 0 .5 0 .5 0 .5 0 .5 0 .5 0 .5 0 .5 0 .5 0 .5 0 .5 0 .5 0 .5 0 .5 0 .5 0 .5 .1 .5 0 .5 0 .5 0 .5 0 .5 0 .5 0 .5 0 .5 0 .5 0 .5 0 .5 0 .5 0 .5 0 .5 0 .5 0 .5 0 .5 0 .5 0 .5 0 .5 0 .5 0 .5 0 .5 0 .5 0 .5 0 .5 0 .5 0 .5 0 .5 0 .5 0 .5 .1 .5 0 .5 0 .5 0 .5 0 .5 0 .5 0 .5 0 .5 0 .5 0 .5 0 .5 0 .5 0 .5 0 .5 0 .5 0 .5 0 .5 0 .5 0 .5 0 .5 0 .5 0 .5 0 .5 .1 .5 0 .5 0 .5 0 .5 0 .5 0 .5 0 .5 0 .5 0 .5 0 .5 0 .5 0 .5 0 .5 0 .5 0 .5 0 .5 .1 .5 0 .5 0 .5 0 .5 0 .5 0 .5 0 .5 0 .5 0 .5 0 .5 0 .5 0 .5 0 .5 0 .5 0 .5 0 .5 .1 .5 0 .5 0 .5 0 .5 0 .5 0 .5 0 .5 0 .5 0" fill="none" stroke="#111" stroke-width="1.1"/>
<path d="M394.5 262.6l.5-.1 .5-.1 .5-.1 .5-.1 .5-.1 .5-.1 .5-.1 .5-.1 .5-.1 .5-.1 .5-.1 .5-.1 .5-.1 .5-.1 .5 0 .5 0 .5 .1 .5 .1 .5 .1 .5 .1 .5 0 .5 .1 .5 .1 .5 .1 .5 .1 .5 .1 .5 .1 .5 0 .5 .1 .5 .1 .5 .1 .5 .1 .5 .1 .5 .1 .5 .1 .5 .1 .5 .1 .5 .1 .5 .1 .5 .1 .5 .1 .5 .1 .5 .1 .5 .1 .5 .1 .5 .1 .5 .1 .5 .1 .5 .1 .5 .1 .5 .1 .5 .1 .5 .1 .5 .1 .5 .1 .5 .1 .5 .1 .5 .1 .5 .1 .5 .1 .5 .1 .5 .1 .5 .1 .5 0 .5 0 .5 0 .5 0 .5 0 .5-.1 .5 0 .5 0 .5-.1 .5 0 .5-.1 .5-.1 .5-.1 .5-.1 .5-.2 .5-.7 .5-.2 .5-.2 .5-.3 .5-.2 .5-.3 .5-.3 .5-.3 .5-.3 .5-.4 .5-.3 .5-.3 .5-.4 .5-.3 .5-.3 .5-.2 .5-.2 .5-.2 .5-.2 .5-.1 .5 0 .5 0 .5 .1 .5-.3 .5-.3 .5-.3 .5-.2 .5-.3 .5-.3 .5-.2 .5-.2 .5-.3 .5-.2 .5-.2 .5-.2 .5-.2 .5-.2 .5-.2 .5-.2 .5-.3 .5-.3 .5-.3 .5-.4 .5-.4 .5-.5 .5-.6 .5-.6 .5-.7 .5-.8 .5-.8 .5-.9 .5-.9 .5-1 .5-1.1 .5-1.1 .5-1.2 .5-1.2 .5-1.2 .5-1.3 .5-1.3 .5-1.3 .5-1.4 .5-1.4 .5-1.3 .5-1.3 .5-1.4 .5-1.2 .5-1.2 .5-1.2 .5-1.1 .5-1 .5-.9 .5-.9 .5-.7 .5-.8 .5-.6 .5-.6 .5-.5 .5-.5 .5-.4 .5-.3 .5-.3 .5-.2 .5-.2 .5-.1 .5-.1 .5 0 .5 .1 .5 .1 .5 .2 .5 .2 .5 .3 .5 .4 .5 .4 .5 .4 .5 .5 .5 .6 .5 .5 .5 .6 .5 .6 .5 .6 .5 .6 .5 .6 .5 .7 .5 .6 .5 .7 .5 .7 .5 .6 .5 .7 .5 .8 .5 .7 .5 .8 .5 .8 .5 .8 .5 .9 .5 .8 .5 .9 .5 .9 .5 .8 .5 .9 .5 .8 .5 .8 .5 .8 .5 .8 .5 .8 .5 .7 .5 .6 .5 .7 .5 .7 .5 .6 .5 .7 .5 .7 .5 .7 .5 .8 .5 .8 .5 .8 .5 .9 .5 .9 .5 1 .5 .9 .5 1 .5 1 .5 .9 .5 1 .5 .9 .5 .8 .5 .8 .5 .8 .5 .6 .5 .6 .5 .6 .5 .5 .5 .4 .5 .3 .5 .3 .5 .3 .5 .3 .5 .2 .5 .2 .5 .2 .5 .1 .5 .2 .5 .2 .5 .1 .5 .1 .5 .2 .5 .1 .5 .1 .5 .2 .5 .1 .5 .1 .5 .1 .5 .1 .5 0 .5 .1 .5 .1 .5 0 .5 0 .5 .1 .5 0 .5 0 .5 .1" fill="none" stroke="#a8a8a8" stroke-opacity="0.55" stroke-width="4.5" stroke-linejoin="round"/>
<path d="M394.5 262.6l.5-.1 .5-.1 .5-.1 .5-.1 .5-.1 .5-.1 .5-.1 .5-.1 .5-.1 .5-.1 .5-.1 .5-.1 .5-.1 .5-.1 .5 0 .5 0 .5 .1 .5 .1 .5 .1 .5 .1 .5 0 .5 .1 .5 .1 .5 .1 .5 .1 .5 .1 .5 .1 .5 0 .5 .1 .5 .1 .5 .1 .5 .1 .5 .1 .5 .1 .5 .1 .5 .1 .5 .1 .5 .1 .5 .1 .5 .1 .5 .1 .5 .1 .5 .1 .5 .1 .5 .1 .5 .1 .5 .1 .5 .1 .5 .1 .5 .1 .5 .1 .5 .1 .5 .1 .5 .1 .5 .1 .5 .1 .5 .1 .5 .1 .5 .1 .5 .1 .5 .1 .5 .1 .5 .1 .5 0 .5 0 .5 0 .5 0 .5 0 .5-.1 .5 0 .5 0 .5-.1 .5 0 .5-.1 .5-.1 .5-.1 .5-.1 .5-.2 .5-.7 .5-.2 .5-.2 .5-.3 .5-.2 .5-.3 .5-.3 .5-.3 .5-.3 .5-.4 .5-.3 .5-.3 .5-.4 .5-.3 .5-.3 .5-.2 .5-.2 .5-.2 .5-.2 .5-.1 .5 0 .5 0 .5 .1 .5-.3 .5-.3 .5-.3 .5-.2 .5-.3 .5-.3 .5-.2 .5-.2 .5-.3 .5-.2 .5-.2 .5-.2 .5-.2 .5-.2 .5-.2 .5-.2 .5-.3 .5-.3 .5-.3 .5-.4 .5-.4 .5-.5 .5-.6 .5-.6 .5-.7 .5-.8 .5-.8 .5-.9 .5-.9 .5-1 .5-1.1 .5-1.1 .5-1.2 .5-1.2 .5-1.2 .5-1.3 .5-1.3 .5-1.3 .5-1.4 .5-1.4 .5-1.3 .5-1.3 .5-1.4 .5-1.2 .5-1.2 .5-1.2 .5-1.1 .5-1 .5-.9 .5-.9 .5-.7 .5-.8 .5-.6 .5-.6 .5-.5 .5-.5 .5-.4 .5-.3 .5-.3 .5-.2 .5-.2 .5-.1 .5-.1 .5 0 .5 .1 .5 .1 .5 .2 .5 .2 .5 .3 .5 .4 .5 .4 .5 .4 .5 .5 .5 .6 .5 .5 .5 .6 .5 .6 .5 .6 .5 .6 .5 .6 .5 .7 .5 .6 .5 .7 .5 .7 .5 .6 .5 .7 .5 .8 .5 .7 .5 .8 .5 .8 .5 .8 .5 .9 .5 .8 .5 .9 .5 .9 .5 .8 .5 .9 .5 .8 .5 .8 .5 .8 .5 .8 .5 .8 .5 .7 .5 .6 .5 .7 .5 .7 .5 .6 .5 .7 .5 .7 .5 .7 .5 .8 .5 .8 .5 .8 .5 .9 .5 .9 .5 1 .5 .9 .5 1 .5 1 .5 .9 .5 1 .5 .9 .5 .8 .5 .8 .5 .8 .5 .6 .5 .6 .5 .6 .5 .5 .5 .4 .5 .3 .5 .3 .5 .3 .5 .3 .5 .2 .5 .2 .5 .2 .5 .1 .5 .2 .5 .2 .5 .1 .5 .1 .5 .2 .5 .1 .5 .1 .5 .2 .5 .1 .5 .1 .5 .1 .5 .1 .5 0 .5 .1 .5 .1 .5 0 .5 0 .5 .1 .5 0 .5 0 .5 .1" fill="none" stroke="#000" stroke-width="1.6" stroke-linejoin="round"/>
<path d="M426.5 319.3l.5-.1 .5 0 .5 0 .5-.1 .5-.1 .5-.1 .5-.1 .5-.1 .5-.1 .5-.2 .5-.1 .5-.2 .5-.2 .5-.2 .5-.2 .5-.2 .5-.2 .5-.1 .5-.2 .5-.2 .5-.1 .5-.1 .5-.1 .5 0 .5 0 .5 0 .5 .1 .5 .1 .5 .1 .5 .2 .5 .1 .5 .2 .5 .2 .5 .3 .5 .2 .5 .2 .5 .2 .5 .2 .5 .2 .5 .2 .5 .2 .5 .2 .5 .1 .5 .1 .5 .1 .5 .1 .5 .1 .5 .1 .5 .1 .5 0 L451.5 320.1 L451.0 320.1 L450.5 320.0 L450.0 320.0 L449.5 320.0 L449.0 320.0 L448.5 320.0 L448.0 320.0 L447.5 320.0 L447.0 320.0 L446.5 320.0 L446.0 319.9 L445.5 319.9 L445.0 319.9 L444.5 319.9 L444.0 319.9 L443.5 319.9 L443.0 319.9 L442.5 319.9 L442.0 319.8 L441.5 319.8 L441.0 319.8 L440.5 319.8 L440.0 319.8 L439.5 319.8 L439.0 319.8 L438.5 319.8 L438.0 319.7 L437.5 319.7 L437.0 319.7 L436.5 319.7 L436.0 319.7 L435.5 319.7 L435.0 319.7 L434.5 319.6 L434.0 319.6 L433.5 319.6 L433.0 319.6 L432.5 319.6 L432.0 319.6 L431.5 319.6 L431.0 319.5 L430.5 319.5 L430.0 319.5 L429.5 319.5 L429.0 319.5 L428.5 319.5 L428.0 319.5 L427.5 319.4 L427.0 319.4 L426.5 319.4 Z" fill="url(#gb)" stroke="none"/>
<path d="M426.5 319.3l.5-.1 .5 0 .5 0 .5-.1 .5-.1 .5-.1 .5-.1 .5-.1 .5-.1 .5-.2 .5-.1 .5-.2 .5-.2 .5-.2 .5-.2 .5-.2 .5-.2 .5-.1 .5-.2 .5-.2 .5-.1 .5-.1 .5-.1 .5 0 .5 0 .5 0 .5 .1 .5 .1 .5 .1 .5 .2 .5 .1 .5 .2 .5 .2 .5 .3 .5 .2 .5 .2 .5 .2 .5 .2 .5 .2 .5 .2 .5 .2 .5 .2 .5 .1 .5 .1 .5 .1 .5 .1 .5 .1 .5 .1 .5 .1 .5 0" fill="none" stroke="#3a4ab0" stroke-width="1.1"/>
<path d="M439 319.6l.5 0 .5 0 .5-.1 .5 0 .5 0 .5-.1 .5 0 .5-.1 .5-.1 .5-.1 .5-.1 .5-.1 .5-.1 .5-.1 .5-.2 .5-.2 .5-.2 .5-.2 .5-.2 .5-.3 .5-.3 .5-.3 .5-.3 .5-.4 .5-.3 .5-.4 .5-.5 .5-.4 .5-.5 .5-.5 .5-.5 .5-.5 .5-.6 .5-.5 .5-.6 .5-.6 .5-.6 .5-.5 .5-.6 .5-.6 .5-.6 .5-.5 .5-.5 .5-.5 .5-.5 .5-.4 .5-.5 .5-.3 .5-.4 .5-.2 .5-.3 .5-.2 .5-.1 .5-.1 .5 0 .5 0 .5 .1 .5 .1 .5 .2 .5 .3 .5 .3 .5 .3 .5 .4 .5 .4 .5 .5 .5 .4 .5 .6 .5 .5 .5 .6 .5 .6 .5 .6 .5 .6 .5 .6 .5 .6 .5 .6 .5 .6 .5 .6 .5 .6 .5 .5 .5 .6 .5 .5 .5 .5 .5 .5 .5 .5 .5 .4 .5 .4 .5 .4 .5 .4 .5 .3 .5 .3 .5 .3 .5 .3 .5 .3 .5 .2 .5 .2 .5 .2 .5 .2 .5 .2 .5 .1 .5 .1 .5 .2 .5 .1 .5 .1 .5 .1 .5 0 .5 .1 .5 .1 .5 0 .5 .1 .5 0 L494.0 321.3 L493.5 321.3 L493.0 321.3 L492.5 321.2 L492.0 321.2 L491.5 321.2 L491.0 321.2 L490.5 321.2 L490.0 321.2 L489.5 321.1 L489.0 321.1 L488.5 321.1 L488.0 321.1 L487.5 321.1 L487.0 321.1 L486.5 321.1 L486.0 321.0 L485.5 321.0 L485.0 321.0 L484.5 321.0 L484.0 321.0 L483.5 320.9 L483.0 320.9 L482.5 320.9 L482.0 320.9 L481.5 320.9 L481.0 320.9 L480.5 320.9 L480.0 320.8 L479.5 320.8 L479.0 320.8 L478.5 320.8 L478.0 320.8 L477.5 320.8 L477.0 320.7 L476.5 320.7 L476.0 320.7 L475.5 320.7 L475.0 320.7 L474.5 320.6 L474.0 320.6 L473.5 320.6 L473.0 320.6 L472.5 320.6 L472.0 320.6 L471.5 320.6 L471.0 320.5 L470.5 320.5 L470.0 320.5 L469.5 320.5 L469.0 320.5 L468.5 320.5 L468.0 320.5 L467.5 320.4 L467.0 320.4 L466.5 320.4 L466.0 320.4 L465.5 320.4 L465.0 320.4 L464.5 320.4 L464.0 320.4 L463.5 320.3 L463.0 320.3 L462.5 320.3 L462.0 320.3 L461.5 320.3 L461.0 320.3 L460.5 320.3 L460.0 320.3 L459.5 320.3 L459.0 320.2 L458.5 320.2 L458.0 320.2 L457.5 320.2 L457.0 320.2 L456.5 320.2 L456.0 320.2 L455.5 320.2 L455.0 320.1 L454.5 320.1 L454.0 320.1 L453.5 320.1 L453.0 320.1 L452.5 320.1 L452.0 320.1 L451.5 320.1 L451.0 320.1 L450.5 320.0 L450.0 320.0 L449.5 320.0 L449.0 320.0 L448.5 320.0 L448.0 320.0 L447.5 320.0 L447.0 320.0 L446.5 320.0 L446.0 319.9 L445.5 319.9 L445.0 319.9 L444.5 319.9 L444.0 319.9 L443.5 319.9 L443.0 319.9 L442.5 319.9 L442.0 319.8 L441.5 319.8 L441.0 319.8 L440.5 319.8 L440.0 319.8 L439.5 319.8 L439.0 319.8 Z" fill="url(#gy)" stroke="none"/>
<path d="M439 319.6l.5 0 .5 0 .5-.1 .5 0 .5 0 .5-.1 .5 0 .5-.1 .5-.1 .5-.1 .5-.1 .5-.1 .5-.1 .5-.1 .5-.2 .5-.2 .5-.2 .5-.2 .5-.2 .5-.3 .5-.3 .5-.3 .5-.3 .5-.4 .5-.3 .5-.4 .5-.5 .5-.4 .5-.5 .5-.5 .5-.5 .5-.5 .5-.6 .5-.5 .5-.6 .5-.6 .5-.6 .5-.5 .5-.6 .5-.6 .5-.6 .5-.5 .5-.5 .5-.5 .5-.5 .5-.4 .5-.5 .5-.3 .5-.4 .5-.2 .5-.3 .5-.2 .5-.1 .5-.1 .5 0 .5 0 .5 .1 .5 .1 .5 .2 .5 .3 .5 .3 .5 .3 .5 .4 .5 .4 .5 .5 .5 .4 .5 .6 .5 .5 .5 .6 .5 .6 .5 .6 .5 .6 .5 .6 .5 .6 .5 .6 .5 .6 .5 .6 .5 .6 .5 .5 .5 .6 .5 .5 .5 .5 .5 .5 .5 .5 .5 .4 .5 .4 .5 .4 .5 .4 .5 .3 .5 .3 .5 .3 .5 .3 .5 .3 .5 .2 .5 .2 .5 .2 .5 .2 .5 .2 .5 .1 .5 .1 .5 .2 .5 .1 .5 .1 .5 .1 .5 0 .5 .1 .5 .1 .5 0 .5 .1 .5 0" fill="none" stroke="#cfc832" stroke-width="1.1"/>
<path d="M456.5 320l.5 0 .5-.1 .5 0 .5-.1 .5-.1 .5-.1 .5-.1 .5-.1 .5-.2 .5-.2 .5-.3 .5-.2 .5-.4 .5-.4 .5-.4 .5-.5 .5-.6 .5-.6 .5-.7 .5-.7 .5-.9 .5-.9 .5-1 .5-1.1 .5-1.1 .5-1.2 .5-1.3 .5-1.3 .5-1.4 .5-1.4 .5-1.4 .5-1.4 .5-1.4 .5-1.4 .5-1.4 .5-1.3 .5-1.2 .5-1.2 .5-1 .5-.9 .5-.8 .5-.7 .5-.5 .5-.3 .5-.2 .5 0 .5 .2 .5 .3 .5 .5 .5 .7 .5 .8 .5 .9 .5 1.1 .5 1.1 .5 1.3 .5 1.3 .5 1.4 .5 1.4 .5 1.5 .5 1.4 .5 1.5 .5 1.4 .5 1.4 .5 1.4 .5 1.3 .5 1.2 .5 1.2 .5 1.1 .5 1.1 .5 .9 .5 .9 .5 .8 .5 .8 .5 .6 .5 .6 .5 .6 .5 .4 .5 .5 .5 .3 .5 .4 .5 .2 .5 .3 .5 .2 .5 .2 .5 .1 .5 .2 .5 .1 .5 .2 .5 .2 .5 .1 .5 .2 L502.0 322.0 L501.5 321.8 L501.0 321.7 L500.5 321.6 L500.0 321.5 L499.5 321.5 L499.0 321.5 L498.5 321.4 L498.0 321.4 L497.5 321.4 L497.0 321.4 L496.5 321.4 L496.0 321.4 L495.5 321.4 L495.0 321.3 L494.5 321.3 L494.0 321.3 L493.5 321.3 L493.0 321.3 L492.5 321.2 L492.0 321.2 L491.5 321.2 L491.0 321.2 L490.5 321.2 L490.0 321.2 L489.5 321.1 L489.0 321.1 L488.5 321.1 L488.0 321.1 L487.5 321.1 L487.0 321.1 L486.5 321.1 L486.0 321.0 L485.5 321.0 L485.0 321.0 L484.5 321.0 L484.0 321.0 L483.5 320.9 L483.0 320.9 L482.5 320.9 L482.0 320.9 L481.5 320.9 L481.0 320.9 L480.5 320.9 L480.0 320.8 L479.5 320.8 L479.0 320.8 L478.5 320.8 L478.0 320.8 L477.5 320.8 L477.0 320.7 L476.5 320.7 L476.0 320.7 L475.5 320.7 L475.0 320.7 L474.5 320.6 L474.0 320.6 L473.5 320.6 L473.0 320.6 L472.5 320.6 L472.0 320.6 L471.5 320.6 L471.0 320.5 L470.5 320.5 L470.0 320.5 L469.5 320.5 L469.0 320.5 L468.5 320.5 L468.0 320.5 L467.5 320.4 L467.0 320.4 L466.5 320.4 L466.0 320.4 L465.5 320.4 L465.0 320.4 L464.5 320.4 L464.0 320.4 L463.5 320.3 L463.0 320.3 L462.5 320.3 L462.0 320.3 L461.5 320.3 L461.0 320.3 L460.5 320.3 L460.0 320.3 L459.5 320.3 L459.0 320.2 L458.5 320.2 L458.0 320.2 L457.5 320.2 L457.0 320.2 L456.5 320.2 Z" fill="url(#gb)" stroke="none"/>
<path d="M456.5 320l.5 0 .5-.1 .5 0 .5-.1 .5-.1 .5-.1 .5-.1 .5-.1 .5-.2 .5-.2 .5-.3 .5-.2 .5-.4 .5-.4 .5-.4 .5-.5 .5-.6 .5-.6 .5-.7 .5-.7 .5-.9 .5-.9 .5-1 .5-1.1 .5-1.1 .5-1.2 .5-1.3 .5-1.3 .5-1.4 .5-1.4 .5-1.4 .5-1.4 .5-1.4 .5-1.4 .5-1.4 .5-1.3 .5-1.2 .5-1.2 .5-1 .5-.9 .5-.8 .5-.7 .5-.5 .5-.3 .5-.2 .5 0 .5 .2 .5 .3 .5 .5 .5 .7 .5 .8 .5 .9 .5 1.1 .5 1.1 .5 1.3 .5 1.3 .5 1.4 .5 1.4 .5 1.5 .5 1.4 .5 1.5 .5 1.4 .5 1.4 .5 1.4 .5 1.3 .5 1.2 .5 1.2 .5 1.1 .5 1.1 .5 .9 .5 .9 .5 .8 .5 .8 .5 .6 .5 .6 .5 .6 .5 .4 .5 .5 .5 .3 .5 .4 .5 .2 .5 .3 .5 .2 .5 .2 .5 .1 .5 .2 .5 .1 .5 .2 .5 .2 .5 .1 .5 .2" fill="none" stroke="#3a4ab0" stroke-width="1.1"/>
<path d="M470 320.3l.5 0 .5 0 .5 0 .5-.1 .5 0 .5-.1 .5-.1 .5-.1 .5-.1 .5-.1 .5-.2 .5-.1 .5-.2 .5-.2 .5-.3 .5-.2 .5-.3 .5-.3 .5-.3 .5-.4 .5-.3 .5-.4 .5-.4 .5-.4 .5-.4 .5-.4 .5-.5 .5-.4 .5-.4 .5-.4 .5-.4 .5-.3 .5-.4 .5-.3 .5-.2 .5-.2 .5-.2 .5-.1 .5-.1 .5 0 .5 0 .5 .1 .5 .1 .5 .2 .5 .3 .5 .2 .5 .3 .5 .4 .5 .4 .5 .4 .5 .4 .5 .4 .5 .5 .5 .4 .5 .5 .5 .5 .5 .4 .5 .4 .5 .5 .5 .4 .5 .4 .5 .5 .5 .4 .5 .5 .5 .4 .5 .3 .5 .4 .5 .3 .5 .3 .5 .3 .5 .3 .5 .2 .5 .2 .5 0 .5-.1 .5-.1 .5-.1 .5-.1 .5-.1 .5-.2 L510.0 321.8 L509.5 322.0 L509.0 322.1 L508.5 322.3 L508.0 322.5 L507.5 322.7 L507.0 322.8 L506.5 323.0 L506.0 322.9 L505.5 322.8 L505.0 322.7 L504.5 322.5 L504.0 322.4 L503.5 322.3 L503.0 322.2 L502.5 322.1 L502.0 322.0 L501.5 321.8 L501.0 321.7 L500.5 321.6 L500.0 321.5 L499.5 321.5 L499.0 321.5 L498.5 321.4 L498.0 321.4 L497.5 321.4 L497.0 321.4 L496.5 321.4 L496.0 321.4 L495.5 321.4 L495.0 321.3 L494.5 321.3 L494.0 321.3 L493.5 321.3 L493.0 321.3 L492.5 321.2 L492.0 321.2 L491.5 321.2 L491.0 321.2 L490.5 321.2 L490.0 321.2 L489.5 321.1 L489.0 321.1 L488.5 321.1 L488.0 321.1 L487.5 321.1 L487.0 321.1 L486.5 321.1 L486.0 321.0 L485.5 321.0 L485.0 321.0 L484.5 321.0 L484.0 321.0 L483.5 320.9 L483.0 320.9 L482.5 320.9 L482.0 320.9 L481.5 320.9 L481.0 320.9 L480.5 320.9 L480.0 320.8 L479.5 320.8 L479.0 320.8 L478.5 320.8 L478.0 320.8 L477.5 320.8 L477.0 320.7 L476.5 320.7 L476.0 320.7 L475.5 320.7 L475.0 320.7 L474.5 320.6 L474.0 320.6 L473.5 320.6 L473.0 320.6 L472.5 320.6 L472.0 320.6 L471.5 320.6 L471.0 320.5 L470.5 320.5 L470.0 320.5 Z" fill="url(#gc)" stroke="none"/>
<path d="M470 320.3l.5 0 .5 0 .5 0 .5-.1 .5 0 .5-.1 .5-.1 .5-.1 .5-.1 .5-.1 .5-.2 .5-.1 .5-.2 .5-.2 .5-.3 .5-.2 .5-.3 .5-.3 .5-.3 .5-.4 .5-.3 .5-.4 .5-.4 .5-.4 .5-.4 .5-.4 .5-.5 .5-.4 .5-.4 .5-.4 .5-.4 .5-.3 .5-.4 .5-.3 .5-.2 .5-.2 .5-.2 .5-.1 .5-.1 .5 0 .5 0 .5 .1 .5 .1 .5 .2 .5 .3 .5 .2 .5 .3 .5 .4 .5 .4 .5 .4 .5 .4 .5 .4 .5 .5 .5 .4 .5 .5 .5 .5 .5 .4 .5 .4 .5 .5 .5 .4 .5 .4 .5 .5 .5 .4 .5 .5 .5 .4 .5 .3 .5 .4 .5 .3 .5 .3 .5 .3 .5 .3 .5 .2 .5 .2 .5 0 .5-.1 .5-.1 .5-.1 .5-.1 .5-.1 .5-.2" fill="none" stroke="#1ea8c0" stroke-width="1.1"/>
<path d="M394.5 317.1l.5 .1 .5 .1 .5 .1 .5 .1 .5 0 .5 .1 .5 .1 .5 .1 .5 .1 .5 .1 .5 .1 .5 .1 .5 .1 .5 .1 .5 0 .5 .1 .5 .1 .5 0 .5 0 .5 .1 .5 0 .5 .1 .5 0 .5 0 .5 .1 .5 0 .5 .1 .5 0 .5 0 .5 .1 .5 0 .5 .1 .5 0 .5 0 .5 .1 .5 0 .5 .1 .5 0 .5 0 .5 .1 .5 0 .5 .1 .5 0 .5 0 .5 .1 .5 0 .5 .1 .5 0 .5 0 .5 0 .5-.1 .5 0 .5 0 .5-.1 .5 0 .5 0 .5 0 .5-.1 .5 0 .5 0 .5-.1 .5 0 .5 0 .5 0 .5 0 .5 0 .5 .1 .5 0 .5 0 .5 0 .5 0 .5 0 .5 0 .5 .1 .5 0 .5 0 .5 0 .5 0 .5 0 .5 0 .5 .1 .5 0 .5 0 .5 0 .5 0 .5 0 .5 0 .5 .1 .5 0 .5 0 .5 0 .5 0 .5 0 .5 0 .5 0 .5 .1 .5 0 .5 0 .5 0 .5 0 .5 0 .5 0 .5 0 .5 .1 .5 0 .5 0 .5 0 .5 0 .5 0 .5 0 .5 0 .5 0 .5 .1 .5 0 .5 0 .5 0 .5 0 .5 0 .5 0 .5 0 .5 .1 .5 0 .5 0 .5 0 .5 0 .5 0 .5 0 .5 0 .5 0 .5 .1 .5 0 .5 0 .5 0 .5 0 .5 0 .5 0 .5 0 .5 0 .5 .1 .5 0 .5 0 .5 0 .5 0 .5 0 .5 0 .5 0 .5 .1 .5 0 .5 0 .5 0 .5 0 .5 0 .5 0 .5 .1 .5 0 .5 0 .5 0 .5 0 .5 0 .5 0 .5 .1 .5 0 .5 0 .5 0 .5 0 .5 .1 .5 0 .5 0 .5 0 .5 0 .5 0 .5 0 .5 .1 .5 0 .5 0 .5 0 .5 0 .5 .1 .5 0 .5 0 .5 0 .5 0 .5 0 .5 0 .5 .1 .5 0 .5 0 .5 0 .5 0 .5 .1 .5 0 .5 0 .5 0 .5 0 .5 0 .5 0 .5 .1 .5 0 .5 0 .5 0 .5 0 .5 .1 .5 0 .5 0 .5 0 .5 0 .5 0 .5 0 .5 .1 .5 0 .5 0 .5 .1 .5 .1 .5 .1 .5 .2 .5 .1 .5 .1 .5 .1 .5 .1 .5 .1 .5 .2 .5 .1 .5 .1 .5 .1 .5-.2 .5-.1 .5-.2 .5-.2 .5-.2 .5-.1 .5-.2 .5-.2 .5-.1 .5-.2 .5-.2 .5-.1 .5-.2 .5-.2 .5-.2 .5-.1 .5-.1 .5-.1 .5 0 .5-.1 .5 0 .5-.1 .5 0 .5-.1 .5 0 .5-.1 .5 0 .5-.1 .5 0 .5-.1 .5 0 .5-.1 .5 0 .5-.1 .5 0 .5-.1" fill="none" stroke="#111" stroke-width="1.1"/>
<path d="M394.5 317.1l.5 .1 .5 .1 .5 .1 .5 .1 .5 0 .5 .1 .5 .1 .5 .1 .5 .1 .5 .1 .5 .1 .5 .1 .5 .1 .5 .1 .5 0 .5 .1 .5 .1 .5 0 .5 0 .5 .1 .5 0 .5 .1 .5 0 .5 0 .5 .1 .5 0 .5 .1 .5 0 .5 0 .5 .1 .5 0 .5 .1 .5 0 .5 0 .5 .1 .5 0 .5 .1 .5 0 .5 0 .5 .1 .5 0 .5 .1 .5 0 .5 0 .5 .1 .5 0 .5 .1 .5 0 .5 0 .5-.1 .5 0 .5 0 .5 0 .5-.1 .5 0 .5 0 .5-.1 .5 0 .5 0 .5-.1 .5 0 .5-.1 .5 0 .5 0 .5-.1 .5 0 .5 0 .5-.1 .5-.1 .5-.1 .5-.1 .5-.1 .5-.1 .5-.8 .5-.1 .5-.2 .5-.2 .5-.2 .5-.2 .5-.2 .5-.2 .5-.1 .5-.2 .5-.2 .5-.1 .5-.1 .5-.1 .5 0 .5 0 .5 0 .5 .1 .5 0 .5 0 .5 0 .5 0 .5 0 .5-.1 .5 0 .5 0 .5-.1 .5-.1 .5-.1 .5-.2 .5-.1 .5-.2 .5-.1 .5-.2 .5-.2 .5-.2 .5-.2 .5-.2 .5-.2 .5-.2 .5-.3 .5-.2 .5-.3 .5-.2 .5-.3 .5-.3 .5-.4 .5-.4 .5-.4 .5-.4 .5-.5 .5-.6 .5-.5 .5-.6 .5-.6 .5-.7 .5-.7 .5-.7 .5-.7 .5-.7 .5-.8 .5-.8 .5-.8 .5-.8 .5-.8 .5-.9 .5-.9 .5-.9 .5-.9 .5-1 .5-1 .5-1 .5-1 .5-1.1 .5-1.1 .5-1 .5-1.1 .5-1.1 .5-1 .5-1.1 .5-.9 .5-1 .5-.9 .5-.8 .5-.7 .5-.7 .5-.6 .5-.4 .5-.5 .5-.3 .5-.2 .5-.2 .5-.1 .5 0 .5 0 .5 .1 .5 .2 .5 .2 .5 .3 .5 .3 .5 .4 .5 .4 .5 .5 .5 .5 .5 .6 .5 .7 .5 .7 .5 .8 .5 .9 .5 .9 .5 1 .5 1.1 .5 1.1 .5 1.2 .5 1.2 .5 1.3 .5 1.2 .5 1.3 .5 1.3 .5 1.3 .5 1.2 .5 1.2 .5 1.2 .5 1 .5 1 .5 1 .5 .9 .5 .8 .5 .7 .5 .7 .5 .7 .5 .7 .5 .6 .5 .7 .5 .6 .5 .7 .5 .7 .5 .8 .5 .9 .5 .9 .5 .9 .5 1 .5 .9 .5 1 .5 .9 .5 .9 .5 .8 .5 .6 .5 .9 .5 .2 .5 .2 .5 0 .5-.1 .5-.1 .5-.1 .5-.1 .5-.1 .5-.2 .5-.1 .5-.2 .5-.1 .5-.2 .5-.1 .5-.2 .5-.1 .5-.2 .5-.2 .5 0 .5-.1 .5 0 .5-.1 .5 0 .5-.1 .5 0 .5-.1 .5 0 .5-.1 .5 0 .5-.1 .5 0 .5-.1 .5 0 .5-.1 .5 0 .5-.1 .5 0 .5-.1" fill="none" stroke="#a8a8a8" stroke-opacity="0.55" stroke-width="4.5" stroke-linejoin="round"/>
<path d="M394.5 317.1l.5 .1 .5 .1 .5 .1 .5 .1 .5 0 .5 .1 .5 .1 .5 .1 .5 .1 .5 .1 .5 .1 .5 .1 .5 .1 .5 .1 .5 0 .5 .1 .5 .1 .5 0 .5 0 .5 .1 .5 0 .5 .1 .5 0 .5 0 .5 .1 .5 0 .5 .1 .5 0 .5 0 .5 .1 .5 0 .5 .1 .5 0 .5 0 .5 .1 .5 0 .5 .1 .5 0 .5 0 .5 .1 .5 0 .5 .1 .5 0 .5 0 .5 .1 .5 0 .5 .1 .5 0 .5 0 .5-.1 .5 0 .5 0 .5 0 .5-.1 .5 0 .5 0 .5-.1 .5 0 .5 0 .5-.1 .5 0 .5-.1 .5 0 .5 0 .5-.1 .5 0 .5 0 .5-.1 .5-.1 .5-.1 .5-.1 .5-.1 .5-.1 .5-.8 .5-.1 .5-.2 .5-.2 .5-.2 .5-.2 .5-.2 .5-.2 .5-.1 .5-.2 .5-.2 .5-.1 .5-.1 .5-.1 .5 0 .5 0 .5 0 .5 .1 .5 0 .5 0 .5 0 .5 0 .5 0 .5-.1 .5 0 .5 0 .5-.1 .5-.1 .5-.1 .5-.2 .5-.1 .5-.2 .5-.1 .5-.2 .5-.2 .5-.2 .5-.2 .5-.2 .5-.2 .5-.2 .5-.3 .5-.2 .5-.3 .5-.2 .5-.3 .5-.3 .5-.4 .5-.4 .5-.4 .5-.4 .5-.5 .5-.6 .5-.5 .5-.6 .5-.6 .5-.7 .5-.7 .5-.7 .5-.7 .5-.7 .5-.8 .5-.8 .5-.8 .5-.8 .5-.8 .5-.9 .5-.9 .5-.9 .5-.9 .5-1 .5-1 .5-1 .5-1 .5-1.1 .5-1.1 .5-1 .5-1.1 .5-1.1 .5-1 .5-1.1 .5-.9 .5-1 .5-.9 .5-.8 .5-.7 .5-.7 .5-.6 .5-.4 .5-.5 .5-.3 .5-.2 .5-.2 .5-.1 .5 0 .5 0 .5 .1 .5 .2 .5 .2 .5 .3 .5 .3 .5 .4 .5 .4 .5 .5 .5 .5 .5 .6 .5 .7 .5 .7 .5 .8 .5 .9 .5 .9 .5 1 .5 1.1 .5 1.1 .5 1.2 .5 1.2 .5 1.3 .5 1.2 .5 1.3 .5 1.3 .5 1.3 .5 1.2 .5 1.2 .5 1.2 .5 1 .5 1 .5 1 .5 .9 .5 .8 .5 .7 .5 .7 .5 .7 .5 .7 .5 .6 .5 .7 .5 .6 .5 .7 .5 .7 .5 .8 .5 .9 .5 .9 .5 .9 .5 1 .5 .9 .5 1 .5 .9 .5 .9 .5 .8 .5 .6 .5 .9 .5 .2 .5 .2 .5 0 .5-.1 .5-.1 .5-.1 .5-.1 .5-.1 .5-.2 .5-.1 .5-.2 .5-.1 .5-.2 .5-.1 .5-.2 .5-.1 .5-.2 .5-.2 .5 0 .5-.1 .5 0 .5-.1 .5 0 .5-.1 .5 0 .5-.1 .5 0 .5-.1 .5 0 .5-.1 .5 0 .5-.1 .5 0 .5-.1 .5 0 .5-.1 .5 0 .5-.1" fill="none" stroke="#000" stroke-width="1.6" stroke-linejoin="round"/>
<line x1="394.50" y1="376.20" x2="524.50" y2="376.20" stroke="#222" stroke-width="1.2"/>
<path d="M432 373.4l.5 0 .5-.1 .5 0 .5 0 .5 0 .5-.1 .5 0 .5-.1 .5 0 .5-.1 .5 0 .5-.1 .5-.1 .5 0 .5-.1 .5-.1 .5 0 .5-.1 .5-.1 .5 0 .5 0 .5-.1 .5 0 .5 0 .5 0 .5 0 .5 0 .5 .1 .5 0 .5 .1 .5 0 .5 .1 .5 .1 .5 .1 .5 .1 .5 .1 .5 .1 .5 .1 .5 .1 .5 .1 .5 .1 .5 .1 .5 0 .5 .1 .5 .1 .5 .1 .5 .1 .5 0 .5 .1 .5 .1 .5 0 .5 .1 L458.0 374.4 L457.5 374.4 L457.0 374.4 L456.5 374.4 L456.0 374.4 L455.5 374.3 L455.0 374.3 L454.5 374.3 L454.0 374.3 L453.5 374.3 L453.0 374.3 L452.5 374.2 L452.0 374.2 L451.5 374.2 L451.0 374.2 L450.5 374.2 L450.0 374.2 L449.5 374.1 L449.0 374.1 L448.5 374.1 L448.0 374.1 L447.5 374.1 L447.0 374.1 L446.5 374.0 L446.0 374.0 L445.5 374.0 L445.0 374.0 L444.5 374.0 L444.0 374.0 L443.5 373.9 L443.0 373.9 L442.5 373.9 L442.0 373.9 L441.5 373.9 L441.0 373.9 L440.5 373.8 L440.0 373.8 L439.5 373.8 L439.0 373.8 L438.5 373.8 L438.0 373.8 L437.5 373.7 L437.0 373.7 L436.5 373.7 L436.0 373.7 L435.5 373.7 L435.0 373.6 L434.5 373.6 L434.0 373.6 L433.5 373.6 L433.0 373.6 L432.5 373.6 L432.0 373.5 Z" fill="url(#gb)" stroke="none"/>
<path d="M432 373.4l.5 0 .5-.1 .5 0 .5 0 .5 0 .5-.1 .5 0 .5-.1 .5 0 .5-.1 .5 0 .5-.1 .5-.1 .5 0 .5-.1 .5-.1 .5 0 .5-.1 .5-.1 .5 0 .5 0 .5-.1 .5 0 .5 0 .5 0 .5 0 .5 0 .5 .1 .5 0 .5 .1 .5 0 .5 .1 .5 .1 .5 .1 .5 .1 .5 .1 .5 .1 .5 .1 .5 .1 .5 .1 .5 .1 .5 .1 .5 0 .5 .1 .5 .1 .5 .1 .5 .1 .5 0 .5 .1 .5 .1 .5 0 .5 .1" fill="none" stroke="#3a4ab0" stroke-width="1.1"/>
<path d="M439.5 373.6l.5 0 .5 0 .5 0 .5-.1 .5 0 .5 0 .5-.1 .5-.1 .5-.1 .5 0 .5-.1 .5-.2 .5-.1 .5-.2 .5-.1 .5-.2 .5-.2 .5-.2 .5-.3 .5-.2 .5-.3 .5-.3 .5-.3 .5-.4 .5-.3 .5-.4 .5-.3 .5-.4 .5-.4 .5-.4 .5-.4 .5-.4 .5-.3 .5-.4 .5-.4 .5-.3 .5-.3 .5-.3 .5-.3 .5-.2 .5-.2 .5-.2 .5-.1 .5-.1 .5-.1 .5 0 .5 0 .5 .1 .5 .1 .5 .2 .5 .1 .5 .3 .5 .2 .5 .3 .5 .3 .5 .4 .5 .3 .5 .4 .5 .4 .5 .4 .5 .4 .5 .5 .5 .4 .5 .4 .5 .4 .5 .4 .5 .4 .5 .3 .5 .4 .5 .3 .5 .4 .5 .3 .5 .3 .5 .3 .5 .2 .5 .2 .5 .3 .5 .2 .5 .1 .5 .2 .5 .2 .5 .1 .5 .1 .5 .1 .5 .1 .5 .1 .5 .1 .5 .1 .5 0 .5 .1 .5 0 .5 .1 L485.5 375.1 L485.0 375.1 L484.5 375.0 L484.0 375.0 L483.5 375.0 L483.0 375.0 L482.5 375.0 L482.0 375.0 L481.5 375.0 L481.0 375.0 L480.5 375.0 L480.0 375.0 L479.5 375.0 L479.0 374.9 L478.5 374.9 L478.0 374.9 L477.5 374.9 L477.0 374.9 L476.5 374.9 L476.0 374.9 L475.5 374.9 L475.0 374.9 L474.5 374.9 L474.0 374.9 L473.5 374.9 L473.0 374.9 L472.5 374.8 L472.0 374.8 L471.5 374.8 L471.0 374.8 L470.5 374.8 L470.0 374.8 L469.5 374.8 L469.0 374.8 L468.5 374.8 L468.0 374.7 L467.5 374.7 L467.0 374.7 L466.5 374.7 L466.0 374.7 L465.5 374.7 L465.0 374.6 L464.5 374.6 L464.0 374.6 L463.5 374.6 L463.0 374.6 L462.5 374.6 L462.0 374.5 L461.5 374.5 L461.0 374.5 L460.5 374.5 L460.0 374.5 L459.5 374.5 L459.0 374.4 L458.5 374.4 L458.0 374.4 L457.5 374.4 L457.0 374.4 L456.5 374.4 L456.0 374.4 L455.5 374.3 L455.0 374.3 L454.5 374.3 L454.0 374.3 L453.5 374.3 L453.0 374.3 L452.5 374.2 L452.0 374.2 L451.5 374.2 L451.0 374.2 L450.5 374.2 L450.0 374.2 L449.5 374.1 L449.0 374.1 L448.5 374.1 L448.0 374.1 L447.5 374.1 L447.0 374.1 L446.5 374.0 L446.0 374.0 L445.5 374.0 L445.0 374.0 L444.5 374.0 L444.0 374.0 L443.5 373.9 L443.0 373.9 L442.5 373.9 L442.0 373.9 L441.5 373.9 L441.0 373.9 L440.5 373.8 L440.0 373.8 L439.5 373.8 Z" fill="url(#gy)" stroke="none"/>
<path d="M439.5 373.6l.5 0 .5 0 .5 0 .5-.1 .5 0 .5 0 .5-.1 .5-.1 .5-.1 .5 0 .5-.1 .5-.2 .5-.1 .5-.2 .5-.1 .5-.2 .5-.2 .5-.2 .5-.3 .5-.2 .5-.3 .5-.3 .5-.3 .5-.4 .5-.3 .5-.4 .5-.3 .5-.4 .5-.4 .5-.4 .5-.4 .5-.4 .5-.3 .5-.4 .5-.4 .5-.3 .5-.3 .5-.3 .5-.3 .5-.2 .5-.2 .5-.2 .5-.1 .5-.1 .5-.1 .5 0 .5 0 .5 .1 .5 .1 .5 .2 .5 .1 .5 .3 .5 .2 .5 .3 .5 .3 .5 .4 .5 .3 .5 .4 .5 .4 .5 .4 .5 .4 .5 .5 .5 .4 .5 .4 .5 .4 .5 .4 .5 .4 .5 .3 .5 .4 .5 .3 .5 .4 .5 .3 .5 .3 .5 .3 .5 .2 .5 .2 .5 .3 .5 .2 .5 .1 .5 .2 .5 .2 .5 .1 .5 .1 .5 .1 .5 .1 .5 .1 .5 .1 .5 .1 .5 0 .5 .1 .5 0 .5 .1" fill="none" stroke="#cfc832" stroke-width="1.1"/>
<path d="M451.5 374l.5 0 .5 0 .5 0 .5-.1 .5 0 .5-.1 .5-.1 .5-.1 .5-.1 .5-.1 .5-.2 .5-.2 .5-.2 .5-.2 .5-.3 .5-.3 .5-.4 .5-.4 .5-.4 .5-.5 .5-.6 .5-.6 .5-.6 .5-.7 .5-.8 .5-.8 .5-.8 .5-.9 .5-1 .5-1 .5-1.1 .5-1.1 .5-1.1 .5-1.1 .5-1.2 .5-1.2 .5-1.1 .5-1.2 .5-1.2 .5-1.1 .5-1.1 .5-1 .5-1 .5-.9 .5-.8 .5-.7 .5-.6 .5-.6 .5-.4 .5-.3 .5-.1 .5-.1 .5 .1 .5 .2 .5 .3 .5 .4 .5 .5 .5 .7 .5 .7 .5 .9 .5 .9 .5 1 .5 1 .5 1.1 .5 1.1 .5 1.2 .5 1.2 .5 1.2 .5 1.2 .5 1.2 .5 1.2 .5 1.1 .5 1.1 .5 1.1 .5 1 .5 1 .5 1 .5 .8 .5 .9 .5 .8 .5 .7 .5 .7 .5 .6 .5 .5 .5 .6 .5 .4 .5 .4 .5 .4 .5 .4 .5 .3 .5 .2 .5 .3 .5 .2 .5 .2 .5 .1 .5 .2 .5 .1 .5 .1 .5 .1 .5 .1 .5 0 .5 .1 .5 0 .5 .1 L503.5 375.3 L503.0 375.3 L502.5 375.3 L502.0 375.3 L501.5 375.3 L501.0 375.3 L500.5 375.3 L500.0 375.3 L499.5 375.3 L499.0 375.3 L498.5 375.3 L498.0 375.3 L497.5 375.3 L497.0 375.2 L496.5 375.2 L496.0 375.2 L495.5 375.2 L495.0 375.2 L494.5 375.2 L494.0 375.2 L493.5 375.2 L493.0 375.2 L492.5 375.2 L492.0 375.2 L491.5 375.2 L491.0 375.2 L490.5 375.1 L490.0 375.1 L489.5 375.1 L489.0 375.1 L488.5 375.1 L488.0 375.1 L487.5 375.1 L487.0 375.1 L486.5 375.1 L486.0 375.1 L485.5 375.1 L485.0 375.1 L484.5 375.0 L484.0 375.0 L483.5 375.0 L483.0 375.0 L482.5 375.0 L482.0 375.0 L481.5 375.0 L481.0 375.0 L480.5 375.0 L480.0 375.0 L479.5 375.0 L479.0 374.9 L478.5 374.9 L478.0 374.9 L477.5 374.9 L477.0 374.9 L476.5 374.9 L476.0 374.9 L475.5 374.9 L475.0 374.9 L474.5 374.9 L474.0 374.9 L473.5 374.9 L473.0 374.9 L472.5 374.8 L472.0 374.8 L471.5 374.8 L471.0 374.8 L470.5 374.8 L470.0 374.8 L469.5 374.8 L469.0 374.8 L468.5 374.8 L468.0 374.7 L467.5 374.7 L467.0 374.7 L466.5 374.7 L466.0 374.7 L465.5 374.7 L465.0 374.6 L464.5 374.6 L464.0 374.6 L463.5 374.6 L463.0 374.6 L462.5 374.6 L462.0 374.5 L461.5 374.5 L461.0 374.5 L460.5 374.5 L460.0 374.5 L459.5 374.5 L459.0 374.4 L458.5 374.4 L458.0 374.4 L457.5 374.4 L457.0 374.4 L456.5 374.4 L456.0 374.4 L455.5 374.3 L455.0 374.3 L454.5 374.3 L454.0 374.3 L453.5 374.3 L453.0 374.3 L452.5 374.2 L452.0 374.2 L451.5 374.2 Z" fill="url(#gb)" stroke="none"/>
<path d="M451.5 374l.5 0 .5 0 .5 0 .5-.1 .5 0 .5-.1 .5-.1 .5-.1 .5-.1 .5-.1 .5-.2 .5-.2 .5-.2 .5-.2 .5-.3 .5-.3 .5-.4 .5-.4 .5-.4 .5-.5 .5-.6 .5-.6 .5-.6 .5-.7 .5-.8 .5-.8 .5-.8 .5-.9 .5-1 .5-1 .5-1.1 .5-1.1 .5-1.1 .5-1.1 .5-1.2 .5-1.2 .5-1.1 .5-1.2 .5-1.2 .5-1.1 .5-1.1 .5-1 .5-1 .5-.9 .5-.8 .5-.7 .5-.6 .5-.6 .5-.4 .5-.3 .5-.1 .5-.1 .5 .1 .5 .2 .5 .3 .5 .4 .5 .5 .5 .7 .5 .7 .5 .9 .5 .9 .5 1 .5 1 .5 1.1 .5 1.1 .5 1.2 .5 1.2 .5 1.2 .5 1.2 .5 1.2 .5 1.2 .5 1.1 .5 1.1 .5 1.1 .5 1 .5 1 .5 1 .5 .8 .5 .9 .5 .8 .5 .7 .5 .7 .5 .6 .5 .5 .5 .6 .5 .4 .5 .4 .5 .4 .5 .4 .5 .3 .5 .2 .5 .3 .5 .2 .5 .2 .5 .1 .5 .2 .5 .1 .5 .1 .5 .1 .5 .1 .5 0 .5 .1 .5 0 .5 .1" fill="none" stroke="#3a4ab0" stroke-width="1.1"/>
<path d="M471 374.6l.5 0 .5 0 .5-.1 .5-.1 .5 0 .5-.1 .5-.1 .5-.2 .5-.1 .5-.2 .5-.2 .5-.2 .5-.3 .5-.3 .5-.3 .5-.3 .5-.4 .5-.4 .5-.5 .5-.5 .5-.5 .5-.5 .5-.6 .5-.6 .5-.6 .5-.7 .5-.6 .5-.7 .5-.6 .5-.7 .5-.6 .5-.6 .5-.5 .5-.6 .5-.4 .5-.5 .5-.3 .5-.3 .5-.3 .5-.1 .5-.1 .5 0 .5 .1 .5 .1 .5 .3 .5 .3 .5 .3 .5 .5 .5 .5 .5 .5 .5 .6 .5 .6 .5 .6 .5 .7 .5 .6 .5 .7 .5 .7 .5 .6 .5 .7 .5 .6 .5 .6 .5 .5 .5 .6 .5 .5 .5 .5 .5 .4 .5 .4 .5 .4 .5 .3 .5 .3 .5 .3 .5 .2 .5 .3 .5 .1 .5 .2 .5 .2 .5 .1 .5 .1 .5 .1 .5 .1 .5 0 .5 .1 .5 .1 .5 0 L513.0 375.5 L512.5 375.5 L512.0 375.4 L511.5 375.4 L511.0 375.4 L510.5 375.4 L510.0 375.4 L509.5 375.4 L509.0 375.4 L508.5 375.4 L508.0 375.4 L507.5 375.4 L507.0 375.4 L506.5 375.4 L506.0 375.4 L505.5 375.4 L505.0 375.4 L504.5 375.4 L504.0 375.3 L503.5 375.3 L503.0 375.3 L502.5 375.3 L502.0 375.3 L501.5 375.3 L501.0 375.3 L500.5 375.3 L500.0 375.3 L499.5 375.3 L499.0 375.3 L498.5 375.3 L498.0 375.3 L497.5 375.3 L497.0 375.2 L496.5 375.2 L496.0 375.2 L495.5 375.2 L495.0 375.2 L494.5 375.2 L494.0 375.2 L493.5 375.2 L493.0 375.2 L492.5 375.2 L492.0 375.2 L491.5 375.2 L491.0 375.2 L490.5 375.1 L490.0 375.1 L489.5 375.1 L489.0 375.1 L488.5 375.1 L488.0 375.1 L487.5 375.1 L487.0 375.1 L486.5 375.1 L486.0 375.1 L485.5 375.1 L485.0 375.1 L484.5 375.0 L484.0 375.0 L483.5 375.0 L483.0 375.0 L482.5 375.0 L482.0 375.0 L481.5 375.0 L481.0 375.0 L480.5 375.0 L480.0 375.0 L479.5 375.0 L479.0 374.9 L478.5 374.9 L478.0 374.9 L477.5 374.9 L477.0 374.9 L476.5 374.9 L476.0 374.9 L475.5 374.9 L475.0 374.9 L474.5 374.9 L474.0 374.9 L473.5 374.9 L473.0 374.9 L472.5 374.8 L472.0 374.8 L471.5 374.8 L471.0 374.8 Z" fill="url(#gc)" stroke="none"/>
<path d="M471 374.6l.5 0 .5 0 .5-.1 .5-.1 .5 0 .5-.1 .5-.1 .5-.2 .5-.1 .5-.2 .5-.2 .5-.2 .5-.3 .5-.3 .5-.3 .5-.3 .5-.4 .5-.4 .5-.5 .5-.5 .5-.5 .5-.5 .5-.6 .5-.6 .5-.6 .5-.7 .5-.6 .5-.7 .5-.6 .5-.7 .5-.6 .5-.6 .5-.5 .5-.6 .5-.4 .5-.5 .5-.3 .5-.3 .5-.3 .5-.1 .5-.1 .5 0 .5 .1 .5 .1 .5 .3 .5 .3 .5 .3 .5 .5 .5 .5 .5 .5 .5 .6 .5 .6 .5 .6 .5 .7 .5 .6 .5 .7 .5 .7 .5 .6 .5 .7 .5 .6 .5 .6 .5 .5 .5 .6 .5 .5 .5 .5 .5 .4 .5 .4 .5 .4 .5 .3 .5 .3 .5 .3 .5 .2 .5 .3 .5 .1 .5 .2 .5 .2 .5 .1 .5 .1 .5 .1 .5 .1 .5 0 .5 .1 .5 .1 .5 0" fill="none" stroke="#1ea8c0" stroke-width="1.1"/>
<path d="M394.5 374.2l.5 0 .5 0 .5 0 .5 0 .5 0 .5-.1 .5 0 .5 0 .5 0 .5 0 .5 0 .5 0 .5 0 .5 0 .5 0 .5-.1 .5 0 .5 0 .5 0 .5 0 .5 0 .5 0 .5 0 .5 0 .5 0 .5 0 .5-.1 .5 0 .5 0 .5 0 .5 0 .5 0 .5 0 .5 0 .5 0 .5 0 .5-.1 .5 0 .5 0 .5 0 .5 0 .5 0 .5 0 .5 0 .5 0 .5 0 .5-.1 .5 0 .5 0 .5 0 .5 0 .5 0 .5 0 .5 0 .5 0 .5 0 .5 0 .5-.1 .5 0 .5 0 .5 0 .5 0 .5 0 .5 0 .5 0 .5 0 .5 0 .5-.1 .5 0 .5 0 .5 0 .5 0 .5 0 .5 0 .5 0 .5 .1 .5 0 .5 0 .5 0 .5 0 .5 0 .5 .1 .5 0 .5 0 .5 0 .5 0 .5 .1 .5 0 .5 0 .5 0 .5 0 .5 0 .5 .1 .5 0 .5 0 .5 0 .5 0 .5 0 .5 .1 .5 0 .5 0 .5 0 .5 0 .5 0 .5 .1 .5 0 .5 0 .5 0 .5 0 .5 0 .5 .1 .5 0 .5 0 .5 0 .5 0 .5 0 .5 .1 .5 0 .5 0 .5 0 .5 0 .5 0 .5 .1 .5 0 .5 0 .5 0 .5 0 .5 0 .5 0 .5 .1 .5 0 .5 0 .5 0 .5 0 .5 0 .5 .1 .5 0 .5 0 .5 0 .5 0 .5 0 .5 .1 .5 0 .5 0 .5 0 .5 0 .5 0 .5 .1 .5 0 .5 0 .5 0 .5 0 .5 0 .5 0 .5 0 .5 0 .5 0 .5 .1 .5 0 .5 0 .5 0 .5 0 .5 0 .5 0 .5 0 .5 0 .5 0 .5 0 .5 .1 .5 0 .5 0 .5 0 .5 0 .5 0 .5 0 .5 0 .5 0 .5 0 .5 0 .5 0 .5 0 .5 .1 .5 0 .5 0 .5 0 .5 0 .5 0 .5 0 .5 0 .5 0 .5 0 .5 0 .5 .1 .5 0 .5 0 .5 0 .5 0 .5 0 .5 0 .5 0 .5 0 .5 0 .5 0 .5 0 .5 0 .5 .1 .5 0 .5 0 .5 0 .5 0 .5 0 .5 0 .5 0 .5 0 .5 0 .5 0 .5 0 .5 0 .5 0 .5 .1 .5 0 .5 0 .5 0 .5 0 .5 0 .5 0 .5 0 .5 0 .5 0 .5 0 .5 0 .5 0 .5 0 .5 0 .5 0 .5 .1 .5 0 .5 0 .5 0 .5 0 .5 0 .5 0 .5 0 .5 0 .5 0 .5 0 .5 0 .5 0 .5 0 .5 0 .5 0 .5 .1 .5 0 .5 0 .5 0 .5 0 .5 0 .5 0 .5 0 .5 0" fill="none" stroke="#111" stroke-width="1.1"/>
<path d="M394.5 374.2l.5 0 .5 0 .5 0 .5 0 .5 0 .5-.1 .5 0 .5 0 .5 0 .5 0 .5 0 .5 0 .5 0 .5 0 .5 0 .5-.1 .5 0 .5 0 .5 0 .5 0 .5 0 .5 0 .5 0 .5 0 .5 0 .5-.1 .5 0 .5 0 .5 0 .5 0 .5 0 .5 0 .5 0 .5 0 .5 0 .5 0 .5-.1 .5 0 .5 0 .5 0 .5 0 .5 0 .5 0 .5 0 .5 0 .5 0 .5-.1 .5 0 .5 0 .5 0 .5 0 .5 0 .5 0 .5 0 .5 0 .5 0 .5-.1 .5 0 .5 0 .5 0 .5 0 .5 0 .5 0 .5 0 .5 0 .5-.1 .5 0 .5 0 .5 0 .5 0 .5-.1 .5 0 .5 0 .5 0 .5 0 .5 0 .5-.1 .5 0 .5 0 .5 0 .5-.1 .5 0 .5-.1 .5 0 .5-.1 .5-.1 .5-.1 .5-.1 .5-.5 .5-.1 .5-.1 .5 0 .5-.1 .5-.1 .5 0 .5 0 .5-.1 .5-.2 .5-.1 .5-.1 .5-.1 .5-.2 .5-.1 .5-.2 .5-.2 .5-.2 .5-.2 .5-.2 .5-.3 .5-.3 .5-.3 .5-.4 .5-.4 .5-.4 .5-.5 .5-.5 .5-.6 .5-.5 .5-.6 .5-.6 .5-.6 .5-.6 .5-.6 .5-.6 .5-.7 .5-.6 .5-.6 .5-.6 .5-.6 .5-.6 .5-.7 .5-.7 .5-.7 .5-.7 .5-.8 .5-.7 .5-.9 .5-.8 .5-.9 .5-1 .5-.9 .5-.9 .5-1 .5-.9 .5-1 .5-.8 .5-.9 .5-.9 .5-.8 .5-.7 .5-.7 .5-.7 .5-.7 .5-.6 .5-.6 .5-.5 .5-.5 .5-.4 .5-.5 .5-.3 .5-.3 .5-.3 .5-.2 .5-.1 .5-.1 .5 0 .5 0 .5 .1 .5 .2 .5 .3 .5 .3 .5 .3 .5 .4 .5 .5 .5 .4 .5 .5 .5 .5 .5 .5 .5 .5 .5 .5 .5 .6 .5 .5 .5 .5 .5 .5 .5 .5 .5 .6 .5 .5 .5 .6 .5 .6 .5 .7 .5 .7 .5 .8 .5 .8 .5 .8 .5 .9 .5 .9 .5 1 .5 1 .5 1 .5 .9 .5 1 .5 1 .5 1 .5 .9 .5 .9 .5 .8 .5 .9 .5 .7 .5 .8 .5 .7 .5 .7 .5 .7 .5 .6 .5 .7 .5 .6 .5 .6 .5 .6 .5 .6 .5 .5 .5 .6 .5 .5 .5 .6 .5 .5 .5 .4 .5 .5 .5 .4 .5 .4 .5 .3 .5 .3 .5 .3 .5 .3 .5 .2 .5 .2 .5 .1 .5 .2 .5 .1 .5 .1 .5 .1 .5 0 .5 .1 .5 .1 .5 0 .5 .1 .5 0 .5 0 .5 .1 .5 0 .5 0 .5 0 .5 .1 .5 0 .5 0 .5 0 .5 0 .5 0 .5 .1 .5 0 .5 0 .5 0 .5 0" fill="none" stroke="#a8a8a8" stroke-opacity="0.55" stroke-width="4.5" stroke-linejoin="round"/>
<path d="M394.5 374.2l.5 0 .5 0 .5 0 .5 0 .5 0 .5-.1 .5 0 .5 0 .5 0 .5 0 .5 0 .5 0 .5 0 .5 0 .5 0 .5-.1 .5 0 .5 0 .5 0 .5 0 .5 0 .5 0 .5 0 .5 0 .5 0 .5-.1 .5 0 .5 0 .5 0 .5 0 .5 0 .5 0 .5 0 .5 0 .5 0 .5 0 .5-.1 .5 0 .5 0 .5 0 .5 0 .5 0 .5 0 .5 0 .5 0 .5 0 .5-.1 .5 0 .5 0 .5 0 .5 0 .5 0 .5 0 .5 0 .5 0 .5 0 .5-.1 .5 0 .5 0 .5 0 .5 0 .5 0 .5 0 .5 0 .5 0 .5-.1 .5 0 .5 0 .5 0 .5 0 .5-.1 .5 0 .5 0 .5 0 .5 0 .5 0 .5-.1 .5 0 .5 0 .5 0 .5-.1 .5 0 .5-.1 .5 0 .5-.1 .5-.1 .5-.1 .5-.1 .5-.5 .5-.1 .5-.1 .5 0 .5-.1 .5-.1 .5 0 .5 0 .5-.1 .5-.2 .5-.1 .5-.1 .5-.1 .5-.2 .5-.1 .5-.2 .5-.2 .5-.2 .5-.2 .5-.2 .5-.3 .5-.3 .5-.3 .5-.4 .5-.4 .5-.4 .5-.5 .5-.5 .5-.6 .5-.5 .5-.6 .5-.6 .5-.6 .5-.6 .5-.6 .5-.6 .5-.7 .5-.6 .5-.6 .5-.6 .5-.6 .5-.6 .5-.7 .5-.7 .5-.7 .5-.7 .5-.8 .5-.7 .5-.9 .5-.8 .5-.9 .5-1 .5-.9 .5-.9 .5-1 .5-.9 .5-1 .5-.8 .5-.9 .5-.9 .5-.8 .5-.7 .5-.7 .5-.7 .5-.7 .5-.6 .5-.6 .5-.5 .5-.5 .5-.4 .5-.5 .5-.3 .5-.3 .5-.3 .5-.2 .5-.1 .5-.1 .5 0 .5 0 .5 .1 .5 .2 .5 .3 .5 .3 .5 .3 .5 .4 .5 .5 .5 .4 .5 .5 .5 .5 .5 .5 .5 .5 .5 .5 .5 .6 .5 .5 .5 .5 .5 .5 .5 .5 .5 .6 .5 .5 .5 .6 .5 .6 .5 .7 .5 .7 .5 .8 .5 .8 .5 .8 .5 .9 .5 .9 .5 1 .5 1 .5 1 .5 .9 .5 1 .5 1 .5 1 .5 .9 .5 .9 .5 .8 .5 .9 .5 .7 .5 .8 .5 .7 .5 .7 .5 .7 .5 .6 .5 .7 .5 .6 .5 .6 .5 .6 .5 .6 .5 .5 .5 .6 .5 .5 .5 .6 .5 .5 .5 .4 .5 .5 .5 .4 .5 .4 .5 .3 .5 .3 .5 .3 .5 .3 .5 .2 .5 .2 .5 .1 .5 .2 .5 .1 .5 .1 .5 .1 .5 0 .5 .1 .5 .1 .5 0 .5 .1 .5 0 .5 0 .5 .1 .5 0 .5 0 .5 0 .5 .1 .5 0 .5 0 .5 0 .5 0 .5 0 .5 .1 .5 0 .5 0 .5 0 .5 0" fill="none" stroke="#000" stroke-width="1.6" stroke-linejoin="round"/>
</g>
<rect x="394.5" y="209.6" width="130.0" height="174.70000000000002" fill="none" stroke="#000" stroke-width="1.6"/>
<clipPath id="cg"><rect x="544.8" y="209.6" width="135.4000000000001" height="174.70000000000002"/></clipPath><g clip-path="url(#cg)">
<g fill="#c2c2c2"><rect x="649.2" y="237.1" width="2.4" height="2.4"/><rect x="557.6" y="255.9" width="2.4" height="2.4"/><rect x="601.9" y="236.6" width="2.4" height="2.4"/><rect x="635.3" y="232.3" width="2.4" height="2.4"/><rect x="677.2" y="256.3" width="2.4" height="2.4"/><rect x="638.3" y="226.6" width="2.4" height="2.4"/><rect x="590.9" y="258.0" width="2.4" height="2.4"/><rect x="604.1" y="251.7" width="2.4" height="2.4"/><rect x="646.6" y="235.8" width="2.4" height="2.4"/><rect x="571.1" y="242.5" width="2.4" height="2.4"/><rect x="611.7" y="234.8" width="2.4" height="2.4"/><rect x="572.7" y="252.5" width="2.4" height="2.4"/><rect x="582.4" y="252.4" width="2.4" height="2.4"/><rect x="640.0" y="222.9" width="2.4" height="2.4"/><rect x="654.1" y="236.1" width="2.4" height="2.4"/><rect x="547.4" y="254.6" width="2.4" height="2.4"/><rect x="639.6" y="222.0" width="2.4" height="2.4"/><rect x="587.7" y="253.2" width="2.4" height="2.4"/><rect x="558.5" y="252.2" width="2.4" height="2.4"/><rect x="620.6" y="242.0" width="2.4" height="2.4"/><rect x="596.2" y="250.1" width="2.4" height="2.4"/><rect x="621.9" y="238.5" width="2.4" height="2.4"/><rect x="579.7" y="255.4" width="2.4" height="2.4"/><rect x="652.3" y="241.0" width="2.4" height="2.4"/><rect x="547.8" y="257.2" width="2.4" height="2.4"/><rect x="588.5" y="260.6" width="2.4" height="2.4"/><rect x="630.6" y="233.7" width="2.4" height="2.4"/><rect x="656.0" y="239.1" width="2.4" height="2.4"/><rect x="602.9" y="239.0" width="2.4" height="2.4"/><rect x="667.5" y="261.4" width="2.4" height="2.4"/><rect x="547.2" y="254.6" width="2.4" height="2.4"/><rect x="678.0" y="263.0" width="2.4" height="2.4"/><rect x="560.8" y="250.2" width="2.4" height="2.4"/><rect x="556.0" y="257.6" width="2.4" height="2.4"/><rect x="608.4" y="248.4" width="2.4" height="2.4"/><rect x="595.5" y="267.5" width="2.4" height="2.4"/><rect x="623.6" y="226.2" width="2.4" height="2.4"/><rect x="629.8" y="230.6" width="2.4" height="2.4"/><rect x="660.3" y="253.7" width="2.4" height="2.4"/><rect x="592.5" y="242.5" width="2.4" height="2.4"/><rect x="616.6" y="225.6" width="2.4" height="2.4"/><rect x="547.0" y="249.0" width="2.4" height="2.4"/><rect x="595.4" y="245.6" width="2.4" height="2.4"/><rect x="549.8" y="257.9" width="2.4" height="2.4"/><rect x="633.7" y="242.1" width="2.4" height="2.4"/><rect x="601.1" y="235.8" width="2.4" height="2.4"/><rect x="582.6" y="259.1" width="2.4" height="2.4"/><rect x="670.2" y="260.6" width="2.4" height="2.4"/><rect x="572.8" y="264.6" width="2.4" height="2.4"/><rect x="574.4" y="249.0" width="2.4" height="2.4"/><rect x="580.5" y="259.8" width="2.4" height="2.4"/><rect x="600.1" y="246.3" width="2.4" height="2.4"/><rect x="662.3" y="250.3" width="2.4" height="2.4"/><rect x="609.3" y="235.4" width="2.4" height="2.4"/><rect x="649.1" y="220.5" width="2.4" height="2.4"/><rect x="597.6" y="248.5" width="2.4" height="2.4"/><rect x="549.7" y="255.5" width="2.4" height="2.4"/><rect x="639.5" y="219.2" width="2.4" height="2.4"/><rect x="656.6" y="250.6" width="2.4" height="2.4"/><rect x="669.3" y="260.3" width="2.4" height="2.4"/><rect x="586.7" y="257.8" width="2.4" height="2.4"/><rect x="650.0" y="216.7" width="2.4" height="2.4"/><rect x="624.6" y="222.0" width="2.4" height="2.4"/><rect x="582.6" y="227.9" width="2.4" height="2.4"/><rect x="645.9" y="227.7" width="2.4" height="2.4"/><rect x="676.9" y="252.2" width="2.4" height="2.4"/><rect x="665.7" y="251.7" width="2.4" height="2.4"/><rect x="588.4" y="235.9" width="2.4" height="2.4"/><rect x="580.4" y="253.6" width="2.4" height="2.4"/><rect x="650.6" y="252.6" width="2.4" height="2.4"/></g>
<path d="M584.3 256.4l.5 0 .5 0 .5 0 .5-.1 .5 0 .5 0 .5-.1 .5-.1 .5 0 .5-.1 .5-.1 .5-.2 .5-.1 .5-.2 .5-.2 .5-.2 .5-.2 .5-.3 .5-.3 .5-.4 .5-.3 .5-.4 .5-.5 .5-.4 .5-.5 .5-.6 .5-.5 .5-.6 .5-.7 .5-.6 .5-.7 .5-.7 .5-.7 .5-.7 .5-.8 .5-.7 .5-.8 .5-.7 .5-.7 .5-.8 .5-.6 .5-.7 .5-.6 .5-.6 .5-.6 .5-.4 .5-.5 .5-.3 .5-.3 .5-.3 .5-.1 .5-.1 .5 0 .5 .1 .5 .1 .5 .2 .5 .3 .5 .4 .5 .5 .5 .5 .5 .5 .5 .6 .5 .7 .5 .7 .5 .8 .5 .7 .5 .8 .5 .9 .5 .8 .5 .9 .5 .8 .5 .8 .5 .9 .5 .8 .5 .8 .5 .8 .5 .8 .5 .7 .5 .7 .5 .7 .5 .6 .5 .7 .5 .5 .5 .6 .5 .5 .5 .4 .5 .5 .5 .4 .5 .4 .5 .3 .5 .3 .5 .3 .5 .3 .5 .3 .5 .2 .5 .2 .5 .2 .5 .2 .5 .1 .5 .2 .5 .1 .5 .2 .5 .1 .5 .1 .5 .1 .5 .1 L637.3 261.7 L636.8 261.6 L636.3 261.5 L635.8 261.5 L635.3 261.4 L634.8 261.4 L634.3 261.3 L633.8 261.2 L633.3 261.2 L632.8 261.1 L632.3 261.0 L631.8 261.0 L631.3 260.9 L630.8 260.9 L630.3 260.8 L629.8 260.7 L629.3 260.7 L628.8 260.6 L628.3 260.5 L627.8 260.5 L627.3 260.4 L626.8 260.4 L626.3 260.3 L625.8 260.2 L625.3 260.2 L624.8 260.1 L624.3 260.0 L623.8 260.0 L623.3 259.9 L622.8 259.9 L622.3 259.8 L621.8 259.7 L621.3 259.7 L620.8 259.6 L620.3 259.5 L619.8 259.5 L619.3 259.4 L618.8 259.4 L618.3 259.3 L617.8 259.3 L617.3 259.2 L616.8 259.2 L616.3 259.1 L615.8 259.1 L615.3 259.0 L614.8 259.0 L614.3 258.9 L613.8 258.9 L613.3 258.8 L612.8 258.8 L612.3 258.7 L611.8 258.7 L611.3 258.6 L610.8 258.6 L610.3 258.5 L609.8 258.5 L609.3 258.4 L608.8 258.4 L608.3 258.3 L607.8 258.3 L607.3 258.2 L606.8 258.2 L606.3 258.1 L605.8 258.1 L605.3 258.0 L604.8 258.0 L604.3 257.9 L603.8 257.9 L603.3 257.8 L602.8 257.8 L602.3 257.7 L601.8 257.7 L601.3 257.6 L600.8 257.6 L600.3 257.5 L599.8 257.5 L599.3 257.5 L598.8 257.4 L598.3 257.4 L597.8 257.4 L597.3 257.3 L596.8 257.3 L596.3 257.3 L595.8 257.2 L595.3 257.2 L594.8 257.2 L594.3 257.2 L593.8 257.1 L593.3 257.1 L592.8 257.1 L592.3 257.0 L591.8 257.0 L591.3 257.0 L590.8 256.9 L590.3 256.9 L589.8 256.9 L589.3 256.9 L588.8 256.8 L588.3 256.8 L587.8 256.8 L587.3 256.7 L586.8 256.7 L586.3 256.7 L585.8 256.6 L585.3 256.6 L584.8 256.6 L584.3 256.6 Z" fill="url(#gy)" stroke="none"/>
<path d="M584.3 256.4l.5 0 .5 0 .5 0 .5-.1 .5 0 .5 0 .5-.1 .5-.1 .5 0 .5-.1 .5-.1 .5-.2 .5-.1 .5-.2 .5-.2 .5-.2 .5-.2 .5-.3 .5-.3 .5-.4 .5-.3 .5-.4 .5-.5 .5-.4 .5-.5 .5-.6 .5-.5 .5-.6 .5-.7 .5-.6 .5-.7 .5-.7 .5-.7 .5-.7 .5-.8 .5-.7 .5-.8 .5-.7 .5-.7 .5-.8 .5-.6 .5-.7 .5-.6 .5-.6 .5-.6 .5-.4 .5-.5 .5-.3 .5-.3 .5-.3 .5-.1 .5-.1 .5 0 .5 .1 .5 .1 .5 .2 .5 .3 .5 .4 .5 .5 .5 .5 .5 .5 .5 .6 .5 .7 .5 .7 .5 .8 .5 .7 .5 .8 .5 .9 .5 .8 .5 .9 .5 .8 .5 .8 .5 .9 .5 .8 .5 .8 .5 .8 .5 .8 .5 .7 .5 .7 .5 .7 .5 .6 .5 .7 .5 .5 .5 .6 .5 .5 .5 .4 .5 .5 .5 .4 .5 .4 .5 .3 .5 .3 .5 .3 .5 .3 .5 .3 .5 .2 .5 .2 .5 .2 .5 .2 .5 .1 .5 .2 .5 .1 .5 .2 .5 .1 .5 .1 .5 .1 .5 .1" fill="none" stroke="#cfc832" stroke-width="1.1"/>
<path d="M606.3 258l.5 0 .5 0 .5 0 .5 0 .5-.1 .5 0 .5-.1 .5 0 .5-.1 .5-.1 .5-.2 .5-.1 .5-.2 .5-.2 .5-.3 .5-.3 .5-.3 .5-.3 .5-.4 .5-.5 .5-.5 .5-.5 .5-.6 .5-.6 .5-.6 .5-.7 .5-.7 .5-.8 .5-.7 .5-.8 .5-.8 .5-.8 .5-.8 .5-.8 .5-.8 .5-.7 .5-.7 .5-.7 .5-.6 .5-.5 .5-.5 .5-.4 .5-.4 .5-.2 .5-.2 .5 0 .5 0 .5 .1 .5 .3 .5 .3 .5 .4 .5 .5 .5 .5 .5 .7 .5 .7 .5 .7 .5 .8 .5 .9 .5 .9 .5 .9 .5 .9 .5 .9 .5 .9 .5 .9 .5 .9 .5 .9 .5 .9 .5 .8 .5 .8 .5 .7 .5 .7 .5 .6 .5 .6 .5 .6 .5 .5 .5 .5 .5 .5 .5 .4 .5 .4 .5 .3 .5 .3 .5 .3 .5 .2 .5 .2 .5 .2 .5 .2 .5 .2 .5 .1 .5 .2 .5 .1 .5 .1 .5 .1 .5 .1 .5 .1 L653.3 263.3 L652.8 263.3 L652.3 263.2 L651.8 263.2 L651.3 263.1 L650.8 263.1 L650.3 263.0 L649.8 263.0 L649.3 262.9 L648.8 262.9 L648.3 262.8 L647.8 262.8 L647.3 262.7 L646.8 262.7 L646.3 262.6 L645.8 262.6 L645.3 262.5 L644.8 262.5 L644.3 262.4 L643.8 262.4 L643.3 262.3 L642.8 262.3 L642.3 262.2 L641.8 262.2 L641.3 262.1 L640.8 262.1 L640.3 262.0 L639.8 262.0 L639.3 261.9 L638.8 261.9 L638.3 261.8 L637.8 261.7 L637.3 261.7 L636.8 261.6 L636.3 261.5 L635.8 261.5 L635.3 261.4 L634.8 261.4 L634.3 261.3 L633.8 261.2 L633.3 261.2 L632.8 261.1 L632.3 261.0 L631.8 261.0 L631.3 260.9 L630.8 260.9 L630.3 260.8 L629.8 260.7 L629.3 260.7 L628.8 260.6 L628.3 260.5 L627.8 260.5 L627.3 260.4 L626.8 260.4 L626.3 260.3 L625.8 260.2 L625.3 260.2 L624.8 260.1 L624.3 260.0 L623.8 260.0 L623.3 259.9 L622.8 259.9 L622.3 259.8 L621.8 259.7 L621.3 259.7 L620.8 259.6 L620.3 259.5 L619.8 259.5 L619.3 259.4 L618.8 259.4 L618.3 259.3 L617.8 259.3 L617.3 259.2 L616.8 259.2 L616.3 259.1 L615.8 259.1 L615.3 259.0 L614.8 259.0 L614.3 258.9 L613.8 258.9 L613.3 258.8 L612.8 258.8 L612.3 258.7 L611.8 258.7 L611.3 258.6 L610.8 258.6 L610.3 258.5 L609.8 258.5 L609.3 258.4 L608.8 258.4 L608.3 258.3 L607.8 258.3 L607.3 258.2 L606.8 258.2 L606.3 258.1 Z" fill="url(#gb)" stroke="none"/>
<path d="M606.3 258l.5 0 .5 0 .5 0 .5 0 .5-.1 .5 0 .5-.1 .5 0 .5-.1 .5-.1 .5-.2 .5-.1 .5-.2 .5-.2 .5-.3 .5-.3 .5-.3 .5-.3 .5-.4 .5-.5 .5-.5 .5-.5 .5-.6 .5-.6 .5-.6 .5-.7 .5-.7 .5-.8 .5-.7 .5-.8 .5-.8 .5-.8 .5-.8 .5-.8 .5-.8 .5-.7 .5-.7 .5-.7 .5-.6 .5-.5 .5-.5 .5-.4 .5-.4 .5-.2 .5-.2 .5 0 .5 0 .5 .1 .5 .3 .5 .3 .5 .4 .5 .5 .5 .5 .5 .7 .5 .7 .5 .7 .5 .8 .5 .9 .5 .9 .5 .9 .5 .9 .5 .9 .5 .9 .5 .9 .5 .9 .5 .9 .5 .9 .5 .8 .5 .8 .5 .7 .5 .7 .5 .6 .5 .6 .5 .6 .5 .5 .5 .5 .5 .5 .5 .4 .5 .4 .5 .3 .5 .3 .5 .3 .5 .2 .5 .2 .5 .2 .5 .2 .5 .2 .5 .1 .5 .2 .5 .1 .5 .1 .5 .1 .5 .1 .5 .1" fill="none" stroke="#3a4ab0" stroke-width="1.1"/>
<path d="M622.8 259.7l.5 0 .5 0 .5 0 .5 0 .5 0 .5 0 .5-.1 .5 0 .5-.1 .5-.1 .5-.1 .5-.2 .5-.2 .5-.2 .5-.3 .5-.2 .5-.4 .5-.4 .5-.4 .5-.4 .5-.6 .5-.5 .5-.7 .5-.6 .5-.8 .5-.8 .5-.8 .5-.9 .5-.9 .5-1 .5-1 .5-1.1 .5-1.1 .5-1.1 .5-1.1 .5-1.1 .5-1.1 .5-1.2 .5-1 .5-1.1 .5-1 .5-.9 .5-.9 .5-.8 .5-.7 .5-.6 .5-.6 .5-.4 .5-.3 .5-.2 .5 0 .5 .1 .5 .1 .5 .3 .5 .5 .5 .5 .5 .6 .5 .8 .5 .8 .5 .9 .5 1 .5 1.1 .5 1.1 .5 1.1 .5 1.2 .5 1.2 .5 1.3 .5 1.2 .5 1.2 .5 1.2 .5 1.2 .5 1.2 .5 1.1 .5 1.1 .5 1 .5 1 .5 .9 .5 .9 .5 .8 .5 .8 .5 .7 .5 .7 .5 .6 .5 .5 .5 .6 .5 .4 .5 .4 .5 .4 .5 .4 .5 .3 .5 .3 .5 .2 .5 .2 .5 .2 .5 .2 .5 .2 .5 .1 .5 .1 .5 .1 .5 .1 .5 .1 .5 .1 .5 .1 L674.3 265.1 L673.8 265.0 L673.3 265.0 L672.8 265.0 L672.3 264.9 L671.8 264.9 L671.3 264.8 L670.8 264.8 L670.3 264.8 L669.8 264.7 L669.3 264.7 L668.8 264.7 L668.3 264.6 L667.8 264.6 L667.3 264.5 L666.8 264.5 L666.3 264.5 L665.8 264.4 L665.3 264.4 L664.8 264.4 L664.3 264.3 L663.8 264.3 L663.3 264.2 L662.8 264.2 L662.3 264.2 L661.8 264.1 L661.3 264.1 L660.8 264.1 L660.3 264.0 L659.8 264.0 L659.3 263.9 L658.8 263.9 L658.3 263.8 L657.8 263.8 L657.3 263.7 L656.8 263.7 L656.3 263.6 L655.8 263.6 L655.3 263.5 L654.8 263.5 L654.3 263.4 L653.8 263.4 L653.3 263.3 L652.8 263.3 L652.3 263.2 L651.8 263.2 L651.3 263.1 L650.8 263.1 L650.3 263.0 L649.8 263.0 L649.3 262.9 L648.8 262.9 L648.3 262.8 L647.8 262.8 L647.3 262.7 L646.8 262.7 L646.3 262.6 L645.8 262.6 L645.3 262.5 L644.8 262.5 L644.3 262.4 L643.8 262.4 L643.3 262.3 L642.8 262.3 L642.3 262.2 L641.8 262.2 L641.3 262.1 L640.8 262.1 L640.3 262.0 L639.8 262.0 L639.3 261.9 L638.8 261.9 L638.3 261.8 L637.8 261.7 L637.3 261.7 L636.8 261.6 L636.3 261.5 L635.8 261.5 L635.3 261.4 L634.8 261.4 L634.3 261.3 L633.8 261.2 L633.3 261.2 L632.8 261.1 L632.3 261.0 L631.8 261.0 L631.3 260.9 L630.8 260.9 L630.3 260.8 L629.8 260.7 L629.3 260.7 L628.8 260.6 L628.3 260.5 L627.8 260.5 L627.3 260.4 L626.8 260.4 L626.3 260.3 L625.8 260.2 L625.3 260.2 L624.8 260.1 L624.3 260.0 L623.8 260.0 L623.3 259.9 L622.8 259.9 Z" fill="url(#gc)" stroke="none"/>
<path d="M622.8 259.7l.5 0 .5 0 .5 0 .5 0 .5 0 .5 0 .5-.1 .5 0 .5-.1 .5-.1 .5-.1 .5-.2 .5-.2 .5-.2 .5-.3 .5-.2 .5-.4 .5-.4 .5-.4 .5-.4 .5-.6 .5-.5 .5-.7 .5-.6 .5-.8 .5-.8 .5-.8 .5-.9 .5-.9 .5-1 .5-1 .5-1.1 .5-1.1 .5-1.1 .5-1.1 .5-1.1 .5-1.1 .5-1.2 .5-1 .5-1.1 .5-1 .5-.9 .5-.9 .5-.8 .5-.7 .5-.6 .5-.6 .5-.4 .5-.3 .5-.2 .5 0 .5 .1 .5 .1 .5 .3 .5 .5 .5 .5 .5 .6 .5 .8 .5 .8 .5 .9 .5 1 .5 1.1 .5 1.1 .5 1.1 .5 1.2 .5 1.2 .5 1.3 .5 1.2 .5 1.2 .5 1.2 .5 1.2 .5 1.2 .5 1.1 .5 1.1 .5 1 .5 1 .5 .9 .5 .9 .5 .8 .5 .8 .5 .7 .5 .7 .5 .6 .5 .5 .5 .6 .5 .4 .5 .4 .5 .4 .5 .4 .5 .3 .5 .3 .5 .2 .5 .2 .5 .2 .5 .2 .5 .2 .5 .1 .5 .1 .5 .1 .5 .1 .5 .1 .5 .1 .5 .1" fill="none" stroke="#1ea8c0" stroke-width="1.1"/>
<path d="M544.8 256.1l.5 0 .5 0 .5 0 .5 0 .5 0 .5 0 .5 0 .5 0 .5 0 .5 0 .5 0 .5 0 .5 0 .5 0 .5 0 .5 0 .5 0 .5 .1 .5 0 .5 0 .5 0 .5 0 .5 0 .5 0 .5 0 .5 0 .5 0 .5 0 .5 0 .5 0 .5 0 .5 0 .5 0 .5 0 .5 0 .5 0 .5 0 .5 0 .5 0 .5 0 .5 0 .5 0 .5 0 .5 0 .5 0 .5 0 .5 0 .5 0 .5 0 .5 0 .5 0 .5 0 .5 .1 .5 0 .5 0 .5 0 .5 0 .5 0 .5 0 .5 0 .5 0 .5 0 .5 0 .5 0 .5 0 .5 0 .5 0 .5 0 .5 0 .5 0 .5 0 .5 0 .5 .1 .5 0 .5 0 .5 .1 .5 0 .5 0 .5 .1 .5 0 .5 0 .5 0 .5 .1 .5 0 .5 0 .5 .1 .5 0 .5 0 .5 .1 .5 0 .5 0 .5 0 .5 .1 .5 0 .5 0 .5 .1 .5 0 .5 0 .5 .1 .5 0 .5 0 .5 0 .5 .1 .5 0 .5 0 .5 .1 .5 0 .5 0 .5 .1 .5 0 .5 0 .5 .1 .5 0 .5 .1 .5 0 .5 .1 .5 0 .5 .1 .5 0 .5 .1 .5 0 .5 .1 .5 0 .5 .1 .5 0 .5 .1 .5 0 .5 .1 .5 0 .5 .1 .5 0 .5 .1 .5 0 .5 .1 .5 0 .5 .1 .5 0 .5 .1 .5 0 .5 .1 .5 0 .5 .1 .5 0 .5 .1 .5 0 .5 .1 .5 0 .5 .1 .5 0 .5 .1 .5 0 .5 .1 .5 .1 .5 0 .5 .1 .5 0 .5 .1 .5 .1 .5 0 .5 .1 .5 .1 .5 0 .5 .1 .5 .1 .5 0 .5 .1 .5 0 .5 .1 .5 .1 .5 0 .5 .1 .5 0 .5 .1 .5 .1 .5 0 .5 .1 .5 .1 .5 0 .5 .1 .5 .1 .5 0 .5 .1 .5 0 .5 .1 .5 .1 .5 0 .5 .1 .5 0 .5 .1 .5 .1 .5 0 .5 .1 .5 0 .5 .1 .5 0 .5 .1 .5 0 .5 .1 .5 0 .5 .1 .5 0 .5 .1 .5 0 .5 .1 .5 0 .5 .1 .5 0 .5 .1 .5 0 .5 .1 .5 0 .5 .1 .5 0 .5 .1 .5 0 .5 .1 .5 0 .5 .1 .5 0 .5 .1 .5 0 .5 .1 .5 0 .5 .1 .5 0 .5 .1 .5 0 .5 .1 .5 0 .5 .1 .5 0 .5 .1 .5 0 .5 0 .5 .1 .5 0 .5 0 .5 .1 .5 0 .5 .1 .5 0 .5 0 .5 .1 .5 0 .5 0 .5 .1 .5 0 .5 .1 .5 0 .5 0 .5 .1 .5 0 .5 0 .5 .1 .5 0 .5 .1 .5 0 .5 0 .5 .1 .5 0 .5 0 .5 .1 .5 0 .5 0 .5 .1 .5 0 .5 .1 .5 0 .5 0 .5 .1" fill="none" stroke="#111" stroke-width="1.1"/>
<path d="M544.8 256.1l.5 0 .5 0 .5 0 .5 0 .5 0 .5 0 .5 0 .5 0 .5 0 .5 0 .5 0 .5 0 .5 0 .5 0 .5 0 .5 0 .5 0 .5 .1 .5 0 .5 0 .5 0 .5 0 .5 0 .5 0 .5 0 .5 0 .5 0 .5 0 .5 0 .5 0 .5 0 .5 0 .5 0 .5 0 .5 0 .5 0 .5 0 .5 0 .5 0 .5 0 .5 0 .5 0 .5 0 .5 0 .5 0 .5 0 .5 0 .5 0 .5 0 .5 0 .5 0 .5 0 .5 0 .5 0 .5 0 .5 0 .5 0 .5 0 .5 0 .5 0 .5 0 .5 0 .5 0 .5 0 .5 0 .5 0 .5 0 .5-.1 .5 0 .5 0 .5 0 .5 0 .5 0 .5 0 .5 0 .5 0 .5 0 .5 0 .5 0 .5 0 .5-.1 .5 0 .5 0 .5-.1 .5-.1 .5-.1 .5-.1 .5-.1 .5-.2 .5-.2 .5-.3 .5-.2 .5-.3 .5-.3 .5-.4 .5-.4 .5-.4 .5-.4 .5-.4 .5-.5 .5-.5 .5-.5 .5-.6 .5-.5 .5-.6 .5-.6 .5-.6 .5-.7 .5-.6 .5-.7 .5-.7 .5-.8 .5-.7 .5-.7 .5-.8 .5-.8 .5-.7 .5-.8 .5-.7 .5-.8 .5-.7 .5-.7 .5-.6 .5-.6 .5-.6 .5-.5 .5-.5 .5-.5 .5-.3 .5-.4 .5-.3 .5-.2 .5-.2 .5-.1 .5-.1 .5-.1 .5 0 .5 0 .5 .1 .5 0 .5 .1 .5 .1 .5 .1 .5 .1 .5 .1 .5 .1 .5 .1 .5 0 .5 0 .5 0 .5 0 .5 0 .5-.1 .5-.1 .5-.1 .5-.2 .5-.1 .5-.2 .5-.2 .5-.1 .5-.2 .5-.2 .5-.2 .5-.2 .5-.1 .5-.2 .5-.1 .5-.2 .5-.1 .5-.1 .5-.1 .5-.1 .5-.1 .5-.1 .5-.1 .5 0 .5-.1 .5 0 .5 0 .5-.1 .5 0 .5 0 .5 0 .5-.1 .5 0 .5-.1 .5 0 .5-.1 .5-.1 .5-.1 .5-.1 .5-.2 .5-.2 .5-.1 .5-.2 .5-.2 .5-.2 .5-.2 .5-.1 .5-.1 .5-.1 .5 0 .5 .1 .5 .1 .5 .2 .5 .3 .5 .3 .5 .5 .5 .5 .5 .6 .5 .6 .5 .7 .5 .8 .5 .8 .5 .9 .5 .9 .5 .9 .5 1 .5 1 .5 1 .5 1.1 .5 1 .5 1.1 .5 1.1 .5 1 .5 1.1 .5 1.1 .5 1.1 .5 1 .5 1 .5 1 .5 1 .5 .9 .5 .9 .5 .8 .5 .8 .5 .8 .5 .7 .5 .6 .5 .6 .5 .6 .5 .5 .5 .5 .5 .5 .5 .4 .5 .5 .5 .4 .5 .4 .5 .4 .5 .3 .5 .4 .5 .4 .5 .3 .5 .3 .5 .3 .5 .3 .5 .3 .5 .2 .5 .2 .5 .2 .5 .2 .5 .2 .5 .1 .5 .1 .5 .1 .5 .1 .5 .1 .5 .1 .5 .1 .5 .1" fill="none" stroke="#000" stroke-width="1.6" stroke-linejoin="round"/>
<g fill="#c2c2c2"><rect x="594.3" y="294.5" width="2.4" height="2.4"/><rect x="606.6" y="293.1" width="2.4" height="2.4"/><rect x="656.6" y="311.4" width="2.4" height="2.4"/><rect x="626.2" y="299.9" width="2.4" height="2.4"/><rect x="589.4" y="321.0" width="2.4" height="2.4"/><rect x="601.5" y="297.0" width="2.4" height="2.4"/><rect x="666.9" y="337.4" width="2.4" height="2.4"/><rect x="613.6" y="293.4" width="2.4" height="2.4"/><rect x="658.1" y="316.9" width="2.4" height="2.4"/><rect x="620.6" y="306.3" width="2.4" height="2.4"/><rect x="560.3" y="326.7" width="2.4" height="2.4"/><rect x="641.8" y="276.1" width="2.4" height="2.4"/><rect x="618.8" y="288.2" width="2.4" height="2.4"/><rect x="640.4" y="292.2" width="2.4" height="2.4"/><rect x="628.0" y="311.4" width="2.4" height="2.4"/><rect x="638.4" y="286.5" width="2.4" height="2.4"/><rect x="610.8" y="289.2" width="2.4" height="2.4"/><rect x="601.0" y="295.1" width="2.4" height="2.4"/><rect x="609.4" y="299.1" width="2.4" height="2.4"/><rect x="586.6" y="308.9" width="2.4" height="2.4"/><rect x="654.3" y="306.2" width="2.4" height="2.4"/><rect x="605.8" y="304.8" width="2.4" height="2.4"/><rect x="590.2" y="316.5" width="2.4" height="2.4"/><rect x="647.9" y="298.5" width="2.4" height="2.4"/><rect x="588.3" y="322.1" width="2.4" height="2.4"/><rect x="650.8" y="288.5" width="2.4" height="2.4"/><rect x="629.0" y="277.7" width="2.4" height="2.4"/><rect x="560.6" y="338.6" width="2.4" height="2.4"/><rect x="650.0" y="302.8" width="2.4" height="2.4"/><rect x="625.0" y="287.2" width="2.4" height="2.4"/><rect x="551.4" y="315.9" width="2.4" height="2.4"/><rect x="598.8" y="308.0" width="2.4" height="2.4"/><rect x="618.5" y="300.4" width="2.4" height="2.4"/><rect x="572.1" y="327.3" width="2.4" height="2.4"/><rect x="641.5" y="296.4" width="2.4" height="2.4"/><rect x="595.5" y="309.0" width="2.4" height="2.4"/><rect x="642.8" y="280.2" width="2.4" height="2.4"/><rect x="590.7" y="303.8" width="2.4" height="2.4"/><rect x="622.3" y="277.5" width="2.4" height="2.4"/><rect x="563.6" y="313.0" width="2.4" height="2.4"/><rect x="568.3" y="323.4" width="2.4" height="2.4"/><rect x="564.4" y="336.4" width="2.4" height="2.4"/><rect x="588.9" y="335.7" width="2.4" height="2.4"/><rect x="677.9" y="324.1" width="2.4" height="2.4"/><rect x="551.5" y="321.7" width="2.4" height="2.4"/><rect x="572.7" y="332.6" width="2.4" height="2.4"/><rect x="578.9" y="316.9" width="2.4" height="2.4"/><rect x="552.9" y="324.7" width="2.4" height="2.4"/><rect x="563.7" y="318.0" width="2.4" height="2.4"/><rect x="565.7" y="312.0" width="2.4" height="2.4"/><rect x="555.4" y="324.0" width="2.4" height="2.4"/><rect x="554.5" y="327.6" width="2.4" height="2.4"/><rect x="574.1" y="325.4" width="2.4" height="2.4"/><rect x="617.6" y="293.6" width="2.4" height="2.4"/><rect x="552.8" y="294.0" width="2.4" height="2.4"/><rect x="655.4" y="309.4" width="2.4" height="2.4"/><rect x="659.1" y="314.9" width="2.4" height="2.4"/><rect x="658.5" y="313.2" width="2.4" height="2.4"/><rect x="616.9" y="288.5" width="2.4" height="2.4"/><rect x="661.4" y="322.1" width="2.4" height="2.4"/><rect x="552.9" y="319.3" width="2.4" height="2.4"/><rect x="621.1" y="296.2" width="2.4" height="2.4"/><rect x="614.9" y="294.6" width="2.4" height="2.4"/><rect x="565.9" y="317.9" width="2.4" height="2.4"/><rect x="551.5" y="305.8" width="2.4" height="2.4"/><rect x="610.2" y="292.0" width="2.4" height="2.4"/><rect x="576.5" y="316.1" width="2.4" height="2.4"/><rect x="650.2" y="327.6" width="2.4" height="2.4"/><rect x="635.2" y="292.2" width="2.4" height="2.4"/><rect x="592.5" y="307.2" width="2.4" height="2.4"/></g>
<path d="M571.3 318.7l.5 0 .5 0 .5-.1 .5 0 .5 0 .5-.1 .5 0 .5-.1 .5-.1 .5-.1 .5-.1 .5-.1 .5-.1 .5-.1 .5-.2 .5-.2 .5-.1 .5-.2 .5-.2 .5-.2 .5-.2 .5-.2 .5-.2 .5-.3 .5-.2 .5-.2 .5-.2 .5-.2 .5-.2 .5-.1 .5-.2 .5-.1 .5-.1 .5-.1 .5-.1 .5 0 .5 0 .5 0 .5 .1 .5 0 .5 .2 .5 .1 .5 .1 .5 .2 .5 .2 .5 .2 .5 .2 .5 .3 .5 .2 .5 .3 .5 .2 .5 .3 .5 .3 .5 .2 .5 .3 .5 .2 .5 .2 .5 .3 .5 .2 .5 .2 .5 .3 .5 .2 .5 .1 .5 .2 .5 .2 .5 .1 .5 .2 .5 .1 .5 .1 .5 .2 .5 .1 .5 .1 .5 .1 .5 0" fill="none" stroke="#111" stroke-width="1.1"/>
<path d="M585.8 319.3l.5 0 .5-.1 .5 0 .5 0 .5-.1 .5 0 .5-.1 .5-.1 .5-.1 .5-.1 .5-.1 .5-.1 .5-.2 .5-.2 .5-.2 .5-.3 .5-.3 .5-.3 .5-.3 .5-.4 .5-.4 .5-.5 .5-.5 .5-.5 .5-.5 .5-.6 .5-.7 .5-.6 .5-.7 .5-.7 .5-.7 .5-.7 .5-.7 .5-.8 .5-.7 .5-.8 .5-.7 .5-.7 .5-.7 .5-.7 .5-.6 .5-.5 .5-.5 .5-.5 .5-.4 .5-.3 .5-.2 .5-.2 .5-.1 .5 0 .5 .1 .5 .1 .5 .3 .5 .3 .5 .4 .5 .4 .5 .6 .5 .5 .5 .7 .5 .7 .5 .7 .5 .8 .5 .8 .5 .8 .5 .8 .5 .9 .5 .8 .5 .9 .5 .8 .5 .8 .5 .8 .5 .8 .5 .7 .5 .7 .5 .7 .5 .7 .5 .6 .5 .5 .5 .6 .5 .5 .5 .4 .5 .5 .5 .4 .5 .3 .5 .4 .5 .3 .5 .2 .5 .3 .5 .2 .5 .2 .5 .2 .5 .2 .5 .1 .5 .2 .5 .1 .5 .1 .5 .1 .5 .1 .5 .1 .5 .1 L635.8 323.6 L635.3 323.5 L634.8 323.5 L634.3 323.4 L633.8 323.4 L633.3 323.3 L632.8 323.3 L632.3 323.2 L631.8 323.2 L631.3 323.1 L630.8 323.1 L630.3 323.0 L629.8 323.0 L629.3 322.9 L628.8 322.9 L628.3 322.8 L627.8 322.8 L627.3 322.7 L626.8 322.7 L626.3 322.6 L625.8 322.6 L625.3 322.5 L624.8 322.5 L624.3 322.4 L623.8 322.4 L623.3 322.3 L622.8 322.3 L622.3 322.2 L621.8 322.2 L621.3 322.1 L620.8 322.1 L620.3 322.0 L619.8 322.0 L619.3 321.9 L618.8 321.9 L618.3 321.8 L617.8 321.8 L617.3 321.7 L616.8 321.7 L616.3 321.6 L615.8 321.6 L615.3 321.5 L614.8 321.5 L614.3 321.4 L613.8 321.4 L613.3 321.3 L612.8 321.3 L612.3 321.2 L611.8 321.2 L611.3 321.1 L610.8 321.1 L610.3 321.0 L609.8 321.0 L609.3 320.9 L608.8 320.9 L608.3 320.8 L607.8 320.8 L607.3 320.7 L606.8 320.7 L606.3 320.6 L605.8 320.6 L605.3 320.5 L604.8 320.5 L604.3 320.4 L603.8 320.4 L603.3 320.3 L602.8 320.3 L602.3 320.2 L601.8 320.2 L601.3 320.1 L600.8 320.1 L600.3 320.0 L599.8 320.0 L599.3 320.0 L598.8 320.0 L598.3 319.9 L597.8 319.9 L597.3 319.9 L596.8 319.9 L596.3 319.8 L595.8 319.8 L595.3 319.8 L594.8 319.8 L594.3 319.8 L593.8 319.7 L593.3 319.7 L592.8 319.7 L592.3 319.7 L591.8 319.7 L591.3 319.6 L590.8 319.6 L590.3 319.6 L589.8 319.6 L589.3 319.6 L588.8 319.5 L588.3 319.5 L587.8 319.5 L587.3 319.5 L586.8 319.5 L586.3 319.4 L585.8 319.4 Z" fill="url(#gy)" stroke="none"/>
<path d="M585.8 319.3l.5 0 .5-.1 .5 0 .5 0 .5-.1 .5 0 .5-.1 .5-.1 .5-.1 .5-.1 .5-.1 .5-.1 .5-.2 .5-.2 .5-.2 .5-.3 .5-.3 .5-.3 .5-.3 .5-.4 .5-.4 .5-.5 .5-.5 .5-.5 .5-.5 .5-.6 .5-.7 .5-.6 .5-.7 .5-.7 .5-.7 .5-.7 .5-.7 .5-.8 .5-.7 .5-.8 .5-.7 .5-.7 .5-.7 .5-.7 .5-.6 .5-.5 .5-.5 .5-.5 .5-.4 .5-.3 .5-.2 .5-.2 .5-.1 .5 0 .5 .1 .5 .1 .5 .3 .5 .3 .5 .4 .5 .4 .5 .6 .5 .5 .5 .7 .5 .7 .5 .7 .5 .8 .5 .8 .5 .8 .5 .8 .5 .9 .5 .8 .5 .9 .5 .8 .5 .8 .5 .8 .5 .8 .5 .7 .5 .7 .5 .7 .5 .7 .5 .6 .5 .5 .5 .6 .5 .5 .5 .4 .5 .5 .5 .4 .5 .3 .5 .4 .5 .3 .5 .2 .5 .3 .5 .2 .5 .2 .5 .2 .5 .2 .5 .1 .5 .2 .5 .1 .5 .1 .5 .1 .5 .1 .5 .1 .5 .1" fill="none" stroke="#cfc832" stroke-width="1.1"/>
<path d="M609.8 320.8l.5 0 .5 0 .5 0 .5 0 .5 0 .5 0 .5-.1 .5 0 .5-.1 .5-.1 .5-.1 .5-.2 .5-.1 .5-.2 .5-.2 .5-.2 .5-.2 .5-.3 .5-.2 .5-.3 .5-.4 .5-.3 .5-.3 .5-.4 .5-.3 .5-.4 .5-.4 .5-.3 .5-.4 .5-.3 .5-.3 .5-.3 .5-.3 .5-.2 .5-.2 .5-.1 .5-.2 .5 0 .5 0 .5 0 .5 .1 .5 .1 .5 .2 .5 .2 .5 .3 .5 .3 .5 .3 .5 .4 .5 .4 .5 .4 .5 .5 .5 .4 .5 .5 .5 .5 .5 .4 .5 .5 .5 .4 .5 .5 .5 .4 .5 .4 .5 .4 .5 .4 .5 .3 .5 .3 .5 .3 .5 .3 .5 .3 .5 .2 .5 .2 .5 .2 .5 .2 .5 .2 .5 .2 .5 .1 .5 .1 .5 .1 .5 .1 .5 .1 .5 .1 .5 .1 L649.8 325.0 L649.3 324.9 L648.8 324.9 L648.3 324.8 L647.8 324.8 L647.3 324.7 L646.8 324.7 L646.3 324.6 L645.8 324.6 L645.3 324.5 L644.8 324.5 L644.3 324.4 L643.8 324.4 L643.3 324.3 L642.8 324.3 L642.3 324.2 L641.8 324.2 L641.3 324.1 L640.8 324.1 L640.3 324.0 L639.8 324.0 L639.3 323.9 L638.8 323.9 L638.3 323.8 L637.8 323.8 L637.3 323.7 L636.8 323.7 L636.3 323.6 L635.8 323.6 L635.3 323.5 L634.8 323.5 L634.3 323.4 L633.8 323.4 L633.3 323.3 L632.8 323.3 L632.3 323.2 L631.8 323.2 L631.3 323.1 L630.8 323.1 L630.3 323.0 L629.8 323.0 L629.3 322.9 L628.8 322.9 L628.3 322.8 L627.8 322.8 L627.3 322.7 L626.8 322.7 L626.3 322.6 L625.8 322.6 L625.3 322.5 L624.8 322.5 L624.3 322.4 L623.8 322.4 L623.3 322.3 L622.8 322.3 L622.3 322.2 L621.8 322.2 L621.3 322.1 L620.8 322.1 L620.3 322.0 L619.8 322.0 L619.3 321.9 L618.8 321.9 L618.3 321.8 L617.8 321.8 L617.3 321.7 L616.8 321.7 L616.3 321.6 L615.8 321.6 L615.3 321.5 L614.8 321.5 L614.3 321.4 L613.8 321.4 L613.3 321.3 L612.8 321.3 L612.3 321.2 L611.8 321.2 L611.3 321.1 L610.8 321.1 L610.3 321.0 L609.8 321.0 Z" fill="url(#gb)" stroke="none"/>
<path d="M609.8 320.8l.5 0 .5 0 .5 0 .5 0 .5 0 .5 0 .5-.1 .5 0 .5-.1 .5-.1 .5-.1 .5-.2 .5-.1 .5-.2 .5-.2 .5-.2 .5-.2 .5-.3 .5-.2 .5-.3 .5-.4 .5-.3 .5-.3 .5-.4 .5-.3 .5-.4 .5-.4 .5-.3 .5-.4 .5-.3 .5-.3 .5-.3 .5-.3 .5-.2 .5-.2 .5-.1 .5-.2 .5 0 .5 0 .5 0 .5 .1 .5 .1 .5 .2 .5 .2 .5 .3 .5 .3 .5 .3 .5 .4 .5 .4 .5 .4 .5 .5 .5 .4 .5 .5 .5 .5 .5 .4 .5 .5 .5 .4 .5 .5 .5 .4 .5 .4 .5 .4 .5 .4 .5 .3 .5 .3 .5 .3 .5 .3 .5 .3 .5 .2 .5 .2 .5 .2 .5 .2 .5 .2 .5 .2 .5 .1 .5 .1 .5 .1 .5 .1 .5 .1 .5 .1 .5 .1" fill="none" stroke="#3a4ab0" stroke-width="1.1"/>
<path d="M614.3 321.2l.5 .1 .5 0 .5 0 .5-.1 .5 0 .5 0 .5-.1 .5-.1 .5-.1 .5-.1 .5-.1 .5-.2 .5-.2 .5-.3 .5-.2 .5-.3 .5-.4 .5-.4 .5-.4 .5-.6 .5-.5 .5-.6 .5-.7 .5-.7 .5-.8 .5-.8 .5-.9 .5-1 .5-1 .5-1 .5-1.1 .5-1.1 .5-1.2 .5-1.1 .5-1.2 .5-1.2 .5-1.2 .5-1.2 .5-1.2 .5-1.1 .5-1 .5-1.1 .5-.9 .5-.9 .5-.7 .5-.7 .5-.6 .5-.5 .5-.3 .5-.2 .5-.1 .5 0 .5 .2 .5 .3 .5 .4 .5 .5 .5 .7 .5 .8 .5 .8 .5 1 .5 1 .5 1.1 .5 1.1 .5 1.3 .5 1.2 .5 1.3 .5 1.3 .5 1.3 .5 1.3 .5 1.2 .5 1.3 .5 1.2 .5 1.2 .5 1.2 .5 1.1 .5 1 .5 1 .5 1 .5 .9 .5 .8 .5 .8 .5 .7 .5 .7 .5 .6 .5 .6 .5 .5 .5 .4 .5 .5 .5 .3 .5 .4 .5 .3 .5 .3 .5 .2 .5 .2 .5 .2 .5 .1 .5 .2 .5 .1 .5 .1 .5 .1 .5 .1 .5 .1 .5 .1 .5 0 L666.3 326.4 L665.8 326.3 L665.3 326.3 L664.8 326.3 L664.3 326.3 L663.8 326.2 L663.3 326.2 L662.8 326.2 L662.3 326.1 L661.8 326.1 L661.3 326.1 L660.8 326.0 L660.3 326.0 L659.8 326.0 L659.3 325.9 L658.8 325.9 L658.3 325.8 L657.8 325.8 L657.3 325.7 L656.8 325.7 L656.3 325.6 L655.8 325.6 L655.3 325.5 L654.8 325.5 L654.3 325.4 L653.8 325.4 L653.3 325.3 L652.8 325.3 L652.3 325.2 L651.8 325.2 L651.3 325.1 L650.8 325.1 L650.3 325.0 L649.8 325.0 L649.3 324.9 L648.8 324.9 L648.3 324.8 L647.8 324.8 L647.3 324.7 L646.8 324.7 L646.3 324.6 L645.8 324.6 L645.3 324.5 L644.8 324.5 L644.3 324.4 L643.8 324.4 L643.3 324.3 L642.8 324.3 L642.3 324.2 L641.8 324.2 L641.3 324.1 L640.8 324.1 L640.3 324.0 L639.8 324.0 L639.3 323.9 L638.8 323.9 L638.3 323.8 L637.8 323.8 L637.3 323.7 L636.8 323.7 L636.3 323.6 L635.8 323.6 L635.3 323.5 L634.8 323.5 L634.3 323.4 L633.8 323.4 L633.3 323.3 L632.8 323.3 L632.3 323.2 L631.8 323.2 L631.3 323.1 L630.8 323.1 L630.3 323.0 L629.8 323.0 L629.3 322.9 L628.8 322.9 L628.3 322.8 L627.8 322.8 L627.3 322.7 L626.8 322.7 L626.3 322.6 L625.8 322.6 L625.3 322.5 L624.8 322.5 L624.3 322.4 L623.8 322.4 L623.3 322.3 L622.8 322.3 L622.3 322.2 L621.8 322.2 L621.3 322.1 L620.8 322.1 L620.3 322.0 L619.8 322.0 L619.3 321.9 L618.8 321.9 L618.3 321.8 L617.8 321.8 L617.3 321.7 L616.8 321.7 L616.3 321.6 L615.8 321.6 L615.3 321.5 L614.8 321.5 L614.3 321.4 Z" fill="url(#gc)" stroke="none"/>
<path d="M614.3 321.2l.5 .1 .5 0 .5 0 .5-.1 .5 0 .5 0 .5-.1 .5-.1 .5-.1 .5-.1 .5-.1 .5-.2 .5-.2 .5-.3 .5-.2 .5-.3 .5-.4 .5-.4 .5-.4 .5-.6 .5-.5 .5-.6 .5-.7 .5-.7 .5-.8 .5-.8 .5-.9 .5-1 .5-1 .5-1 .5-1.1 .5-1.1 .5-1.2 .5-1.1 .5-1.2 .5-1.2 .5-1.2 .5-1.2 .5-1.2 .5-1.1 .5-1 .5-1.1 .5-.9 .5-.9 .5-.7 .5-.7 .5-.6 .5-.5 .5-.3 .5-.2 .5-.1 .5 0 .5 .2 .5 .3 .5 .4 .5 .5 .5 .7 .5 .8 .5 .8 .5 1 .5 1 .5 1.1 .5 1.1 .5 1.3 .5 1.2 .5 1.3 .5 1.3 .5 1.3 .5 1.3 .5 1.2 .5 1.3 .5 1.2 .5 1.2 .5 1.2 .5 1.1 .5 1 .5 1 .5 1 .5 .9 .5 .8 .5 .8 .5 .7 .5 .7 .5 .6 .5 .6 .5 .5 .5 .4 .5 .5 .5 .3 .5 .4 .5 .3 .5 .3 .5 .2 .5 .2 .5 .2 .5 .1 .5 .2 .5 .1 .5 .1 .5 .1 .5 .1 .5 .1 .5 .1 .5 0" fill="none" stroke="#1ea8c0" stroke-width="1.1"/>
<path d="M544.8 318.9l.5 0 .5 0 .5 0 .5 0 .5 0 .5 0 .5 0 .5 0 .5 0 .5 0 .5 0 .5 0 .5 0 .5 0 .5 0 .5 0 .5 0 .5 0 .5 0 .5 0 .5 0 .5 0 .5 0 .5 0 .5 0 .5 0 .5 0 .5 0 .5 0 .5 0 .5 0 .5 0 .5 0 .5 0 .5 0 .5 0 .5 0 .5 0 .5 0 .5 0 .5 0 .5 0 .5 0 .5 0 .5 0 .5 0 .5 0 .5 0 .5 0 .5 0 .5 0 .5 0 .5 0 .5 0 .5 0 .5 0 .5 0 .5 0 .5 .1 .5 0 .5 0 .5 0 .5 0 .5 .1 .5 0 .5 0 .5 0 .5 0 .5 .1 .5 0 .5 0 .5 0 .5 0 .5 .1 .5 0 .5 0 .5 0 .5 0 .5 .1 .5 0 .5 0 .5 0 .5 0 .5 .1 .5 0 .5 0 .5 0 .5 0 .5 .1 .5 0 .5 0 .5 0 .5 0 .5 .1 .5 0 .5 0 .5 0 .5 0 .5 .1 .5 0 .5 0 .5 0 .5 0 .5 .1 .5 0 .5 0 .5 0 .5 .1 .5 0 .5 0 .5 0 .5 .1 .5 0 .5 .1 .5 0 .5 .1 .5 0 .5 .1 .5 0 .5 .1 .5 0 .5 .1 .5 0 .5 .1 .5 0 .5 .1 .5 0 .5 .1 .5 0 .5 .1 .5 0 .5 .1 .5 0 .5 .1 .5 0 .5 .1 .5 0 .5 .1 .5 0 .5 .1 .5 0 .5 .1 .5 0 .5 .1 .5 0 .5 .1 .5 0 .5 .1 .5 0 .5 .1 .5 0 .5 .1 .5 0 .5 .1 .5 0 .5 .1 .5 0 .5 .1 .5 0 .5 .1 .5 0 .5 .1 .5 0 .5 .1 .5 0 .5 .1 .5 0 .5 .1 .5 0 .5 .1 .5 0 .5 .1 .5 0 .5 .1 .5 0 .5 .1 .5 0 .5 .1 .5 0 .5 .1 .5 0 .5 .1 .5 0 .5 .1 .5 0 .5 .1 .5 0 .5 .1 .5 0 .5 .1 .5 0 .5 .1 .5 0 .5 .1 .5 0 .5 .1 .5 0 .5 .1 .5 0 .5 .1 .5 0 .5 .1 .5 0 .5 .1 .5 0 .5 .1 .5 0 .5 .1 .5 0 .5 .1 .5 0 .5 .1 .5 0 .5 .1 .5 0 .5 .1 .5 0 .5 .1 .5 0 .5 .1 .5 0 .5 .1 .5 0 .5 .1 .5 0 .5 .1 .5 0 .5 .1 .5 0 .5 .1 .5 0 .5 0 .5 .1 .5 0 .5 0 .5 .1 .5 0 .5 0 .5 .1 .5 0 .5 0 .5 0 .5 .1 .5 0 .5 0 .5 .1 .5 0 .5 0 .5 .1 .5 0 .5 0 .5 0 .5 .1 .5 0 .5 0 .5 .1 .5 0 .5 0 .5 0 .5 .1 .5 0 .5 0 .5 .1 .5 0 .5 0 .5 .1 .5 0 .5 0 .5 0 .5 .1" fill="none" stroke="#111" stroke-width="1.1"/>
<path d="M544.8 318.9l.5 0 .5 0 .5 0 .5 0 .5 0 .5 0 .5 0 .5 0 .5 0 .5 0 .5 0 .5 0 .5 0 .5 0 .5 0 .5 0 .5 0 .5 0 .5 0 .5 0 .5 0 .5 0 .5 0 .5 0 .5 0 .5 0 .5 0 .5 0 .5 0 .5 0 .5 0 .5 0 .5 0 .5 0 .5 0 .5 0 .5 0 .5 0 .5 0 .5 0 .5 0 .5 0 .5 0 .5 0 .5 0 .5 0 .5 0 .5-.1 .5 0 .5 0 .5 0 .5 0 .5-.1 .5 0 .5 0 .5-.1 .5 0 .5 0 .5-.1 .5 0 .5-.1 .5-.1 .5-.1 .5-.1 .5-.7 .5-.1 .5-.1 .5-.2 .5-.2 .5-.1 .5-.2 .5-.2 .5-.2 .5-.2 .5-.2 .5-.2 .5-.3 .5-.2 .5-.2 .5-.2 .5-.2 .5-.3 .5-.3 .5-.2 .5-.3 .5-.2 .5-.3 .5-.2 .5-.3 .5-.2 .5-.3 .5-.2 .5-.3 .5-.2 .5-.3 .5-.2 .5-.3 .5-.2 .5-.3 .5-.2 .5-.3 .5-.2 .5-.3 .5-.2 .5-.2 .5-.3 .5-.2 .5-.2 .5-.2 .5-.3 .5-.2 .5-.2 .5-.3 .5-.2 .5-.3 .5-.3 .5-.3 .5-.4 .5-.3 .5-.5 .5-.7 .5-.7 .5-.6 .5-.5 .5-.5 .5-.5 .5-.4 .5-.3 .5-.2 .5-.3 .5-.4 .5-.5 .5-.4 .5-.3 .5-.3 .5-.3 .5-.2 .5-.2 .5-.2 .5-.1 .5-.1 .5-.1 .5 0 .5-.1 .5 0 .5 0 .5 0 .5 0 .5 0 .5 0 .5-.1 .5 0 .5-.1 .5-.2 .5-.1 .5-.2 .5-.2 .5-.3 .5-.3 .5-.3 .5-.4 .5-.5 .5-.5 .5-.5 .5-.6 .5-.7 .5-.6 .5-.7 .5-.7 .5-.7 .5-.7 .5-.7 .5-.6 .5-.6 .5-.5 .5-.5 .5-.4 .5-.3 .5-.3 .5-.3 .5-.1 .5-.2 .5-.1 .5 0 .5 0 .5 0 .5 0 .5 .1 .5 .1 .5 .2 .5 .2 .5 .3 .5 .3 .5 .4 .5 .5 .5 .5 .5 .7 .5 .7 .5 .9 .5 .9 .5 1 .5 1.1 .5 1.2 .5 1.2 .5 1.2 .5 1.3 .5 1.2 .5 1.2 .5 1.2 .5 1.2 .5 1.1 .5 1 .5 1 .5 1 .5 .9 .5 .9 .5 .9 .5 .8 .5 .9 .5 .8 .5 .9 .5 .8 .5 .9 .5 .9 .5 .9 .5 .8 .5 .9 .5 .8 .5 .8 .5 .7 .5 .7 .5 .7 .5 .6 .5 .6 .5 .5 .5 .4 .5 .5 .5 .4 .5 .4 .5 .3 .5 .3 .5 .3 .5 .3 .5 .3 .5 .3 .5 .2 .5 .2 .5 .2 .5 .2 .5 .2 .5 .1 .5 .2 .5 .1 .5 .1 .5 0 .5 .1 .5 0 .5 0 .5 0 .5 .1 .5 0 .5 0 .5 .1 .5 0 .5 0 .5 .1 .5 0 .5 0 .5 0 .5 .1" fill="none" stroke="#000" stroke-width="1.6" stroke-linejoin="round"/>
<g fill="#c2c2c2"><rect x="637.7" y="311.3" width="2.4" height="2.4"/><rect x="632.3" y="340.9" width="2.4" height="2.4"/><rect x="640.7" y="348.1" width="2.4" height="2.4"/><rect x="592.0" y="367.3" width="2.4" height="2.4"/><rect x="585.7" y="369.4" width="2.4" height="2.4"/><rect x="636.3" y="340.9" width="2.4" height="2.4"/><rect x="617.6" y="348.1" width="2.4" height="2.4"/><rect x="547.5" y="381.7" width="2.4" height="2.4"/><rect x="670.3" y="375.9" width="2.4" height="2.4"/><rect x="611.7" y="368.0" width="2.4" height="2.4"/><rect x="644.5" y="339.0" width="2.4" height="2.4"/><rect x="562.4" y="367.6" width="2.4" height="2.4"/><rect x="655.3" y="352.7" width="2.4" height="2.4"/><rect x="596.5" y="376.3" width="2.4" height="2.4"/><rect x="589.7" y="368.7" width="2.4" height="2.4"/><rect x="586.7" y="345.9" width="2.4" height="2.4"/><rect x="591.7" y="359.8" width="2.4" height="2.4"/><rect x="669.5" y="381.0" width="2.4" height="2.4"/><rect x="652.2" y="351.0" width="2.4" height="2.4"/><rect x="640.9" y="381.9" width="2.4" height="2.4"/><rect x="581.6" y="313.6" width="2.4" height="2.4"/><rect x="640.2" y="346.0" width="2.4" height="2.4"/><rect x="640.3" y="346.7" width="2.4" height="2.4"/><rect x="634.8" y="340.5" width="2.4" height="2.4"/><rect x="566.8" y="354.1" width="2.4" height="2.4"/><rect x="554.5" y="365.1" width="2.4" height="2.4"/><rect x="645.1" y="377.8" width="2.4" height="2.4"/><rect x="669.7" y="380.4" width="2.4" height="2.4"/><rect x="638.3" y="327.7" width="2.4" height="2.4"/><rect x="585.6" y="362.8" width="2.4" height="2.4"/><rect x="604.4" y="354.1" width="2.4" height="2.4"/><rect x="620.2" y="347.2" width="2.4" height="2.4"/><rect x="565.2" y="360.4" width="2.4" height="2.4"/><rect x="612.3" y="343.5" width="2.4" height="2.4"/><rect x="665.9" y="410.8" width="2.4" height="2.4"/><rect x="647.6" y="350.2" width="2.4" height="2.4"/><rect x="562.5" y="371.9" width="2.4" height="2.4"/><rect x="567.0" y="391.0" width="2.4" height="2.4"/><rect x="622.5" y="351.9" width="2.4" height="2.4"/><rect x="637.7" y="343.9" width="2.4" height="2.4"/><rect x="645.7" y="346.3" width="2.4" height="2.4"/><rect x="673.1" y="372.0" width="2.4" height="2.4"/><rect x="548.2" y="371.1" width="2.4" height="2.4"/><rect x="668.2" y="389.4" width="2.4" height="2.4"/><rect x="646.4" y="350.1" width="2.4" height="2.4"/><rect x="548.5" y="387.6" width="2.4" height="2.4"/><rect x="642.9" y="342.3" width="2.4" height="2.4"/><rect x="672.0" y="378.7" width="2.4" height="2.4"/><rect x="634.4" y="336.9" width="2.4" height="2.4"/><rect x="595.8" y="358.9" width="2.4" height="2.4"/><rect x="582.0" y="362.2" width="2.4" height="2.4"/><rect x="594.4" y="378.0" width="2.4" height="2.4"/><rect x="611.0" y="350.9" width="2.4" height="2.4"/><rect x="661.2" y="374.3" width="2.4" height="2.4"/><rect x="582.5" y="373.9" width="2.4" height="2.4"/><rect x="630.3" y="346.7" width="2.4" height="2.4"/><rect x="607.7" y="355.4" width="2.4" height="2.4"/><rect x="581.8" y="377.2" width="2.4" height="2.4"/><rect x="597.3" y="374.8" width="2.4" height="2.4"/><rect x="669.9" y="376.8" width="2.4" height="2.4"/><rect x="573.6" y="368.0" width="2.4" height="2.4"/><rect x="644.7" y="340.6" width="2.4" height="2.4"/><rect x="568.4" y="356.9" width="2.4" height="2.4"/><rect x="592.8" y="372.0" width="2.4" height="2.4"/><rect x="569.4" y="362.6" width="2.4" height="2.4"/><rect x="677.4" y="376.6" width="2.4" height="2.4"/><rect x="644.0" y="340.5" width="2.4" height="2.4"/><rect x="595.8" y="388.6" width="2.4" height="2.4"/><rect x="598.2" y="366.8" width="2.4" height="2.4"/><rect x="584.0" y="368.6" width="2.4" height="2.4"/></g>
<path d="M586.8 370.6l.5 0 .5 0 .5 0 .5 0 .5 0 .5-.1 .5 0 .5-.1 .5 0 .5-.1 .5-.1 .5-.1 .5-.1 .5-.2 .5-.2 .5-.1 .5-.2 .5-.3 .5-.2 .5-.3 .5-.3 .5-.3 .5-.4 .5-.4 .5-.4 .5-.4 .5-.4 .5-.5 .5-.5 .5-.5 .5-.5 .5-.6 .5-.5 .5-.6 .5-.5 .5-.6 .5-.6 .5-.5 .5-.6 .5-.5 .5-.5 .5-.5 .5-.4 .5-.4 .5-.4 .5-.3 .5-.3 .5-.2 .5-.2 .5-.1 .5-.1 .5 0 .5 0 .5 .2 .5 .1 .5 .3 .5 .2 .5 .4 .5 .4 .5 .4 .5 .5 .5 .5 .5 .5 .5 .6 .5 .6 .5 .6 .5 .6 .5 .7 .5 .7 .5 .6 .5 .7 .5 .6 .5 .7 .5 .6 .5 .6 .5 .6 .5 .6 .5 .6 .5 .5 .5 .5 .5 .5 .5 .4 .5 .5 .5 .4 .5 .3 .5 .4 .5 .3 .5 .3 .5 .3 .5 .2 .5 .3 .5 .2 .5 .2 .5 .2 .5 .2 .5 .1 .5 .2 .5 .1 .5 .2 .5 .1 .5 .1 .5 .1 .5 .1 .5 .1 L638.8 375.4 L638.3 375.3 L637.8 375.2 L637.3 375.2 L636.8 375.1 L636.3 375.0 L635.8 375.0 L635.3 374.9 L634.8 374.9 L634.3 374.8 L633.8 374.7 L633.3 374.7 L632.8 374.6 L632.3 374.5 L631.8 374.5 L631.3 374.4 L630.8 374.4 L630.3 374.3 L629.8 374.2 L629.3 374.2 L628.8 374.1 L628.3 374.0 L627.8 374.0 L627.3 373.9 L626.8 373.9 L626.3 373.8 L625.8 373.7 L625.3 373.7 L624.8 373.6 L624.3 373.5 L623.8 373.5 L623.3 373.4 L622.8 373.4 L622.3 373.3 L621.8 373.2 L621.3 373.2 L620.8 373.1 L620.3 373.0 L619.8 373.0 L619.3 372.9 L618.8 372.9 L618.3 372.9 L617.8 372.8 L617.3 372.8 L616.8 372.8 L616.3 372.7 L615.8 372.7 L615.3 372.6 L614.8 372.6 L614.3 372.6 L613.8 372.5 L613.3 372.5 L612.8 372.5 L612.3 372.4 L611.8 372.4 L611.3 372.3 L610.8 372.3 L610.3 372.3 L609.8 372.2 L609.3 372.2 L608.8 372.2 L608.3 372.1 L607.8 372.1 L607.3 372.0 L606.8 372.0 L606.3 372.0 L605.8 371.9 L605.3 371.9 L604.8 371.9 L604.3 371.8 L603.8 371.8 L603.3 371.7 L602.8 371.7 L602.3 371.7 L601.8 371.6 L601.3 371.6 L600.8 371.6 L600.3 371.5 L599.8 371.5 L599.3 371.5 L598.8 371.4 L598.3 371.4 L597.8 371.4 L597.3 371.4 L596.8 371.3 L596.3 371.3 L595.8 371.3 L595.3 371.2 L594.8 371.2 L594.3 371.2 L593.8 371.2 L593.3 371.1 L592.8 371.1 L592.3 371.1 L591.8 371.1 L591.3 371.0 L590.8 371.0 L590.3 371.0 L589.8 371.0 L589.3 370.9 L588.8 370.9 L588.3 370.9 L587.8 370.8 L587.3 370.8 L586.8 370.8 Z" fill="url(#gy)" stroke="none"/>
<path d="M586.8 370.6l.5 0 .5 0 .5 0 .5 0 .5 0 .5-.1 .5 0 .5-.1 .5 0 .5-.1 .5-.1 .5-.1 .5-.1 .5-.2 .5-.2 .5-.1 .5-.2 .5-.3 .5-.2 .5-.3 .5-.3 .5-.3 .5-.4 .5-.4 .5-.4 .5-.4 .5-.4 .5-.5 .5-.5 .5-.5 .5-.5 .5-.6 .5-.5 .5-.6 .5-.5 .5-.6 .5-.6 .5-.5 .5-.6 .5-.5 .5-.5 .5-.5 .5-.4 .5-.4 .5-.4 .5-.3 .5-.3 .5-.2 .5-.2 .5-.1 .5-.1 .5 0 .5 0 .5 .2 .5 .1 .5 .3 .5 .2 .5 .4 .5 .4 .5 .4 .5 .5 .5 .5 .5 .5 .5 .6 .5 .6 .5 .6 .5 .6 .5 .7 .5 .7 .5 .6 .5 .7 .5 .6 .5 .7 .5 .6 .5 .6 .5 .6 .5 .6 .5 .6 .5 .5 .5 .5 .5 .5 .5 .4 .5 .5 .5 .4 .5 .3 .5 .4 .5 .3 .5 .3 .5 .3 .5 .2 .5 .3 .5 .2 .5 .2 .5 .2 .5 .2 .5 .1 .5 .2 .5 .1 .5 .2 .5 .1 .5 .1 .5 .1 .5 .1 .5 .1" fill="none" stroke="#cfc832" stroke-width="1.1"/>
<path d="M609.8 372.1l.5-.1 .5 0 .5 0 .5 0 .5-.1 .5 0 .5-.1 .5-.1 .5-.1 .5-.1 .5-.2 .5-.2 .5-.2 .5-.3 .5-.3 .5-.3 .5-.4 .5-.4 .5-.4 .5-.5 .5-.5 .5-.6 .5-.6 .5-.6 .5-.7 .5-.7 .5-.7 .5-.8 .5-.8 .5-.8 .5-.8 .5-.9 .5-.8 .5-.8 .5-.8 .5-.7 .5-.8 .5-.6 .5-.6 .5-.6 .5-.5 .5-.3 .5-.4 .5-.2 .5-.1 .5 0 .5 .1 .5 .1 .5 .3 .5 .4 .5 .4 .5 .5 .5 .6 .5 .7 .5 .8 .5 .8 .5 .8 .5 .9 .5 .9 .5 1 .5 .9 .5 1 .5 .9 .5 .9 .5 .9 .5 .9 .5 .9 .5 .8 .5 .8 .5 .7 .5 .7 .5 .6 .5 .7 .5 .5 .5 .6 .5 .4 .5 .5 .5 .4 .5 .4 .5 .3 .5 .3 .5 .3 .5 .2 .5 .2 .5 .2 .5 .2 .5 .2 .5 .1 .5 .1 .5 .2 .5 .1 .5 .1 .5 .1 L656.3 377.1 L655.8 377.1 L655.3 377.0 L654.8 377.0 L654.3 376.9 L653.8 376.9 L653.3 376.8 L652.8 376.8 L652.3 376.7 L651.8 376.7 L651.3 376.6 L650.8 376.6 L650.3 376.5 L649.8 376.5 L649.3 376.4 L648.8 376.4 L648.3 376.3 L647.8 376.3 L647.3 376.2 L646.8 376.2 L646.3 376.1 L645.8 376.1 L645.3 376.0 L644.8 376.0 L644.3 375.9 L643.8 375.9 L643.3 375.8 L642.8 375.8 L642.3 375.7 L641.8 375.7 L641.3 375.6 L640.8 375.6 L640.3 375.5 L639.8 375.5 L639.3 375.4 L638.8 375.4 L638.3 375.3 L637.8 375.2 L637.3 375.2 L636.8 375.1 L636.3 375.0 L635.8 375.0 L635.3 374.9 L634.8 374.9 L634.3 374.8 L633.8 374.7 L633.3 374.7 L632.8 374.6 L632.3 374.5 L631.8 374.5 L631.3 374.4 L630.8 374.4 L630.3 374.3 L629.8 374.2 L629.3 374.2 L628.8 374.1 L628.3 374.0 L627.8 374.0 L627.3 373.9 L626.8 373.9 L626.3 373.8 L625.8 373.7 L625.3 373.7 L624.8 373.6 L624.3 373.5 L623.8 373.5 L623.3 373.4 L622.8 373.4 L622.3 373.3 L621.8 373.2 L621.3 373.2 L620.8 373.1 L620.3 373.0 L619.8 373.0 L619.3 372.9 L618.8 372.9 L618.3 372.9 L617.8 372.8 L617.3 372.8 L616.8 372.8 L616.3 372.7 L615.8 372.7 L615.3 372.6 L614.8 372.6 L614.3 372.6 L613.8 372.5 L613.3 372.5 L612.8 372.5 L612.3 372.4 L611.8 372.4 L611.3 372.3 L610.8 372.3 L610.3 372.3 L609.8 372.2 Z" fill="url(#gb)" stroke="none"/>
<path d="M609.8 372.1l.5-.1 .5 0 .5 0 .5 0 .5-.1 .5 0 .5-.1 .5-.1 .5-.1 .5-.1 .5-.2 .5-.2 .5-.2 .5-.3 .5-.3 .5-.3 .5-.4 .5-.4 .5-.4 .5-.5 .5-.5 .5-.6 .5-.6 .5-.6 .5-.7 .5-.7 .5-.7 .5-.8 .5-.8 .5-.8 .5-.8 .5-.9 .5-.8 .5-.8 .5-.8 .5-.7 .5-.8 .5-.6 .5-.6 .5-.6 .5-.5 .5-.3 .5-.4 .5-.2 .5-.1 .5 0 .5 .1 .5 .1 .5 .3 .5 .4 .5 .4 .5 .5 .5 .6 .5 .7 .5 .8 .5 .8 .5 .8 .5 .9 .5 .9 .5 1 .5 .9 .5 1 .5 .9 .5 .9 .5 .9 .5 .9 .5 .9 .5 .8 .5 .8 .5 .7 .5 .7 .5 .6 .5 .7 .5 .5 .5 .6 .5 .4 .5 .5 .5 .4 .5 .4 .5 .3 .5 .3 .5 .3 .5 .2 .5 .2 .5 .2 .5 .2 .5 .2 .5 .1 .5 .1 .5 .2 .5 .1 .5 .1 .5 .1" fill="none" stroke="#3a4ab0" stroke-width="1.1"/>
<path d="M624.3 373.4l.5 0 .5 0 .5 .1 .5 0 .5 0 .5 0 .5-.1 .5 0 .5-.1 .5 0 .5-.1 .5-.1 .5-.1 .5-.2 .5-.2 .5-.2 .5-.2 .5-.3 .5-.3 .5-.3 .5-.4 .5-.4 .5-.5 .5-.5 .5-.5 .5-.5 .5-.6 .5-.7 .5-.6 .5-.7 .5-.7 .5-.7 .5-.8 .5-.8 .5-.7 .5-.8 .5-.7 .5-.8 .5-.7 .5-.6 .5-.7 .5-.6 .5-.5 .5-.5 .5-.4 .5-.3 .5-.3 .5-.2 .5-.1 .5 0 .5 0 .5 .2 .5 .2 .5 .3 .5 .4 .5 .5 .5 .5 .5 .6 .5 .6 .5 .7 .5 .8 .5 .7 .5 .8 .5 .9 .5 .8 .5 .9 .5 .9 .5 .8 .5 .9 .5 .8 .5 .8 .5 .8 .5 .8 .5 .7 .5 .7 .5 .6 .5 .6 .5 .6 .5 .6 .5 .5 .5 .4 .5 .5 .5 .4 .5 .3 .5 .4 .5 .3 .5 .3 .5 .2 .5 .2 .5 .2 .5 .2 .5 .2 .5 .1 .5 .2 .5 .1 .5 .1 .5 .1 .5 .1 .5 .1 .5 .1 L674.3 378.6 L673.8 378.6 L673.3 378.6 L672.8 378.5 L672.3 378.5 L671.8 378.4 L671.3 378.4 L670.8 378.4 L670.3 378.3 L669.8 378.3 L669.3 378.2 L668.8 378.2 L668.3 378.2 L667.8 378.1 L667.3 378.1 L666.8 378.0 L666.3 378.0 L665.8 378.0 L665.3 377.9 L664.8 377.9 L664.3 377.8 L663.8 377.8 L663.3 377.8 L662.8 377.7 L662.3 377.7 L661.8 377.6 L661.3 377.6 L660.8 377.6 L660.3 377.5 L659.8 377.5 L659.3 377.4 L658.8 377.4 L658.3 377.3 L657.8 377.3 L657.3 377.2 L656.8 377.2 L656.3 377.1 L655.8 377.1 L655.3 377.0 L654.8 377.0 L654.3 376.9 L653.8 376.9 L653.3 376.8 L652.8 376.8 L652.3 376.7 L651.8 376.7 L651.3 376.6 L650.8 376.6 L650.3 376.5 L649.8 376.5 L649.3 376.4 L648.8 376.4 L648.3 376.3 L647.8 376.3 L647.3 376.2 L646.8 376.2 L646.3 376.1 L645.8 376.1 L645.3 376.0 L644.8 376.0 L644.3 375.9 L643.8 375.9 L643.3 375.8 L642.8 375.8 L642.3 375.7 L641.8 375.7 L641.3 375.6 L640.8 375.6 L640.3 375.5 L639.8 375.5 L639.3 375.4 L638.8 375.4 L638.3 375.3 L637.8 375.2 L637.3 375.2 L636.8 375.1 L636.3 375.0 L635.8 375.0 L635.3 374.9 L634.8 374.9 L634.3 374.8 L633.8 374.7 L633.3 374.7 L632.8 374.6 L632.3 374.5 L631.8 374.5 L631.3 374.4 L630.8 374.4 L630.3 374.3 L629.8 374.2 L629.3 374.2 L628.8 374.1 L628.3 374.0 L627.8 374.0 L627.3 373.9 L626.8 373.9 L626.3 373.8 L625.8 373.7 L625.3 373.7 L624.8 373.6 L624.3 373.5 Z" fill="url(#gc)" stroke="none"/>
<path d="M624.3 373.4l.5 0 .5 0 .5 .1 .5 0 .5 0 .5 0 .5-.1 .5 0 .5-.1 .5 0 .5-.1 .5-.1 .5-.1 .5-.2 .5-.2 .5-.2 .5-.2 .5-.3 .5-.3 .5-.3 .5-.4 .5-.4 .5-.5 .5-.5 .5-.5 .5-.5 .5-.6 .5-.7 .5-.6 .5-.7 .5-.7 .5-.7 .5-.8 .5-.8 .5-.7 .5-.8 .5-.7 .5-.8 .5-.7 .5-.6 .5-.7 .5-.6 .5-.5 .5-.5 .5-.4 .5-.3 .5-.3 .5-.2 .5-.1 .5 0 .5 0 .5 .2 .5 .2 .5 .3 .5 .4 .5 .5 .5 .5 .5 .6 .5 .6 .5 .7 .5 .8 .5 .7 .5 .8 .5 .9 .5 .8 .5 .9 .5 .9 .5 .8 .5 .9 .5 .8 .5 .8 .5 .8 .5 .8 .5 .7 .5 .7 .5 .6 .5 .6 .5 .6 .5 .6 .5 .5 .5 .4 .5 .5 .5 .4 .5 .3 .5 .4 .5 .3 .5 .3 .5 .2 .5 .2 .5 .2 .5 .2 .5 .2 .5 .1 .5 .2 .5 .1 .5 .1 .5 .1 .5 .1 .5 .1 .5 .1" fill="none" stroke="#1ea8c0" stroke-width="1.1"/>
<path d="M544.8 370.8l.5 0 .5 0 .5 0 .5 0 .5 0 .5 0 .5 0 .5 0 .5 0 .5 0 .5 0 .5 0 .5 0 .5 0 .5 0 .5 0 .5 0 .5 0 .5 0 .5 0 .5 0 .5 0 .5 0 .5 0 .5 0 .5 0 .5 0 .5 0 .5 0 .5 0 .5 0 .5 0 .5 0 .5 0 .5 0 .5 0 .5 0 .5 0 .5 0 .5 0 .5 0 .5 0 .5 0 .5 0 .5 0 .5 0 .5 0 .5 0 .5 0 .5 0 .5 0 .5 0 .5 0 .5 0 .5 0 .5 0 .5 0 .5 0 .5 0 .5 0 .5 0 .5 0 .5 0 .5 0 .5 0 .5 0 .5 0 .5 0 .5 0 .5 0 .5 0 .5 0 .5 0 .5 0 .5 0 .5 0 .5 0 .5 0 .5 0 .5 0 .5 0 .5 0 .5 0 .5 0 .5 0 .5 0 .5 .1 .5 0 .5 0 .5 .1 .5 0 .5 0 .5 0 .5 .1 .5 0 .5 0 .5 0 .5 .1 .5 0 .5 0 .5 0 .5 .1 .5 0 .5 0 .5 .1 .5 0 .5 0 .5 0 .5 .1 .5 0 .5 0 .5 .1 .5 0 .5 0 .5 .1 .5 0 .5 0 .5 .1 .5 0 .5 .1 .5 0 .5 0 .5 .1 .5 0 .5 0 .5 .1 .5 0 .5 .1 .5 0 .5 0 .5 .1 .5 0 .5 0 .5 .1 .5 0 .5 .1 .5 0 .5 0 .5 .1 .5 0 .5 0 .5 .1 .5 0 .5 .1 .5 0 .5 0 .5 .1 .5 0 .5 0 .5 .1 .5 0 .5 .1 .5 .1 .5 0 .5 .1 .5 .1 .5 0 .5 .1 .5 0 .5 .1 .5 .1 .5 0 .5 .1 .5 0 .5 .1 .5 .1 .5 0 .5 .1 .5 .1 .5 0 .5 .1 .5 .1 .5 0 .5 .1 .5 0 .5 .1 .5 .1 .5 0 .5 .1 .5 0 .5 .1 .5 .1 .5 0 .5 .1 .5 .1 .5 0 .5 .1 .5 .1 .5 0 .5 .1 .5 0 .5 .1 .5 0 .5 .1 .5 0 .5 .1 .5 0 .5 .1 .5 0 .5 .1 .5 0 .5 .1 .5 0 .5 .1 .5 0 .5 .1 .5 0 .5 .1 .5 0 .5 .1 .5 0 .5 .1 .5 0 .5 .1 .5 0 .5 .1 .5 0 .5 .1 .5 0 .5 .1 .5 0 .5 .1 .5 0 .5 .1 .5 0 .5 .1 .5 0 .5 .1 .5 0 .5 .1 .5 0 .5 .1 .5 0 .5 0 .5 .1 .5 0 .5 .1 .5 0 .5 0 .5 .1 .5 0 .5 .1 .5 0 .5 0 .5 .1 .5 0 .5 .1 .5 0 .5 0 .5 .1 .5 0 .5 .1 .5 0 .5 0 .5 .1 .5 0 .5 .1 .5 0 .5 0 .5 .1 .5 0 .5 .1 .5 0 .5 0 .5 .1 .5 0 .5 0 .5 .1 .5 0 .5 .1" fill="none" stroke="#111" stroke-width="1.1"/>
<path d="M544.8 370.8l.5 0 .5 0 .5 0 .5 0 .5 0 .5 0 .5 0 .5 0 .5 0 .5 0 .5 0 .5 0 .5 0 .5 0 .5 0 .5 0 .5 0 .5 0 .5 0 .5 0 .5 0 .5 0 .5 0 .5 0 .5 0 .5 0 .5 0 .5 0 .5 0 .5 0 .5 0 .5 0 .5 0 .5 0 .5 0 .5 0 .5 0 .5 0 .5 0 .5 0 .5 0 .5 0 .5 0 .5 0 .5 0 .5 0 .5 0 .5 0 .5 0 .5 0 .5 0 .5 0 .5 0 .5 0 .5 0 .5 0 .5 0 .5 0 .5 0 .5 0 .5 0 .5 0 .5 0 .5 0 .5 0 .5 0 .5 0 .5 0 .5 0 .5 0 .5 0 .5 0 .5 0 .5 0 .5 0 .5 0 .5 0 .5 0 .5-.1 .5 0 .5 0 .5 0 .5 0 .5-.1 .5 0 .5 0 .5-.1 .5-.1 .5-.2 .5-.2 .5-.2 .5-.2 .5-.2 .5-.3 .5-.3 .5-.3 .5-.3 .5-.3 .5-.3 .5-.4 .5-.3 .5-.3 .5-.4 .5-.3 .5-.4 .5-.3 .5-.4 .5-.4 .5-.4 .5-.5 .5-.4 .5-.5 .5-.5 .5-.6 .5-.6 .5-.6 .5-.6 .5-.6 .5-.6 .5-.6 .5-.7 .5-.6 .5-.5 .5-.6 .5-.6 .5-.5 .5-.4 .5-.5 .5-.4 .5-.4 .5-.3 .5-.3 .5-.3 .5-.2 .5-.2 .5-.2 .5-.1 .5-.2 .5-.1 .5-.1 .5-.1 .5-.1 .5-.1 .5-.1 .5-.1 .5-.2 .5-.1 .5-.2 .5-.2 .5-.1 .5-.2 .5-.2 .5-.2 .5-.1 .5-.2 .5-.2 .5-.1 .5-.2 .5-.1 .5-.2 .5-.2 .5-.1 .5-.2 .5-.2 .5-.2 .5-.2 .5-.2 .5-.3 .5-.3 .5-.2 .5-.3 .5-.3 .5-.3 .5-.3 .5-.3 .5-.3 .5-.2 .5-.3 .5-.2 .5-.2 .5-.1 .5-.2 .5-.1 .5 0 .5 0 .5 .1 .5 .1 .5 .1 .5 .2 .5 .2 .5 .2 .5 .2 .5 .3 .5 .3 .5 .3 .5 .2 .5 .3 .5 .3 .5 .3 .5 .3 .5 .3 .5 .3 .5 .3 .5 .4 .5 .3 .5 .4 .5 .4 .5 .5 .5 .5 .5 .5 .5 .6 .5 .6 .5 .7 .5 .7 .5 .6 .5 .8 .5 .7 .5 .7 .5 .8 .5 .7 .5 .8 .5 .7 .5 .8 .5 .7 .5 .8 .5 .7 .5 .8 .5 .8 .5 .7 .5 .8 .5 .8 .5 .8 .5 .8 .5 .8 .5 .8 .5 .8 .5 .8 .5 .7 .5 .7 .5 .6 .5 .7 .5 .5 .5 .5 .5 .5 .5 .4 .5 .4 .5 .3 .5 .3 .5 .3 .5 .2 .5 .2 .5 .2 .5 .1 .5 .2 .5 .1 .5 .2 .5 .1 .5 .1 .5 .2 .5 .1 .5 .2 .5 .1 .5 .1 .5 .2 .5 .1 .5 .1 .5 .2 .5 .1 .5 .1 .5 .1" fill="none" stroke="#000" stroke-width="1.6" stroke-linejoin="round"/>
</g>
<rect x="544.8" y="209.6" width="135.4000000000001" height="174.70000000000002" fill="none" stroke="#000" stroke-width="1.6"/>
<line x1="26.20" y1="384.30" x2="26.20" y2="387.60" stroke="#222" stroke-width="1.2"/>
<line x1="80.20" y1="384.30" x2="80.20" y2="387.60" stroke="#222" stroke-width="1.2"/>
<line x1="134.20" y1="384.30" x2="134.20" y2="387.60" stroke="#222" stroke-width="1.2"/>
<line x1="188.20" y1="384.30" x2="188.20" y2="387.60" stroke="#222" stroke-width="1.2"/>
<line x1="53.20" y1="384.30" x2="53.20" y2="386.30" stroke="#222" stroke-width="1.1"/>
<line x1="107.20" y1="384.30" x2="107.20" y2="386.30" stroke="#222" stroke-width="1.1"/>
<line x1="161.20" y1="384.30" x2="161.20" y2="386.30" stroke="#222" stroke-width="1.1"/>
<line x1="215.20" y1="384.30" x2="215.20" y2="386.30" stroke="#222" stroke-width="1.1"/>
<text x="26.2" y="398.8" font-size="10.2" fill="#222" text-anchor="middle">880</text>
<text x="80.2" y="398.8" font-size="10.2" fill="#222" text-anchor="middle">870</text>
<text x="134.2" y="398.8" font-size="10.2" fill="#222" text-anchor="middle">860</text>
<text x="188.2" y="398.8" font-size="10.2" fill="#222" text-anchor="middle">850</text>
<line x1="240.00" y1="384.30" x2="240.00" y2="387.60" stroke="#222" stroke-width="1.2"/>
<line x1="278.46" y1="384.30" x2="278.46" y2="387.60" stroke="#222" stroke-width="1.2"/>
<line x1="316.91" y1="384.30" x2="316.91" y2="387.60" stroke="#222" stroke-width="1.2"/>
<line x1="355.37" y1="384.30" x2="355.37" y2="387.60" stroke="#222" stroke-width="1.2"/>
<line x1="259.23" y1="384.30" x2="259.23" y2="386.30" stroke="#222" stroke-width="1.1"/>
<line x1="297.69" y1="384.30" x2="297.69" y2="386.30" stroke="#222" stroke-width="1.1"/>
<line x1="336.14" y1="384.30" x2="336.14" y2="386.30" stroke="#222" stroke-width="1.1"/>
<text x="240.0" y="398.8" font-size="10.2" fill="#222" text-anchor="middle">790</text>
<text x="278.5" y="398.8" font-size="10.2" fill="#222" text-anchor="middle">785</text>
<text x="316.9" y="398.8" font-size="10.2" fill="#222" text-anchor="middle">780</text>
<text x="355.4" y="398.8" font-size="10.2" fill="#222" text-anchor="middle">775</text>
<line x1="410.75" y1="384.30" x2="410.75" y2="387.60" stroke="#222" stroke-width="1.2"/>
<line x1="451.38" y1="384.30" x2="451.38" y2="387.60" stroke="#222" stroke-width="1.2"/>
<line x1="492.00" y1="384.30" x2="492.00" y2="387.60" stroke="#222" stroke-width="1.2"/>
<line x1="431.06" y1="384.30" x2="431.06" y2="386.30" stroke="#222" stroke-width="1.1"/>
<line x1="471.69" y1="384.30" x2="471.69" y2="386.30" stroke="#222" stroke-width="1.1"/>
<line x1="512.31" y1="384.30" x2="512.31" y2="386.30" stroke="#222" stroke-width="1.1"/>
<text x="410.8" y="398.8" font-size="10.2" fill="#222" text-anchor="middle">540</text>
<text x="451.4" y="398.8" font-size="10.2" fill="#222" text-anchor="middle">535</text>
<text x="492.0" y="398.8" font-size="10.2" fill="#222" text-anchor="middle">530</text>
<line x1="547.62" y1="384.30" x2="547.62" y2="387.60" stroke="#222" stroke-width="1.2"/>
<line x1="575.83" y1="384.30" x2="575.83" y2="387.60" stroke="#222" stroke-width="1.2"/>
<line x1="604.04" y1="384.30" x2="604.04" y2="387.60" stroke="#222" stroke-width="1.2"/>
<line x1="632.25" y1="384.30" x2="632.25" y2="387.60" stroke="#222" stroke-width="1.2"/>
<line x1="660.45" y1="384.30" x2="660.45" y2="387.60" stroke="#222" stroke-width="1.2"/>
<line x1="561.72" y1="384.30" x2="561.72" y2="386.30" stroke="#222" stroke-width="1.1"/>
<line x1="589.93" y1="384.30" x2="589.93" y2="386.30" stroke="#222" stroke-width="1.1"/>
<line x1="618.14" y1="384.30" x2="618.14" y2="386.30" stroke="#222" stroke-width="1.1"/>
<line x1="646.35" y1="384.30" x2="646.35" y2="386.30" stroke="#222" stroke-width="1.1"/>
<line x1="674.56" y1="384.30" x2="674.56" y2="386.30" stroke="#222" stroke-width="1.1"/>
<text x="547.6" y="398.8" font-size="10.2" fill="#222" text-anchor="middle">404</text>
<text x="575.8" y="398.8" font-size="10.2" fill="#222" text-anchor="middle">402</text>
<text x="604.0" y="398.8" font-size="10.2" fill="#222" text-anchor="middle">400</text>
<text x="632.2" y="398.8" font-size="10.2" fill="#222" text-anchor="middle">398</text>
<text x="660.5" y="398.8" font-size="10.2" fill="#222" text-anchor="middle">396</text>
<text x="120.7" y="416.3" font-size="10.7" font-weight="bold" fill="#111" text-anchor="middle">Binding energy (eV)</text>
<text x="307.3" y="416.3" font-size="10.7" font-weight="bold" fill="#111" text-anchor="middle">Binding energy (eV)</text>
<text x="459.5" y="416.3" font-size="10.7" font-weight="bold" fill="#111" text-anchor="middle">Binding energy (eV)</text>
<text x="612.5" y="416.3" font-size="10.7" font-weight="bold" fill="#111" text-anchor="middle">Binding energy (eV)</text>
<text x="17.7" y="300" font-size="10.85" font-weight="bold" fill="#111" text-anchor="middle" transform="rotate(-90 17.7 300)">Intensity (a.u.)</text>
<text x="229.4" y="300" font-size="10.85" font-weight="bold" fill="#111" text-anchor="middle" transform="rotate(-90 229.4 300)">Intensity (a.u.)</text>
<text x="386.9" y="300" font-size="10.85" font-weight="bold" fill="#111" text-anchor="middle" transform="rotate(-90 386.9 300)">Intensity (a.u.)</text>
<text x="537.3" y="300" font-size="10.85" font-weight="bold" fill="#111" text-anchor="middle" transform="rotate(-90 537.3 300)">Intensity (a.u.)</text>
<text x="36.7" y="230.2" font-size="10.1" font-weight="bold" fill="#111" text-anchor="start">Fresh</text>
<text x="125.6" y="245.2" font-size="10.2" font-weight="bold" fill="#c4c44c" text-anchor="start">Sat.</text>
<text x="36.4" y="285" font-size="10.1" font-weight="bold" fill="#1b8a1b" text-anchor="start">DRM&#160;&#160;2 h</text>
<text x="149.6" y="291.9" font-size="10.2" font-weight="bold" fill="#4454b0" text-anchor="start">Ni<tspan font-size="6.528" dy="-4.28">2+</tspan></text>
<text x="179.8" y="303.6" font-size="10.2" font-weight="bold" fill="#22a8c0" text-anchor="start">Ni<tspan font-size="6.528" dy="-4.28">0</tspan></text>
<text x="37.8" y="341.7" font-size="10.1" font-weight="bold" fill="#f4821f" text-anchor="start">PDRM&#160;&#160;2 h</text>
<path d="M184.6 227.3 L184.6 213.8 L211.0 213.8 L211.0 227.3" fill="none" stroke="#bbb" stroke-width="0.8"/>
<path d="M186.6 228.8 L213.0 228.8 L213.0 216.3" fill="none" stroke="#111" stroke-width="1.9"/>
<text x="186" y="224.4" font-size="10.4" font-weight="bold" fill="#111">Ni 2<tspan font-style="italic">p</tspan></text>
<text x="244.1" y="231.2" font-size="10.1" font-weight="bold" fill="#111" text-anchor="start">Fresh</text>
<text x="242.5" y="284.7" font-size="10.1" font-weight="bold" fill="#1b8a1b" text-anchor="start">DRM&#160;&#160;2h</text>
<text x="276.5" y="302.9" font-size="10.2" font-weight="bold" fill="#c4c44c" text-anchor="start">Co<tspan font-size="6.528" dy="-4.28">3+</tspan></text>
<text x="306.2" y="296.8" font-size="10.2" font-weight="bold" fill="#4454b0" text-anchor="start">Co<tspan font-size="6.528" dy="-4.28">2+</tspan></text>
<text x="343" y="306" font-size="10.2" font-weight="bold" fill="#22a8c0" text-anchor="start">Co<tspan font-size="6.528" dy="-4.28">0</tspan></text>
<text x="243.7" y="351.1" font-size="10.1" font-weight="bold" fill="#f4821f" text-anchor="start">PDRM&#160;&#160;2h</text>
<path d="M334.7 226.5 L334.7 214.8 L366.3 214.8 L366.3 226.5" fill="none" stroke="#bbb" stroke-width="0.8"/>
<path d="M336.7 228.0 L368.3 228.0 L368.3 217.3" fill="none" stroke="#111" stroke-width="1.9"/>
<text x="336.2" y="224.6" font-size="10.3" font-weight="bold" fill="#111">Co 2<tspan font-style="italic">p</tspan></text>
<text x="401.9" y="231.2" font-size="10.1" font-weight="bold" fill="#111" text-anchor="start">Fresh</text>
<text x="399.8" y="283.4" font-size="10.1" font-weight="bold" fill="#1b8a1b" text-anchor="start">DRM&#160;&#160;2 h</text>
<text x="440.1" y="293.6" font-size="8.4" font-weight="bold" fill="#c4c44c" text-anchor="start">O=C</text>
<text x="417.6" y="306.9" font-size="8.4" font-weight="bold" fill="#111" text-anchor="start">H<tspan font-size="6" dy="2.00">2</tspan><tspan dy="-2.00">O</tspan></text>
<text x="495.3" y="281.8" font-size="8.4" font-weight="bold" fill="#4454b0" text-anchor="start">O-C</text>
<text x="506.5" y="301.4" font-size="8.6" font-weight="bold" fill="#22a8c0" text-anchor="start">O<tspan font-size="6" dy="2.00">v</tspan></text>
<text x="398.2" y="350.2" font-size="10.1" font-weight="bold" fill="#f4821f" text-anchor="start">PDRM&#160;&#160;2 h</text>
<path d="M494.6 227.5 L494.6 215.2 L518.7 215.2 L518.7 227.5" fill="none" stroke="#bbb" stroke-width="0.8"/>
<path d="M496.6 229.0 L520.7 229.0 L520.7 217.7" fill="none" stroke="#111" stroke-width="1.9"/>
<text x="496.1" y="225.6" font-size="10.3" font-weight="bold" fill="#111">O 1<tspan font-style="italic">s</tspan></text>
<line x1="461.50" y1="303.80" x2="457.64" y2="298.17" stroke="#c8c030" stroke-width="1.1"/>
<path d="M455.6 295.2 L459.2 297.1 L456.1 299.2 Z" fill="#c8c030"/>
<line x1="439.00" y1="317.00" x2="434.84" y2="310.96" stroke="#111" stroke-width="1.1"/>
<path d="M432.8 308.0 L436.4 309.9 L433.3 312.0 Z" fill="#111"/>
<line x1="485.00" y1="292.60" x2="493.74" y2="285.31" stroke="#3a4ab0" stroke-width="1.1"/>
<path d="M496.5 283.0 L495.0 286.8 L492.5 283.8 Z" fill="#3a4ab0"/>
<line x1="494.20" y1="313.00" x2="502.94" y2="304.33" stroke="#1ea8c0" stroke-width="1.1"/>
<path d="M505.5 301.8 L504.3 305.7 L501.6 303.0 Z" fill="#1ea8c0"/>
<text x="552" y="230.7" font-size="10.1" font-weight="bold" fill="#111" text-anchor="start">Fresh</text>
<text x="549.3" y="272.9" font-size="10.1" font-weight="bold" fill="#1b8a1b" text-anchor="start">DRM&#160;&#160;2 h</text>
<text x="575" y="285.9" font-size="8.6" font-weight="bold" fill="#c4c44c" text-anchor="start">N-pyrro</text>
<text x="603" y="279.2" font-size="8.6" font-weight="bold" fill="#4454b0" text-anchor="start">N-pyrid</text>
<text x="644.3" y="284.8" font-size="8.6" font-weight="bold" fill="#22a8c0" text-anchor="start">N-metal</text>
<text x="553.5" y="297.4" font-size="8.6" font-weight="bold" fill="#111" text-anchor="start">N-Grap</text>
<text x="547.9" y="348.8" font-size="10.1" font-weight="bold" fill="#f4821f" text-anchor="start">PDRM&#160;&#160;2 h</text>
<path d="M651.6 227.6 L651.6 215 L674.1 215 L674.1 227.6" fill="none" stroke="#bbb" stroke-width="0.8"/>
<path d="M653.6 229.1 L676.1 229.1 L676.1 217.5" fill="none" stroke="#111" stroke-width="1.9"/>
<text x="652.8" y="226.1" font-size="10.3" font-weight="bold" fill="#111">N 1<tspan font-style="italic">s</tspan></text>
<line x1="586.90" y1="314.10" x2="582.98" y2="304.63" stroke="#111" stroke-width="1.1"/>
<path d="M581.6 301.3 L584.7 303.9 L581.2 305.4 Z" fill="#111"/>
<line x1="610.90" y1="306.80" x2="605.47" y2="292.37" stroke="#c8c030" stroke-width="1.1"/>
<path d="M604.2 289.0 L607.2 291.7 L603.7 293.0 Z" fill="#c8c030"/>
<line x1="625.50" y1="314.10" x2="622.40" y2="286.28" stroke="#3a4ab0" stroke-width="1.1"/>
<path d="M622.0 282.7 L624.3 286.1 L620.5 286.5 Z" fill="#3a4ab0"/>
</svg>
</body></html>
